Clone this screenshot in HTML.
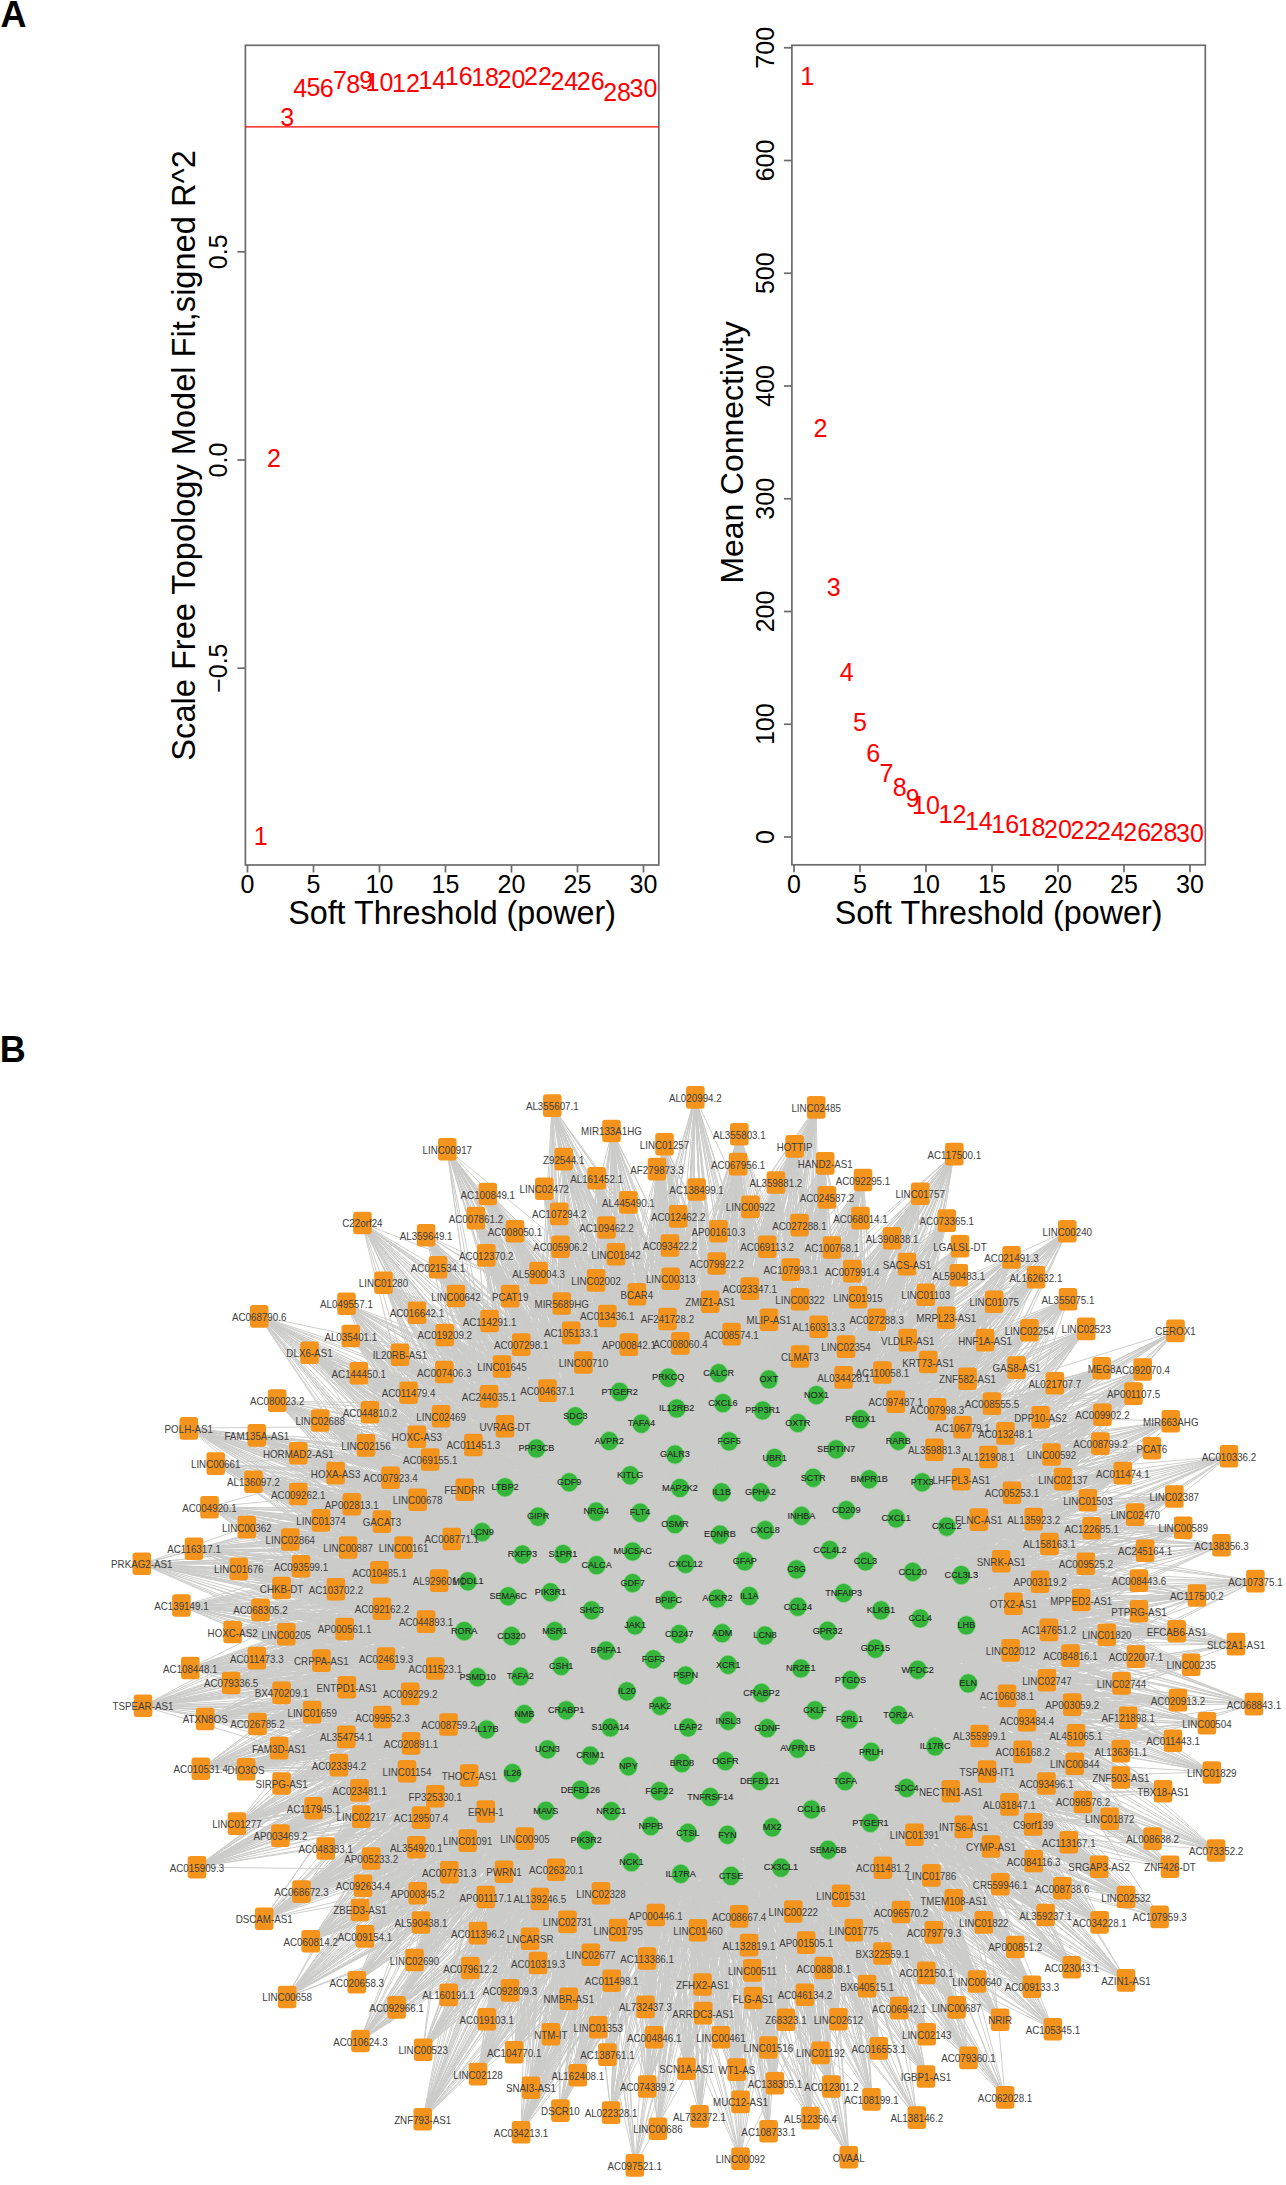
<!DOCTYPE html>
<html><head><meta charset="utf-8"><style>
html,body{margin:0;padding:0;background:#fff;}
body{width:1286px;height:2185px;overflow:hidden;position:relative;}
svg{position:absolute;left:0;top:0;font-family:"Liberation Sans",sans-serif;}
</style></head><body>
<svg width="1286" height="2185" viewBox="0 0 1286 2185">
<rect x="245.4" y="45.3" width="413.4" height="819.7" fill="none" stroke="#6b6b6b" stroke-width="1.7"/>
<line x1="247.5" y1="865.0" x2="247.5" y2="872.5" stroke="#6b6b6b" stroke-width="1.7"/>
<text x="247.5" y="893" font-size="25" text-anchor="middle">0</text>
<line x1="313.5" y1="865.0" x2="313.5" y2="872.5" stroke="#6b6b6b" stroke-width="1.7"/>
<text x="313.5" y="893" font-size="25" text-anchor="middle">5</text>
<line x1="379.5" y1="865.0" x2="379.5" y2="872.5" stroke="#6b6b6b" stroke-width="1.7"/>
<text x="379.5" y="893" font-size="25" text-anchor="middle">10</text>
<line x1="445.5" y1="865.0" x2="445.5" y2="872.5" stroke="#6b6b6b" stroke-width="1.7"/>
<text x="445.5" y="893" font-size="25" text-anchor="middle">15</text>
<line x1="511.5" y1="865.0" x2="511.5" y2="872.5" stroke="#6b6b6b" stroke-width="1.7"/>
<text x="511.5" y="893" font-size="25" text-anchor="middle">20</text>
<line x1="577.5" y1="865.0" x2="577.5" y2="872.5" stroke="#6b6b6b" stroke-width="1.7"/>
<text x="577.5" y="893" font-size="25" text-anchor="middle">25</text>
<line x1="643.5" y1="865.0" x2="643.5" y2="872.5" stroke="#6b6b6b" stroke-width="1.7"/>
<text x="643.5" y="893" font-size="25" text-anchor="middle">30</text>
<text x="452.1" y="924.2" font-size="32.3" text-anchor="middle">Soft Threshold (power)</text>
<rect x="791.9" y="45.3" width="413.4" height="819.5" fill="none" stroke="#6b6b6b" stroke-width="1.7"/>
<line x1="794.0" y1="864.8" x2="794.0" y2="872.3" stroke="#6b6b6b" stroke-width="1.7"/>
<text x="794.0" y="893" font-size="25" text-anchor="middle">0</text>
<line x1="860.0" y1="864.8" x2="860.0" y2="872.3" stroke="#6b6b6b" stroke-width="1.7"/>
<text x="860.0" y="893" font-size="25" text-anchor="middle">5</text>
<line x1="926.0" y1="864.8" x2="926.0" y2="872.3" stroke="#6b6b6b" stroke-width="1.7"/>
<text x="926.0" y="893" font-size="25" text-anchor="middle">10</text>
<line x1="992.0" y1="864.8" x2="992.0" y2="872.3" stroke="#6b6b6b" stroke-width="1.7"/>
<text x="992.0" y="893" font-size="25" text-anchor="middle">15</text>
<line x1="1058.0" y1="864.8" x2="1058.0" y2="872.3" stroke="#6b6b6b" stroke-width="1.7"/>
<text x="1058.0" y="893" font-size="25" text-anchor="middle">20</text>
<line x1="1124.0" y1="864.8" x2="1124.0" y2="872.3" stroke="#6b6b6b" stroke-width="1.7"/>
<text x="1124.0" y="893" font-size="25" text-anchor="middle">25</text>
<line x1="1190.0" y1="864.8" x2="1190.0" y2="872.3" stroke="#6b6b6b" stroke-width="1.7"/>
<text x="1190.0" y="893" font-size="25" text-anchor="middle">30</text>
<text x="998.6" y="924.2" font-size="32.3" text-anchor="middle">Soft Threshold (power)</text>
<line x1="237.4" y1="668.2" x2="245.4" y2="668.2" stroke="#6b6b6b" stroke-width="1.7"/>
<text transform="translate(227.2,668.2) rotate(-90)" font-size="25" text-anchor="middle">−0.5</text>
<line x1="237.4" y1="460.0" x2="245.4" y2="460.0" stroke="#6b6b6b" stroke-width="1.7"/>
<text transform="translate(227.2,460.0) rotate(-90)" font-size="25" text-anchor="middle">0.0</text>
<line x1="237.4" y1="251.8" x2="245.4" y2="251.8" stroke="#6b6b6b" stroke-width="1.7"/>
<text transform="translate(227.2,251.8) rotate(-90)" font-size="25" text-anchor="middle">0.5</text>
<text transform="translate(195.0,455.4) rotate(-90)" font-size="32.6" text-anchor="middle">Scale Free Topology Model Fit,signed R^2</text>
<line x1="245.4" y1="126.9" x2="658.8" y2="126.9" stroke="#ff0000" stroke-width="1.1"/>
<line x1="783.9" y1="837.00" x2="791.9" y2="837.00" stroke="#6b6b6b" stroke-width="1.7"/>
<text transform="translate(773.6,837.0) rotate(-90)" font-size="25" text-anchor="middle">0</text>
<line x1="783.9" y1="724.25" x2="791.9" y2="724.25" stroke="#6b6b6b" stroke-width="1.7"/>
<text transform="translate(773.6,724.2) rotate(-90)" font-size="25" text-anchor="middle">100</text>
<line x1="783.9" y1="611.50" x2="791.9" y2="611.50" stroke="#6b6b6b" stroke-width="1.7"/>
<text transform="translate(773.6,611.5) rotate(-90)" font-size="25" text-anchor="middle">200</text>
<line x1="783.9" y1="498.75" x2="791.9" y2="498.75" stroke="#6b6b6b" stroke-width="1.7"/>
<text transform="translate(773.6,498.8) rotate(-90)" font-size="25" text-anchor="middle">300</text>
<line x1="783.9" y1="386.00" x2="791.9" y2="386.00" stroke="#6b6b6b" stroke-width="1.7"/>
<text transform="translate(773.6,386.0) rotate(-90)" font-size="25" text-anchor="middle">400</text>
<line x1="783.9" y1="273.25" x2="791.9" y2="273.25" stroke="#6b6b6b" stroke-width="1.7"/>
<text transform="translate(773.6,273.2) rotate(-90)" font-size="25" text-anchor="middle">500</text>
<line x1="783.9" y1="160.50" x2="791.9" y2="160.50" stroke="#6b6b6b" stroke-width="1.7"/>
<text transform="translate(773.6,160.5) rotate(-90)" font-size="25" text-anchor="middle">600</text>
<line x1="783.9" y1="47.75" x2="791.9" y2="47.75" stroke="#6b6b6b" stroke-width="1.7"/>
<text transform="translate(773.6,47.8) rotate(-90)" font-size="25" text-anchor="middle">700</text>
<text transform="translate(742.6,452.4) rotate(-90)" font-size="31.9" text-anchor="middle">Mean Connectivity</text>
<text x="260.7" y="844.5" font-size="25" fill="#ff0000" text-anchor="middle">1</text>
<text x="807.2" y="84.5" font-size="25" fill="#ff0000" text-anchor="middle">1</text>
<text x="273.9" y="467.2" font-size="25" fill="#ff0000" text-anchor="middle">2</text>
<text x="820.4" y="437.1" font-size="25" fill="#ff0000" text-anchor="middle">2</text>
<text x="287.1" y="125.8" font-size="25" fill="#ff0000" text-anchor="middle">3</text>
<text x="833.6" y="596.3" font-size="25" fill="#ff0000" text-anchor="middle">3</text>
<text x="300.3" y="97.2" font-size="25" fill="#ff0000" text-anchor="middle">4</text>
<text x="846.8" y="681.4" font-size="25" fill="#ff0000" text-anchor="middle">4</text>
<text x="313.5" y="95.5" font-size="25" fill="#ff0000" text-anchor="middle">5</text>
<text x="860.0" y="730.7" font-size="25" fill="#ff0000" text-anchor="middle">5</text>
<text x="326.7" y="96.9" font-size="25" fill="#ff0000" text-anchor="middle">6</text>
<text x="873.2" y="761.9" font-size="25" fill="#ff0000" text-anchor="middle">6</text>
<text x="339.9" y="89.4" font-size="25" fill="#ff0000" text-anchor="middle">7</text>
<text x="886.4" y="782.3" font-size="25" fill="#ff0000" text-anchor="middle">7</text>
<text x="353.1" y="92.5" font-size="25" fill="#ff0000" text-anchor="middle">8</text>
<text x="899.6" y="796.3" font-size="25" fill="#ff0000" text-anchor="middle">8</text>
<text x="366.3" y="88.7" font-size="25" fill="#ff0000" text-anchor="middle">9</text>
<text x="912.8" y="807.1" font-size="25" fill="#ff0000" text-anchor="middle">9</text>
<text x="379.5" y="91.4" font-size="25" fill="#ff0000" text-anchor="middle">10</text>
<text x="926.0" y="814.4" font-size="25" fill="#ff0000" text-anchor="middle">10</text>
<text x="405.9" y="91.8" font-size="25" fill="#ff0000" text-anchor="middle">12</text>
<text x="952.4" y="823.4" font-size="25" fill="#ff0000" text-anchor="middle">12</text>
<text x="432.3" y="88.7" font-size="25" fill="#ff0000" text-anchor="middle">14</text>
<text x="978.8" y="829.6" font-size="25" fill="#ff0000" text-anchor="middle">14</text>
<text x="458.7" y="84.8" font-size="25" fill="#ff0000" text-anchor="middle">16</text>
<text x="1005.2" y="832.9" font-size="25" fill="#ff0000" text-anchor="middle">16</text>
<text x="485.1" y="85.7" font-size="25" fill="#ff0000" text-anchor="middle">18</text>
<text x="1031.6" y="836.3" font-size="25" fill="#ff0000" text-anchor="middle">18</text>
<text x="511.5" y="88.0" font-size="25" fill="#ff0000" text-anchor="middle">20</text>
<text x="1058.0" y="837.9" font-size="25" fill="#ff0000" text-anchor="middle">20</text>
<text x="537.9" y="85.2" font-size="25" fill="#ff0000" text-anchor="middle">22</text>
<text x="1084.4" y="838.9" font-size="25" fill="#ff0000" text-anchor="middle">22</text>
<text x="564.3" y="89.9" font-size="25" fill="#ff0000" text-anchor="middle">24</text>
<text x="1110.8" y="839.9" font-size="25" fill="#ff0000" text-anchor="middle">24</text>
<text x="590.7" y="89.9" font-size="25" fill="#ff0000" text-anchor="middle">26</text>
<text x="1137.2" y="840.9" font-size="25" fill="#ff0000" text-anchor="middle">26</text>
<text x="617.1" y="100.8" font-size="25" fill="#ff0000" text-anchor="middle">28</text>
<text x="1163.6" y="841.4" font-size="25" fill="#ff0000" text-anchor="middle">28</text>
<text x="643.5" y="96.6" font-size="25" fill="#ff0000" text-anchor="middle">30</text>
<text x="1190.0" y="841.9" font-size="25" fill="#ff0000" text-anchor="middle">30</text>
<text x="0.6" y="26.6" font-size="36" font-weight="bold">A</text>
<text x="-0.2" y="1062.4" font-size="36" font-weight="bold">B</text>
<path d="M362 1223L641 1424M362 1223L609 1441M362 1223L536 1448M362 1223L675 1454M362 1223L860 1419M362 1223L729 1441M362 1223L630 1475M362 1223L505 1487M362 1223L680 1488M362 1223L596 1512M362 1223L640 1513M362 1223L538 1517M362 1223L563 1554M362 1223L633 1552M362 1223L686 1564M362 1223L468 1581M362 1223L669 1600M362 1223L592 1610M362 1223L555 1631M362 1223L512 1636M362 1223L802 1516M362 1223L830 1550M362 1223L745 1561M362 1223L866 1561M362 1223L749 1596M362 1223L881 1610M362 1223L722 1633M362 1223L686 1676M362 1223L627 1691M362 1223L487 1730M362 1223L610 1728M362 1223L688 1728M362 1223L682 1763M362 1223L710 1797M362 1223L801 1668M362 1223L767 1728M362 1223L798 1749M362 1223L725 1761M362 1223L828 1850M362 1223L651 1826M552 1106L668 1378M552 1106L620 1392M552 1106L677 1408M552 1106L641 1424M552 1106L763 1410M552 1106L722 1492M552 1106L538 1517M552 1106L675 1524M552 1106L720 1535M552 1106L686 1564M552 1106L669 1600M552 1106L555 1631M552 1106L813 1478M552 1106L760 1492M552 1106L846 1510M552 1106L802 1516M552 1106L745 1561M552 1106L749 1596M552 1106L828 1631M552 1106L561 1666M552 1106L653 1659M552 1106L520 1676M552 1106L660 1706M552 1106L610 1728M552 1106L688 1728M552 1106L590 1756M552 1106L682 1763M552 1106L580 1790M552 1106L659 1791M552 1106L546 1811M552 1106L801 1668M552 1106L762 1693M552 1106L815 1710M552 1106L767 1728M552 1106L871 1752M552 1106L760 1781M552 1106L906 1788M552 1106L781 1868M552 1106L586 1840M552 1106L681 1874M695 1097L668 1378M695 1097L723 1403M695 1097L677 1408M695 1097L641 1424M695 1097L675 1454M695 1097L798 1423M695 1097L729 1441M695 1097L775 1458M695 1097L680 1488M695 1097L675 1524M695 1097L720 1535M695 1097L563 1554M695 1097L597 1565M695 1097L686 1564M695 1097L717 1598M695 1097L813 1478M695 1097L760 1492M695 1097L802 1516M695 1097L745 1561M695 1097L796 1569M695 1097L722 1633M695 1097L606 1651M695 1097L561 1666M695 1097L660 1706M695 1097L566 1710M695 1097L688 1728M695 1097L512 1773M695 1097L659 1791M695 1097L801 1668M695 1097L968 1683M695 1097L762 1693M695 1097L728 1721M695 1097L871 1752M695 1097L725 1761M695 1097L760 1781M695 1097L812 1810M695 1097L870 1823M695 1097L727 1835M695 1097L651 1826M695 1097L688 1833M612 1131L668 1378M612 1131L620 1392M612 1131L723 1403M612 1131L677 1408M612 1131L575 1416M612 1131L641 1424M612 1131L609 1441M612 1131L675 1454M612 1131L729 1441M612 1131L775 1458M612 1131L630 1475M612 1131L569 1482M612 1131L680 1488M612 1131L722 1492M612 1131L596 1512M612 1131L640 1513M612 1131L720 1535M612 1131L633 1552M612 1131L633 1583M612 1131L669 1600M612 1131L717 1598M612 1131L635 1625M612 1131L679 1634M612 1131L765 1530M612 1131L745 1561M612 1131L844 1593M612 1131L749 1596M612 1131L561 1666M612 1131L478 1677M612 1131L610 1728M612 1131L688 1728M612 1131L628 1766M612 1131L682 1763M612 1131L512 1773M612 1131L725 1761M612 1131L845 1781M612 1131L812 1810M612 1131L651 1826M612 1131L586 1840M612 1131L681 1874M664 1144L668 1378M664 1144L620 1392M664 1144L798 1423M664 1144L729 1441M664 1144L775 1458M664 1144L630 1475M664 1144L680 1488M664 1144L722 1492M664 1144L596 1512M664 1144L640 1513M664 1144L720 1535M664 1144L633 1552M664 1144L686 1564M664 1144L669 1600M664 1144L717 1598M664 1144L679 1634M664 1144L745 1561M664 1144L749 1596M664 1144L881 1610M664 1144L722 1633M664 1144L524 1714M664 1144L610 1728M664 1144L628 1766M664 1144L580 1790M664 1144L659 1791M664 1144L728 1665M664 1144L918 1670M664 1144L762 1693M664 1144L815 1710M664 1144L849 1720M664 1144L728 1721M664 1144L767 1728M664 1144L871 1752M664 1144L725 1761M664 1144L812 1810M664 1144L828 1850M664 1144L781 1868M664 1144L651 1826M664 1144L631 1862M664 1144L681 1874M447 1149L620 1392M447 1149L609 1441M447 1149L675 1454M447 1149L763 1410M447 1149L630 1475M447 1149L569 1482M447 1149L505 1487M447 1149L680 1488M447 1149L640 1513M447 1149L675 1524M447 1149L720 1535M447 1149L597 1565M447 1149L686 1564M447 1149L508 1596M447 1149L717 1598M447 1149L592 1610M447 1149L679 1634M447 1149L802 1516M447 1149L749 1596M447 1149L798 1607M447 1149L606 1651M447 1149L520 1676M447 1149L686 1676M447 1149L688 1728M447 1149L682 1763M447 1149L728 1665M447 1149L850 1680M447 1149L762 1693M447 1149L815 1710M447 1149L898 1715M447 1149L849 1720M447 1149L767 1728M447 1149L871 1752M447 1149L906 1788M447 1149L812 1810M447 1149L772 1827M447 1149L828 1850M447 1149L731 1876M447 1149L651 1826M447 1149L586 1840M564 1159L668 1378M564 1159L719 1373M564 1159L641 1424M564 1159L675 1454M564 1159L630 1475M564 1159L569 1482M564 1159L675 1524M564 1159L482 1532M564 1159L563 1554M564 1159L686 1564M564 1159L669 1600M564 1159L679 1634M564 1159L760 1492M564 1159L802 1516M564 1159L896 1518M564 1159L796 1569M564 1159L844 1593M564 1159L749 1596M564 1159L798 1607M564 1159L881 1610M564 1159L722 1633M564 1159L765 1636M564 1159L828 1631M564 1159L606 1651M564 1159L478 1677M564 1159L686 1676M564 1159L627 1691M564 1159L566 1710M564 1159L524 1714M564 1159L548 1749M564 1159L546 1811M564 1159L728 1665M564 1159L815 1710M564 1159L898 1715M564 1159L849 1720M564 1159L728 1721M564 1159L812 1810M564 1159L772 1827M564 1159L727 1835M564 1159L781 1868M657 1169L668 1378M657 1169L723 1403M657 1169L677 1408M657 1169L641 1424M657 1169L675 1454M657 1169L775 1458M657 1169L630 1475M657 1169L569 1482M657 1169L680 1488M657 1169L640 1513M657 1169L675 1524M657 1169L720 1535M657 1169L633 1583M657 1169L669 1600M657 1169L635 1625M657 1169L679 1634M657 1169L760 1492M657 1169L765 1530M657 1169L745 1561M657 1169L749 1596M657 1169L722 1633M657 1169L765 1636M657 1169L606 1651M657 1169L688 1728M657 1169L682 1763M657 1169L659 1791M657 1169L710 1797M657 1169L875 1649M657 1169L762 1693M657 1169L849 1720M657 1169L728 1721M657 1169L760 1781M657 1169L845 1781M657 1169L812 1810M657 1169L828 1850M657 1169L781 1868M657 1169L731 1876M657 1169L651 1826M657 1169L586 1840M657 1169L681 1874M597 1178L668 1378M597 1178L677 1408M597 1178L575 1416M597 1178L641 1424M597 1178L609 1441M597 1178L675 1454M597 1178L798 1423M597 1178L729 1441M597 1178L630 1475M597 1178L680 1488M597 1178L722 1492M597 1178L720 1535M597 1178L633 1552M597 1178L597 1565M597 1178L633 1583M597 1178L679 1634M597 1178L760 1492M597 1178L866 1561M597 1178L749 1596M597 1178L798 1607M597 1178L966 1625M597 1178L828 1631M597 1178L686 1676M597 1178L627 1691M597 1178L688 1728M597 1178L682 1763M597 1178L546 1811M597 1178L611 1811M597 1178L898 1715M597 1178L849 1720M597 1178L728 1721M597 1178L798 1749M597 1178L725 1761M597 1178L760 1781M597 1178L772 1827M597 1178L727 1835M597 1178L828 1850M597 1178L781 1868M597 1178L651 1826M597 1178L631 1862M544 1189L668 1378M544 1189L719 1373M544 1189L677 1408M544 1189L575 1416M544 1189L609 1441M544 1189L675 1454M544 1189L729 1441M544 1189L630 1475M544 1189L680 1488M544 1189L596 1512M544 1189L640 1513M544 1189L675 1524M544 1189L720 1535M544 1189L563 1554M544 1189L686 1564M544 1189L669 1600M544 1189L717 1598M544 1189L592 1610M544 1189L679 1634M544 1189L760 1492M544 1189L802 1516M544 1189L866 1561M544 1189L913 1572M544 1189L920 1618M544 1189L765 1636M544 1189L653 1659M544 1189L686 1676M544 1189L627 1691M544 1189L660 1706M544 1189L688 1728M544 1189L710 1797M544 1189L918 1670M544 1189L850 1680M544 1189L898 1715M544 1189L849 1720M544 1189L725 1761M544 1189L760 1781M544 1189L845 1781M544 1189L781 1868M544 1189L631 1862M697 1190L668 1378M697 1190L719 1373M697 1190L723 1403M697 1190L677 1408M697 1190L641 1424M697 1190L609 1441M697 1190L675 1454M697 1190L729 1441M697 1190L630 1475M697 1190L722 1492M697 1190L675 1524M697 1190L482 1532M697 1190L720 1535M697 1190L686 1564M697 1190L633 1583M697 1190L669 1600M697 1190L717 1598M697 1190L592 1610M697 1190L679 1634M697 1190L813 1478M697 1190L765 1530M697 1190L745 1561M697 1190L749 1596M697 1190L798 1607M697 1190L722 1633M697 1190L765 1636M697 1190L653 1659M697 1190L686 1676M697 1190L627 1691M697 1190L590 1756M697 1190L580 1790M697 1190L546 1811M697 1190L728 1665M697 1190L850 1680M697 1190L767 1728M697 1190L725 1761M697 1190L906 1788M697 1190L651 1826M697 1190L688 1833M697 1190L586 1840M488 1194L668 1378M488 1194L620 1392M488 1194L575 1416M488 1194L675 1454M488 1194L775 1458M488 1194L630 1475M488 1194L569 1482M488 1194L640 1513M488 1194L597 1565M488 1194L669 1600M488 1194L717 1598M488 1194L765 1530M488 1194L745 1561M488 1194L844 1593M488 1194L749 1596M488 1194L798 1607M488 1194L722 1633M488 1194L765 1636M488 1194L520 1676M488 1194L686 1676M488 1194L627 1691M488 1194L524 1714M488 1194L487 1730M488 1194L688 1728M488 1194L628 1766M488 1194L546 1811M488 1194L611 1811M488 1194L875 1649M488 1194L728 1665M488 1194L762 1693M488 1194L815 1710M488 1194L849 1720M488 1194L728 1721M488 1194L767 1728M488 1194L798 1749M488 1194L871 1752M488 1194L760 1781M488 1194L812 1810M488 1194L870 1823M488 1194L586 1840M628 1202L668 1378M628 1202L620 1392M628 1202L677 1408M628 1202L641 1424M628 1202L609 1441M628 1202L675 1454M628 1202L630 1475M628 1202L680 1488M628 1202L640 1513M628 1202L720 1535M628 1202L563 1554M628 1202L633 1552M628 1202L597 1565M628 1202L669 1600M628 1202L717 1598M628 1202L635 1625M628 1202L679 1634M628 1202L798 1607M628 1202L722 1633M628 1202L765 1636M628 1202L828 1631M628 1202L561 1666M628 1202L478 1677M628 1202L627 1691M628 1202L487 1730M628 1202L688 1728M628 1202L628 1766M628 1202L710 1797M628 1202L611 1811M628 1202L728 1665M628 1202L801 1668M628 1202L850 1680M628 1202L762 1693M628 1202L815 1710M628 1202L849 1720M628 1202L728 1721M628 1202L781 1868M628 1202L731 1876M628 1202L586 1840M628 1202L631 1862M559 1214L668 1378M559 1214L719 1373M559 1214L620 1392M559 1214L675 1454M559 1214L769 1379M559 1214L763 1410M559 1214L630 1475M559 1214L722 1492M559 1214L596 1512M559 1214L640 1513M559 1214L675 1524M559 1214L686 1564M559 1214L633 1583M559 1214L717 1598M559 1214L592 1610M559 1214L679 1634M559 1214L802 1516M559 1214L765 1530M559 1214L745 1561M559 1214L866 1561M559 1214L749 1596M559 1214L798 1607M559 1214L765 1636M559 1214L686 1676M559 1214L487 1730M559 1214L710 1797M559 1214L728 1665M559 1214L968 1683M559 1214L728 1721M559 1214L798 1749M559 1214L935 1746M559 1214L725 1761M559 1214L845 1781M559 1214L812 1810M559 1214L870 1823M559 1214L727 1835M559 1214L828 1850M559 1214L781 1868M559 1214L651 1826M559 1214L681 1874M678 1216L719 1373M678 1216L723 1403M678 1216L677 1408M678 1216L675 1454M678 1216L630 1475M678 1216L722 1492M678 1216L675 1524M678 1216L720 1535M678 1216L633 1552M678 1216L686 1564M678 1216L468 1581M678 1216L633 1583M678 1216L669 1600M678 1216L717 1598M678 1216L635 1625M678 1216L679 1634M678 1216L830 1550M678 1216L745 1561M678 1216L844 1593M678 1216L749 1596M678 1216L722 1633M678 1216L653 1659M678 1216L686 1676M678 1216L610 1728M678 1216L548 1749M678 1216L628 1766M678 1216L512 1773M678 1216L546 1811M678 1216L728 1665M678 1216L801 1668M678 1216L762 1693M678 1216L728 1721M678 1216L725 1761M678 1216L812 1810M678 1216L727 1835M678 1216L828 1850M678 1216L781 1868M678 1216L731 1876M678 1216L688 1833M678 1216L631 1862M476 1218L620 1392M476 1218L575 1416M476 1218L609 1441M476 1218L536 1448M476 1218L775 1458M476 1218L630 1475M476 1218L569 1482M476 1218L680 1488M476 1218L596 1512M476 1218L538 1517M476 1218L675 1524M476 1218L633 1552M476 1218L597 1565M476 1218L633 1583M476 1218L508 1596M476 1218L669 1600M476 1218L717 1598M476 1218L592 1610M476 1218L635 1625M476 1218L679 1634M476 1218L745 1561M476 1218L866 1561M476 1218L796 1569M476 1218L798 1607M476 1218L765 1636M476 1218L561 1666M476 1218L653 1659M476 1218L686 1676M476 1218L660 1706M476 1218L611 1811M476 1218L762 1693M476 1218L871 1752M476 1218L725 1761M476 1218L760 1781M476 1218L845 1781M476 1218L812 1810M476 1218L870 1823M476 1218L781 1868M476 1218L731 1876M476 1218L681 1874M606 1228L668 1378M606 1228L620 1392M606 1228L723 1403M606 1228L677 1408M606 1228L609 1441M606 1228L675 1454M606 1228L630 1475M606 1228L569 1482M606 1228L680 1488M606 1228L675 1524M606 1228L633 1552M606 1228L597 1565M606 1228L686 1564M606 1228L633 1583M606 1228L555 1631M606 1228L760 1492M606 1228L765 1530M606 1228L844 1593M606 1228L722 1633M606 1228L765 1636M606 1228L561 1666M606 1228L686 1676M606 1228L660 1706M606 1228L610 1728M606 1228L688 1728M606 1228L590 1756M606 1228L628 1766M606 1228L659 1791M606 1228L611 1811M606 1228L875 1649M606 1228L728 1665M606 1228L762 1693M606 1228L849 1720M606 1228L798 1749M606 1228L725 1761M606 1228L772 1827M606 1228L727 1835M606 1228L828 1850M606 1228L781 1868M606 1228L688 1833M515 1231L620 1392M515 1231L575 1416M515 1231L630 1475M515 1231L680 1488M515 1231L722 1492M515 1231L596 1512M515 1231L640 1513M515 1231L675 1524M515 1231L720 1535M515 1231L563 1554M515 1231L633 1552M515 1231L597 1565M515 1231L686 1564M515 1231L633 1583M515 1231L669 1600M515 1231L592 1610M515 1231L635 1625M515 1231L802 1516M515 1231L866 1561M515 1231L796 1569M515 1231L913 1572M515 1231L881 1610M515 1231L722 1633M515 1231L765 1636M515 1231L606 1651M515 1231L548 1749M515 1231L659 1791M515 1231L710 1797M515 1231L875 1649M515 1231L728 1665M515 1231L762 1693M515 1231L849 1720M515 1231L767 1728M515 1231L935 1746M515 1231L845 1781M515 1231L772 1827M515 1231L828 1850M515 1231L781 1868M515 1231L731 1876M515 1231L688 1833M426 1235L719 1373M426 1235L575 1416M426 1235L641 1424M426 1235L609 1441M426 1235L536 1448M426 1235L569 1482M426 1235L505 1487M426 1235L680 1488M426 1235L640 1513M426 1235L538 1517M426 1235L675 1524M426 1235L633 1552M426 1235L633 1583M426 1235L508 1596M426 1235L669 1600M426 1235L592 1610M426 1235L635 1625M426 1235L679 1634M426 1235L813 1478M426 1235L896 1518M426 1235L745 1561M426 1235L796 1569M426 1235L798 1607M426 1235L765 1636M426 1235L610 1728M426 1235L590 1756M426 1235L875 1649M426 1235L728 1665M426 1235L898 1715M426 1235L849 1720M426 1235L725 1761M426 1235L760 1781M426 1235L845 1781M426 1235L812 1810M426 1235L870 1823M426 1235L727 1835M426 1235L828 1850M426 1235L781 1868M426 1235L731 1876M426 1235L681 1874M718 1231L668 1378M718 1231L719 1373M718 1231L723 1403M718 1231L677 1408M718 1231L675 1454M718 1231L729 1441M718 1231L722 1492M718 1231L675 1524M718 1231L686 1564M718 1231L633 1583M718 1231L550 1592M718 1231L669 1600M718 1231L717 1598M718 1231L592 1610M718 1231L679 1634M718 1231L760 1492M718 1231L802 1516M718 1231L745 1561M718 1231L798 1607M718 1231L765 1636M718 1231L653 1659M718 1231L686 1676M718 1231L590 1756M718 1231L628 1766M718 1231L546 1811M718 1231L611 1811M718 1231L801 1668M718 1231L850 1680M718 1231L762 1693M718 1231L728 1721M718 1231L767 1728M718 1231L906 1788M718 1231L772 1827M718 1231L727 1835M718 1231L828 1850M718 1231L781 1868M718 1231L731 1876M718 1231L651 1826M718 1231L688 1833M718 1231L586 1840M670 1246L719 1373M670 1246L677 1408M670 1246L641 1424M670 1246L675 1454M670 1246L630 1475M670 1246L680 1488M670 1246L640 1513M670 1246L675 1524M670 1246L720 1535M670 1246L597 1565M670 1246L686 1564M670 1246L633 1583M670 1246L669 1600M670 1246L717 1598M670 1246L635 1625M670 1246L555 1631M670 1246L679 1634M670 1246L760 1492M670 1246L866 1561M670 1246L881 1610M670 1246L765 1636M670 1246L520 1676M670 1246L627 1691M670 1246L660 1706M670 1246L610 1728M670 1246L682 1763M670 1246L580 1790M670 1246L710 1797M670 1246L728 1665M670 1246L762 1693M670 1246L815 1710M670 1246L898 1715M670 1246L728 1721M670 1246L767 1728M670 1246L935 1746M670 1246L845 1781M670 1246L812 1810M670 1246L772 1827M670 1246L631 1862M670 1246L681 1874M560 1247L620 1392M560 1247L609 1441M560 1247L675 1454M560 1247L630 1475M560 1247L680 1488M560 1247L722 1492M560 1247L640 1513M560 1247L538 1517M560 1247L675 1524M560 1247L720 1535M560 1247L633 1552M560 1247L597 1565M560 1247L686 1564M560 1247L633 1583M560 1247L717 1598M560 1247L635 1625M560 1247L679 1634M560 1247L765 1530M560 1247L913 1572M560 1247L749 1596M560 1247L722 1633M560 1247L686 1676M560 1247L610 1728M560 1247L688 1728M560 1247L628 1766M560 1247L659 1791M560 1247L710 1797M560 1247L728 1665M560 1247L815 1710M560 1247L798 1749M560 1247L871 1752M560 1247L725 1761M560 1247L760 1781M560 1247L812 1810M560 1247L727 1835M560 1247L828 1850M560 1247L781 1868M560 1247L651 1826M560 1247L586 1840M560 1247L681 1874M616 1254L668 1378M616 1254L620 1392M616 1254L677 1408M616 1254L641 1424M616 1254L675 1454M616 1254L729 1441M616 1254L680 1488M616 1254L596 1512M616 1254L640 1513M616 1254L675 1524M616 1254L720 1535M616 1254L633 1552M616 1254L633 1583M616 1254L669 1600M616 1254L635 1625M616 1254L679 1634M616 1254L765 1530M616 1254L745 1561M616 1254L796 1569M616 1254L749 1596M616 1254L920 1618M616 1254L765 1636M616 1254L828 1631M616 1254L653 1659M616 1254L686 1676M616 1254L627 1691M616 1254L524 1714M616 1254L590 1756M616 1254L659 1791M616 1254L710 1797M616 1254L611 1811M616 1254L762 1693M616 1254L728 1721M616 1254L798 1749M616 1254L760 1781M616 1254L870 1823M616 1254L772 1827M616 1254L828 1850M616 1254L688 1833M616 1254L681 1874M486 1255L575 1416M486 1255L536 1448M486 1255L675 1454M486 1255L729 1441M486 1255L630 1475M486 1255L569 1482M486 1255L596 1512M486 1255L640 1513M486 1255L675 1524M486 1255L563 1554M486 1255L633 1552M486 1255L597 1565M486 1255L633 1583M486 1255L717 1598M486 1255L679 1634M486 1255L760 1492M486 1255L765 1530M486 1255L745 1561M486 1255L749 1596M486 1255L798 1607M486 1255L966 1625M486 1255L765 1636M486 1255L653 1659M486 1255L566 1710M486 1255L688 1728M486 1255L548 1749M486 1255L801 1668M486 1255L762 1693M486 1255L898 1715M486 1255L728 1721M486 1255L767 1728M486 1255L798 1749M486 1255L760 1781M486 1255L906 1788M486 1255L812 1810M486 1255L870 1823M486 1255L727 1835M486 1255L828 1850M486 1255L731 1876M486 1255L688 1833M438 1267L575 1416M438 1267L641 1424M438 1267L609 1441M438 1267L536 1448M438 1267L630 1475M438 1267L569 1482M438 1267L505 1487M438 1267L680 1488M438 1267L596 1512M438 1267L640 1513M438 1267L538 1517M438 1267L720 1535M438 1267L686 1564M438 1267L679 1634M438 1267L760 1492M438 1267L846 1510M438 1267L765 1530M438 1267L830 1550M438 1267L745 1561M438 1267L961 1575M438 1267L749 1596M438 1267L798 1607M438 1267L722 1633M438 1267L765 1636M438 1267L606 1651M438 1267L686 1676M438 1267L627 1691M438 1267L660 1706M438 1267L566 1710M438 1267L524 1714M438 1267L688 1728M438 1267L682 1763M438 1267L546 1811M438 1267L918 1670M438 1267L762 1693M438 1267L728 1721M438 1267L767 1728M438 1267L798 1749M438 1267L935 1746M438 1267L760 1781M539 1273L620 1392M539 1273L641 1424M539 1273L675 1454M539 1273L630 1475M539 1273L569 1482M539 1273L680 1488M539 1273L722 1492M539 1273L640 1513M539 1273L675 1524M539 1273L720 1535M539 1273L522 1554M539 1273L563 1554M539 1273L686 1564M539 1273L633 1583M539 1273L717 1598M539 1273L592 1610M539 1273L765 1530M539 1273L881 1610M539 1273L722 1633M539 1273L765 1636M539 1273L686 1676M539 1273L688 1728M539 1273L580 1790M539 1273L728 1665M539 1273L918 1670M539 1273L850 1680M539 1273L762 1693M539 1273L898 1715M539 1273L767 1728M539 1273L871 1752M539 1273L725 1761M539 1273L760 1781M539 1273L906 1788M539 1273L812 1810M539 1273L870 1823M539 1273L727 1835M539 1273L828 1850M539 1273L781 1868M539 1273L688 1833M539 1273L681 1874M717 1264L668 1378M717 1264L719 1373M717 1264L723 1403M717 1264L677 1408M717 1264L641 1424M717 1264L675 1454M717 1264L680 1488M717 1264L722 1492M717 1264L596 1512M717 1264L640 1513M717 1264L633 1552M717 1264L597 1565M717 1264L686 1564M717 1264L633 1583M717 1264L717 1598M717 1264L679 1634M717 1264L765 1530M717 1264L745 1561M717 1264L796 1569M717 1264L749 1596M717 1264L828 1631M717 1264L478 1677M717 1264L686 1676M717 1264L627 1691M717 1264L660 1706M717 1264L688 1728M717 1264L548 1749M717 1264L628 1766M717 1264L682 1763M717 1264L710 1797M717 1264L611 1811M717 1264L728 1665M717 1264L728 1721M717 1264L798 1749M717 1264L812 1810M717 1264L772 1827M717 1264L727 1835M717 1264L688 1833M717 1264L631 1862M717 1264L681 1874M816 1107L719 1373M816 1107L620 1392M816 1107L677 1408M816 1107L609 1441M816 1107L769 1379M816 1107L763 1410M816 1107L729 1441M816 1107L775 1458M816 1107L630 1475M816 1107L722 1492M816 1107L538 1517M816 1107L675 1524M816 1107L720 1535M816 1107L563 1554M816 1107L686 1564M816 1107L555 1631M816 1107L813 1478M816 1107L760 1492M816 1107L765 1530M816 1107L745 1561M816 1107L798 1607M816 1107L722 1633M816 1107L828 1631M816 1107L606 1651M816 1107L561 1666M816 1107L653 1659M816 1107L627 1691M816 1107L566 1710M816 1107L610 1728M816 1107L688 1728M816 1107L590 1756M816 1107L628 1766M816 1107L546 1811M816 1107L728 1665M816 1107L762 1693M816 1107L725 1761M816 1107L772 1827M816 1107L781 1868M816 1107L651 1826M816 1107L688 1833M739 1134L668 1378M739 1134L719 1373M739 1134L723 1403M739 1134L677 1408M739 1134L816 1395M739 1134L836 1449M739 1134L680 1488M739 1134L722 1492M739 1134L675 1524M739 1134L720 1535M739 1134L633 1552M739 1134L597 1565M739 1134L686 1564M739 1134L633 1583M739 1134L669 1600M739 1134L592 1610M739 1134L679 1634M739 1134L802 1516M739 1134L765 1530M739 1134L830 1550M739 1134L920 1618M739 1134L765 1636M739 1134L660 1706M739 1134L548 1749M739 1134L590 1756M739 1134L682 1763M739 1134L659 1791M739 1134L710 1797M739 1134L611 1811M739 1134L728 1665M739 1134L801 1668M739 1134L918 1670M739 1134L815 1710M739 1134L849 1720M739 1134L798 1749M739 1134L725 1761M739 1134L906 1788M739 1134L772 1827M739 1134L651 1826M739 1134L586 1840M795 1146L719 1373M795 1146L723 1403M795 1146L609 1441M795 1146L675 1454M795 1146L769 1379M795 1146L816 1395M795 1146L763 1410M795 1146L860 1419M795 1146L729 1441M795 1146L775 1458M795 1146L596 1512M795 1146L720 1535M795 1146L633 1583M795 1146L717 1598M795 1146L679 1634M795 1146L760 1492M795 1146L765 1530M795 1146L798 1607M795 1146L653 1659M795 1146L520 1676M795 1146L627 1691M795 1146L566 1710M795 1146L524 1714M795 1146L688 1728M795 1146L548 1749M795 1146L628 1766M795 1146L512 1773M795 1146L580 1790M795 1146L546 1811M795 1146L815 1710M795 1146L898 1715M795 1146L849 1720M795 1146L728 1721M795 1146L871 1752M795 1146L725 1761M795 1146L812 1810M795 1146L772 1827M795 1146L727 1835M795 1146L781 1868M795 1146L631 1862M954 1154L677 1408M954 1154L675 1454M954 1154L769 1379M954 1154L798 1423M954 1154L860 1419M954 1154L729 1441M954 1154L898 1441M954 1154L836 1449M954 1154L722 1492M954 1154L538 1517M954 1154L675 1524M954 1154L633 1552M954 1154L550 1592M954 1154L669 1600M954 1154L592 1610M954 1154L512 1636M954 1154L679 1634M954 1154L813 1478M954 1154L760 1492M954 1154L896 1518M954 1154L765 1530M954 1154L745 1561M954 1154L749 1596M954 1154L765 1636M954 1154L653 1659M954 1154L520 1676M954 1154L686 1676M954 1154L548 1749M954 1154L590 1756M954 1154L682 1763M954 1154L710 1797M954 1154L611 1811M954 1154L728 1665M954 1154L850 1680M954 1154L815 1710M954 1154L849 1720M954 1154L798 1749M954 1154L760 1781M954 1154L781 1868M954 1154L688 1833M738 1164L668 1378M738 1164L719 1373M738 1164L723 1403M738 1164L675 1454M738 1164L769 1379M738 1164L763 1410M738 1164L680 1488M738 1164L722 1492M738 1164L538 1517M738 1164L720 1535M738 1164L633 1552M738 1164L597 1565M738 1164L686 1564M738 1164L669 1600M738 1164L592 1610M738 1164L679 1634M738 1164L760 1492M738 1164L802 1516M738 1164L745 1561M738 1164L749 1596M738 1164L798 1607M738 1164L722 1633M738 1164L765 1636M738 1164L561 1666M738 1164L686 1676M738 1164L487 1730M738 1164L688 1728M738 1164L512 1773M738 1164L659 1791M738 1164L728 1665M738 1164L815 1710M738 1164L898 1715M738 1164L849 1720M738 1164L798 1749M738 1164L812 1810M738 1164L870 1823M738 1164L772 1827M738 1164L727 1835M738 1164L731 1876M738 1164L586 1840M825 1163L769 1379M825 1163L816 1395M825 1163L763 1410M825 1163L729 1441M825 1163L898 1441M825 1163L836 1449M825 1163L775 1458M825 1163L630 1475M825 1163L722 1492M825 1163L596 1512M825 1163L720 1535M825 1163L686 1564M825 1163L633 1583M825 1163L669 1600M825 1163L592 1610M825 1163L679 1634M825 1163L813 1478M825 1163L896 1518M825 1163L830 1550M825 1163L745 1561M825 1163L796 1569M825 1163L798 1607M825 1163L765 1636M825 1163L828 1631M825 1163L627 1691M825 1163L487 1730M825 1163L628 1766M825 1163L512 1773M825 1163L580 1790M825 1163L659 1791M825 1163L710 1797M825 1163L546 1811M825 1163L728 1665M825 1163L762 1693M825 1163L767 1728M825 1163L871 1752M825 1163L812 1810M825 1163L688 1833M825 1163L631 1862M825 1163L681 1874M863 1180L675 1454M863 1180L816 1395M863 1180L798 1423M863 1180L836 1449M863 1180L722 1492M863 1180L538 1517M863 1180L675 1524M863 1180L720 1535M863 1180L633 1583M863 1180L555 1631M863 1180L679 1634M863 1180L813 1478M863 1180L869 1479M863 1180L760 1492M863 1180L846 1510M863 1180L802 1516M863 1180L896 1518M863 1180L765 1530M863 1180L745 1561M863 1180L749 1596M863 1180L561 1666M863 1180L653 1659M863 1180L686 1676M863 1180L627 1691M863 1180L660 1706M863 1180L566 1710M863 1180L524 1714M863 1180L688 1728M863 1180L590 1756M863 1180L628 1766M863 1180L580 1790M863 1180L659 1791M863 1180L710 1797M863 1180L546 1811M863 1180L728 1665M863 1180L850 1680M863 1180L898 1715M863 1180L725 1761M863 1180L845 1781M863 1180L727 1835M776 1182L719 1373M776 1182L723 1403M776 1182L677 1408M776 1182L816 1395M776 1182L763 1410M776 1182L836 1449M776 1182L775 1458M776 1182L722 1492M776 1182L720 1535M776 1182L686 1564M776 1182L669 1600M776 1182L717 1598M776 1182L635 1625M776 1182L813 1478M776 1182L760 1492M776 1182L802 1516M776 1182L765 1530M776 1182L830 1550M776 1182L745 1561M776 1182L796 1569M776 1182L749 1596M776 1182L722 1633M776 1182L765 1636M776 1182L653 1659M776 1182L660 1706M776 1182L610 1728M776 1182L688 1728M776 1182L590 1756M776 1182L682 1763M776 1182L659 1791M776 1182L611 1811M776 1182L728 1665M776 1182L850 1680M776 1182L762 1693M776 1182L767 1728M776 1182L781 1868M776 1182L731 1876M776 1182L651 1826M776 1182L586 1840M776 1182L681 1874M827 1197L719 1373M827 1197L763 1410M827 1197L798 1423M827 1197L775 1458M827 1197L680 1488M827 1197L722 1492M827 1197L640 1513M827 1197L720 1535M827 1197L522 1554M827 1197L633 1552M827 1197L686 1564M827 1197L633 1583M827 1197L508 1596M827 1197L717 1598M827 1197L635 1625M827 1197L512 1636M827 1197L679 1634M827 1197L813 1478M827 1197L760 1492M827 1197L802 1516M827 1197L745 1561M827 1197L866 1561M827 1197L796 1569M827 1197L722 1633M827 1197L606 1651M827 1197L561 1666M827 1197L653 1659M827 1197L566 1710M827 1197L610 1728M827 1197L580 1790M827 1197L659 1791M827 1197L728 1665M827 1197L801 1668M827 1197L762 1693M827 1197L815 1710M827 1197L728 1721M827 1197L871 1752M827 1197L725 1761M827 1197L731 1876M827 1197L586 1840M920 1194L723 1403M920 1194L677 1408M920 1194L816 1395M920 1194L729 1441M920 1194L775 1458M920 1194L680 1488M920 1194L722 1492M920 1194L675 1524M920 1194L720 1535M920 1194L686 1564M920 1194L633 1583M920 1194L512 1636M920 1194L679 1634M920 1194L802 1516M920 1194L896 1518M920 1194L796 1569M920 1194L828 1631M920 1194L653 1659M920 1194L686 1676M920 1194L627 1691M920 1194L660 1706M920 1194L566 1710M920 1194L487 1730M920 1194L548 1749M920 1194L682 1763M920 1194L512 1773M920 1194L580 1790M920 1194L659 1791M920 1194L710 1797M920 1194L875 1649M920 1194L728 1665M920 1194L850 1680M920 1194L762 1693M920 1194L767 1728M920 1194L798 1749M920 1194L871 1752M920 1194L725 1761M920 1194L760 1781M920 1194L727 1835M920 1194L651 1826M750 1207L719 1373M750 1207L723 1403M750 1207L641 1424M750 1207L675 1454M750 1207L816 1395M750 1207L729 1441M750 1207L680 1488M750 1207L675 1524M750 1207L720 1535M750 1207L669 1600M750 1207L717 1598M750 1207L555 1631M750 1207L760 1492M750 1207L745 1561M750 1207L796 1569M750 1207L844 1593M750 1207L798 1607M750 1207L881 1610M750 1207L722 1633M750 1207L765 1636M750 1207L561 1666M750 1207L653 1659M750 1207L478 1677M750 1207L660 1706M750 1207L566 1710M750 1207L610 1728M750 1207L688 1728M750 1207L628 1766M750 1207L682 1763M750 1207L659 1791M750 1207L611 1811M750 1207L728 1665M750 1207L871 1752M750 1207L725 1761M750 1207L760 1781M750 1207L812 1810M750 1207L727 1835M750 1207L651 1826M750 1207L586 1840M750 1207L681 1874M860 1218L620 1392M860 1218L769 1379M860 1218L816 1395M860 1218L680 1488M860 1218L538 1517M860 1218L522 1554M860 1218L633 1552M860 1218L686 1564M860 1218L633 1583M860 1218L669 1600M860 1218L717 1598M860 1218L813 1478M860 1218L760 1492M860 1218L802 1516M860 1218L749 1596M860 1218L798 1607M860 1218L722 1633M860 1218L606 1651M860 1218L561 1666M860 1218L653 1659M860 1218L627 1691M860 1218L660 1706M860 1218L566 1710M860 1218L524 1714M860 1218L487 1730M860 1218L610 1728M860 1218L688 1728M860 1218L590 1756M860 1218L512 1773M860 1218L580 1790M860 1218L710 1797M860 1218L875 1649M860 1218L728 1665M860 1218L762 1693M860 1218L815 1710M860 1218L898 1715M860 1218L906 1788M860 1218L727 1835M860 1218L781 1868M860 1218L631 1862M947 1221L641 1424M947 1221L816 1395M947 1221L763 1410M947 1221L798 1423M947 1221L729 1441M947 1221L836 1449M947 1221L775 1458M947 1221L596 1512M947 1221L720 1535M947 1221L686 1564M947 1221L550 1592M947 1221L592 1610M947 1221L464 1631M947 1221L813 1478M947 1221L869 1479M947 1221L760 1492M947 1221L802 1516M947 1221L765 1530M947 1221L830 1550M947 1221L745 1561M947 1221L796 1569M947 1221L722 1633M947 1221L606 1651M947 1221L561 1666M947 1221L686 1676M947 1221L627 1691M947 1221L660 1706M947 1221L566 1710M947 1221L524 1714M947 1221L548 1749M947 1221L580 1790M947 1221L710 1797M947 1221L546 1811M947 1221L801 1668M947 1221L762 1693M947 1221L812 1810M947 1221L727 1835M947 1221L731 1876M947 1221L651 1826M947 1221L631 1862M800 1225L719 1373M800 1225L723 1403M800 1225L609 1441M800 1225L675 1454M800 1225L769 1379M800 1225L816 1395M800 1225L763 1410M800 1225L798 1423M800 1225L729 1441M800 1225L836 1449M800 1225L775 1458M800 1225L680 1488M800 1225L722 1492M800 1225L720 1535M800 1225L686 1564M800 1225L508 1596M800 1225L717 1598M800 1225L760 1492M800 1225L745 1561M800 1225L796 1569M800 1225L722 1633M800 1225L686 1676M800 1225L627 1691M800 1225L660 1706M800 1225L688 1728M800 1225L590 1756M800 1225L628 1766M800 1225L682 1763M800 1225L580 1790M800 1225L659 1791M800 1225L710 1797M800 1225L611 1811M800 1225L728 1665M800 1225L728 1721M800 1225L871 1752M800 1225L725 1761M800 1225L845 1781M800 1225L651 1826M800 1225L688 1833M800 1225L586 1840M892 1238L719 1373M892 1238L816 1395M892 1238L763 1410M892 1238L775 1458M892 1238L720 1535M892 1238L563 1554M892 1238L633 1583M892 1238L669 1600M892 1238L592 1610M892 1238L555 1631M892 1238L813 1478M892 1238L760 1492M892 1238L846 1510M892 1238L802 1516M892 1238L765 1530M892 1238L745 1561M892 1238L765 1636M892 1238L828 1631M892 1238L606 1651M892 1238L561 1666M892 1238L653 1659M892 1238L627 1691M892 1238L566 1710M892 1238L610 1728M892 1238L688 1728M892 1238L590 1756M892 1238L710 1797M892 1238L546 1811M892 1238L611 1811M892 1238L728 1665M892 1238L801 1668M892 1238L918 1670M892 1238L762 1693M892 1238L815 1710M892 1238L798 1749M892 1238L725 1761M892 1238L760 1781M892 1238L651 1826M892 1238L586 1840M892 1238L631 1862M767 1247L769 1379M767 1247L763 1410M767 1247L775 1458M767 1247L630 1475M767 1247L680 1488M767 1247L722 1492M767 1247L640 1513M767 1247L720 1535M767 1247L633 1552M767 1247L686 1564M767 1247L633 1583M767 1247L635 1625M767 1247L813 1478M767 1247L745 1561M767 1247L866 1561M767 1247L796 1569M767 1247L798 1607M767 1247L828 1631M767 1247L561 1666M767 1247L653 1659M767 1247L478 1677M767 1247L686 1676M767 1247L627 1691M767 1247L688 1728M767 1247L590 1756M767 1247L682 1763M767 1247L710 1797M767 1247L546 1811M767 1247L611 1811M767 1247L728 1665M767 1247L850 1680M767 1247L762 1693M767 1247L728 1721M767 1247L767 1728M767 1247L871 1752M767 1247L760 1781M767 1247L772 1827M767 1247L727 1835M767 1247L781 1868M767 1247L651 1826M832 1248L675 1454M832 1248L769 1379M832 1248L816 1395M832 1248L763 1410M832 1248L798 1423M832 1248L729 1441M832 1248L775 1458M832 1248L680 1488M832 1248L722 1492M832 1248L675 1524M832 1248L720 1535M832 1248L597 1565M832 1248L686 1564M832 1248L669 1600M832 1248L813 1478M832 1248L760 1492M832 1248L802 1516M832 1248L745 1561M832 1248L749 1596M832 1248L722 1633M832 1248L765 1636M832 1248L606 1651M832 1248L653 1659M832 1248L660 1706M832 1248L566 1710M832 1248L610 1728M832 1248L688 1728M832 1248L590 1756M832 1248L546 1811M832 1248L728 1665M832 1248L801 1668M832 1248L815 1710M832 1248L725 1761M832 1248L760 1781M832 1248L812 1810M832 1248L781 1868M832 1248L651 1826M832 1248L688 1833M832 1248L631 1862M832 1248L681 1874M960 1246L763 1410M960 1246L798 1423M960 1246L860 1419M960 1246L836 1449M960 1246L775 1458M960 1246L596 1512M960 1246L640 1513M960 1246L675 1524M960 1246L720 1535M960 1246L563 1554M960 1246L597 1565M960 1246L550 1592M960 1246L669 1600M960 1246L717 1598M960 1246L635 1625M960 1246L679 1634M960 1246L813 1478M960 1246L869 1479M960 1246L846 1510M960 1246L830 1550M960 1246L749 1596M960 1246L765 1636M960 1246L828 1631M960 1246L520 1676M960 1246L686 1676M960 1246L627 1691M960 1246L566 1710M960 1246L610 1728M960 1246L590 1756M960 1246L628 1766M960 1246L512 1773M960 1246L611 1811M960 1246L849 1720M960 1246L728 1721M960 1246L725 1761M960 1246L731 1876M960 1246L651 1826M960 1246L688 1833M960 1246L586 1840M960 1246L681 1874M1012 1257L769 1379M1012 1257L798 1423M1012 1257L860 1419M1012 1257L836 1449M1012 1257L680 1488M1012 1257L722 1492M1012 1257L675 1524M1012 1257L522 1554M1012 1257L563 1554M1012 1257L633 1552M1012 1257L597 1565M1012 1257L508 1596M1012 1257L669 1600M1012 1257L464 1631M1012 1257L555 1631M1012 1257L813 1478M1012 1257L869 1479M1012 1257L922 1482M1012 1257L802 1516M1012 1257L765 1530M1012 1257L830 1550M1012 1257L796 1569M1012 1257L798 1607M1012 1257L765 1636M1012 1257L653 1659M1012 1257L520 1676M1012 1257L660 1706M1012 1257L610 1728M1012 1257L548 1749M1012 1257L546 1811M1012 1257L611 1811M1012 1257L728 1665M1012 1257L801 1668M1012 1257L815 1710M1012 1257L728 1721M1012 1257L760 1781M1012 1257L845 1781M1012 1257L812 1810M1012 1257L772 1827M1012 1257L631 1862M907 1264L723 1403M907 1264L816 1395M907 1264L798 1423M907 1264L860 1419M907 1264L836 1449M907 1264L775 1458M907 1264L722 1492M907 1264L640 1513M907 1264L720 1535M907 1264L633 1552M907 1264L686 1564M907 1264L633 1583M907 1264L669 1600M907 1264L717 1598M907 1264L592 1610M907 1264L635 1625M907 1264L555 1631M907 1264L813 1478M907 1264L869 1479M907 1264L802 1516M907 1264L765 1530M907 1264L749 1596M907 1264L722 1633M907 1264L653 1659M907 1264L520 1676M907 1264L660 1706M907 1264L487 1730M907 1264L610 1728M907 1264L628 1766M907 1264L682 1763M907 1264L659 1791M907 1264L546 1811M907 1264L728 1665M907 1264L767 1728M907 1264L725 1761M907 1264L760 1781M907 1264L845 1781M907 1264L688 1833M907 1264L631 1862M907 1264L681 1874M791 1270L719 1373M791 1270L723 1403M791 1270L769 1379M791 1270L816 1395M791 1270L729 1441M791 1270L680 1488M791 1270L722 1492M791 1270L596 1512M791 1270L675 1524M791 1270L686 1564M791 1270L669 1600M791 1270L592 1610M791 1270L679 1634M791 1270L813 1478M791 1270L760 1492M791 1270L765 1530M791 1270L745 1561M791 1270L749 1596M791 1270L722 1633M791 1270L765 1636M791 1270L686 1676M791 1270L627 1691M791 1270L660 1706M791 1270L610 1728M791 1270L688 1728M791 1270L580 1790M791 1270L659 1791M791 1270L710 1797M791 1270L611 1811M791 1270L728 1665M791 1270L762 1693M791 1270L728 1721M791 1270L767 1728M791 1270L725 1761M791 1270L760 1781M791 1270L812 1810M791 1270L870 1823M791 1270L772 1827M791 1270L731 1876M791 1270L651 1826M852 1271L769 1379M852 1271L816 1395M852 1271L763 1410M852 1271L798 1423M852 1271L836 1449M852 1271L775 1458M852 1271L722 1492M852 1271L720 1535M852 1271L633 1552M852 1271L686 1564M852 1271L508 1596M852 1271L669 1600M852 1271L717 1598M852 1271L592 1610M852 1271L635 1625M852 1271L555 1631M852 1271L679 1634M852 1271L802 1516M852 1271L749 1596M852 1271L798 1607M852 1271L765 1636M852 1271L606 1651M852 1271L561 1666M852 1271L478 1677M852 1271L686 1676M852 1271L627 1691M852 1271L487 1730M852 1271L610 1728M852 1271L688 1728M852 1271L590 1756M852 1271L512 1773M852 1271L659 1791M852 1271L710 1797M852 1271L801 1668M852 1271L918 1670M852 1271L798 1749M852 1271L725 1761M852 1271L812 1810M852 1271L688 1833M852 1271L586 1840M959 1275L816 1395M959 1275L798 1423M959 1275L860 1419M959 1275L898 1441M959 1275L722 1492M959 1275L468 1581M959 1275L633 1583M959 1275L555 1631M959 1275L512 1636M959 1275L679 1634M959 1275L760 1492M959 1275L846 1510M959 1275L802 1516M959 1275L765 1530M959 1275L830 1550M959 1275L745 1561M959 1275L749 1596M959 1275L798 1607M959 1275L722 1633M959 1275L765 1636M959 1275L686 1676M959 1275L627 1691M959 1275L628 1766M959 1275L682 1763M959 1275L512 1773M959 1275L580 1790M959 1275L659 1791M959 1275L611 1811M959 1275L875 1649M959 1275L728 1665M959 1275L850 1680M959 1275L762 1693M959 1275L798 1749M959 1275L725 1761M959 1275L760 1781M959 1275L727 1835M959 1275L781 1868M959 1275L651 1826M959 1275L586 1840M959 1275L631 1862M1067 1231L860 1419M1067 1231L836 1449M1067 1231L775 1458M1067 1231L505 1487M1067 1231L680 1488M1067 1231L686 1564M1067 1231L633 1583M1067 1231L550 1592M1067 1231L717 1598M1067 1231L592 1610M1067 1231L635 1625M1067 1231L464 1631M1067 1231L512 1636M1067 1231L679 1634M1067 1231L846 1510M1067 1231L802 1516M1067 1231L830 1550M1067 1231L866 1561M1067 1231L796 1569M1067 1231L749 1596M1067 1231L881 1610M1067 1231L828 1631M1067 1231L606 1651M1067 1231L653 1659M1067 1231L520 1676M1067 1231L686 1676M1067 1231L627 1691M1067 1231L660 1706M1067 1231L487 1730M1067 1231L850 1680M1067 1231L725 1761M1067 1231L781 1868M1067 1231L651 1826M1036 1277L769 1379M1036 1277L860 1419M1036 1277L729 1441M1036 1277L836 1449M1036 1277L680 1488M1036 1277L675 1524M1036 1277L686 1564M1036 1277L468 1581M1036 1277L633 1583M1036 1277L508 1596M1036 1277L669 1600M1036 1277L592 1610M1036 1277L635 1625M1036 1277L679 1634M1036 1277L869 1479M1036 1277L922 1482M1036 1277L760 1492M1036 1277L846 1510M1036 1277L802 1516M1036 1277L765 1530M1036 1277L830 1550M1036 1277L745 1561M1036 1277L796 1569M1036 1277L913 1572M1036 1277L749 1596M1036 1277L798 1607M1036 1277L828 1631M1036 1277L561 1666M1036 1277L653 1659M1036 1277L686 1676M1036 1277L524 1714M1036 1277L487 1730M1036 1277L548 1749M1036 1277L682 1763M1036 1277L512 1773M1036 1277L659 1791M1036 1277L762 1693M1036 1277L728 1721M1036 1277L651 1826M1036 1277L631 1862M384 1283L620 1392M384 1283L630 1475M384 1283L569 1482M384 1283L722 1492M384 1283L482 1532M384 1283L522 1554M384 1283L563 1554M384 1283L686 1564M384 1283L633 1583M384 1283L508 1596M384 1283L717 1598M384 1283L592 1610M384 1283L635 1625M384 1283L555 1631M384 1283L846 1510M384 1283L802 1516M384 1283L765 1530M384 1283L844 1593M384 1283L749 1596M384 1283L798 1607M384 1283L722 1633M384 1283L765 1636M384 1283L606 1651M384 1283L561 1666M384 1283L688 1728M384 1283L628 1766M384 1283L611 1811M384 1283L728 1665M384 1283L801 1668M384 1283L850 1680M384 1283L968 1683M384 1283L762 1693M384 1283L898 1715M384 1283L849 1720M384 1283L798 1749M384 1283L935 1746M384 1283L871 1752M384 1283L725 1761M384 1283L812 1810M384 1283L781 1868M346 1304L575 1416M346 1304L675 1454M346 1304L569 1482M346 1304L505 1487M346 1304L482 1532M346 1304L597 1565M346 1304L633 1583M346 1304L508 1596M346 1304L550 1592M346 1304L717 1598M346 1304L592 1610M346 1304L555 1631M346 1304L679 1634M346 1304L813 1478M346 1304L765 1530M346 1304L796 1569M346 1304L913 1572M346 1304L961 1575M346 1304L844 1593M346 1304L749 1596M346 1304L881 1610M346 1304L722 1633M346 1304L828 1631M346 1304L606 1651M346 1304L653 1659M346 1304L627 1691M346 1304L610 1728M346 1304L688 1728M346 1304L801 1668M346 1304L849 1720M346 1304L767 1728M346 1304L935 1746M346 1304L760 1781M346 1304L845 1781M346 1304L906 1788M346 1304L772 1827M346 1304L727 1835M346 1304L781 1868M346 1304L586 1840M346 1304L681 1874M259 1316L620 1392M259 1316L536 1448M259 1316L505 1487M259 1316L538 1517M259 1316L675 1524M259 1316L720 1535M259 1316L522 1554M259 1316L563 1554M259 1316L686 1564M259 1316L468 1581M259 1316L508 1596M259 1316L550 1592M259 1316L669 1600M259 1316L592 1610M259 1316L679 1634M259 1316L846 1510M259 1316L913 1572M259 1316L961 1575M259 1316L749 1596M259 1316L798 1607M259 1316L966 1625M259 1316L765 1636M259 1316L828 1631M259 1316L561 1666M259 1316L520 1676M259 1316L686 1676M259 1316L524 1714M259 1316L610 1728M259 1316L688 1728M259 1316L628 1766M259 1316L918 1670M259 1316L968 1683M259 1316L815 1710M259 1316L898 1715M259 1316L767 1728M259 1316L935 1746M259 1316L871 1752M259 1316L781 1868M259 1316L688 1833M259 1316L631 1862M417 1313L575 1416M417 1313L536 1448M417 1313L729 1441M417 1313L630 1475M417 1313L569 1482M417 1313L505 1487M417 1313L680 1488M417 1313L596 1512M417 1313L640 1513M417 1313L720 1535M417 1313L633 1552M417 1313L508 1596M417 1313L669 1600M417 1313L592 1610M417 1313L635 1625M417 1313L555 1631M417 1313L679 1634M417 1313L745 1561M417 1313L749 1596M417 1313L966 1625M417 1313L722 1633M417 1313L828 1631M417 1313L561 1666M417 1313L566 1710M417 1313L688 1728M417 1313L682 1763M417 1313L710 1797M417 1313L918 1670M417 1313L815 1710M417 1313L898 1715M417 1313L728 1721M417 1313L767 1728M417 1313L798 1749M417 1313L725 1761M417 1313L845 1781M417 1313L812 1810M417 1313L870 1823M417 1313L772 1827M417 1313L781 1868M417 1313L681 1874M351 1336L536 1448M351 1336L775 1458M351 1336L569 1482M351 1336L505 1487M351 1336L722 1492M351 1336L640 1513M351 1336L538 1517M351 1336L675 1524M351 1336L482 1532M351 1336L720 1535M351 1336L522 1554M351 1336L563 1554M351 1336L597 1565M351 1336L686 1564M351 1336L633 1583M351 1336L550 1592M351 1336L669 1600M351 1336L592 1610M351 1336L635 1625M351 1336L555 1631M351 1336L679 1634M351 1336L765 1530M351 1336L830 1550M351 1336L745 1561M351 1336L961 1575M351 1336L844 1593M351 1336L749 1596M351 1336L828 1631M351 1336L606 1651M351 1336L653 1659M351 1336L728 1665M351 1336L918 1670M351 1336L762 1693M351 1336L815 1710M351 1336L767 1728M351 1336L935 1746M351 1336L725 1761M351 1336L870 1823M351 1336L727 1835M351 1336L781 1868M310 1353L630 1475M310 1353L569 1482M310 1353L505 1487M310 1353L596 1512M310 1353L640 1513M310 1353L675 1524M310 1353L482 1532M310 1353L522 1554M310 1353L563 1554M310 1353L633 1552M310 1353L597 1565M310 1353L633 1583M310 1353L669 1600M310 1353L717 1598M310 1353L592 1610M310 1353L635 1625M310 1353L679 1634M310 1353L760 1492M310 1353L947 1527M310 1353L745 1561M310 1353L866 1561M310 1353L796 1569M310 1353L749 1596M310 1353L765 1636M310 1353L606 1651M310 1353L653 1659M310 1353L686 1676M310 1353L627 1691M310 1353L659 1791M310 1353L710 1797M310 1353L611 1811M310 1353L728 1665M310 1353L762 1693M310 1353L815 1710M310 1353L728 1721M310 1353L935 1746M310 1353L871 1752M310 1353L725 1761M310 1353L870 1823M310 1353L772 1827M400 1355L536 1448M400 1355L630 1475M400 1355L569 1482M400 1355L505 1487M400 1355L680 1488M400 1355L596 1512M400 1355L640 1513M400 1355L538 1517M400 1355L522 1554M400 1355L633 1552M400 1355L597 1565M400 1355L686 1564M400 1355L633 1583M400 1355L550 1592M400 1355L669 1600M400 1355L717 1598M400 1355L592 1610M400 1355L555 1631M400 1355L765 1530M400 1355L830 1550M400 1355L796 1569M400 1355L844 1593M400 1355L749 1596M400 1355L881 1610M400 1355L722 1633M400 1355L828 1631M400 1355L590 1756M400 1355L611 1811M400 1355L875 1649M400 1355L728 1665M400 1355L918 1670M400 1355L850 1680M400 1355L762 1693M400 1355L815 1710M400 1355L849 1720M400 1355L871 1752M400 1355L725 1761M400 1355L760 1781M400 1355L812 1810M400 1355L772 1827M359 1373L677 1408M359 1373L630 1475M359 1373L569 1482M359 1373L505 1487M359 1373L680 1488M359 1373L722 1492M359 1373L596 1512M359 1373L720 1535M359 1373L563 1554M359 1373L633 1552M359 1373L597 1565M359 1373L686 1564M359 1373L550 1592M359 1373L669 1600M359 1373L717 1598M359 1373L947 1527M359 1373L765 1530M359 1373L745 1561M359 1373L796 1569M359 1373L765 1636M359 1373L606 1651M359 1373L561 1666M359 1373L660 1706M359 1373L688 1728M359 1373L682 1763M359 1373L659 1791M359 1373L875 1649M359 1373L728 1665M359 1373L918 1670M359 1373L850 1680M359 1373L762 1693M359 1373L898 1715M359 1373L849 1720M359 1373L728 1721M359 1373L767 1728M359 1373L798 1749M359 1373L871 1752M359 1373L812 1810M359 1373L870 1823M359 1373L727 1835M409 1393L569 1482M409 1393L505 1487M409 1393L538 1517M409 1393L675 1524M409 1393L720 1535M409 1393L522 1554M409 1393L633 1552M409 1393L597 1565M409 1393L633 1583M409 1393L550 1592M409 1393L669 1600M409 1393L592 1610M409 1393L635 1625M409 1393L679 1634M409 1393L765 1530M409 1393L830 1550M409 1393L745 1561M409 1393L866 1561M409 1393L798 1607M409 1393L966 1625M409 1393L722 1633M409 1393L765 1636M409 1393L653 1659M409 1393L627 1691M409 1393L660 1706M409 1393L688 1728M409 1393L628 1766M409 1393L728 1665M409 1393L801 1668M409 1393L918 1670M409 1393L850 1680M409 1393L762 1693M409 1393L815 1710M409 1393L728 1721M409 1393L767 1728M409 1393L935 1746M409 1393L760 1781M409 1393L906 1788M409 1393L870 1823M409 1393L828 1850M277 1401L641 1424M277 1401L609 1441M277 1401L763 1410M277 1401L505 1487M277 1401L722 1492M277 1401L596 1512M277 1401L538 1517M277 1401L675 1524M277 1401L482 1532M277 1401L522 1554M277 1401L563 1554M277 1401L633 1552M277 1401L597 1565M277 1401L633 1583M277 1401L508 1596M277 1401L550 1592M277 1401L717 1598M277 1401L592 1610M277 1401L635 1625M277 1401L512 1636M277 1401L760 1492M277 1401L830 1550M277 1401L844 1593M277 1401L749 1596M277 1401L881 1610M277 1401L722 1633M277 1401L561 1666M277 1401L520 1676M277 1401L688 1728M277 1401L590 1756M277 1401L628 1766M277 1401L710 1797M277 1401L728 1665M277 1401L801 1668M277 1401L968 1683M277 1401L898 1715M277 1401L906 1788M277 1401L812 1810M277 1401L781 1868M277 1401L688 1833M370 1412L569 1482M370 1412L505 1487M370 1412L680 1488M370 1412L640 1513M370 1412L538 1517M370 1412L720 1535M370 1412L522 1554M370 1412L563 1554M370 1412L633 1552M370 1412L597 1565M370 1412L508 1596M370 1412L550 1592M370 1412L669 1600M370 1412L717 1598M370 1412L555 1631M370 1412L512 1636M370 1412L796 1569M370 1412L913 1572M370 1412L961 1575M370 1412L844 1593M370 1412L966 1625M370 1412L722 1633M370 1412L765 1636M370 1412L653 1659M370 1412L627 1691M370 1412L688 1728M370 1412L682 1763M370 1412L875 1649M370 1412L850 1680M370 1412L762 1693M370 1412L815 1710M370 1412L898 1715M370 1412L849 1720M370 1412L728 1721M370 1412L767 1728M370 1412L798 1749M370 1412L845 1781M370 1412L906 1788M370 1412L772 1827M370 1412L781 1868M320 1420L641 1424M320 1420L505 1487M320 1420L722 1492M320 1420L482 1532M320 1420L522 1554M320 1420L563 1554M320 1420L686 1564M320 1420L633 1583M320 1420L550 1592M320 1420L717 1598M320 1420L592 1610M320 1420L635 1625M320 1420L679 1634M320 1420L760 1492M320 1420L830 1550M320 1420L745 1561M320 1420L796 1569M320 1420L749 1596M320 1420L798 1607M320 1420L722 1633M320 1420L765 1636M320 1420L606 1651M320 1420L653 1659M320 1420L686 1676M320 1420L660 1706M320 1420L610 1728M320 1420L688 1728M320 1420L728 1665M320 1420L850 1680M320 1420L762 1693M320 1420L898 1715M320 1420L728 1721M320 1420L767 1728M320 1420L935 1746M320 1420L760 1781M320 1420L845 1781M320 1420L812 1810M320 1420L870 1823M320 1420L727 1835M320 1420L828 1850M189 1428L798 1423M189 1428L569 1482M189 1428L505 1487M189 1428L680 1488M189 1428L722 1492M189 1428L596 1512M189 1428L640 1513M189 1428L538 1517M189 1428L522 1554M189 1428L563 1554M189 1428L686 1564M189 1428L468 1581M189 1428L633 1583M189 1428L550 1592M189 1428L592 1610M189 1428L555 1631M189 1428L512 1636M189 1428L760 1492M189 1428L765 1530M189 1428L830 1550M189 1428L913 1572M189 1428L749 1596M189 1428L798 1607M189 1428L920 1618M189 1428L966 1625M189 1428L722 1633M189 1428L765 1636M189 1428L828 1631M189 1428L561 1666M189 1428L520 1676M189 1428L686 1676M189 1428L627 1691M189 1428L660 1706M189 1428L524 1714M189 1428L801 1668M189 1428L968 1683M189 1428L728 1721M189 1428L767 1728M189 1428L935 1746M189 1428L871 1752M257 1435L675 1454M257 1435L630 1475M257 1435L505 1487M257 1435L538 1517M257 1435L675 1524M257 1435L482 1532M257 1435L720 1535M257 1435L522 1554M257 1435L563 1554M257 1435L468 1581M257 1435L633 1583M257 1435L717 1598M257 1435L635 1625M257 1435L512 1636M257 1435L679 1634M257 1435L760 1492M257 1435L745 1561M257 1435L920 1618M257 1435L722 1633M257 1435L765 1636M257 1435L606 1651M257 1435L653 1659M257 1435L660 1706M257 1435L610 1728M257 1435L590 1756M257 1435L628 1766M257 1435L682 1763M257 1435L710 1797M257 1435L728 1665M257 1435L801 1668M257 1435L918 1670M257 1435L815 1710M257 1435L898 1715M257 1435L728 1721M257 1435L798 1749M257 1435L935 1746M257 1435L760 1781M257 1435L812 1810M257 1435L870 1823M257 1435L731 1876M417 1437L569 1482M417 1437L505 1487M417 1437L596 1512M417 1437L538 1517M417 1437L482 1532M417 1437L522 1554M417 1437L563 1554M417 1437L597 1565M417 1437L686 1564M417 1437L633 1583M417 1437L508 1596M417 1437L550 1592M417 1437L669 1600M417 1437L717 1598M417 1437L635 1625M417 1437L760 1492M417 1437L866 1561M417 1437L796 1569M417 1437L749 1596M417 1437L920 1618M417 1437L722 1633M417 1437L828 1631M417 1437L606 1651M417 1437L653 1659M417 1437L686 1676M417 1437L728 1665M417 1437L801 1668M417 1437L918 1670M417 1437L850 1680M417 1437L898 1715M417 1437L849 1720M417 1437L728 1721M417 1437L767 1728M417 1437L798 1749M417 1437L935 1746M417 1437L725 1761M417 1437L760 1781M417 1437L845 1781M417 1437L906 1788M417 1437L772 1827M366 1445L860 1419M366 1445L569 1482M366 1445L505 1487M366 1445L680 1488M366 1445L596 1512M366 1445L538 1517M366 1445L522 1554M366 1445L563 1554M366 1445L597 1565M366 1445L550 1592M366 1445L669 1600M366 1445L717 1598M366 1445L592 1610M366 1445L635 1625M366 1445L555 1631M366 1445L679 1634M366 1445L802 1516M366 1445L830 1550M366 1445L866 1561M366 1445L798 1607M366 1445L881 1610M366 1445L828 1631M366 1445L606 1651M366 1445L653 1659M366 1445L686 1676M366 1445L627 1691M366 1445L688 1728M366 1445L710 1797M366 1445L875 1649M366 1445L728 1665M366 1445L801 1668M366 1445L918 1670M366 1445L898 1715M366 1445L849 1720M366 1445L798 1749M366 1445L871 1752M366 1445L760 1781M366 1445L772 1827M366 1445L781 1868M366 1445L651 1826M298 1453L536 1448M298 1453L680 1488M298 1453L722 1492M298 1453L596 1512M298 1453L482 1532M298 1453L522 1554M298 1453L633 1552M298 1453L597 1565M298 1453L508 1596M298 1453L550 1592M298 1453L669 1600M298 1453L717 1598M298 1453L592 1610M298 1453L635 1625M298 1453L555 1631M298 1453L679 1634M298 1453L760 1492M298 1453L846 1510M298 1453L896 1518M298 1453L765 1530M298 1453L961 1575M298 1453L844 1593M298 1453L749 1596M298 1453L798 1607M298 1453L881 1610M298 1453L606 1651M298 1453L653 1659M298 1453L686 1676M298 1453L627 1691M298 1453L660 1706M298 1453L682 1763M298 1453L728 1665M298 1453L850 1680M298 1453L968 1683M298 1453L767 1728M298 1453L935 1746M298 1453L845 1781M298 1453L906 1788M298 1453L812 1810M298 1453L781 1868M216 1464L798 1423M216 1464L680 1488M216 1464L722 1492M216 1464L675 1524M216 1464L522 1554M216 1464L563 1554M216 1464L633 1552M216 1464L597 1565M216 1464L686 1564M216 1464L468 1581M216 1464L633 1583M216 1464L508 1596M216 1464L550 1592M216 1464L669 1600M216 1464L635 1625M216 1464L512 1636M216 1464L679 1634M216 1464L846 1510M216 1464L947 1527M216 1464L866 1561M216 1464L920 1618M216 1464L722 1633M216 1464L828 1631M216 1464L653 1659M216 1464L520 1676M216 1464L686 1676M216 1464L627 1691M216 1464L688 1728M216 1464L710 1797M216 1464L875 1649M216 1464L728 1665M216 1464L968 1683M216 1464L849 1720M216 1464L728 1721M216 1464L767 1728M216 1464L798 1749M216 1464L935 1746M216 1464L845 1781M216 1464L870 1823M216 1464L781 1868M596 1280L620 1392M596 1280L677 1408M596 1280L641 1424M596 1280L675 1454M596 1280L680 1488M596 1280L722 1492M596 1280L640 1513M596 1280L675 1524M596 1280L633 1552M596 1280L669 1600M596 1280L717 1598M596 1280L635 1625M596 1280L555 1631M596 1280L679 1634M596 1280L760 1492M596 1280L745 1561M596 1280L796 1569M596 1280L765 1636M596 1280L828 1631M596 1280L653 1659M596 1280L688 1728M596 1280L628 1766M596 1280L682 1763M596 1280L580 1790M596 1280L659 1791M596 1280L611 1811M596 1280L875 1649M596 1280L728 1665M596 1280L801 1668M596 1280L815 1710M596 1280L728 1721M596 1280L798 1749M596 1280L871 1752M596 1280L725 1761M596 1280L760 1781M596 1280L845 1781M596 1280L906 1788M596 1280L812 1810M596 1280L781 1868M596 1280L681 1874M671 1279L668 1378M671 1279L677 1408M671 1279L641 1424M671 1279L675 1454M671 1279L729 1441M671 1279L680 1488M671 1279L722 1492M671 1279L640 1513M671 1279L720 1535M671 1279L633 1552M671 1279L597 1565M671 1279L686 1564M671 1279L669 1600M671 1279L717 1598M671 1279L679 1634M671 1279L765 1530M671 1279L745 1561M671 1279L749 1596M671 1279L798 1607M671 1279L722 1633M671 1279L828 1631M671 1279L686 1676M671 1279L627 1691M671 1279L610 1728M671 1279L688 1728M671 1279L682 1763M671 1279L710 1797M671 1279L728 1665M671 1279L898 1715M671 1279L767 1728M671 1279L798 1749M671 1279L871 1752M671 1279L725 1761M671 1279L772 1827M671 1279L727 1835M671 1279L781 1868M671 1279L731 1876M671 1279L688 1833M671 1279L631 1862M671 1279L681 1874M456 1296L536 1448M456 1296L675 1454M456 1296L505 1487M456 1296L722 1492M456 1296L596 1512M456 1296L640 1513M456 1296L675 1524M456 1296L720 1535M456 1296L563 1554M456 1296L633 1552M456 1296L686 1564M456 1296L550 1592M456 1296L669 1600M456 1296L717 1598M456 1296L555 1631M456 1296L679 1634M456 1296L760 1492M456 1296L913 1572M456 1296L749 1596M456 1296L722 1633M456 1296L653 1659M456 1296L686 1676M456 1296L627 1691M456 1296L660 1706M456 1296L610 1728M456 1296L682 1763M456 1296L546 1811M456 1296L728 1665M456 1296L968 1683M456 1296L762 1693M456 1296L898 1715M456 1296L767 1728M456 1296L871 1752M456 1296L725 1761M456 1296L760 1781M456 1296L906 1788M456 1296L812 1810M456 1296L870 1823M456 1296L828 1850M456 1296L681 1874M510 1296L723 1403M510 1296L575 1416M510 1296L641 1424M510 1296L609 1441M510 1296L536 1448M510 1296L630 1475M510 1296L569 1482M510 1296L680 1488M510 1296L596 1512M510 1296L640 1513M510 1296L675 1524M510 1296L563 1554M510 1296L633 1552M510 1296L686 1564M510 1296L633 1583M510 1296L550 1592M510 1296L669 1600M510 1296L717 1598M510 1296L765 1530M510 1296L745 1561M510 1296L722 1633M510 1296L606 1651M510 1296L686 1676M510 1296L659 1791M510 1296L728 1665M510 1296L801 1668M510 1296L850 1680M510 1296L898 1715M510 1296L728 1721M510 1296L871 1752M510 1296L725 1761M510 1296L760 1781M510 1296L845 1781M510 1296L906 1788M510 1296L870 1823M510 1296L772 1827M510 1296L731 1876M510 1296L688 1833M510 1296L586 1840M510 1296L681 1874M637 1294L668 1378M637 1294L620 1392M637 1294L677 1408M637 1294L675 1454M637 1294L680 1488M637 1294L722 1492M637 1294L675 1524M637 1294L720 1535M637 1294L633 1583M637 1294L669 1600M637 1294L635 1625M637 1294L679 1634M637 1294L760 1492M637 1294L745 1561M637 1294L796 1569M637 1294L749 1596M637 1294L798 1607M637 1294L722 1633M637 1294L765 1636M637 1294L606 1651M637 1294L653 1659M637 1294L686 1676M637 1294L627 1691M637 1294L590 1756M637 1294L682 1763M637 1294L580 1790M637 1294L659 1791M637 1294L728 1665M637 1294L762 1693M637 1294L849 1720M637 1294L728 1721M637 1294L767 1728M637 1294L798 1749M637 1294L871 1752M637 1294L772 1827M637 1294L727 1835M637 1294L781 1868M637 1294L688 1833M637 1294L586 1840M637 1294L681 1874M710 1302L668 1378M710 1302L719 1373M710 1302L677 1408M710 1302L680 1488M710 1302L722 1492M710 1302L675 1524M710 1302L720 1535M710 1302L686 1564M710 1302L669 1600M710 1302L717 1598M710 1302L635 1625M710 1302L765 1530M710 1302L745 1561M710 1302L844 1593M710 1302L749 1596M710 1302L722 1633M710 1302L686 1676M710 1302L627 1691M710 1302L660 1706M710 1302L566 1710M710 1302L688 1728M710 1302L628 1766M710 1302L682 1763M710 1302L512 1773M710 1302L580 1790M710 1302L659 1791M710 1302L710 1797M710 1302L728 1665M710 1302L850 1680M710 1302L762 1693M710 1302L815 1710M710 1302L728 1721M710 1302L798 1749M710 1302L845 1781M710 1302L812 1810M710 1302L828 1850M710 1302L731 1876M710 1302L586 1840M710 1302L631 1862M710 1302L681 1874M562 1304L575 1416M562 1304L641 1424M562 1304L609 1441M562 1304L675 1454M562 1304L630 1475M562 1304L680 1488M562 1304L596 1512M562 1304L675 1524M562 1304L563 1554M562 1304L633 1552M562 1304L686 1564M562 1304L592 1610M562 1304L679 1634M562 1304L745 1561M562 1304L749 1596M562 1304L798 1607M562 1304L920 1618M562 1304L722 1633M562 1304L765 1636M562 1304L561 1666M562 1304L653 1659M562 1304L478 1677M562 1304L686 1676M562 1304L627 1691M562 1304L660 1706M562 1304L682 1763M562 1304L728 1665M562 1304L918 1670M562 1304L815 1710M562 1304L728 1721M562 1304L767 1728M562 1304L798 1749M562 1304L871 1752M562 1304L725 1761M562 1304L760 1781M562 1304L906 1788M562 1304L870 1823M562 1304L772 1827M562 1304L828 1850M562 1304L681 1874M607 1316L620 1392M607 1316L641 1424M607 1316L609 1441M607 1316L675 1454M607 1316L680 1488M607 1316L675 1524M607 1316L720 1535M607 1316L633 1552M607 1316L686 1564M607 1316L633 1583M607 1316L717 1598M607 1316L592 1610M607 1316L512 1636M607 1316L679 1634M607 1316L745 1561M607 1316L749 1596M607 1316L798 1607M607 1316L722 1633M607 1316L765 1636M607 1316L653 1659M607 1316L686 1676M607 1316L627 1691M607 1316L660 1706M607 1316L610 1728M607 1316L688 1728M607 1316L580 1790M607 1316L875 1649M607 1316L728 1665M607 1316L801 1668M607 1316L762 1693M607 1316L849 1720M607 1316L728 1721M607 1316L798 1749M607 1316L871 1752M607 1316L725 1761M607 1316L845 1781M607 1316L772 1827M607 1316L727 1835M607 1316L828 1850M607 1316L688 1833M668 1319L668 1378M668 1319L677 1408M668 1319L675 1454M668 1319L680 1488M668 1319L722 1492M668 1319L675 1524M668 1319L720 1535M668 1319L563 1554M668 1319L686 1564M668 1319L592 1610M668 1319L635 1625M668 1319L765 1530M668 1319L749 1596M668 1319L798 1607M668 1319L722 1633M668 1319L828 1631M668 1319L606 1651M668 1319L653 1659M668 1319L686 1676M668 1319L660 1706M668 1319L524 1714M668 1319L688 1728M668 1319L548 1749M668 1319L682 1763M668 1319L546 1811M668 1319L728 1665M668 1319L801 1668M668 1319L762 1693M668 1319L728 1721M668 1319L767 1728M668 1319L798 1749M668 1319L871 1752M668 1319L725 1761M668 1319L760 1781M668 1319L812 1810M668 1319L870 1823M668 1319L727 1835M668 1319L828 1850M668 1319L781 1868M668 1319L586 1840M490 1321L575 1416M490 1321L609 1441M490 1321L536 1448M490 1321L630 1475M490 1321L569 1482M490 1321L596 1512M490 1321L720 1535M490 1321L633 1552M490 1321L597 1565M490 1321L686 1564M490 1321L633 1583M490 1321L669 1600M490 1321L635 1625M490 1321L679 1634M490 1321L802 1516M490 1321L796 1569M490 1321L749 1596M490 1321L798 1607M490 1321L722 1633M490 1321L765 1636M490 1321L653 1659M490 1321L686 1676M490 1321L660 1706M490 1321L610 1728M490 1321L688 1728M490 1321L682 1763M490 1321L710 1797M490 1321L801 1668M490 1321L918 1670M490 1321L850 1680M490 1321L762 1693M490 1321L935 1746M490 1321L871 1752M490 1321L725 1761M490 1321L760 1781M490 1321L845 1781M490 1321L906 1788M490 1321L870 1823M490 1321L688 1833M490 1321L681 1874M571 1333L641 1424M571 1333L609 1441M571 1333L675 1454M571 1333L630 1475M571 1333L680 1488M571 1333L640 1513M571 1333L675 1524M571 1333L720 1535M571 1333L633 1552M571 1333L686 1564M571 1333L633 1583M571 1333L669 1600M571 1333L717 1598M571 1333L592 1610M571 1333L635 1625M571 1333L798 1607M571 1333L722 1633M571 1333L765 1636M571 1333L828 1631M571 1333L686 1676M571 1333L610 1728M571 1333L688 1728M571 1333L682 1763M571 1333L580 1790M571 1333L710 1797M571 1333L728 1665M571 1333L801 1668M571 1333L762 1693M571 1333L815 1710M571 1333L849 1720M571 1333L798 1749M571 1333L725 1761M571 1333L760 1781M571 1333L906 1788M571 1333L812 1810M571 1333L870 1823M571 1333L727 1835M571 1333L828 1850M571 1333L781 1868M571 1333L731 1876M445 1335L609 1441M445 1335L536 1448M445 1335L630 1475M445 1335L569 1482M445 1335L596 1512M445 1335L640 1513M445 1335L675 1524M445 1335L720 1535M445 1335L563 1554M445 1335L633 1552M445 1335L597 1565M445 1335L686 1564M445 1335L633 1583M445 1335L717 1598M445 1335L512 1636M445 1335L679 1634M445 1335L765 1530M445 1335L913 1572M445 1335L844 1593M445 1335L920 1618M445 1335L765 1636M445 1335L653 1659M445 1335L686 1676M445 1335L660 1706M445 1335L659 1791M445 1335L710 1797M445 1335L728 1665M445 1335L918 1670M445 1335L850 1680M445 1335L815 1710M445 1335L728 1721M445 1335L767 1728M445 1335L871 1752M445 1335L725 1761M445 1335L760 1781M445 1335L906 1788M445 1335L870 1823M445 1335L727 1835M445 1335L828 1850M445 1335L688 1833M521 1345L575 1416M521 1345L536 1448M521 1345L630 1475M521 1345L569 1482M521 1345L680 1488M521 1345L596 1512M521 1345L640 1513M521 1345L675 1524M521 1345L633 1552M521 1345L686 1564M521 1345L633 1583M521 1345L669 1600M521 1345L635 1625M521 1345L679 1634M521 1345L765 1530M521 1345L745 1561M521 1345L722 1633M521 1345L765 1636M521 1345L828 1631M521 1345L653 1659M521 1345L627 1691M521 1345L682 1763M521 1345L710 1797M521 1345L611 1811M521 1345L875 1649M521 1345L728 1665M521 1345L801 1668M521 1345L898 1715M521 1345L728 1721M521 1345L767 1728M521 1345L798 1749M521 1345L725 1761M521 1345L760 1781M521 1345L812 1810M521 1345L870 1823M521 1345L772 1827M521 1345L727 1835M521 1345L828 1850M521 1345L731 1876M521 1345L681 1874M629 1345L677 1408M629 1345L641 1424M629 1345L680 1488M629 1345L722 1492M629 1345L596 1512M629 1345L640 1513M629 1345L675 1524M629 1345L720 1535M629 1345L633 1552M629 1345L686 1564M629 1345L633 1583M629 1345L717 1598M629 1345L635 1625M629 1345L679 1634M629 1345L745 1561M629 1345L796 1569M629 1345L749 1596M629 1345L881 1610M629 1345L765 1636M629 1345L653 1659M629 1345L627 1691M629 1345L660 1706M629 1345L610 1728M629 1345L688 1728M629 1345L682 1763M629 1345L659 1791M629 1345L710 1797M629 1345L611 1811M629 1345L728 1665M629 1345L801 1668M629 1345L762 1693M629 1345L815 1710M629 1345L728 1721M629 1345L772 1827M629 1345L727 1835M629 1345L828 1850M629 1345L781 1868M629 1345L731 1876M629 1345L651 1826M629 1345L586 1840M680 1343L677 1408M680 1343L675 1454M680 1343L729 1441M680 1343L630 1475M680 1343L680 1488M680 1343L675 1524M680 1343L720 1535M680 1343L686 1564M680 1343L633 1583M680 1343L717 1598M680 1343L592 1610M680 1343L679 1634M680 1343L802 1516M680 1343L765 1530M680 1343L749 1596M680 1343L881 1610M680 1343L722 1633M680 1343L765 1636M680 1343L828 1631M680 1343L686 1676M680 1343L688 1728M680 1343L590 1756M680 1343L659 1791M680 1343L710 1797M680 1343L611 1811M680 1343L728 1665M680 1343L801 1668M680 1343L762 1693M680 1343L849 1720M680 1343L728 1721M680 1343L767 1728M680 1343L798 1749M680 1343L725 1761M680 1343L812 1810M680 1343L870 1823M680 1343L772 1827M680 1343L731 1876M680 1343L651 1826M680 1343L688 1833M680 1343L681 1874M583 1362L630 1475M583 1362L596 1512M583 1362L640 1513M583 1362L675 1524M583 1362L720 1535M583 1362L686 1564M583 1362L669 1600M583 1362L717 1598M583 1362L765 1530M583 1362L745 1561M583 1362L749 1596M583 1362L722 1633M583 1362L653 1659M583 1362L660 1706M583 1362L688 1728M583 1362L710 1797M583 1362L875 1649M583 1362L728 1665M583 1362L801 1668M583 1362L850 1680M583 1362L762 1693M583 1362L815 1710M583 1362L849 1720M583 1362L728 1721M583 1362L767 1728M583 1362L798 1749M583 1362L871 1752M583 1362L725 1761M583 1362L760 1781M583 1362L845 1781M583 1362L906 1788M583 1362L812 1810M583 1362L870 1823M583 1362L772 1827M583 1362L727 1835M583 1362L828 1850M583 1362L781 1868M583 1362L731 1876M583 1362L688 1833M583 1362L681 1874M502 1366L575 1416M502 1366L609 1441M502 1366L569 1482M502 1366L596 1512M502 1366L640 1513M502 1366L563 1554M502 1366L633 1552M502 1366L686 1564M502 1366L633 1583M502 1366L669 1600M502 1366L635 1625M502 1366L679 1634M502 1366L765 1530M502 1366L745 1561M502 1366L749 1596M502 1366L798 1607M502 1366L722 1633M502 1366L765 1636M502 1366L828 1631M502 1366L686 1676M502 1366L688 1728M502 1366L548 1749M502 1366L682 1763M502 1366L710 1797M502 1366L801 1668M502 1366L762 1693M502 1366L815 1710M502 1366L849 1720M502 1366L728 1721M502 1366L767 1728M502 1366L798 1749M502 1366L935 1746M502 1366L871 1752M502 1366L725 1761M502 1366L760 1781M502 1366L845 1781M502 1366L812 1810M502 1366L870 1823M502 1366L828 1850M502 1366L781 1868M444 1372L677 1408M444 1372L536 1448M444 1372L505 1487M444 1372L680 1488M444 1372L596 1512M444 1372L675 1524M444 1372L522 1554M444 1372L563 1554M444 1372L633 1552M444 1372L686 1564M444 1372L633 1583M444 1372L508 1596M444 1372L669 1600M444 1372L717 1598M444 1372L813 1478M444 1372L760 1492M444 1372L765 1530M444 1372L796 1569M444 1372L749 1596M444 1372L881 1610M444 1372L722 1633M444 1372L765 1636M444 1372L828 1631M444 1372L561 1666M444 1372L686 1676M444 1372L688 1728M444 1372L728 1665M444 1372L801 1668M444 1372L850 1680M444 1372L849 1720M444 1372L767 1728M444 1372L798 1749M444 1372L871 1752M444 1372L725 1761M444 1372L845 1781M444 1372L906 1788M444 1372L772 1827M444 1372L727 1835M444 1372L828 1850M444 1372L688 1833M548 1391L641 1424M548 1391L609 1441M548 1391L630 1475M548 1391L596 1512M548 1391L640 1513M548 1391L675 1524M548 1391L686 1564M548 1391L633 1583M548 1391L717 1598M548 1391L635 1625M548 1391L679 1634M548 1391L745 1561M548 1391L798 1607M548 1391L722 1633M548 1391L828 1631M548 1391L686 1676M548 1391L627 1691M548 1391L660 1706M548 1391L610 1728M548 1391L682 1763M548 1391L728 1665M548 1391L801 1668M548 1391L850 1680M548 1391L762 1693M548 1391L815 1710M548 1391L898 1715M548 1391L849 1720M548 1391L728 1721M548 1391L767 1728M548 1391L798 1749M548 1391L871 1752M548 1391L760 1781M548 1391L906 1788M548 1391L812 1810M548 1391L870 1823M548 1391L772 1827M548 1391L727 1835M548 1391L781 1868M548 1391L731 1876M548 1391L651 1826M489 1396L536 1448M489 1396L569 1482M489 1396L596 1512M489 1396L640 1513M489 1396L675 1524M489 1396L563 1554M489 1396L633 1552M489 1396L597 1565M489 1396L633 1583M489 1396L669 1600M489 1396L717 1598M489 1396L635 1625M489 1396L679 1634M489 1396L745 1561M489 1396L961 1575M489 1396L749 1596M489 1396L798 1607M489 1396L881 1610M489 1396L722 1633M489 1396L561 1666M489 1396L653 1659M489 1396L686 1676M489 1396L627 1691M489 1396L660 1706M489 1396L688 1728M489 1396L801 1668M489 1396L918 1670M489 1396L850 1680M489 1396L815 1710M489 1396L849 1720M489 1396L767 1728M489 1396L798 1749M489 1396L725 1761M489 1396L906 1788M489 1396L870 1823M489 1396L772 1827M489 1396L727 1835M489 1396L828 1850M489 1396L781 1868M489 1396L731 1876M441 1416L569 1482M441 1416L505 1487M441 1416L640 1513M441 1416L675 1524M441 1416L563 1554M441 1416L633 1552M441 1416L597 1565M441 1416L686 1564M441 1416L633 1583M441 1416L550 1592M441 1416L669 1600M441 1416L592 1610M441 1416L555 1631M441 1416L679 1634M441 1416L896 1518M441 1416L749 1596M441 1416L881 1610M441 1416L966 1625M441 1416L765 1636M441 1416L606 1651M441 1416L653 1659M441 1416L627 1691M441 1416L688 1728M441 1416L590 1756M441 1416L659 1791M441 1416L875 1649M441 1416L728 1665M441 1416L801 1668M441 1416L762 1693M441 1416L815 1710M441 1416L898 1715M441 1416L849 1720M441 1416L728 1721M441 1416L798 1749M441 1416L871 1752M441 1416L725 1761M441 1416L906 1788M441 1416L812 1810M441 1416L772 1827M441 1416L781 1868M505 1426L569 1482M505 1426L596 1512M505 1426L640 1513M505 1426L563 1554M505 1426L633 1552M505 1426L669 1600M505 1426L592 1610M505 1426L635 1625M505 1426L679 1634M505 1426L765 1530M505 1426L745 1561M505 1426L749 1596M505 1426L722 1633M505 1426L765 1636M505 1426L606 1651M505 1426L653 1659M505 1426L686 1676M505 1426L627 1691M505 1426L682 1763M505 1426L710 1797M505 1426L728 1665M505 1426L801 1668M505 1426L850 1680M505 1426L968 1683M505 1426L762 1693M505 1426L898 1715M505 1426L849 1720M505 1426L728 1721M505 1426L767 1728M505 1426L798 1749M505 1426L935 1746M505 1426L871 1752M505 1426L725 1761M505 1426L760 1781M505 1426L845 1781M505 1426L906 1788M505 1426L812 1810M505 1426L870 1823M505 1426L772 1827M505 1426L727 1835M473 1445L569 1482M473 1445L722 1492M473 1445L596 1512M473 1445L640 1513M473 1445L538 1517M473 1445L720 1535M473 1445L633 1552M473 1445L597 1565M473 1445L686 1564M473 1445L633 1583M473 1445L669 1600M473 1445L717 1598M473 1445L635 1625M473 1445L679 1634M473 1445L760 1492M473 1445L745 1561M473 1445L796 1569M473 1445L749 1596M473 1445L966 1625M473 1445L722 1633M473 1445L828 1631M473 1445L688 1728M473 1445L710 1797M473 1445L875 1649M473 1445L728 1665M473 1445L801 1668M473 1445L918 1670M473 1445L850 1680M473 1445L968 1683M473 1445L762 1693M473 1445L815 1710M473 1445L767 1728M473 1445L798 1749M473 1445L935 1746M473 1445L871 1752M473 1445L725 1761M473 1445L760 1781M473 1445L845 1781M473 1445L812 1810M473 1445L828 1850M430 1460L505 1487M430 1460L680 1488M430 1460L538 1517M430 1460L720 1535M430 1460L563 1554M430 1460L633 1552M430 1460L597 1565M430 1460L686 1564M430 1460L633 1583M430 1460L550 1592M430 1460L717 1598M430 1460L592 1610M430 1460L635 1625M430 1460L679 1634M430 1460L802 1516M430 1460L866 1561M430 1460L796 1569M430 1460L913 1572M430 1460L844 1593M430 1460L749 1596M430 1460L920 1618M430 1460L966 1625M430 1460L722 1633M430 1460L765 1636M430 1460L653 1659M430 1460L686 1676M430 1460L660 1706M430 1460L875 1649M430 1460L728 1665M430 1460L918 1670M430 1460L850 1680M430 1460L762 1693M430 1460L898 1715M430 1460L849 1720M430 1460L728 1721M430 1460L767 1728M430 1460L725 1761M430 1460L870 1823M430 1460L828 1850M430 1460L688 1833M750 1289L719 1373M750 1289L677 1408M750 1289L675 1454M750 1289L798 1423M750 1289L729 1441M750 1289L775 1458M750 1289L680 1488M750 1289L722 1492M750 1289L675 1524M750 1289L720 1535M750 1289L597 1565M750 1289L633 1583M750 1289L669 1600M750 1289L717 1598M750 1289L679 1634M750 1289L745 1561M750 1289L722 1633M750 1289L828 1631M750 1289L606 1651M750 1289L561 1666M750 1289L686 1676M750 1289L660 1706M750 1289L610 1728M750 1289L682 1763M750 1289L512 1773M750 1289L580 1790M750 1289L710 1797M750 1289L728 1665M750 1289L801 1668M750 1289L762 1693M750 1289L728 1721M750 1289L767 1728M750 1289L725 1761M750 1289L870 1823M750 1289L772 1827M750 1289L727 1835M750 1289L651 1826M750 1289L586 1840M750 1289L631 1862M750 1289L681 1874M800 1299L675 1454M800 1299L769 1379M800 1299L816 1395M800 1299L763 1410M800 1299L775 1458M800 1299L680 1488M800 1299L722 1492M800 1299L720 1535M800 1299L633 1552M800 1299L686 1564M800 1299L669 1600M800 1299L717 1598M800 1299L635 1625M800 1299L679 1634M800 1299L760 1492M800 1299L765 1530M800 1299L796 1569M800 1299L749 1596M800 1299L722 1633M800 1299L653 1659M800 1299L686 1676M800 1299L627 1691M800 1299L660 1706M800 1299L548 1749M800 1299L590 1756M800 1299L628 1766M800 1299L682 1763M800 1299L580 1790M800 1299L659 1791M800 1299L546 1811M800 1299L611 1811M800 1299L762 1693M800 1299L728 1721M800 1299L767 1728M800 1299L870 1823M800 1299L772 1827M800 1299L781 1868M800 1299L731 1876M800 1299L688 1833M800 1299L631 1862M858 1297L816 1395M858 1297L763 1410M858 1297L798 1423M858 1297L729 1441M858 1297L775 1458M858 1297L722 1492M858 1297L596 1512M858 1297L640 1513M858 1297L597 1565M858 1297L468 1581M858 1297L508 1596M858 1297L669 1600M858 1297L717 1598M858 1297L635 1625M858 1297L679 1634M858 1297L760 1492M858 1297L765 1530M858 1297L745 1561M858 1297L798 1607M858 1297L722 1633M858 1297L627 1691M858 1297L660 1706M858 1297L566 1710M858 1297L610 1728M858 1297L688 1728M858 1297L590 1756M858 1297L628 1766M858 1297L682 1763M858 1297L580 1790M858 1297L659 1791M858 1297L546 1811M858 1297L850 1680M858 1297L762 1693M858 1297L728 1721M858 1297L870 1823M858 1297L727 1835M858 1297L731 1876M858 1297L651 1826M858 1297L586 1840M858 1297L681 1874M926 1295L609 1441M926 1295L816 1395M926 1295L763 1410M926 1295L798 1423M926 1295L860 1419M926 1295L729 1441M926 1295L775 1458M926 1295L569 1482M926 1295L640 1513M926 1295L720 1535M926 1295L563 1554M926 1295L686 1564M926 1295L669 1600M926 1295L635 1625M926 1295L813 1478M926 1295L760 1492M926 1295L896 1518M926 1295L765 1530M926 1295L745 1561M926 1295L749 1596M926 1295L798 1607M926 1295L722 1633M926 1295L828 1631M926 1295L606 1651M926 1295L653 1659M926 1295L660 1706M926 1295L688 1728M926 1295L548 1749M926 1295L628 1766M926 1295L682 1763M926 1295L580 1790M926 1295L659 1791M926 1295L546 1811M926 1295L611 1811M926 1295L728 1665M926 1295L801 1668M926 1295L728 1721M926 1295L725 1761M926 1295L586 1840M926 1295L631 1862M994 1302L769 1379M994 1302L860 1419M994 1302L898 1441M994 1302L775 1458M994 1302L680 1488M994 1302L675 1524M994 1302L720 1535M994 1302L633 1583M994 1302L717 1598M994 1302L464 1631M994 1302L679 1634M994 1302L813 1478M994 1302L846 1510M994 1302L802 1516M994 1302L896 1518M994 1302L765 1530M994 1302L745 1561M994 1302L749 1596M994 1302L828 1631M994 1302L561 1666M994 1302L653 1659M994 1302L520 1676M994 1302L686 1676M994 1302L627 1691M994 1302L660 1706M994 1302L566 1710M994 1302L688 1728M994 1302L548 1749M994 1302L590 1756M994 1302L628 1766M994 1302L659 1791M994 1302L546 1811M994 1302L611 1811M994 1302L728 1665M994 1302L762 1693M994 1302L728 1721M994 1302L798 1749M994 1302L725 1761M994 1302L731 1876M994 1302L586 1840M769 1320L769 1379M769 1320L763 1410M769 1320L729 1441M769 1320L775 1458M769 1320L640 1513M769 1320L686 1564M769 1320L550 1592M769 1320L669 1600M769 1320L679 1634M769 1320L813 1478M769 1320L760 1492M769 1320L802 1516M769 1320L765 1530M769 1320L745 1561M769 1320L722 1633M769 1320L561 1666M769 1320L653 1659M769 1320L520 1676M769 1320L686 1676M769 1320L610 1728M769 1320L688 1728M769 1320L590 1756M769 1320L682 1763M769 1320L710 1797M769 1320L611 1811M769 1320L728 1665M769 1320L801 1668M769 1320L762 1693M769 1320L728 1721M769 1320L798 1749M769 1320L760 1781M769 1320L812 1810M769 1320L772 1827M769 1320L727 1835M769 1320L781 1868M769 1320L731 1876M769 1320L651 1826M769 1320L688 1833M769 1320L631 1862M769 1320L681 1874M877 1320L816 1395M877 1320L798 1423M877 1320L860 1419M877 1320L775 1458M877 1320L680 1488M877 1320L640 1513M877 1320L720 1535M877 1320L563 1554M877 1320L686 1564M877 1320L669 1600M877 1320L717 1598M877 1320L592 1610M877 1320L635 1625M877 1320L512 1636M877 1320L679 1634M877 1320L813 1478M877 1320L802 1516M877 1320L765 1530M877 1320L830 1550M877 1320L745 1561M877 1320L844 1593M877 1320L722 1633M877 1320L653 1659M877 1320L627 1691M877 1320L660 1706M877 1320L487 1730M877 1320L610 1728M877 1320L548 1749M877 1320L590 1756M877 1320L628 1766M877 1320L682 1763M877 1320L580 1790M877 1320L659 1791M877 1320L710 1797M877 1320L611 1811M877 1320L762 1693M877 1320L812 1810M877 1320L688 1833M877 1320L586 1840M877 1320L681 1874M946 1318L763 1410M946 1318L798 1423M946 1318L860 1419M946 1318L836 1449M946 1318L775 1458M946 1318L722 1492M946 1318L720 1535M946 1318L686 1564M946 1318L633 1583M946 1318L508 1596M946 1318L669 1600M946 1318L717 1598M946 1318L592 1610M946 1318L635 1625M946 1318L679 1634M946 1318L869 1479M946 1318L760 1492M946 1318L765 1530M946 1318L830 1550M946 1318L745 1561M946 1318L866 1561M946 1318L765 1636M946 1318L606 1651M946 1318L686 1676M946 1318L627 1691M946 1318L660 1706M946 1318L566 1710M946 1318L610 1728M946 1318L590 1756M946 1318L628 1766M946 1318L580 1790M946 1318L710 1797M946 1318L611 1811M946 1318L728 1665M946 1318L762 1693M946 1318L728 1721M946 1318L725 1761M946 1318L772 1827M946 1318L688 1833M946 1318L631 1862M819 1327L763 1410M819 1327L798 1423M819 1327L775 1458M819 1327L680 1488M819 1327L722 1492M819 1327L640 1513M819 1327L675 1524M819 1327L720 1535M819 1327L633 1552M819 1327L686 1564M819 1327L669 1600M819 1327L717 1598M819 1327L592 1610M819 1327L555 1631M819 1327L512 1636M819 1327L679 1634M819 1327L760 1492M819 1327L765 1530M819 1327L745 1561M819 1327L749 1596M819 1327L798 1607M819 1327L722 1633M819 1327L653 1659M819 1327L520 1676M819 1327L686 1676M819 1327L627 1691M819 1327L660 1706M819 1327L610 1728M819 1327L688 1728M819 1327L628 1766M819 1327L682 1763M819 1327L580 1790M819 1327L659 1791M819 1327L611 1811M819 1327L728 1665M819 1327L762 1693M819 1327L725 1761M819 1327L760 1781M819 1327L727 1835M819 1327L631 1862M732 1334L719 1373M732 1334L723 1403M732 1334L729 1441M732 1334L775 1458M732 1334L680 1488M732 1334L675 1524M732 1334L720 1535M732 1334L633 1552M732 1334L597 1565M732 1334L686 1564M732 1334L669 1600M732 1334L717 1598M732 1334L635 1625M732 1334L760 1492M732 1334L745 1561M732 1334L722 1633M732 1334L606 1651M732 1334L653 1659M732 1334L686 1676M732 1334L566 1710M732 1334L524 1714M732 1334L610 1728M732 1334L688 1728M732 1334L628 1766M732 1334L682 1763M732 1334L659 1791M732 1334L710 1797M732 1334L611 1811M732 1334L728 1665M732 1334L762 1693M732 1334L728 1721M732 1334L725 1761M732 1334L760 1781M732 1334L812 1810M732 1334L727 1835M732 1334L731 1876M732 1334L651 1826M732 1334L688 1833M732 1334L586 1840M732 1334L681 1874M846 1347L816 1395M846 1347L798 1423M846 1347L836 1449M846 1347L775 1458M846 1347L633 1552M846 1347L686 1564M846 1347L669 1600M846 1347L717 1598M846 1347L592 1610M846 1347L635 1625M846 1347L512 1636M846 1347L679 1634M846 1347L813 1478M846 1347L802 1516M846 1347L765 1530M846 1347L745 1561M846 1347L749 1596M846 1347L798 1607M846 1347L722 1633M846 1347L765 1636M846 1347L653 1659M846 1347L478 1677M846 1347L686 1676M846 1347L566 1710M846 1347L524 1714M846 1347L688 1728M846 1347L628 1766M846 1347L682 1763M846 1347L580 1790M846 1347L710 1797M846 1347L728 1665M846 1347L728 1721M846 1347L760 1781M846 1347L772 1827M846 1347L727 1835M846 1347L651 1826M846 1347L688 1833M846 1347L586 1840M846 1347L631 1862M846 1347L681 1874M908 1340L677 1408M908 1340L798 1423M908 1340L860 1419M908 1340L729 1441M908 1340L775 1458M908 1340L722 1492M908 1340L720 1535M908 1340L633 1552M908 1340L686 1564M908 1340L633 1583M908 1340L669 1600M908 1340L635 1625M908 1340L512 1636M908 1340L679 1634M908 1340L813 1478M908 1340L802 1516M908 1340L765 1530M908 1340L830 1550M908 1340L745 1561M908 1340L796 1569M908 1340L749 1596M908 1340L722 1633M908 1340L561 1666M908 1340L653 1659M908 1340L478 1677M908 1340L627 1691M908 1340L660 1706M908 1340L566 1710M908 1340L548 1749M908 1340L590 1756M908 1340L611 1811M908 1340L762 1693M908 1340L815 1710M908 1340L767 1728M908 1340L725 1761M908 1340L812 1810M908 1340L731 1876M908 1340L688 1833M908 1340L586 1840M908 1340L631 1862M985 1340L798 1423M985 1340L898 1441M985 1340L836 1449M985 1340L720 1535M985 1340L633 1583M985 1340L550 1592M985 1340L669 1600M985 1340L592 1610M985 1340L635 1625M985 1340L555 1631M985 1340L679 1634M985 1340L802 1516M985 1340L896 1518M985 1340L745 1561M985 1340L866 1561M985 1340L844 1593M985 1340L749 1596M985 1340L881 1610M985 1340L722 1633M985 1340L828 1631M985 1340L653 1659M985 1340L478 1677M985 1340L686 1676M985 1340L627 1691M985 1340L566 1710M985 1340L524 1714M985 1340L487 1730M985 1340L610 1728M985 1340L688 1728M985 1340L590 1756M985 1340L512 1773M985 1340L580 1790M985 1340L659 1791M985 1340L710 1797M985 1340L611 1811M985 1340L762 1693M985 1340L728 1721M985 1340L731 1876M985 1340L651 1826M985 1340L586 1840M800 1356L763 1410M800 1356L798 1423M800 1356L775 1458M800 1356L720 1535M800 1356L686 1564M800 1356L669 1600M800 1356L717 1598M800 1356L592 1610M800 1356L635 1625M800 1356L555 1631M800 1356L512 1636M800 1356L679 1634M800 1356L802 1516M800 1356L765 1530M800 1356L749 1596M800 1356L722 1633M800 1356L765 1636M800 1356L561 1666M800 1356L686 1676M800 1356L627 1691M800 1356L660 1706M800 1356L610 1728M800 1356L590 1756M800 1356L628 1766M800 1356L682 1763M800 1356L580 1790M800 1356L659 1791M800 1356L546 1811M800 1356L611 1811M800 1356L728 1665M800 1356L801 1668M800 1356L762 1693M800 1356L728 1721M800 1356L767 1728M800 1356L760 1781M800 1356L727 1835M800 1356L688 1833M800 1356L586 1840M800 1356L631 1862M800 1356L681 1874M928 1362L798 1423M928 1362L860 1419M928 1362L729 1441M928 1362L836 1449M928 1362L596 1512M928 1362L675 1524M928 1362L522 1554M928 1362L633 1552M928 1362L686 1564M928 1362L669 1600M928 1362L717 1598M928 1362L635 1625M928 1362L464 1631M928 1362L679 1634M928 1362L813 1478M928 1362L760 1492M928 1362L802 1516M928 1362L896 1518M928 1362L765 1530M928 1362L745 1561M928 1362L866 1561M928 1362L798 1607M928 1362L828 1631M928 1362L606 1651M928 1362L561 1666M928 1362L653 1659M928 1362L686 1676M928 1362L487 1730M928 1362L688 1728M928 1362L590 1756M928 1362L628 1766M928 1362L682 1763M928 1362L580 1790M928 1362L710 1797M928 1362L546 1811M928 1362L728 1665M928 1362L762 1693M928 1362L731 1876M928 1362L586 1840M928 1362L631 1862M1016 1368L898 1441M1016 1368L775 1458M1016 1368L675 1524M1016 1368L720 1535M1016 1368L563 1554M1016 1368L686 1564M1016 1368L508 1596M1016 1368L717 1598M1016 1368L592 1610M1016 1368L635 1625M1016 1368L555 1631M1016 1368L679 1634M1016 1368L813 1478M1016 1368L869 1479M1016 1368L922 1482M1016 1368L846 1510M1016 1368L896 1518M1016 1368L765 1530M1016 1368L866 1561M1016 1368L749 1596M1016 1368L722 1633M1016 1368L765 1636M1016 1368L606 1651M1016 1368L561 1666M1016 1368L653 1659M1016 1368L686 1676M1016 1368L627 1691M1016 1368L660 1706M1016 1368L524 1714M1016 1368L487 1730M1016 1368L610 1728M1016 1368L688 1728M1016 1368L590 1756M1016 1368L628 1766M1016 1368L682 1763M1016 1368L512 1773M1016 1368L580 1790M1016 1368L659 1791M1016 1368L710 1797M1016 1368L767 1728M882 1372L836 1449M882 1372L775 1458M882 1372L722 1492M882 1372L720 1535M882 1372L633 1552M882 1372L686 1564M882 1372L633 1583M882 1372L669 1600M882 1372L592 1610M882 1372L635 1625M882 1372L464 1631M882 1372L679 1634M882 1372L813 1478M882 1372L760 1492M882 1372L802 1516M882 1372L765 1530M882 1372L745 1561M882 1372L796 1569M882 1372L798 1607M882 1372L722 1633M882 1372L606 1651M882 1372L653 1659M882 1372L478 1677M882 1372L520 1676M882 1372L686 1676M882 1372L627 1691M882 1372L660 1706M882 1372L688 1728M882 1372L590 1756M882 1372L628 1766M882 1372L682 1763M882 1372L580 1790M882 1372L659 1791M882 1372L710 1797M882 1372L611 1811M882 1372L728 1665M882 1372L767 1728M882 1372L798 1749M882 1372L651 1826M882 1372L586 1840M844 1377L775 1458M844 1377L722 1492M844 1377L675 1524M844 1377L720 1535M844 1377L686 1564M844 1377L633 1583M844 1377L669 1600M844 1377L717 1598M844 1377L592 1610M844 1377L635 1625M844 1377L679 1634M844 1377L813 1478M844 1377L760 1492M844 1377L802 1516M844 1377L765 1530M844 1377L745 1561M844 1377L796 1569M844 1377L749 1596M844 1377L722 1633M844 1377L765 1636M844 1377L606 1651M844 1377L653 1659M844 1377L686 1676M844 1377L566 1710M844 1377L610 1728M844 1377L688 1728M844 1377L548 1749M844 1377L590 1756M844 1377L512 1773M844 1377L710 1797M844 1377L546 1811M844 1377L611 1811M844 1377L728 1665M844 1377L762 1693M844 1377L728 1721M844 1377L725 1761M844 1377L651 1826M844 1377L688 1833M844 1377L586 1840M844 1377L631 1862M968 1379L860 1419M968 1379L720 1535M968 1379L633 1552M968 1379L686 1564M968 1379L468 1581M968 1379L633 1583M968 1379L669 1600M968 1379L717 1598M968 1379L592 1610M968 1379L512 1636M968 1379L679 1634M968 1379L813 1478M968 1379L869 1479M968 1379L760 1492M968 1379L802 1516M968 1379L765 1530M968 1379L830 1550M968 1379L745 1561M968 1379L749 1596M968 1379L798 1607M968 1379L722 1633M968 1379L765 1636M968 1379L520 1676M968 1379L686 1676M968 1379L627 1691M968 1379L688 1728M968 1379L548 1749M968 1379L590 1756M968 1379L628 1766M968 1379L682 1763M968 1379L659 1791M968 1379L546 1811M968 1379L611 1811M968 1379L728 1665M968 1379L801 1668M968 1379L762 1693M968 1379L781 1868M968 1379L651 1826M968 1379L688 1833M968 1379L631 1862M896 1402L633 1552M896 1402L686 1564M896 1402L633 1583M896 1402L635 1625M896 1402L512 1636M896 1402L679 1634M896 1402L813 1478M896 1402L869 1479M896 1402L760 1492M896 1402L802 1516M896 1402L765 1530M896 1402L830 1550M896 1402L745 1561M896 1402L796 1569M896 1402L749 1596M896 1402L765 1636M896 1402L653 1659M896 1402L627 1691M896 1402L660 1706M896 1402L524 1714M896 1402L610 1728M896 1402L548 1749M896 1402L590 1756M896 1402L628 1766M896 1402L512 1773M896 1402L580 1790M896 1402L659 1791M896 1402L546 1811M896 1402L611 1811M896 1402L728 1665M896 1402L801 1668M896 1402L762 1693M896 1402L815 1710M896 1402L728 1721M896 1402L798 1749M896 1402L725 1761M896 1402L760 1781M896 1402L651 1826M896 1402L586 1840M896 1402L681 1874M992 1404L775 1458M992 1404L720 1535M992 1404L633 1552M992 1404L597 1565M992 1404L686 1564M992 1404L468 1581M992 1404L635 1625M992 1404L464 1631M992 1404L555 1631M992 1404L679 1634M992 1404L869 1479M992 1404L922 1482M992 1404L846 1510M992 1404L802 1516M992 1404L896 1518M992 1404L830 1550M992 1404L866 1561M992 1404L796 1569M992 1404L844 1593M992 1404L749 1596M992 1404L798 1607M992 1404L722 1633M992 1404L765 1636M992 1404L653 1659M992 1404L478 1677M992 1404L686 1676M992 1404L627 1691M992 1404L487 1730M992 1404L610 1728M992 1404L590 1756M992 1404L628 1766M992 1404L512 1773M992 1404L580 1790M992 1404L546 1811M992 1404L611 1811M992 1404L728 1665M992 1404L850 1680M992 1404L815 1710M992 1404L728 1721M992 1404L651 1826M937 1409L898 1441M937 1409L686 1564M937 1409L633 1583M937 1409L508 1596M937 1409L717 1598M937 1409L592 1610M937 1409L464 1631M937 1409L512 1636M937 1409L679 1634M937 1409L869 1479M937 1409L846 1510M937 1409L802 1516M937 1409L765 1530M937 1409L830 1550M937 1409L745 1561M937 1409L796 1569M937 1409L749 1596M937 1409L798 1607M937 1409L606 1651M937 1409L653 1659M937 1409L478 1677M937 1409L686 1676M937 1409L660 1706M937 1409L487 1730M937 1409L610 1728M937 1409L688 1728M937 1409L548 1749M937 1409L590 1756M937 1409L628 1766M937 1409L682 1763M937 1409L580 1790M937 1409L659 1791M937 1409L611 1811M937 1409L850 1680M937 1409L762 1693M937 1409L725 1761M937 1409L651 1826M937 1409L586 1840M937 1409L631 1862M937 1409L681 1874M962 1427L898 1441M962 1427L675 1524M962 1427L686 1564M962 1427L669 1600M962 1427L717 1598M962 1427L592 1610M962 1427L635 1625M962 1427L555 1631M962 1427L679 1634M962 1427L813 1478M962 1427L869 1479M962 1427L846 1510M962 1427L896 1518M962 1427L765 1530M962 1427L745 1561M962 1427L796 1569M962 1427L749 1596M962 1427L798 1607M962 1427L881 1610M962 1427L722 1633M962 1427L765 1636M962 1427L828 1631M962 1427L561 1666M962 1427L653 1659M962 1427L520 1676M962 1427L686 1676M962 1427L566 1710M962 1427L610 1728M962 1427L688 1728M962 1427L548 1749M962 1427L590 1756M962 1427L628 1766M962 1427L546 1811M962 1427L611 1811M962 1427L728 1665M962 1427L801 1668M962 1427L728 1721M962 1427L767 1728M962 1427L845 1781M962 1427L727 1835M1005 1433L563 1554M1005 1433L633 1552M1005 1433L597 1565M1005 1433L686 1564M1005 1433L669 1600M1005 1433L717 1598M1005 1433L592 1610M1005 1433L635 1625M1005 1433L464 1631M1005 1433L512 1636M1005 1433L679 1634M1005 1433L813 1478M1005 1433L922 1482M1005 1433L846 1510M1005 1433L896 1518M1005 1433L830 1550M1005 1433L745 1561M1005 1433L866 1561M1005 1433L796 1569M1005 1433L798 1607M1005 1433L722 1633M1005 1433L765 1636M1005 1433L828 1631M1005 1433L606 1651M1005 1433L561 1666M1005 1433L653 1659M1005 1433L478 1677M1005 1433L520 1676M1005 1433L627 1691M1005 1433L660 1706M1005 1433L524 1714M1005 1433L610 1728M1005 1433L548 1749M1005 1433L590 1756M1005 1433L580 1790M1005 1433L762 1693M1005 1433L767 1728M1005 1433L760 1781M1005 1433L586 1840M1005 1433L681 1874M934 1450L596 1512M934 1450L633 1583M934 1450L508 1596M934 1450L669 1600M934 1450L717 1598M934 1450L635 1625M934 1450L512 1636M934 1450L679 1634M934 1450L846 1510M934 1450L802 1516M934 1450L765 1530M934 1450L830 1550M934 1450L745 1561M934 1450L866 1561M934 1450L796 1569M934 1450L844 1593M934 1450L749 1596M934 1450L798 1607M934 1450L722 1633M934 1450L828 1631M934 1450L561 1666M934 1450L653 1659M934 1450L520 1676M934 1450L686 1676M934 1450L627 1691M934 1450L566 1710M934 1450L524 1714M934 1450L610 1728M934 1450L688 1728M934 1450L548 1749M934 1450L590 1756M934 1450L512 1773M934 1450L580 1790M934 1450L546 1811M934 1450L611 1811M934 1450L728 1665M934 1450L728 1721M934 1450L651 1826M934 1450L688 1833M934 1450L586 1840M988 1457L640 1513M988 1457L720 1535M988 1457L563 1554M988 1457L633 1552M988 1457L633 1583M988 1457L550 1592M988 1457L669 1600M988 1457L717 1598M988 1457L464 1631M988 1457L555 1631M988 1457L512 1636M988 1457L869 1479M988 1457L922 1482M988 1457L760 1492M988 1457L846 1510M988 1457L896 1518M988 1457L765 1530M988 1457L830 1550M988 1457L745 1561M988 1457L866 1561M988 1457L796 1569M988 1457L749 1596M988 1457L798 1607M988 1457L722 1633M988 1457L606 1651M988 1457L653 1659M988 1457L686 1676M988 1457L627 1691M988 1457L487 1730M988 1457L610 1728M988 1457L548 1749M988 1457L590 1756M988 1457L628 1766M988 1457L512 1773M988 1457L580 1790M988 1457L611 1811M988 1457L728 1665M988 1457L815 1710M988 1457L728 1721M988 1457L725 1761M1068 1299L798 1423M1068 1299L860 1419M1068 1299L898 1441M1068 1299L775 1458M1068 1299L630 1475M1068 1299L720 1535M1068 1299L563 1554M1068 1299L468 1581M1068 1299L633 1583M1068 1299L669 1600M1068 1299L717 1598M1068 1299L464 1631M1068 1299L512 1636M1068 1299L846 1510M1068 1299L802 1516M1068 1299L896 1518M1068 1299L765 1530M1068 1299L745 1561M1068 1299L798 1607M1068 1299L828 1631M1068 1299L561 1666M1068 1299L653 1659M1068 1299L660 1706M1068 1299L566 1710M1068 1299L610 1728M1068 1299L688 1728M1068 1299L548 1749M1068 1299L875 1649M1068 1299L801 1668M1068 1299L767 1728M1068 1299L798 1749M1068 1299L906 1788M1068 1299L781 1868M1068 1299L651 1826M1068 1299L688 1833M1068 1299L586 1840M1068 1299L681 1874M1029 1330L536 1448M1029 1330L675 1454M1029 1330L898 1441M1029 1330L836 1449M1029 1330L686 1564M1029 1330L468 1581M1029 1330L550 1592M1029 1330L669 1600M1029 1330L555 1631M1029 1330L922 1482M1029 1330L760 1492M1029 1330L846 1510M1029 1330L802 1516M1029 1330L896 1518M1029 1330L765 1530M1029 1330L745 1561M1029 1330L866 1561M1029 1330L798 1607M1029 1330L722 1633M1029 1330L828 1631M1029 1330L606 1651M1029 1330L561 1666M1029 1330L653 1659M1029 1330L478 1677M1029 1330L660 1706M1029 1330L566 1710M1029 1330L610 1728M1029 1330L688 1728M1029 1330L590 1756M1029 1330L512 1773M1029 1330L580 1790M1029 1330L710 1797M1029 1330L546 1811M1029 1330L801 1668M1029 1330L815 1710M1029 1330L798 1749M1029 1330L725 1761M1029 1330L727 1835M1029 1330L651 1826M1029 1330L688 1833M1086 1329L775 1458M1086 1329L630 1475M1086 1329L722 1492M1086 1329L640 1513M1086 1329L720 1535M1086 1329L633 1552M1086 1329L635 1625M1086 1329L464 1631M1086 1329L555 1631M1086 1329L679 1634M1086 1329L869 1479M1086 1329L802 1516M1086 1329L947 1527M1086 1329L765 1530M1086 1329L866 1561M1086 1329L798 1607M1086 1329L881 1610M1086 1329L765 1636M1086 1329L686 1676M1086 1329L627 1691M1086 1329L524 1714M1086 1329L487 1730M1086 1329L610 1728M1086 1329L688 1728M1086 1329L628 1766M1086 1329L682 1763M1086 1329L659 1791M1086 1329L611 1811M1086 1329L728 1665M1086 1329L762 1693M1086 1329L815 1710M1086 1329L767 1728M1086 1329L725 1761M1086 1329L760 1781M1086 1329L631 1862M1176 1331L596 1512M1176 1331L669 1600M1176 1331L555 1631M1176 1331L679 1634M1176 1331L802 1516M1176 1331L896 1518M1176 1331L765 1530M1176 1331L745 1561M1176 1331L796 1569M1176 1331L920 1618M1176 1331L653 1659M1176 1331L478 1677M1176 1331L524 1714M1176 1331L487 1730M1176 1331L548 1749M1176 1331L659 1791M1176 1331L801 1668M1176 1331L767 1728M1176 1331L760 1781M1176 1331L681 1874M1102 1368L898 1441M1102 1368L775 1458M1102 1368L680 1488M1102 1368L482 1532M1102 1368L563 1554M1102 1368L633 1552M1102 1368L686 1564M1102 1368L468 1581M1102 1368L633 1583M1102 1368L669 1600M1102 1368L717 1598M1102 1368L635 1625M1102 1368L679 1634M1102 1368L760 1492M1102 1368L846 1510M1102 1368L802 1516M1102 1368L745 1561M1102 1368L866 1561M1102 1368L796 1569M1102 1368L913 1572M1102 1368L749 1596M1102 1368L798 1607M1102 1368L561 1666M1102 1368L686 1676M1102 1368L524 1714M1102 1368L487 1730M1102 1368L610 1728M1102 1368L688 1728M1102 1368L580 1790M1102 1368L659 1791M1102 1368L875 1649M1102 1368L850 1680M1102 1368L767 1728M1102 1368L725 1761M1102 1368L586 1840M1143 1370L675 1524M1143 1370L597 1565M1143 1370L717 1598M1143 1370L592 1610M1143 1370L555 1631M1143 1370L947 1527M1143 1370L830 1550M1143 1370L796 1569M1143 1370L961 1575M1143 1370L844 1593M1143 1370L765 1636M1143 1370L828 1631M1143 1370L653 1659M1143 1370L478 1677M1143 1370L566 1710M1143 1370L610 1728M1143 1370L590 1756M1143 1370L628 1766M1143 1370L580 1790M1143 1370L546 1811M1143 1370L918 1670M1143 1370L762 1693M1143 1370L815 1710M1143 1370L728 1721M1143 1370L767 1728M1143 1370L727 1835M1143 1370L651 1826M1055 1383L898 1441M1055 1383L597 1565M1055 1383L686 1564M1055 1383L633 1583M1055 1383L669 1600M1055 1383L717 1598M1055 1383L635 1625M1055 1383L555 1631M1055 1383L679 1634M1055 1383L869 1479M1055 1383L922 1482M1055 1383L760 1492M1055 1383L846 1510M1055 1383L896 1518M1055 1383L765 1530M1055 1383L830 1550M1055 1383L745 1561M1055 1383L866 1561M1055 1383L844 1593M1055 1383L798 1607M1055 1383L828 1631M1055 1383L606 1651M1055 1383L561 1666M1055 1383L653 1659M1055 1383L478 1677M1055 1383L686 1676M1055 1383L627 1691M1055 1383L566 1710M1055 1383L524 1714M1055 1383L610 1728M1055 1383L688 1728M1055 1383L628 1766M1055 1383L728 1665M1055 1383L850 1680M1055 1383L725 1761M1055 1383L760 1781M1055 1383L727 1835M1055 1383L731 1876M1055 1383L651 1826M1055 1383L586 1840M1134 1394L723 1403M1134 1394L675 1454M1134 1394L816 1395M1134 1394L860 1419M1134 1394L680 1488M1134 1394L640 1513M1134 1394L720 1535M1134 1394L597 1565M1134 1394L550 1592M1134 1394L717 1598M1134 1394L635 1625M1134 1394L922 1482M1134 1394L765 1530M1134 1394L830 1550M1134 1394L844 1593M1134 1394L881 1610M1134 1394L920 1618M1134 1394L765 1636M1134 1394L478 1677M1134 1394L686 1676M1134 1394L627 1691M1134 1394L566 1710M1134 1394L580 1790M1134 1394L710 1797M1134 1394L546 1811M1134 1394L850 1680M1134 1394L728 1721M1134 1394L772 1827M1134 1394L731 1876M1134 1394L631 1862M1102 1415L482 1532M1102 1415L597 1565M1102 1415L686 1564M1102 1415L633 1583M1102 1415L508 1596M1102 1415L550 1592M1102 1415L669 1600M1102 1415L717 1598M1102 1415L635 1625M1102 1415L679 1634M1102 1415L869 1479M1102 1415L846 1510M1102 1415L802 1516M1102 1415L947 1527M1102 1415L830 1550M1102 1415L844 1593M1102 1415L749 1596M1102 1415L798 1607M1102 1415L828 1631M1102 1415L606 1651M1102 1415L653 1659M1102 1415L520 1676M1102 1415L660 1706M1102 1415L524 1714M1102 1415L487 1730M1102 1415L682 1763M1102 1415L580 1790M1102 1415L875 1649M1102 1415L801 1668M1102 1415L849 1720M1102 1415L725 1761M1102 1415L772 1827M1102 1415L688 1833M1102 1415L586 1840M1102 1415L631 1862M1041 1417L630 1475M1041 1417L720 1535M1041 1417L522 1554M1041 1417L633 1552M1041 1417L597 1565M1041 1417L686 1564M1041 1417L669 1600M1041 1417L717 1598M1041 1417L464 1631M1041 1417L512 1636M1041 1417L679 1634M1041 1417L813 1478M1041 1417L869 1479M1041 1417L760 1492M1041 1417L846 1510M1041 1417L802 1516M1041 1417L896 1518M1041 1417L765 1530M1041 1417L830 1550M1041 1417L745 1561M1041 1417L866 1561M1041 1417L796 1569M1041 1417L913 1572M1041 1417L844 1593M1041 1417L798 1607M1041 1417L722 1633M1041 1417L765 1636M1041 1417L828 1631M1041 1417L653 1659M1041 1417L520 1676M1041 1417L566 1710M1041 1417L524 1714M1041 1417L548 1749M1041 1417L628 1766M1041 1417L682 1763M1041 1417L580 1790M1041 1417L611 1811M1041 1417L767 1728M1041 1417L725 1761M1041 1417L845 1781M1171 1421L677 1408M1171 1421L680 1488M1171 1421L596 1512M1171 1421L482 1532M1171 1421L522 1554M1171 1421L597 1565M1171 1421L508 1596M1171 1421L550 1592M1171 1421L669 1600M1171 1421L464 1631M1171 1421L802 1516M1171 1421L765 1530M1171 1421L745 1561M1171 1421L866 1561M1171 1421L844 1593M1171 1421L749 1596M1171 1421L606 1651M1171 1421L653 1659M1171 1421L686 1676M1171 1421L627 1691M1171 1421L524 1714M1171 1421L688 1728M1171 1421L611 1811M1171 1421L898 1715M1100 1444L680 1488M1100 1444L720 1535M1100 1444L633 1552M1100 1444L597 1565M1100 1444L686 1564M1100 1444L633 1583M1100 1444L550 1592M1100 1444L592 1610M1100 1444L635 1625M1100 1444L555 1631M1100 1444L922 1482M1100 1444L846 1510M1100 1444L947 1527M1100 1444L866 1561M1100 1444L913 1572M1100 1444L961 1575M1100 1444L844 1593M1100 1444L749 1596M1100 1444L798 1607M1100 1444L881 1610M1100 1444L722 1633M1100 1444L606 1651M1100 1444L520 1676M1100 1444L686 1676M1100 1444L660 1706M1100 1444L524 1714M1100 1444L487 1730M1100 1444L610 1728M1100 1444L548 1749M1100 1444L512 1773M1100 1444L580 1790M1100 1444L762 1693M1100 1444L728 1721M1100 1444L781 1868M1100 1444L586 1840M1100 1444L631 1862M1152 1448L677 1408M1152 1448L575 1416M1152 1448L569 1482M1152 1448L640 1513M1152 1448L720 1535M1152 1448L633 1552M1152 1448L597 1565M1152 1448L633 1583M1152 1448L679 1634M1152 1448L846 1510M1152 1448L896 1518M1152 1448L947 1527M1152 1448L830 1550M1152 1448L745 1561M1152 1448L913 1572M1152 1448L765 1636M1152 1448L561 1666M1152 1448L478 1677M1152 1448L686 1676M1152 1448L627 1691M1152 1448L566 1710M1152 1448L524 1714M1152 1448L610 1728M1152 1448L590 1756M1152 1448L728 1665M1152 1448L801 1668M1152 1448L850 1680M1152 1448L651 1826M1152 1448L631 1862M1229 1456L550 1592M1229 1456L669 1600M1229 1456L464 1631M1229 1456L922 1482M1229 1456L846 1510M1229 1456L896 1518M1229 1456L913 1572M1229 1456L961 1575M1229 1456L844 1593M1229 1456L749 1596M1229 1456L798 1607M1229 1456L881 1610M1229 1456L966 1625M1229 1456L828 1631M1229 1456L606 1651M1229 1456L590 1756M1229 1456L728 1665M1229 1456L815 1710M1229 1456L798 1749M1229 1456L772 1827M1052 1454L680 1488M1052 1454L538 1517M1052 1454L550 1592M1052 1454L669 1600M1052 1454L717 1598M1052 1454L592 1610M1052 1454L635 1625M1052 1454L679 1634M1052 1454L869 1479M1052 1454L922 1482M1052 1454L846 1510M1052 1454L802 1516M1052 1454L896 1518M1052 1454L947 1527M1052 1454L765 1530M1052 1454L745 1561M1052 1454L866 1561M1052 1454L796 1569M1052 1454L844 1593M1052 1454L749 1596M1052 1454L798 1607M1052 1454L920 1618M1052 1454L765 1636M1052 1454L653 1659M1052 1454L520 1676M1052 1454L686 1676M1052 1454L627 1691M1052 1454L660 1706M1052 1454L566 1710M1052 1454L524 1714M1052 1454L487 1730M1052 1454L610 1728M1052 1454L688 1728M1052 1454L548 1749M1052 1454L590 1756M1052 1454L628 1766M1052 1454L512 1773M1052 1454L659 1791M1052 1454L762 1693M1052 1454L651 1826M336 1473L630 1475M336 1473L675 1524M336 1473L482 1532M336 1473L563 1554M336 1473L633 1552M336 1473L597 1565M336 1473L468 1581M336 1473L633 1583M336 1473L550 1592M336 1473L669 1600M336 1473L717 1598M336 1473L592 1610M336 1473L512 1636M336 1473L679 1634M336 1473L896 1518M336 1473L947 1527M336 1473L765 1530M336 1473L830 1550M336 1473L745 1561M336 1473L866 1561M336 1473L796 1569M336 1473L844 1593M336 1473L749 1596M336 1473L798 1607M336 1473L606 1651M336 1473L710 1797M336 1473L875 1649M336 1473L728 1665M336 1473L968 1683M336 1473L762 1693M336 1473L815 1710M336 1473L898 1715M336 1473L849 1720M336 1473L767 1728M336 1473L798 1749M336 1473L935 1746M336 1473L725 1761M336 1473L760 1781M336 1473L812 1810M336 1473L772 1827M254 1482L763 1410M254 1482L836 1449M254 1482L630 1475M254 1482L569 1482M254 1482L675 1524M254 1482L482 1532M254 1482L633 1552M254 1482L597 1565M254 1482L686 1564M254 1482L468 1581M254 1482L508 1596M254 1482L550 1592M254 1482L669 1600M254 1482L717 1598M254 1482L592 1610M254 1482L635 1625M254 1482L464 1631M254 1482L555 1631M254 1482L512 1636M254 1482L846 1510M254 1482L830 1550M254 1482L745 1561M254 1482L844 1593M254 1482L920 1618M254 1482L722 1633M254 1482L765 1636M254 1482L606 1651M254 1482L561 1666M254 1482L686 1676M254 1482L627 1691M254 1482L660 1706M254 1482L566 1710M254 1482L728 1665M254 1482L815 1710M254 1482L898 1715M254 1482L728 1721M254 1482L767 1728M254 1482L871 1752M254 1482L760 1781M254 1482L731 1876M391 1478L860 1419M391 1478L538 1517M391 1478L482 1532M391 1478L522 1554M391 1478L563 1554M391 1478L633 1552M391 1478L633 1583M391 1478L508 1596M391 1478L550 1592M391 1478L669 1600M391 1478L717 1598M391 1478L555 1631M391 1478L679 1634M391 1478L869 1479M391 1478L765 1530M391 1478L745 1561M391 1478L866 1561M391 1478L961 1575M391 1478L844 1593M391 1478L749 1596M391 1478L881 1610M391 1478L722 1633M391 1478L765 1636M391 1478L606 1651M391 1478L561 1666M391 1478L653 1659M391 1478L520 1676M391 1478L660 1706M391 1478L875 1649M391 1478L918 1670M391 1478L850 1680M391 1478L968 1683M391 1478L815 1710M391 1478L898 1715M391 1478L728 1721M391 1478L871 1752M391 1478L760 1781M391 1478L772 1827M391 1478L828 1850M391 1478L781 1868M298 1494L569 1482M298 1494L482 1532M298 1494L522 1554M298 1494L563 1554M298 1494L633 1552M298 1494L597 1565M298 1494L468 1581M298 1494L633 1583M298 1494L669 1600M298 1494L717 1598M298 1494L635 1625M298 1494L555 1631M298 1494L512 1636M298 1494L679 1634M298 1494L760 1492M298 1494L802 1516M298 1494L745 1561M298 1494L866 1561M298 1494L796 1569M298 1494L844 1593M298 1494L749 1596M298 1494L798 1607M298 1494L920 1618M298 1494L966 1625M298 1494L722 1633M298 1494L627 1691M298 1494L566 1710M298 1494L524 1714M298 1494L610 1728M298 1494L688 1728M298 1494L628 1766M298 1494L682 1763M298 1494L728 1665M298 1494L801 1668M298 1494L762 1693M298 1494L898 1715M298 1494L849 1720M298 1494L906 1788M298 1494L812 1810M298 1494L870 1823M352 1504L630 1475M352 1504L596 1512M352 1504L482 1532M352 1504L563 1554M352 1504L633 1552M352 1504L597 1565M352 1504L686 1564M352 1504L468 1581M352 1504L550 1592M352 1504L669 1600M352 1504L592 1610M352 1504L555 1631M352 1504L679 1634M352 1504L830 1550M352 1504L866 1561M352 1504L796 1569M352 1504L749 1596M352 1504L798 1607M352 1504L881 1610M352 1504L722 1633M352 1504L828 1631M352 1504L606 1651M352 1504L561 1666M352 1504L653 1659M352 1504L627 1691M352 1504L660 1706M352 1504L566 1710M352 1504L682 1763M352 1504L728 1665M352 1504L918 1670M352 1504L968 1683M352 1504L815 1710M352 1504L898 1715M352 1504L849 1720M352 1504L728 1721M352 1504L798 1749M352 1504L871 1752M352 1504L845 1781M352 1504L870 1823M352 1504L772 1827M418 1500L538 1517M418 1500L482 1532M418 1500L522 1554M418 1500L563 1554M418 1500L597 1565M418 1500L686 1564M418 1500L633 1583M418 1500L550 1592M418 1500L669 1600M418 1500L717 1598M418 1500L592 1610M418 1500L635 1625M418 1500L679 1634M418 1500L947 1527M418 1500L830 1550M418 1500L866 1561M418 1500L798 1607M418 1500L881 1610M418 1500L966 1625M418 1500L722 1633M418 1500L828 1631M418 1500L686 1676M418 1500L660 1706M418 1500L710 1797M418 1500L875 1649M418 1500L728 1665M418 1500L850 1680M418 1500L968 1683M418 1500L762 1693M418 1500L898 1715M418 1500L849 1720M418 1500L728 1721M418 1500L767 1728M418 1500L935 1746M418 1500L871 1752M418 1500L760 1781M418 1500L845 1781M418 1500L906 1788M418 1500L870 1823M418 1500L828 1850M210 1507L620 1392M210 1507L898 1441M210 1507L596 1512M210 1507L720 1535M210 1507L563 1554M210 1507L633 1552M210 1507L597 1565M210 1507L686 1564M210 1507L468 1581M210 1507L508 1596M210 1507L669 1600M210 1507L635 1625M210 1507L464 1631M210 1507L555 1631M210 1507L512 1636M210 1507L679 1634M210 1507L802 1516M210 1507L765 1530M210 1507L796 1569M210 1507L913 1572M210 1507L844 1593M210 1507L749 1596M210 1507L798 1607M210 1507L881 1610M210 1507L920 1618M210 1507L561 1666M210 1507L478 1677M210 1507L520 1676M210 1507L627 1691M210 1507L548 1749M210 1507L590 1756M210 1507L628 1766M210 1507L580 1790M210 1507L875 1649M210 1507L918 1670M210 1507L968 1683M210 1507L762 1693M210 1507L728 1721M210 1507L871 1752M210 1507L906 1788M382 1522L680 1488M382 1522L640 1513M382 1522L522 1554M382 1522L633 1552M382 1522L597 1565M382 1522L686 1564M382 1522L633 1583M382 1522L508 1596M382 1522L550 1592M382 1522L669 1600M382 1522L717 1598M382 1522L592 1610M382 1522L635 1625M382 1522L896 1518M382 1522L765 1530M382 1522L830 1550M382 1522L961 1575M382 1522L844 1593M382 1522L798 1607M382 1522L920 1618M382 1522L966 1625M382 1522L722 1633M382 1522L765 1636M382 1522L828 1631M382 1522L606 1651M382 1522L561 1666M382 1522L653 1659M382 1522L686 1676M382 1522L627 1691M382 1522L918 1670M382 1522L850 1680M382 1522L968 1683M382 1522L762 1693M382 1522L815 1710M382 1522L898 1715M382 1522L767 1728M382 1522L798 1749M382 1522L935 1746M382 1522L845 1781M382 1522L906 1788M321 1520L860 1419M321 1520L680 1488M321 1520L538 1517M321 1520L482 1532M321 1520L522 1554M321 1520L563 1554M321 1520L633 1552M321 1520L597 1565M321 1520L686 1564M321 1520L468 1581M321 1520L508 1596M321 1520L550 1592M321 1520L717 1598M321 1520L592 1610M321 1520L635 1625M321 1520L555 1631M321 1520L512 1636M321 1520L679 1634M321 1520L869 1479M321 1520L802 1516M321 1520L830 1550M321 1520L866 1561M321 1520L844 1593M321 1520L798 1607M321 1520L920 1618M321 1520L722 1633M321 1520L765 1636M321 1520L520 1676M321 1520L686 1676M321 1520L628 1766M321 1520L659 1791M321 1520L728 1665M321 1520L801 1668M321 1520L918 1670M321 1520L850 1680M321 1520L815 1710M321 1520L898 1715M321 1520L849 1720M321 1520L767 1728M321 1520L688 1833M247 1527L763 1410M247 1527L640 1513M247 1527L675 1524M247 1527L522 1554M247 1527L597 1565M247 1527L686 1564M247 1527L633 1583M247 1527L550 1592M247 1527L592 1610M247 1527L464 1631M247 1527L679 1634M247 1527L813 1478M247 1527L869 1479M247 1527L922 1482M247 1527L802 1516M247 1527L765 1530M247 1527L830 1550M247 1527L745 1561M247 1527L796 1569M247 1527L749 1596M247 1527L966 1625M247 1527L722 1633M247 1527L765 1636M247 1527L561 1666M247 1527L653 1659M247 1527L478 1677M247 1527L686 1676M247 1527L627 1691M247 1527L610 1728M247 1527L548 1749M247 1527L659 1791M247 1527L875 1649M247 1527L968 1683M247 1527L762 1693M247 1527L898 1715M247 1527L849 1720M247 1527L728 1721M247 1527L871 1752M247 1527L760 1781M247 1527L727 1835M290 1540L569 1482M290 1540L505 1487M290 1540L722 1492M290 1540L675 1524M290 1540L720 1535M290 1540L563 1554M290 1540L633 1552M290 1540L597 1565M290 1540L468 1581M290 1540L550 1592M290 1540L669 1600M290 1540L717 1598M290 1540L592 1610M290 1540L635 1625M290 1540L464 1631M290 1540L512 1636M290 1540L813 1478M290 1540L869 1479M290 1540L947 1527M290 1540L765 1530M290 1540L830 1550M290 1540L745 1561M290 1540L866 1561M290 1540L961 1575M290 1540L798 1607M290 1540L920 1618M290 1540L722 1633M290 1540L765 1636M290 1540L653 1659M290 1540L627 1691M290 1540L688 1728M290 1540L682 1763M290 1540L611 1811M290 1540L801 1668M290 1540L850 1680M290 1540L762 1693M290 1540L849 1720M290 1540L725 1761M290 1540L812 1810M290 1540L870 1823M194 1549L675 1454M194 1549L816 1395M194 1549L836 1449M194 1549L722 1492M194 1549L640 1513M194 1549L538 1517M194 1549L482 1532M194 1549L522 1554M194 1549L563 1554M194 1549L597 1565M194 1549L686 1564M194 1549L468 1581M194 1549L508 1596M194 1549L550 1592M194 1549L669 1600M194 1549L717 1598M194 1549L635 1625M194 1549L464 1631M194 1549L512 1636M194 1549L813 1478M194 1549L846 1510M194 1549L896 1518M194 1549L765 1530M194 1549L830 1550M194 1549L866 1561M194 1549L844 1593M194 1549L749 1596M194 1549L798 1607M194 1549L722 1633M194 1549L606 1651M194 1549L561 1666M194 1549L487 1730M194 1549L610 1728M194 1549L682 1763M194 1549L968 1683M194 1549L898 1715M194 1549L728 1721M194 1549L935 1746M194 1549L871 1752M194 1549L725 1761M348 1548L720 1535M348 1548L522 1554M348 1548L563 1554M348 1548L633 1552M348 1548L597 1565M348 1548L468 1581M348 1548L508 1596M348 1548L669 1600M348 1548L717 1598M348 1548L592 1610M348 1548L635 1625M348 1548L555 1631M348 1548L512 1636M348 1548L679 1634M348 1548L813 1478M348 1548L765 1530M348 1548L866 1561M348 1548L796 1569M348 1548L844 1593M348 1548L749 1596M348 1548L881 1610M348 1548L722 1633M348 1548L765 1636M348 1548L828 1631M348 1548L606 1651M348 1548L561 1666M348 1548L627 1691M348 1548L660 1706M348 1548L688 1728M348 1548L875 1649M348 1548L850 1680M348 1548L762 1693M348 1548L815 1710M348 1548L898 1715M348 1548L935 1746M348 1548L871 1752M348 1548L725 1761M348 1548L906 1788M348 1548L727 1835M348 1548L781 1868M404 1548L522 1554M404 1548L633 1552M404 1548L597 1565M404 1548L686 1564M404 1548L633 1583M404 1548L508 1596M404 1548L550 1592M404 1548L669 1600M404 1548L592 1610M404 1548L635 1625M404 1548L745 1561M404 1548L866 1561M404 1548L913 1572M404 1548L961 1575M404 1548L844 1593M404 1548L749 1596M404 1548L798 1607M404 1548L920 1618M404 1548L966 1625M404 1548L765 1636M404 1548L828 1631M404 1548L606 1651M404 1548L686 1676M404 1548L627 1691M404 1548L688 1728M404 1548L682 1763M404 1548L728 1665M404 1548L801 1668M404 1548L918 1670M404 1548L968 1683M404 1548L762 1693M404 1548L815 1710M404 1548L898 1715M404 1548L849 1720M404 1548L798 1749M404 1548L845 1781M404 1548L906 1788M404 1548L870 1823M404 1548L828 1850M404 1548L781 1868M142 1564L668 1378M142 1564L641 1424M142 1564L609 1441M142 1564L596 1512M142 1564L720 1535M142 1564L522 1554M142 1564L563 1554M142 1564L686 1564M142 1564L468 1581M142 1564L508 1596M142 1564L550 1592M142 1564L669 1600M142 1564L717 1598M142 1564L592 1610M142 1564L635 1625M142 1564L464 1631M142 1564L555 1631M142 1564L512 1636M142 1564L869 1479M142 1564L947 1527M142 1564L765 1530M142 1564L745 1561M142 1564L866 1561M142 1564L844 1593M142 1564L920 1618M142 1564L653 1659M142 1564L566 1710M142 1564L524 1714M142 1564L688 1728M142 1564L659 1791M142 1564L875 1649M142 1564L918 1670M142 1564L850 1680M142 1564L968 1683M142 1564L815 1710M142 1564L898 1715M142 1564L849 1720M142 1564L767 1728M142 1564L725 1761M142 1564L772 1827M301 1566L569 1482M301 1566L722 1492M301 1566L720 1535M301 1566L633 1552M301 1566L686 1564M301 1566L468 1581M301 1566L508 1596M301 1566L717 1598M301 1566L592 1610M301 1566L635 1625M301 1566L555 1631M301 1566L512 1636M301 1566L679 1634M301 1566L869 1479M301 1566L802 1516M301 1566L961 1575M301 1566L844 1593M301 1566L749 1596M301 1566L798 1607M301 1566L966 1625M301 1566L722 1633M301 1566L765 1636M301 1566L606 1651M301 1566L561 1666M301 1566L653 1659M301 1566L627 1691M301 1566L660 1706M301 1566L487 1730M301 1566L688 1728M301 1566L728 1665M301 1566L801 1668M301 1566L918 1670M301 1566L968 1683M301 1566L762 1693M301 1566L849 1720M301 1566L935 1746M301 1566L871 1752M301 1566L725 1761M301 1566L906 1788M301 1566L727 1835M239 1569L798 1423M239 1569L640 1513M239 1569L522 1554M239 1569L633 1552M239 1569L597 1565M239 1569L468 1581M239 1569L633 1583M239 1569L550 1592M239 1569L669 1600M239 1569L635 1625M239 1569L464 1631M239 1569L512 1636M239 1569L760 1492M239 1569L802 1516M239 1569L896 1518M239 1569L947 1527M239 1569L830 1550M239 1569L866 1561M239 1569L796 1569M239 1569L961 1575M239 1569L749 1596M239 1569L798 1607M239 1569L722 1633M239 1569L828 1631M239 1569L606 1651M239 1569L653 1659M239 1569L686 1676M239 1569L627 1691M239 1569L590 1756M239 1569L710 1797M239 1569L875 1649M239 1569L728 1665M239 1569L801 1668M239 1569L762 1693M239 1569L849 1720M239 1569L871 1752M239 1569L760 1781M239 1569L845 1781M239 1569L812 1810M239 1569L688 1833M379 1572L722 1492M379 1572L596 1512M379 1572L720 1535M379 1572L563 1554M379 1572L633 1552M379 1572L686 1564M379 1572L468 1581M379 1572L633 1583M379 1572L550 1592M379 1572L592 1610M379 1572L635 1625M379 1572L555 1631M379 1572L679 1634M379 1572L947 1527M379 1572L830 1550M379 1572L745 1561M379 1572L961 1575M379 1572L749 1596M379 1572L798 1607M379 1572L966 1625M379 1572L722 1633M379 1572L765 1636M379 1572L828 1631M379 1572L653 1659M379 1572L686 1676M379 1572L660 1706M379 1572L610 1728M379 1572L682 1763M379 1572L801 1668M379 1572L918 1670M379 1572L968 1683M379 1572L762 1693M379 1572L815 1710M379 1572L898 1715M379 1572L767 1728M379 1572L798 1749M379 1572L871 1752M379 1572L845 1781M379 1572L870 1823M379 1572L828 1850M282 1588L860 1419M282 1588L630 1475M282 1588L505 1487M282 1588L640 1513M282 1588L468 1581M282 1588L633 1583M282 1588L669 1600M282 1588L717 1598M282 1588L592 1610M282 1588L464 1631M282 1588L555 1631M282 1588L512 1636M282 1588L813 1478M282 1588L765 1530M282 1588L830 1550M282 1588L866 1561M282 1588L913 1572M282 1588L749 1596M282 1588L798 1607M282 1588L881 1610M282 1588L920 1618M282 1588L966 1625M282 1588L722 1633M282 1588L828 1631M282 1588L606 1651M282 1588L561 1666M282 1588L653 1659M282 1588L627 1691M282 1588L660 1706M282 1588L610 1728M282 1588L682 1763M282 1588L728 1665M282 1588L801 1668M282 1588L762 1693M282 1588L898 1715M282 1588L728 1721M282 1588L935 1746M282 1588L871 1752M282 1588L906 1788M282 1588L828 1850M336 1589L677 1408M336 1589L680 1488M336 1589L522 1554M336 1589L597 1565M336 1589L686 1564M336 1589L468 1581M336 1589L633 1583M336 1589L508 1596M336 1589L550 1592M336 1589L717 1598M336 1589L592 1610M336 1589L635 1625M336 1589L555 1631M336 1589L512 1636M336 1589L679 1634M336 1589L813 1478M336 1589L869 1479M336 1589L947 1527M336 1589L961 1575M336 1589L844 1593M336 1589L749 1596M336 1589L881 1610M336 1589L920 1618M336 1589L722 1633M336 1589L828 1631M336 1589L686 1676M336 1589L682 1763M336 1589L659 1791M336 1589L875 1649M336 1589L728 1665M336 1589L801 1668M336 1589L918 1670M336 1589L850 1680M336 1589L968 1683M336 1589L849 1720M336 1589L728 1721M336 1589L767 1728M336 1589L935 1746M336 1589L871 1752M336 1589L845 1781M181 1606L630 1475M181 1606L596 1512M181 1606L640 1513M181 1606L675 1524M181 1606L720 1535M181 1606L522 1554M181 1606L633 1552M181 1606L597 1565M181 1606L633 1583M181 1606L508 1596M181 1606L550 1592M181 1606L592 1610M181 1606L635 1625M181 1606L464 1631M181 1606L555 1631M181 1606L869 1479M181 1606L745 1561M181 1606L844 1593M181 1606L749 1596M181 1606L828 1631M181 1606L606 1651M181 1606L653 1659M181 1606L478 1677M181 1606L520 1676M181 1606L524 1714M181 1606L487 1730M181 1606L610 1728M181 1606L688 1728M181 1606L590 1756M181 1606L875 1649M181 1606L728 1665M181 1606L801 1668M181 1606L918 1670M181 1606L850 1680M181 1606L762 1693M181 1606L815 1710M181 1606L728 1721M181 1606L767 1728M181 1606L798 1749M181 1606L727 1835M382 1609L720 1535M382 1609L597 1565M382 1609L468 1581M382 1609L633 1583M382 1609L508 1596M382 1609L669 1600M382 1609L717 1598M382 1609L592 1610M382 1609L635 1625M382 1609L464 1631M382 1609L555 1631M382 1609L512 1636M382 1609L679 1634M382 1609L802 1516M382 1609L896 1518M382 1609L830 1550M382 1609L745 1561M382 1609L866 1561M382 1609L913 1572M382 1609L961 1575M382 1609L749 1596M382 1609L798 1607M382 1609L881 1610M382 1609L722 1633M382 1609L765 1636M382 1609L606 1651M382 1609L561 1666M382 1609L653 1659M382 1609L686 1676M382 1609L660 1706M382 1609L688 1728M382 1609L875 1649M382 1609L728 1665M382 1609L801 1668M382 1609L762 1693M382 1609L815 1710M382 1609L849 1720M382 1609L728 1721M382 1609L871 1752M382 1609L725 1761M260 1610L898 1441M260 1610L633 1552M260 1610L597 1565M260 1610L468 1581M260 1610L633 1583M260 1610L592 1610M260 1610L464 1631M260 1610L555 1631M260 1610L679 1634M260 1610L813 1478M260 1610L869 1479M260 1610L760 1492M260 1610L765 1530M260 1610L830 1550M260 1610L866 1561M260 1610L796 1569M260 1610L913 1572M260 1610L961 1575M260 1610L749 1596M260 1610L606 1651M260 1610L561 1666M260 1610L653 1659M260 1610L686 1676M260 1610L660 1706M260 1610L566 1710M260 1610L590 1756M260 1610L628 1766M260 1610L580 1790M260 1610L875 1649M260 1610L801 1668M260 1610L918 1670M260 1610L815 1710M260 1610L898 1715M260 1610L849 1720M260 1610L728 1721M260 1610L767 1728M260 1610L935 1746M260 1610L845 1781M260 1610L727 1835M260 1610L828 1850M426 1622L633 1552M426 1622L633 1583M426 1622L669 1600M426 1622L717 1598M426 1622L592 1610M426 1622L635 1625M426 1622L464 1631M426 1622L555 1631M426 1622L512 1636M426 1622L679 1634M426 1622L846 1510M426 1622L896 1518M426 1622L765 1530M426 1622L745 1561M426 1622L866 1561M426 1622L796 1569M426 1622L913 1572M426 1622L961 1575M426 1622L844 1593M426 1622L749 1596M426 1622L798 1607M426 1622L920 1618M426 1622L966 1625M426 1622L722 1633M426 1622L765 1636M426 1622L828 1631M426 1622L606 1651M426 1622L653 1659M426 1622L686 1676M426 1622L660 1706M426 1622L875 1649M426 1622L850 1680M426 1622L968 1683M426 1622L815 1710M426 1622L849 1720M426 1622L767 1728M426 1622L798 1749M426 1622L725 1761M426 1622L845 1781M426 1622L906 1788M233 1632L836 1449M233 1632L569 1482M233 1632L680 1488M233 1632L675 1524M233 1632L482 1532M233 1632L720 1535M233 1632L468 1581M233 1632L633 1583M233 1632L508 1596M233 1632L550 1592M233 1632L669 1600M233 1632L717 1598M233 1632L635 1625M233 1632L464 1631M233 1632L512 1636M233 1632L869 1479M233 1632L922 1482M233 1632L802 1516M233 1632L830 1550M233 1632L796 1569M233 1632L913 1572M233 1632L749 1596M233 1632L881 1610M233 1632L920 1618M233 1632L966 1625M233 1632L828 1631M233 1632L606 1651M233 1632L561 1666M233 1632L478 1677M233 1632L520 1676M233 1632L686 1676M233 1632L627 1691M233 1632L660 1706M233 1632L610 1728M233 1632L688 1728M233 1632L728 1665M233 1632L918 1670M233 1632L850 1680M233 1632L728 1721M233 1632L870 1823M286 1634L719 1373M286 1634L763 1410M286 1634L729 1441M286 1634L630 1475M286 1634L680 1488M286 1634L508 1596M286 1634L550 1592M286 1634L717 1598M286 1634L592 1610M286 1634L464 1631M286 1634L555 1631M286 1634L512 1636M286 1634L760 1492M286 1634L846 1510M286 1634L802 1516M286 1634L745 1561M286 1634L866 1561M286 1634L961 1575M286 1634L844 1593M286 1634L798 1607M286 1634L920 1618M286 1634L966 1625M286 1634L606 1651M286 1634L653 1659M286 1634L478 1677M286 1634L520 1676M286 1634L627 1691M286 1634L566 1710M286 1634L524 1714M286 1634L610 1728M286 1634L688 1728M286 1634L682 1763M286 1634L659 1791M286 1634L875 1649M286 1634L728 1665M286 1634L918 1670M286 1634L968 1683M286 1634L815 1710M286 1634L812 1810M286 1634L870 1823M345 1629L860 1419M345 1629L836 1449M345 1629L597 1565M345 1629L686 1564M345 1629L633 1583M345 1629L550 1592M345 1629L669 1600M345 1629L717 1598M345 1629L592 1610M345 1629L635 1625M345 1629L555 1631M345 1629L512 1636M345 1629L679 1634M345 1629L869 1479M345 1629L922 1482M345 1629L760 1492M345 1629L802 1516M345 1629L947 1527M345 1629L765 1530M345 1629L830 1550M345 1629L844 1593M345 1629L798 1607M345 1629L881 1610M345 1629L920 1618M345 1629L722 1633M345 1629L765 1636M345 1629L606 1651M345 1629L520 1676M345 1629L686 1676M345 1629L660 1706M345 1629L628 1766M345 1629L875 1649M345 1629L728 1665M345 1629L801 1668M345 1629L762 1693M345 1629L849 1720M345 1629L728 1721M345 1629L935 1746M345 1629L725 1761M345 1629L760 1781M465 1490L538 1517M465 1490L675 1524M465 1490L563 1554M465 1490L633 1552M465 1490L597 1565M465 1490L686 1564M465 1490L633 1583M465 1490L669 1600M465 1490L717 1598M465 1490L592 1610M465 1490L635 1625M465 1490L679 1634M465 1490L866 1561M465 1490L796 1569M465 1490L749 1596M465 1490L798 1607M465 1490L881 1610M465 1490L722 1633M465 1490L765 1636M465 1490L828 1631M465 1490L606 1651M465 1490L686 1676M465 1490L660 1706M465 1490L688 1728M465 1490L875 1649M465 1490L801 1668M465 1490L918 1670M465 1490L850 1680M465 1490L968 1683M465 1490L762 1693M465 1490L898 1715M465 1490L728 1721M465 1490L767 1728M465 1490L798 1749M465 1490L871 1752M465 1490L725 1761M465 1490L760 1781M465 1490L906 1788M465 1490L812 1810M465 1490L781 1868M452 1539L720 1535M452 1539L522 1554M452 1539L633 1552M452 1539L597 1565M452 1539L686 1564M452 1539L633 1583M452 1539L550 1592M452 1539L669 1600M452 1539L717 1598M452 1539L592 1610M452 1539L635 1625M452 1539L679 1634M452 1539L830 1550M452 1539L913 1572M452 1539L844 1593M452 1539L749 1596M452 1539L881 1610M452 1539L920 1618M452 1539L765 1636M452 1539L606 1651M452 1539L653 1659M452 1539L686 1676M452 1539L660 1706M452 1539L875 1649M452 1539L728 1665M452 1539L801 1668M452 1539L918 1670M452 1539L850 1680M452 1539L968 1683M452 1539L762 1693M452 1539L815 1710M452 1539L898 1715M452 1539L849 1720M452 1539L798 1749M452 1539L935 1746M452 1539L725 1761M452 1539L845 1781M452 1539L906 1788M452 1539L812 1810M452 1539L870 1823M439 1581L720 1535M439 1581L633 1552M439 1581L597 1565M439 1581L686 1564M439 1581L468 1581M439 1581L633 1583M439 1581L508 1596M439 1581L550 1592M439 1581L669 1600M439 1581L717 1598M439 1581L592 1610M439 1581L635 1625M439 1581L555 1631M439 1581L830 1550M439 1581L745 1561M439 1581L796 1569M439 1581L844 1593M439 1581L749 1596M439 1581L798 1607M439 1581L920 1618M439 1581L966 1625M439 1581L722 1633M439 1581L765 1636M439 1581L606 1651M439 1581L653 1659M439 1581L686 1676M439 1581L710 1797M439 1581L875 1649M439 1581L801 1668M439 1581L918 1670M439 1581L850 1680M439 1581L815 1710M439 1581L898 1715M439 1581L849 1720M439 1581L728 1721M439 1581L798 1749M439 1581L935 1746M439 1581L871 1752M439 1581L906 1788M439 1581L828 1850M1123 1473L641 1424M1123 1473L898 1441M1123 1473L640 1513M1123 1473L675 1524M1123 1473L633 1552M1123 1473L686 1564M1123 1473L633 1583M1123 1473L550 1592M1123 1473L592 1610M1123 1473L555 1631M1123 1473L679 1634M1123 1473L760 1492M1123 1473L802 1516M1123 1473L830 1550M1123 1473L866 1561M1123 1473L913 1572M1123 1473L961 1575M1123 1473L844 1593M1123 1473L798 1607M1123 1473L881 1610M1123 1473L920 1618M1123 1473L828 1631M1123 1473L478 1677M1123 1473L520 1676M1123 1473L660 1706M1123 1473L590 1756M1123 1473L512 1773M1123 1473L875 1649M1123 1473L801 1668M1123 1473L728 1721M1123 1473L767 1728M1123 1473L586 1840M1123 1473L631 1862M1063 1479L675 1524M1063 1479L633 1552M1063 1479L597 1565M1063 1479L686 1564M1063 1479L669 1600M1063 1479L592 1610M1063 1479L635 1625M1063 1479L846 1510M1063 1479L802 1516M1063 1479L896 1518M1063 1479L947 1527M1063 1479L765 1530M1063 1479L745 1561M1063 1479L866 1561M1063 1479L913 1572M1063 1479L961 1575M1063 1479L844 1593M1063 1479L749 1596M1063 1479L798 1607M1063 1479L881 1610M1063 1479L722 1633M1063 1479L765 1636M1063 1479L828 1631M1063 1479L606 1651M1063 1479L561 1666M1063 1479L686 1676M1063 1479L627 1691M1063 1479L660 1706M1063 1479L566 1710M1063 1479L524 1714M1063 1479L487 1730M1063 1479L688 1728M1063 1479L548 1749M1063 1479L590 1756M1063 1479L628 1766M1063 1479L512 1773M1063 1479L710 1797M1063 1479L801 1668M1063 1479L815 1710M1063 1479L651 1826M1012 1493L596 1512M1012 1493L640 1513M1012 1493L720 1535M1012 1493L563 1554M1012 1493L686 1564M1012 1493L468 1581M1012 1493L633 1583M1012 1493L717 1598M1012 1493L635 1625M1012 1493L464 1631M1012 1493L555 1631M1012 1493L679 1634M1012 1493L802 1516M1012 1493L947 1527M1012 1493L830 1550M1012 1493L745 1561M1012 1493L866 1561M1012 1493L796 1569M1012 1493L913 1572M1012 1493L844 1593M1012 1493L798 1607M1012 1493L722 1633M1012 1493L765 1636M1012 1493L828 1631M1012 1493L653 1659M1012 1493L686 1676M1012 1493L566 1710M1012 1493L524 1714M1012 1493L487 1730M1012 1493L688 1728M1012 1493L590 1756M1012 1493L628 1766M1012 1493L512 1773M1012 1493L710 1797M1012 1493L546 1811M1012 1493L611 1811M1012 1493L875 1649M1012 1493L762 1693M1012 1493L725 1761M1012 1493L586 1840M1174 1496L675 1524M1174 1496L563 1554M1174 1496L597 1565M1174 1496L508 1596M1174 1496L635 1625M1174 1496L464 1631M1174 1496L922 1482M1174 1496L846 1510M1174 1496L802 1516M1174 1496L947 1527M1174 1496L866 1561M1174 1496L913 1572M1174 1496L961 1575M1174 1496L966 1625M1174 1496L722 1633M1174 1496L765 1636M1174 1496L653 1659M1174 1496L524 1714M1174 1496L487 1730M1174 1496L682 1763M1174 1496L659 1791M1174 1496L801 1668M1174 1496L898 1715M1174 1496L849 1720M1174 1496L798 1749M1174 1496L725 1761M1088 1500L640 1513M1088 1500L597 1565M1088 1500L468 1581M1088 1500L633 1583M1088 1500L508 1596M1088 1500L550 1592M1088 1500L717 1598M1088 1500L592 1610M1088 1500L635 1625M1088 1500L555 1631M1088 1500L512 1636M1088 1500L679 1634M1088 1500L813 1478M1088 1500L896 1518M1088 1500L947 1527M1088 1500L866 1561M1088 1500L796 1569M1088 1500L913 1572M1088 1500L961 1575M1088 1500L844 1593M1088 1500L749 1596M1088 1500L798 1607M1088 1500L881 1610M1088 1500L722 1633M1088 1500L765 1636M1088 1500L828 1631M1088 1500L606 1651M1088 1500L561 1666M1088 1500L653 1659M1088 1500L520 1676M1088 1500L590 1756M1088 1500L628 1766M1088 1500L580 1790M1088 1500L801 1668M1088 1500L762 1693M1088 1500L849 1720M1088 1500L767 1728M1135 1515L677 1408M1135 1515L538 1517M1135 1515L468 1581M1135 1515L508 1596M1135 1515L669 1600M1135 1515L717 1598M1135 1515L635 1625M1135 1515L464 1631M1135 1515L512 1636M1135 1515L679 1634M1135 1515L922 1482M1135 1515L802 1516M1135 1515L896 1518M1135 1515L830 1550M1135 1515L745 1561M1135 1515L866 1561M1135 1515L796 1569M1135 1515L961 1575M1135 1515L798 1607M1135 1515L881 1610M1135 1515L722 1633M1135 1515L828 1631M1135 1515L520 1676M1135 1515L627 1691M1135 1515L660 1706M1135 1515L524 1714M1135 1515L610 1728M1135 1515L512 1773M1135 1515L580 1790M1135 1515L710 1797M1135 1515L728 1665M1135 1515L760 1781M979 1520L482 1532M979 1520L563 1554M979 1520L633 1552M979 1520L686 1564M979 1520L633 1583M979 1520L508 1596M979 1520L550 1592M979 1520L717 1598M979 1520L592 1610M979 1520L635 1625M979 1520L512 1636M979 1520L679 1634M979 1520L760 1492M979 1520L802 1516M979 1520L896 1518M979 1520L947 1527M979 1520L830 1550M979 1520L745 1561M979 1520L866 1561M979 1520L796 1569M979 1520L844 1593M979 1520L722 1633M979 1520L765 1636M979 1520L606 1651M979 1520L653 1659M979 1520L478 1677M979 1520L686 1676M979 1520L627 1691M979 1520L660 1706M979 1520L524 1714M979 1520L688 1728M979 1520L590 1756M979 1520L628 1766M979 1520L512 1773M979 1520L611 1811M979 1520L762 1693M979 1520L760 1781M979 1520L727 1835M979 1520L651 1826M979 1520L586 1840M1034 1519L722 1492M1034 1519L675 1524M1034 1519L633 1552M1034 1519L597 1565M1034 1519L686 1564M1034 1519L468 1581M1034 1519L633 1583M1034 1519L508 1596M1034 1519L550 1592M1034 1519L669 1600M1034 1519L717 1598M1034 1519L592 1610M1034 1519L635 1625M1034 1519L679 1634M1034 1519L947 1527M1034 1519L765 1530M1034 1519L830 1550M1034 1519L866 1561M1034 1519L913 1572M1034 1519L961 1575M1034 1519L844 1593M1034 1519L749 1596M1034 1519L798 1607M1034 1519L722 1633M1034 1519L828 1631M1034 1519L606 1651M1034 1519L561 1666M1034 1519L653 1659M1034 1519L478 1677M1034 1519L520 1676M1034 1519L686 1676M1034 1519L627 1691M1034 1519L660 1706M1034 1519L524 1714M1034 1519L688 1728M1034 1519L590 1756M1034 1519L628 1766M1034 1519L580 1790M1034 1519L659 1791M1034 1519L728 1665M1092 1528L563 1554M1092 1528L633 1552M1092 1528L597 1565M1092 1528L686 1564M1092 1528L633 1583M1092 1528L508 1596M1092 1528L555 1631M1092 1528L512 1636M1092 1528L679 1634M1092 1528L922 1482M1092 1528L802 1516M1092 1528L896 1518M1092 1528L765 1530M1092 1528L830 1550M1092 1528L796 1569M1092 1528L913 1572M1092 1528L961 1575M1092 1528L798 1607M1092 1528L881 1610M1092 1528L920 1618M1092 1528L722 1633M1092 1528L653 1659M1092 1528L686 1676M1092 1528L627 1691M1092 1528L660 1706M1092 1528L566 1710M1092 1528L524 1714M1092 1528L610 1728M1092 1528L688 1728M1092 1528L548 1749M1092 1528L628 1766M1092 1528L512 1773M1092 1528L580 1790M1092 1528L546 1811M1092 1528L875 1649M1092 1528L801 1668M1092 1528L850 1680M1183 1528L569 1482M1183 1528L675 1524M1183 1528L482 1532M1183 1528L522 1554M1183 1528L550 1592M1183 1528L464 1631M1183 1528L679 1634M1183 1528L896 1518M1183 1528L765 1530M1183 1528L745 1561M1183 1528L866 1561M1183 1528L798 1607M1183 1528L881 1610M1183 1528L920 1618M1183 1528L966 1625M1183 1528L722 1633M1183 1528L520 1676M1183 1528L524 1714M1183 1528L590 1756M1183 1528L628 1766M1183 1528L875 1649M1183 1528L801 1668M1183 1528L918 1670M1183 1528L898 1715M1183 1528L725 1761M1049 1544L536 1448M1049 1544L569 1482M1049 1544L720 1535M1049 1544L508 1596M1049 1544L550 1592M1049 1544L669 1600M1049 1544L464 1631M1049 1544L512 1636M1049 1544L679 1634M1049 1544L765 1530M1049 1544L830 1550M1049 1544L866 1561M1049 1544L796 1569M1049 1544L913 1572M1049 1544L961 1575M1049 1544L844 1593M1049 1544L749 1596M1049 1544L798 1607M1049 1544L920 1618M1049 1544L828 1631M1049 1544L606 1651M1049 1544L561 1666M1049 1544L653 1659M1049 1544L520 1676M1049 1544L686 1676M1049 1544L627 1691M1049 1544L660 1706M1049 1544L566 1710M1049 1544L524 1714M1049 1544L610 1728M1049 1544L688 1728M1049 1544L590 1756M1049 1544L682 1763M1049 1544L580 1790M1049 1544L611 1811M1049 1544L875 1649M1049 1544L728 1665M1049 1544L801 1668M1049 1544L728 1721M1049 1544L798 1749M1222 1545L505 1487M1222 1545L538 1517M1222 1545L675 1524M1222 1545L563 1554M1222 1545L686 1564M1222 1545L555 1631M1222 1545L813 1478M1222 1545L802 1516M1222 1545L947 1527M1222 1545L745 1561M1222 1545L961 1575M1222 1545L844 1593M1222 1545L966 1625M1222 1545L722 1633M1222 1545L653 1659M1222 1545L566 1710M1222 1545L611 1811M1222 1545L728 1665M1222 1545L815 1710M1222 1545L586 1840M1145 1551L630 1475M1145 1551L640 1513M1145 1551L482 1532M1145 1551L597 1565M1145 1551L686 1564M1145 1551L592 1610M1145 1551L635 1625M1145 1551L555 1631M1145 1551L679 1634M1145 1551L846 1510M1145 1551L896 1518M1145 1551L765 1530M1145 1551L830 1550M1145 1551L961 1575M1145 1551L844 1593M1145 1551L749 1596M1145 1551L966 1625M1145 1551L722 1633M1145 1551L765 1636M1145 1551L606 1651M1145 1551L686 1676M1145 1551L627 1691M1145 1551L660 1706M1145 1551L524 1714M1145 1551L610 1728M1145 1551L682 1763M1145 1551L580 1790M1145 1551L898 1715M1145 1551L728 1721M1145 1551L725 1761M1145 1551L651 1826M1001 1561L569 1482M1001 1561L596 1512M1001 1561L720 1535M1001 1561L522 1554M1001 1561L597 1565M1001 1561L686 1564M1001 1561L468 1581M1001 1561L550 1592M1001 1561L669 1600M1001 1561L717 1598M1001 1561L635 1625M1001 1561L512 1636M1001 1561L679 1634M1001 1561L765 1530M1001 1561L745 1561M1001 1561L866 1561M1001 1561L796 1569M1001 1561L913 1572M1001 1561L844 1593M1001 1561L749 1596M1001 1561L881 1610M1001 1561L722 1633M1001 1561L828 1631M1001 1561L606 1651M1001 1561L561 1666M1001 1561L686 1676M1001 1561L627 1691M1001 1561L524 1714M1001 1561L610 1728M1001 1561L688 1728M1001 1561L590 1756M1001 1561L628 1766M1001 1561L682 1763M1001 1561L728 1665M1001 1561L801 1668M1001 1561L762 1693M1001 1561L815 1710M1001 1561L767 1728M1001 1561L760 1781M1001 1561L631 1862M1086 1564L569 1482M1086 1564L482 1532M1086 1564L720 1535M1086 1564L522 1554M1086 1564L686 1564M1086 1564L669 1600M1086 1564L592 1610M1086 1564L635 1625M1086 1564L464 1631M1086 1564L555 1631M1086 1564L765 1530M1086 1564L745 1561M1086 1564L866 1561M1086 1564L913 1572M1086 1564L844 1593M1086 1564L798 1607M1086 1564L881 1610M1086 1564L966 1625M1086 1564L722 1633M1086 1564L765 1636M1086 1564L561 1666M1086 1564L478 1677M1086 1564L686 1676M1086 1564L627 1691M1086 1564L524 1714M1086 1564L487 1730M1086 1564L610 1728M1086 1564L512 1773M1086 1564L875 1649M1086 1564L728 1665M1086 1564L801 1668M1086 1564L918 1670M1086 1564L850 1680M1086 1564L762 1693M1086 1564L798 1749M1086 1564L772 1827M1086 1564L631 1862M1040 1582L609 1441M1040 1582L536 1448M1040 1582L505 1487M1040 1582L596 1512M1040 1582L482 1532M1040 1582L522 1554M1040 1582L563 1554M1040 1582L686 1564M1040 1582L468 1581M1040 1582L508 1596M1040 1582L550 1592M1040 1582L669 1600M1040 1582L717 1598M1040 1582L592 1610M1040 1582L635 1625M1040 1582L464 1631M1040 1582L679 1634M1040 1582L866 1561M1040 1582L796 1569M1040 1582L913 1572M1040 1582L961 1575M1040 1582L844 1593M1040 1582L881 1610M1040 1582L920 1618M1040 1582L765 1636M1040 1582L828 1631M1040 1582L606 1651M1040 1582L561 1666M1040 1582L653 1659M1040 1582L627 1691M1040 1582L660 1706M1040 1582L566 1710M1040 1582L610 1728M1040 1582L548 1749M1040 1582L590 1756M1040 1582L512 1773M1040 1582L546 1811M1040 1582L875 1649M1040 1582L801 1668M1040 1582L725 1761M1139 1581L720 1535M1139 1581L522 1554M1139 1581L633 1552M1139 1581L468 1581M1139 1581L633 1583M1139 1581L508 1596M1139 1581L679 1634M1139 1581L846 1510M1139 1581L802 1516M1139 1581L745 1561M1139 1581L866 1561M1139 1581L913 1572M1139 1581L961 1575M1139 1581L844 1593M1139 1581L749 1596M1139 1581L798 1607M1139 1581L881 1610M1139 1581L920 1618M1139 1581L765 1636M1139 1581L606 1651M1139 1581L561 1666M1139 1581L653 1659M1139 1581L686 1676M1139 1581L660 1706M1139 1581L566 1710M1139 1581L610 1728M1139 1581L590 1756M1139 1581L682 1763M1139 1581L968 1683M1139 1581L762 1693M1139 1581L812 1810M1255 1581L505 1487M1255 1581L468 1581M1255 1581L669 1600M1255 1581L635 1625M1255 1581L679 1634M1255 1581L846 1510M1255 1581L802 1516M1255 1581L866 1561M1255 1581L961 1575M1255 1581L798 1607M1255 1581L966 1625M1255 1581L653 1659M1255 1581L686 1676M1255 1581L566 1710M1255 1581L548 1749M1255 1581L850 1680M1255 1581L767 1728M1255 1581L727 1835M1255 1581L586 1840M1255 1581L681 1874M1197 1596L620 1392M1197 1596L677 1408M1197 1596L775 1458M1197 1596L569 1482M1197 1596L538 1517M1197 1596L550 1592M1197 1596L717 1598M1197 1596L592 1610M1197 1596L679 1634M1197 1596L802 1516M1197 1596L866 1561M1197 1596L961 1575M1197 1596L881 1610M1197 1596L920 1618M1197 1596L828 1631M1197 1596L606 1651M1197 1596L653 1659M1197 1596L520 1676M1197 1596L610 1728M1197 1596L659 1791M1197 1596L801 1668M1197 1596L898 1715M1197 1596L935 1746M1081 1600L575 1416M1081 1600L630 1475M1081 1600L680 1488M1081 1600L596 1512M1081 1600L538 1517M1081 1600L522 1554M1081 1600L633 1552M1081 1600L597 1565M1081 1600L717 1598M1081 1600L635 1625M1081 1600L555 1631M1081 1600L512 1636M1081 1600L679 1634M1081 1600L745 1561M1081 1600L866 1561M1081 1600L913 1572M1081 1600L961 1575M1081 1600L749 1596M1081 1600L881 1610M1081 1600L920 1618M1081 1600L722 1633M1081 1600L828 1631M1081 1600L606 1651M1081 1600L653 1659M1081 1600L686 1676M1081 1600L627 1691M1081 1600L524 1714M1081 1600L487 1730M1081 1600L610 1728M1081 1600L688 1728M1081 1600L590 1756M1081 1600L875 1649M1081 1600L728 1665M1081 1600L801 1668M1081 1600L850 1680M1081 1600L762 1693M1081 1600L725 1761M1081 1600L727 1835M1013 1604L641 1424M1013 1604L505 1487M1013 1604L675 1524M1013 1604L720 1535M1013 1604L633 1552M1013 1604L597 1565M1013 1604L686 1564M1013 1604L468 1581M1013 1604L669 1600M1013 1604L592 1610M1013 1604L635 1625M1013 1604L555 1631M1013 1604L512 1636M1013 1604L679 1634M1013 1604L745 1561M1013 1604L844 1593M1013 1604L749 1596M1013 1604L798 1607M1013 1604L881 1610M1013 1604L920 1618M1013 1604L765 1636M1013 1604L606 1651M1013 1604L561 1666M1013 1604L653 1659M1013 1604L520 1676M1013 1604L686 1676M1013 1604L627 1691M1013 1604L660 1706M1013 1604L566 1710M1013 1604L524 1714M1013 1604L487 1730M1013 1604L610 1728M1013 1604L688 1728M1013 1604L628 1766M1013 1604L728 1665M1013 1604L850 1680M1013 1604L728 1721M1013 1604L767 1728M1013 1604L725 1761M1013 1604L586 1840M1139 1611L505 1487M1139 1611L722 1492M1139 1611L675 1524M1139 1611L522 1554M1139 1611L633 1552M1139 1611L597 1565M1139 1611L468 1581M1139 1611L550 1592M1139 1611L669 1600M1139 1611L592 1610M1139 1611L635 1625M1139 1611L555 1631M1139 1611L512 1636M1139 1611L745 1561M1139 1611L796 1569M1139 1611L798 1607M1139 1611L920 1618M1139 1611L966 1625M1139 1611L722 1633M1139 1611L828 1631M1139 1611L606 1651M1139 1611L653 1659M1139 1611L660 1706M1139 1611L566 1710M1139 1611L524 1714M1139 1611L487 1730M1139 1611L611 1811M1139 1611L875 1649M1139 1611L801 1668M1139 1611L850 1680M1139 1611L728 1721M1049 1630L620 1392M1049 1630L575 1416M1049 1630L641 1424M1049 1630L609 1441M1049 1630L630 1475M1049 1630L569 1482M1049 1630L522 1554M1049 1630L563 1554M1049 1630L597 1565M1049 1630L686 1564M1049 1630L633 1583M1049 1630L508 1596M1049 1630L550 1592M1049 1630L717 1598M1049 1630L592 1610M1049 1630L635 1625M1049 1630L464 1631M1049 1630L555 1631M1049 1630L679 1634M1049 1630L765 1530M1049 1630L830 1550M1049 1630L796 1569M1049 1630L749 1596M1049 1630L798 1607M1049 1630L881 1610M1049 1630L920 1618M1049 1630L966 1625M1049 1630L722 1633M1049 1630L765 1636M1049 1630L828 1631M1049 1630L561 1666M1049 1630L478 1677M1049 1630L524 1714M1049 1630L487 1730M1049 1630L610 1728M1049 1630L611 1811M1049 1630L875 1649M1049 1630L801 1668M1049 1630L850 1680M1049 1630L767 1728M1107 1635L536 1448M1107 1635L640 1513M1107 1635L675 1524M1107 1635L482 1532M1107 1635L522 1554M1107 1635L563 1554M1107 1635L633 1552M1107 1635L686 1564M1107 1635L633 1583M1107 1635L508 1596M1107 1635L550 1592M1107 1635L717 1598M1107 1635L512 1636M1107 1635L679 1634M1107 1635L802 1516M1107 1635L830 1550M1107 1635L745 1561M1107 1635L920 1618M1107 1635L966 1625M1107 1635L722 1633M1107 1635L828 1631M1107 1635L606 1651M1107 1635L561 1666M1107 1635L478 1677M1107 1635L686 1676M1107 1635L487 1730M1107 1635L548 1749M1107 1635L590 1756M1107 1635L628 1766M1107 1635L875 1649M1107 1635L728 1665M1107 1635L801 1668M1107 1635L918 1670M1107 1635L968 1683M1107 1635L849 1720M1177 1631L675 1454M1177 1631L596 1512M1177 1631L640 1513M1177 1631L538 1517M1177 1631L482 1532M1177 1631L563 1554M1177 1631L597 1565M1177 1631L508 1596M1177 1631L669 1600M1177 1631L717 1598M1177 1631L635 1625M1177 1631L464 1631M1177 1631L830 1550M1177 1631L920 1618M1177 1631L966 1625M1177 1631L722 1633M1177 1631L828 1631M1177 1631L606 1651M1177 1631L561 1666M1177 1631L653 1659M1177 1631L478 1677M1177 1631L686 1676M1177 1631L627 1691M1177 1631L548 1749M1177 1631L875 1649M1177 1631L801 1668M1177 1631L968 1683M961 1479L538 1517M961 1479L633 1552M961 1479L669 1600M961 1479L717 1598M961 1479L592 1610M961 1479L635 1625M961 1479L464 1631M961 1479L679 1634M961 1479L802 1516M961 1479L896 1518M961 1479L830 1550M961 1479L745 1561M961 1479L866 1561M961 1479L796 1569M961 1479L844 1593M961 1479L749 1596M961 1479L798 1607M961 1479L722 1633M961 1479L765 1636M961 1479L606 1651M961 1479L561 1666M961 1479L653 1659M961 1479L686 1676M961 1479L627 1691M961 1479L566 1710M961 1479L524 1714M961 1479L487 1730M961 1479L610 1728M961 1479L688 1728M961 1479L548 1749M961 1479L590 1756M961 1479L682 1763M961 1479L512 1773M961 1479L801 1668M961 1479L762 1693M961 1479L728 1721M961 1479L725 1761M961 1479L586 1840M961 1479L631 1862M961 1479L681 1874M257 1658L609 1441M257 1658L860 1419M257 1658L836 1449M257 1658L722 1492M257 1658L720 1535M257 1658L686 1564M257 1658L468 1581M257 1658L550 1592M257 1658L717 1598M257 1658L555 1631M257 1658L512 1636M257 1658L679 1634M257 1658L869 1479M257 1658L922 1482M257 1658L760 1492M257 1658L896 1518M257 1658L765 1530M257 1658L745 1561M257 1658L866 1561M257 1658L796 1569M257 1658L844 1593M257 1658L749 1596M257 1658L881 1610M257 1658L920 1618M257 1658L722 1633M257 1658L828 1631M257 1658L606 1651M257 1658L653 1659M257 1658L478 1677M257 1658L520 1676M257 1658L627 1691M257 1658L566 1710M257 1658L548 1749M257 1658L611 1811M257 1658L728 1665M257 1658L968 1683M257 1658L871 1752M257 1658L725 1761M257 1658L760 1781M257 1658L845 1781M321 1661L722 1492M321 1661L522 1554M321 1661L563 1554M321 1661L686 1564M321 1661L468 1581M321 1661L633 1583M321 1661L508 1596M321 1661L550 1592M321 1661L592 1610M321 1661L635 1625M321 1661L464 1631M321 1661L555 1631M321 1661L512 1636M321 1661L679 1634M321 1661L760 1492M321 1661L947 1527M321 1661L745 1561M321 1661L844 1593M321 1661L749 1596M321 1661L798 1607M321 1661L881 1610M321 1661L920 1618M321 1661L966 1625M321 1661L722 1633M321 1661L765 1636M321 1661L606 1651M321 1661L686 1676M321 1661L627 1691M321 1661L548 1749M321 1661L682 1763M321 1661L875 1649M321 1661L728 1665M321 1661L918 1670M321 1661L850 1680M321 1661L968 1683M321 1661L762 1693M321 1661L815 1710M321 1661L898 1715M321 1661L798 1749M321 1661L845 1781M386 1659L860 1419M386 1659L633 1552M386 1659L597 1565M386 1659L686 1564M386 1659L550 1592M386 1659L669 1600M386 1659L717 1598M386 1659L592 1610M386 1659L635 1625M386 1659L512 1636M386 1659L679 1634M386 1659L922 1482M386 1659L846 1510M386 1659L830 1550M386 1659L866 1561M386 1659L796 1569M386 1659L913 1572M386 1659L961 1575M386 1659L844 1593M386 1659L798 1607M386 1659L881 1610M386 1659L920 1618M386 1659L966 1625M386 1659L722 1633M386 1659L765 1636M386 1659L828 1631M386 1659L686 1676M386 1659L627 1691M386 1659L610 1728M386 1659L801 1668M386 1659L918 1670M386 1659L850 1680M386 1659L968 1683M386 1659L762 1693M386 1659L898 1715M386 1659L728 1721M386 1659L767 1728M386 1659L871 1752M386 1659L845 1781M386 1659L906 1788M190 1668L898 1441M190 1668L775 1458M190 1668L569 1482M190 1668L640 1513M190 1668L675 1524M190 1668L720 1535M190 1668L563 1554M190 1668L633 1552M190 1668L597 1565M190 1668L686 1564M190 1668L468 1581M190 1668L669 1600M190 1668L717 1598M190 1668L592 1610M190 1668L464 1631M190 1668L512 1636M190 1668L922 1482M190 1668L947 1527M190 1668L765 1530M190 1668L796 1569M190 1668L844 1593M190 1668L881 1610M190 1668L966 1625M190 1668L606 1651M190 1668L561 1666M190 1668L653 1659M190 1668L520 1676M190 1668L627 1691M190 1668L660 1706M190 1668L610 1728M190 1668L682 1763M190 1668L611 1811M190 1668L801 1668M190 1668L968 1683M190 1668L762 1693M190 1668L767 1728M190 1668L845 1781M190 1668L906 1788M190 1668L812 1810M190 1668L688 1833M231 1683L641 1424M231 1683L675 1454M231 1683L769 1379M231 1683L640 1513M231 1683L522 1554M231 1683L563 1554M231 1683L633 1552M231 1683L686 1564M231 1683L633 1583M231 1683L717 1598M231 1683L592 1610M231 1683L635 1625M231 1683L464 1631M231 1683L555 1631M231 1683L846 1510M231 1683L802 1516M231 1683L745 1561M231 1683L961 1575M231 1683L798 1607M231 1683L920 1618M231 1683L966 1625M231 1683L722 1633M231 1683L765 1636M231 1683L828 1631M231 1683L606 1651M231 1683L561 1666M231 1683L653 1659M231 1683L478 1677M231 1683L520 1676M231 1683L627 1691M231 1683L688 1728M231 1683L590 1756M231 1683L875 1649M231 1683L918 1670M231 1683L850 1680M231 1683L762 1693M231 1683L815 1710M231 1683L760 1781M231 1683L845 1781M231 1683L828 1850M347 1687L729 1441M347 1687L898 1441M347 1687L720 1535M347 1687L563 1554M347 1687L633 1583M347 1687L669 1600M347 1687L592 1610M347 1687L635 1625M347 1687L464 1631M347 1687L555 1631M347 1687L512 1636M347 1687L679 1634M347 1687L869 1479M347 1687L846 1510M347 1687L802 1516M347 1687L896 1518M347 1687L947 1527M347 1687L866 1561M347 1687L796 1569M347 1687L844 1593M347 1687L749 1596M347 1687L798 1607M347 1687L881 1610M347 1687L920 1618M347 1687L722 1633M347 1687L765 1636M347 1687L606 1651M347 1687L561 1666M347 1687L478 1677M347 1687L520 1676M347 1687L686 1676M347 1687L627 1691M347 1687L660 1706M347 1687L688 1728M347 1687L728 1665M347 1687L801 1668M347 1687L850 1680M347 1687L968 1683M347 1687L898 1715M347 1687L767 1728M282 1693L723 1403M282 1693L898 1441M282 1693L836 1449M282 1693L775 1458M282 1693L680 1488M282 1693L720 1535M282 1693L686 1564M282 1693L508 1596M282 1693L669 1600M282 1693L555 1631M282 1693L922 1482M282 1693L947 1527M282 1693L745 1561M282 1693L866 1561M282 1693L796 1569M282 1693L913 1572M282 1693L844 1593M282 1693L749 1596M282 1693L798 1607M282 1693L881 1610M282 1693L920 1618M282 1693L765 1636M282 1693L828 1631M282 1693L606 1651M282 1693L561 1666M282 1693L653 1659M282 1693L478 1677M282 1693L520 1676M282 1693L627 1691M282 1693L524 1714M282 1693L610 1728M282 1693L611 1811M282 1693L801 1668M282 1693L918 1670M282 1693L762 1693M282 1693L815 1710M282 1693L849 1720M282 1693L728 1721M282 1693L767 1728M282 1693L798 1749M410 1694L798 1423M410 1694L722 1492M410 1694L720 1535M410 1694L597 1565M410 1694L686 1564M410 1694L669 1600M410 1694L717 1598M410 1694L635 1625M410 1694L555 1631M410 1694L512 1636M410 1694L679 1634M410 1694L896 1518M410 1694L830 1550M410 1694L745 1561M410 1694L866 1561M410 1694L913 1572M410 1694L961 1575M410 1694L749 1596M410 1694L798 1607M410 1694L881 1610M410 1694L920 1618M410 1694L722 1633M410 1694L765 1636M410 1694L606 1651M410 1694L561 1666M410 1694L653 1659M410 1694L478 1677M410 1694L520 1676M410 1694L686 1676M410 1694L627 1691M410 1694L660 1706M410 1694L566 1710M410 1694L801 1668M410 1694L918 1670M410 1694L850 1680M410 1694L762 1693M410 1694L815 1710M410 1694L849 1720M410 1694L728 1721M410 1694L760 1781M143 1706L675 1454M143 1706L798 1423M143 1706L898 1441M143 1706L569 1482M143 1706L722 1492M143 1706L720 1535M143 1706L597 1565M143 1706L686 1564M143 1706L669 1600M143 1706L635 1625M143 1706L464 1631M143 1706L555 1631M143 1706L679 1634M143 1706L813 1478M143 1706L869 1479M143 1706L802 1516M143 1706L745 1561M143 1706L961 1575M143 1706L749 1596M143 1706L798 1607M143 1706L881 1610M143 1706L966 1625M143 1706L722 1633M143 1706L828 1631M143 1706L606 1651M143 1706L478 1677M143 1706L686 1676M143 1706L627 1691M143 1706L660 1706M143 1706L524 1714M143 1706L487 1730M143 1706L610 1728M143 1706L590 1756M143 1706L512 1773M143 1706L580 1790M143 1706L762 1693M143 1706L815 1710M143 1706L798 1749M143 1706L812 1810M143 1706L586 1840M312 1712L775 1458M312 1712L722 1492M312 1712L675 1524M312 1712L720 1535M312 1712L669 1600M312 1712L717 1598M312 1712L592 1610M312 1712L635 1625M312 1712L555 1631M312 1712L512 1636M312 1712L869 1479M312 1712L922 1482M312 1712L846 1510M312 1712L896 1518M312 1712L947 1527M312 1712L745 1561M312 1712L913 1572M312 1712L844 1593M312 1712L749 1596M312 1712L798 1607M312 1712L881 1610M312 1712L920 1618M312 1712L966 1625M312 1712L828 1631M312 1712L561 1666M312 1712L653 1659M312 1712L478 1677M312 1712L520 1676M312 1712L627 1691M312 1712L660 1706M312 1712L610 1728M312 1712L875 1649M312 1712L728 1665M312 1712L801 1668M312 1712L968 1683M312 1712L762 1693M312 1712L849 1720M312 1712L798 1749M312 1712L871 1752M312 1712L760 1781M382 1717L763 1410M382 1717L680 1488M382 1717L675 1524M382 1717L720 1535M382 1717L633 1552M382 1717L597 1565M382 1717L669 1600M382 1717L592 1610M382 1717L922 1482M382 1717L846 1510M382 1717L802 1516M382 1717L830 1550M382 1717L745 1561M382 1717L866 1561M382 1717L913 1572M382 1717L961 1575M382 1717L798 1607M382 1717L881 1610M382 1717L722 1633M382 1717L765 1636M382 1717L828 1631M382 1717L606 1651M382 1717L561 1666M382 1717L653 1659M382 1717L520 1676M382 1717L686 1676M382 1717L627 1691M382 1717L660 1706M382 1717L566 1710M382 1717L610 1728M382 1717L628 1766M382 1717L875 1649M382 1717L728 1665M382 1717L918 1670M382 1717L850 1680M382 1717L762 1693M382 1717L849 1720M382 1717L728 1721M382 1717L798 1749M382 1717L935 1746M205 1719L860 1419M205 1719L836 1449M205 1719L630 1475M205 1719L680 1488M205 1719L640 1513M205 1719L563 1554M205 1719L633 1552M205 1719L597 1565M205 1719L686 1564M205 1719L508 1596M205 1719L592 1610M205 1719L635 1625M205 1719L555 1631M205 1719L679 1634M205 1719L813 1478M205 1719L760 1492M205 1719L947 1527M205 1719L745 1561M205 1719L866 1561M205 1719L796 1569M205 1719L844 1593M205 1719L749 1596M205 1719L920 1618M205 1719L966 1625M205 1719L722 1633M205 1719L653 1659M205 1719L478 1677M205 1719L520 1676M205 1719L627 1691M205 1719L548 1749M205 1719L682 1763M205 1719L611 1811M205 1719L875 1649M205 1719L918 1670M205 1719L850 1680M205 1719L815 1710M205 1719L798 1749M205 1719L935 1746M205 1719L725 1761M205 1719L731 1876M258 1724L898 1441M258 1724L722 1492M258 1724L482 1532M258 1724L633 1552M258 1724L597 1565M258 1724L633 1583M258 1724L508 1596M258 1724L669 1600M258 1724L717 1598M258 1724L635 1625M258 1724L464 1631M258 1724L555 1631M258 1724L679 1634M258 1724L813 1478M258 1724L846 1510M258 1724L802 1516M258 1724L896 1518M258 1724L765 1530M258 1724L745 1561M258 1724L866 1561M258 1724L796 1569M258 1724L913 1572M258 1724L961 1575M258 1724L844 1593M258 1724L881 1610M258 1724L722 1633M258 1724L828 1631M258 1724L606 1651M258 1724L653 1659M258 1724L686 1676M258 1724L627 1691M258 1724L660 1706M258 1724L566 1710M258 1724L524 1714M258 1724L610 1728M258 1724L688 1728M258 1724L590 1756M258 1724L849 1720M258 1724L728 1721M258 1724L798 1749M346 1737L798 1423M346 1737L675 1524M346 1737L720 1535M346 1737L633 1552M346 1737L686 1564M346 1737L669 1600M346 1737L592 1610M346 1737L635 1625M346 1737L555 1631M346 1737L679 1634M346 1737L922 1482M346 1737L947 1527M346 1737L765 1530M346 1737L830 1550M346 1737L745 1561M346 1737L796 1569M346 1737L913 1572M346 1737L961 1575M346 1737L881 1610M346 1737L966 1625M346 1737L722 1633M346 1737L765 1636M346 1737L606 1651M346 1737L561 1666M346 1737L653 1659M346 1737L478 1677M346 1737L520 1676M346 1737L686 1676M346 1737L524 1714M346 1737L688 1728M346 1737L548 1749M346 1737L728 1665M346 1737L801 1668M346 1737L918 1670M346 1737L850 1680M346 1737L849 1720M346 1737L728 1721M346 1737L798 1749M346 1737L935 1746M346 1737L725 1761M411 1743L860 1419M411 1743L729 1441M411 1743L680 1488M411 1743L722 1492M411 1743L720 1535M411 1743L669 1600M411 1743L717 1598M411 1743L592 1610M411 1743L635 1625M411 1743L679 1634M411 1743L869 1479M411 1743L760 1492M411 1743L846 1510M411 1743L896 1518M411 1743L765 1530M411 1743L830 1550M411 1743L866 1561M411 1743L796 1569M411 1743L913 1572M411 1743L844 1593M411 1743L749 1596M411 1743L798 1607M411 1743L881 1610M411 1743L920 1618M411 1743L966 1625M411 1743L722 1633M411 1743L828 1631M411 1743L606 1651M411 1743L561 1666M411 1743L653 1659M411 1743L520 1676M411 1743L686 1676M411 1743L627 1691M411 1743L524 1714M411 1743L487 1730M411 1743L610 1728M411 1743L875 1649M411 1743L728 1665M411 1743L762 1693M411 1743L728 1721M279 1748L675 1454M279 1748L816 1395M279 1748L798 1423M279 1748L729 1441M279 1748L836 1449M279 1748L596 1512M279 1748L686 1564M279 1748L633 1583M279 1748L550 1592M279 1748L717 1598M279 1748L592 1610M279 1748L635 1625M279 1748L464 1631M279 1748L679 1634M279 1748L813 1478M279 1748L896 1518M279 1748L830 1550M279 1748L866 1561M279 1748L913 1572M279 1748L844 1593M279 1748L798 1607M279 1748L765 1636M279 1748L828 1631M279 1748L606 1651M279 1748L561 1666M279 1748L653 1659M279 1748L478 1677M279 1748L686 1676M279 1748L627 1691M279 1748L566 1710M279 1748L524 1714M279 1748L487 1730M279 1748L688 1728M279 1748L875 1649M279 1748L728 1665M279 1748L918 1670M279 1748L849 1720M279 1748L935 1746M279 1748L871 1752M279 1748L870 1823M339 1765L769 1379M339 1765L860 1419M339 1765L722 1492M339 1765L538 1517M339 1765L633 1552M339 1765L717 1598M339 1765L679 1634M339 1765L813 1478M339 1765L760 1492M339 1765L846 1510M339 1765L802 1516M339 1765L947 1527M339 1765L830 1550M339 1765L745 1561M339 1765L866 1561M339 1765L796 1569M339 1765L961 1575M339 1765L844 1593M339 1765L749 1596M339 1765L881 1610M339 1765L765 1636M339 1765L828 1631M339 1765L606 1651M339 1765L653 1659M339 1765L520 1676M339 1765L686 1676M339 1765L660 1706M339 1765L566 1710M339 1765L524 1714M339 1765L487 1730M339 1765L688 1728M339 1765L548 1749M339 1765L628 1766M339 1765L728 1665M339 1765L801 1668M339 1765L918 1670M339 1765L850 1680M339 1765L898 1715M339 1765L728 1721M339 1765L767 1728M201 1769L677 1408M201 1769L729 1441M201 1769L640 1513M201 1769L538 1517M201 1769L720 1535M201 1769L686 1564M201 1769L468 1581M201 1769L508 1596M201 1769L550 1592M201 1769L669 1600M201 1769L635 1625M201 1769L555 1631M201 1769L813 1478M201 1769L869 1479M201 1769L760 1492M201 1769L802 1516M201 1769L765 1530M201 1769L830 1550M201 1769L913 1572M201 1769L961 1575M201 1769L844 1593M201 1769L749 1596M201 1769L966 1625M201 1769L722 1633M201 1769L765 1636M201 1769L478 1677M201 1769L686 1676M201 1769L627 1691M201 1769L660 1706M201 1769L566 1710M201 1769L487 1730M201 1769L610 1728M201 1769L682 1763M201 1769L728 1665M201 1769L801 1668M201 1769L850 1680M201 1769L968 1683M201 1769L728 1721M201 1769L760 1781M201 1769L845 1781M246 1769L898 1441M246 1769L836 1449M246 1769L640 1513M246 1769L720 1535M246 1769L633 1583M246 1769L550 1592M246 1769L669 1600M246 1769L717 1598M246 1769L464 1631M246 1769L555 1631M246 1769L512 1636M246 1769L679 1634M246 1769L922 1482M246 1769L846 1510M246 1769L947 1527M246 1769L745 1561M246 1769L913 1572M246 1769L961 1575M246 1769L844 1593M246 1769L881 1610M246 1769L966 1625M246 1769L722 1633M246 1769L765 1636M246 1769L828 1631M246 1769L606 1651M246 1769L653 1659M246 1769L478 1677M246 1769L520 1676M246 1769L686 1676M246 1769L627 1691M246 1769L524 1714M246 1769L487 1730M246 1769L610 1728M246 1769L590 1756M246 1769L682 1763M246 1769L611 1811M246 1769L728 1665M246 1769L968 1683M246 1769L762 1693M246 1769L849 1720M407 1771L675 1454M407 1771L729 1441M407 1771L898 1441M407 1771L775 1458M407 1771L675 1524M407 1771L686 1564M407 1771L669 1600M407 1771L717 1598M407 1771L592 1610M407 1771L635 1625M407 1771L555 1631M407 1771L679 1634M407 1771L869 1479M407 1771L922 1482M407 1771L947 1527M407 1771L765 1530M407 1771L830 1550M407 1771L745 1561M407 1771L866 1561M407 1771L796 1569M407 1771L881 1610M407 1771L920 1618M407 1771L966 1625M407 1771L765 1636M407 1771L828 1631M407 1771L561 1666M407 1771L627 1691M407 1771L660 1706M407 1771L566 1710M407 1771L524 1714M407 1771L487 1730M407 1771L610 1728M407 1771L688 1728M407 1771L548 1749M407 1771L875 1649M407 1771L801 1668M407 1771L968 1683M407 1771L762 1693M407 1771L849 1720M407 1771L767 1728M282 1784L677 1408M282 1784L769 1379M282 1784L775 1458M282 1784L596 1512M282 1784L686 1564M282 1784L669 1600M282 1784L717 1598M282 1784L592 1610M282 1784L635 1625M282 1784L464 1631M282 1784L555 1631M282 1784L679 1634M282 1784L813 1478M282 1784L922 1482M282 1784L947 1527M282 1784L745 1561M282 1784L913 1572M282 1784L961 1575M282 1784L844 1593M282 1784L749 1596M282 1784L881 1610M282 1784L920 1618M282 1784L966 1625M282 1784L765 1636M282 1784L828 1631M282 1784L606 1651M282 1784L653 1659M282 1784L478 1677M282 1784L686 1676M282 1784L660 1706M282 1784L566 1710M282 1784L524 1714M282 1784L487 1730M282 1784L610 1728M282 1784L548 1749M282 1784L590 1756M282 1784L710 1797M282 1784L968 1683M282 1784L815 1710M282 1784L767 1728M360 1790L723 1403M360 1790L898 1441M360 1790L775 1458M360 1790L722 1492M360 1790L686 1564M360 1790L669 1600M360 1790L635 1625M360 1790L679 1634M360 1790L846 1510M360 1790L802 1516M360 1790L896 1518M360 1790L765 1530M360 1790L745 1561M360 1790L866 1561M360 1790L796 1569M360 1790L913 1572M360 1790L749 1596M360 1790L798 1607M360 1790L722 1633M360 1790L765 1636M360 1790L828 1631M360 1790L606 1651M360 1790L561 1666M360 1790L653 1659M360 1790L520 1676M360 1790L627 1691M360 1790L524 1714M360 1790L487 1730M360 1790L610 1728M360 1790L688 1728M360 1790L590 1756M360 1790L682 1763M360 1790L512 1773M360 1790L659 1791M360 1790L875 1649M360 1790L801 1668M360 1790L850 1680M360 1790L728 1721M360 1790L935 1746M360 1790L906 1788M435 1796L723 1403M435 1796L675 1454M435 1796L763 1410M435 1796L860 1419M435 1796L836 1449M435 1796L722 1492M435 1796L596 1512M435 1796L640 1513M435 1796L675 1524M435 1796L669 1600M435 1796L717 1598M435 1796L635 1625M435 1796L555 1631M435 1796L679 1634M435 1796L813 1478M435 1796L922 1482M435 1796L760 1492M435 1796L846 1510M435 1796L765 1530M435 1796L745 1561M435 1796L796 1569M435 1796L913 1572M435 1796L844 1593M435 1796L749 1596M435 1796L798 1607M435 1796L765 1636M435 1796L606 1651M435 1796L561 1666M435 1796L653 1659M435 1796L686 1676M435 1796L627 1691M435 1796L566 1710M435 1796L524 1714M435 1796L487 1730M435 1796L610 1728M435 1796L548 1749M435 1796L590 1756M435 1796L801 1668M435 1796L968 1683M435 1796L762 1693M435 1668L720 1535M435 1668L633 1583M435 1668L717 1598M435 1668L592 1610M435 1668L635 1625M435 1668L555 1631M435 1668L679 1634M435 1668L922 1482M435 1668L896 1518M435 1668L947 1527M435 1668L765 1530M435 1668L830 1550M435 1668L866 1561M435 1668L796 1569M435 1668L913 1572M435 1668L961 1575M435 1668L844 1593M435 1668L798 1607M435 1668L881 1610M435 1668L920 1618M435 1668L966 1625M435 1668L722 1633M435 1668L765 1636M435 1668L828 1631M435 1668L606 1651M435 1668L561 1666M435 1668L653 1659M435 1668L520 1676M435 1668L686 1676M435 1668L627 1691M435 1668L660 1706M435 1668L875 1649M435 1668L801 1668M435 1668L918 1670M435 1668L850 1680M435 1668L898 1715M435 1668L849 1720M435 1668L798 1749M435 1668L725 1761M435 1668L845 1781M448 1724L860 1419M448 1724L898 1441M448 1724L836 1449M448 1724L775 1458M448 1724L675 1524M448 1724L720 1535M448 1724L633 1552M448 1724L686 1564M448 1724L633 1583M448 1724L669 1600M448 1724L717 1598M448 1724L592 1610M448 1724L635 1625M448 1724L679 1634M448 1724L846 1510M448 1724L802 1516M448 1724L896 1518M448 1724L947 1527M448 1724L830 1550M448 1724L745 1561M448 1724L796 1569M448 1724L913 1572M448 1724L798 1607M448 1724L881 1610M448 1724L606 1651M448 1724L561 1666M448 1724L653 1659M448 1724L686 1676M448 1724L627 1691M448 1724L660 1706M448 1724L566 1710M448 1724L524 1714M448 1724L487 1730M448 1724L728 1665M448 1724L801 1668M448 1724L918 1670M448 1724L762 1693M448 1724L898 1715M448 1724L728 1721M448 1724L935 1746M469 1776L723 1403M469 1776L860 1419M469 1776L898 1441M469 1776L675 1524M469 1776L720 1535M469 1776L686 1564M469 1776L633 1583M469 1776L669 1600M469 1776L635 1625M469 1776L679 1634M469 1776L813 1478M469 1776L760 1492M469 1776L846 1510M469 1776L802 1516M469 1776L896 1518M469 1776L765 1530M469 1776L830 1550M469 1776L745 1561M469 1776L866 1561M469 1776L796 1569M469 1776L913 1572M469 1776L961 1575M469 1776L844 1593M469 1776L749 1596M469 1776L798 1607M469 1776L966 1625M469 1776L722 1633M469 1776L765 1636M469 1776L828 1631M469 1776L606 1651M469 1776L653 1659M469 1776L686 1676M469 1776L627 1691M469 1776L660 1706M469 1776L566 1710M469 1776L610 1728M469 1776L548 1749M469 1776L875 1649M469 1776L728 1665M469 1776L850 1680M486 1812L723 1403M486 1812L769 1379M486 1812L898 1441M486 1812L836 1449M486 1812L775 1458M486 1812L630 1475M486 1812L640 1513M486 1812L675 1524M486 1812L686 1564M486 1812L717 1598M486 1812L592 1610M486 1812L635 1625M486 1812L679 1634M486 1812L813 1478M486 1812L869 1479M486 1812L922 1482M486 1812L846 1510M486 1812L802 1516M486 1812L896 1518M486 1812L765 1530M486 1812L830 1550M486 1812L745 1561M486 1812L866 1561M486 1812L913 1572M486 1812L920 1618M486 1812L722 1633M486 1812L765 1636M486 1812L606 1651M486 1812L653 1659M486 1812L686 1676M486 1812L627 1691M486 1812L566 1710M486 1812L610 1728M486 1812L548 1749M486 1812L590 1756M486 1812L512 1773M486 1812L875 1649M486 1812L728 1665M486 1812L918 1670M486 1812L871 1752M421 1818L763 1410M421 1818L860 1419M421 1818L898 1441M421 1818L836 1449M421 1818L775 1458M421 1818L675 1524M421 1818L720 1535M421 1818L633 1552M421 1818L597 1565M421 1818L633 1583M421 1818L669 1600M421 1818L717 1598M421 1818L635 1625M421 1818L679 1634M421 1818L869 1479M421 1818L922 1482M421 1818L802 1516M421 1818L947 1527M421 1818L745 1561M421 1818L866 1561M421 1818L749 1596M421 1818L798 1607M421 1818L881 1610M421 1818L765 1636M421 1818L606 1651M421 1818L520 1676M421 1818L686 1676M421 1818L627 1691M421 1818L660 1706M421 1818L566 1710M421 1818L524 1714M421 1818L610 1728M421 1818L688 1728M421 1818L548 1749M421 1818L512 1773M421 1818L728 1665M421 1818L762 1693M421 1818L815 1710M421 1818L849 1720M421 1818L728 1721M314 1808L677 1408M314 1808L816 1395M314 1808L860 1419M314 1808L729 1441M314 1808L898 1441M314 1808L720 1535M314 1808L633 1583M314 1808L550 1592M314 1808L717 1598M314 1808L592 1610M314 1808L635 1625M314 1808L679 1634M314 1808L813 1478M314 1808L869 1479M314 1808L922 1482M314 1808L802 1516M314 1808L896 1518M314 1808L947 1527M314 1808L866 1561M314 1808L913 1572M314 1808L844 1593M314 1808L749 1596M314 1808L798 1607M314 1808L920 1618M314 1808L765 1636M314 1808L606 1651M314 1808L561 1666M314 1808L478 1677M314 1808L520 1676M314 1808L686 1676M314 1808L627 1691M314 1808L566 1710M314 1808L524 1714M314 1808L487 1730M314 1808L548 1749M314 1808L590 1756M314 1808L875 1649M314 1808L728 1665M314 1808L762 1693M314 1808L728 1721M361 1817L677 1408M361 1817L729 1441M361 1817L836 1449M361 1817L596 1512M361 1817L640 1513M361 1817L633 1552M361 1817L686 1564M361 1817L633 1583M361 1817L717 1598M361 1817L760 1492M361 1817L947 1527M361 1817L765 1530M361 1817L830 1550M361 1817L796 1569M361 1817L961 1575M361 1817L844 1593M361 1817L749 1596M361 1817L798 1607M361 1817L881 1610M361 1817L920 1618M361 1817L966 1625M361 1817L765 1636M361 1817L828 1631M361 1817L561 1666M361 1817L653 1659M361 1817L686 1676M361 1817L627 1691M361 1817L660 1706M361 1817L566 1710M361 1817L524 1714M361 1817L487 1730M361 1817L610 1728M361 1817L688 1728M361 1817L548 1749M361 1817L590 1756M361 1817L875 1649M361 1817L728 1665M361 1817L762 1693M361 1817L728 1721M361 1817L870 1823M237 1824L668 1378M237 1824L769 1379M237 1824L816 1395M237 1824L860 1419M237 1824L775 1458M237 1824L569 1482M237 1824L505 1487M237 1824L722 1492M237 1824L596 1512M237 1824L675 1524M237 1824L720 1535M237 1824L597 1565M237 1824L669 1600M237 1824L592 1610M237 1824L679 1634M237 1824L760 1492M237 1824L802 1516M237 1824L947 1527M237 1824L830 1550M237 1824L745 1561M237 1824L796 1569M237 1824L913 1572M237 1824L749 1596M237 1824L920 1618M237 1824L966 1625M237 1824L722 1633M237 1824L765 1636M237 1824L606 1651M237 1824L686 1676M237 1824L660 1706M237 1824L566 1710M237 1824L524 1714M237 1824L590 1756M237 1824L512 1773M237 1824L728 1665M237 1824L968 1683M237 1824L728 1721M237 1824L767 1728M237 1824L935 1746M237 1824L681 1874M1011 1650L536 1448M1011 1650L630 1475M1011 1650L640 1513M1011 1650L675 1524M1011 1650L482 1532M1011 1650L563 1554M1011 1650L633 1552M1011 1650L597 1565M1011 1650L686 1564M1011 1650L468 1581M1011 1650L669 1600M1011 1650L592 1610M1011 1650L635 1625M1011 1650L464 1631M1011 1650L555 1631M1011 1650L512 1636M1011 1650L679 1634M1011 1650L745 1561M1011 1650L881 1610M1011 1650L920 1618M1011 1650L966 1625M1011 1650L722 1633M1011 1650L765 1636M1011 1650L828 1631M1011 1650L606 1651M1011 1650L561 1666M1011 1650L520 1676M1011 1650L686 1676M1011 1650L660 1706M1011 1650L566 1710M1011 1650L610 1728M1011 1650L688 1728M1011 1650L590 1756M1011 1650L875 1649M1011 1650L801 1668M1011 1650L918 1670M1011 1650L850 1680M1011 1650L762 1693M1011 1650L815 1710M1011 1650L767 1728M1070 1656L630 1475M1070 1656L505 1487M1070 1656L640 1513M1070 1656L482 1532M1070 1656L522 1554M1070 1656L597 1565M1070 1656L686 1564M1070 1656L468 1581M1070 1656L508 1596M1070 1656L669 1600M1070 1656L717 1598M1070 1656L592 1610M1070 1656L512 1636M1070 1656L679 1634M1070 1656L765 1530M1070 1656L830 1550M1070 1656L796 1569M1070 1656L749 1596M1070 1656L881 1610M1070 1656L920 1618M1070 1656L966 1625M1070 1656L722 1633M1070 1656L828 1631M1070 1656L606 1651M1070 1656L653 1659M1070 1656L520 1676M1070 1656L686 1676M1070 1656L524 1714M1070 1656L487 1730M1070 1656L590 1756M1070 1656L580 1790M1070 1656L611 1811M1070 1656L875 1649M1070 1656L728 1665M1070 1656L801 1668M1070 1656L918 1670M1070 1656L762 1693M1070 1656L815 1710M1070 1656L728 1721M1136 1657L505 1487M1136 1657L680 1488M1136 1657L720 1535M1136 1657L522 1554M1136 1657L597 1565M1136 1657L468 1581M1136 1657L508 1596M1136 1657L550 1592M1136 1657L512 1636M1136 1657L679 1634M1136 1657L760 1492M1136 1657L866 1561M1136 1657L796 1569M1136 1657L844 1593M1136 1657L798 1607M1136 1657L920 1618M1136 1657L966 1625M1136 1657L722 1633M1136 1657L765 1636M1136 1657L653 1659M1136 1657L478 1677M1136 1657L686 1676M1136 1657L566 1710M1136 1657L524 1714M1136 1657L682 1763M1136 1657L611 1811M1136 1657L968 1683M1136 1657L898 1715M1136 1657L849 1720M1136 1657L935 1746M1136 1657L725 1761M1136 1657L651 1826M1191 1665L575 1416M1191 1665L641 1424M1191 1665L609 1441M1191 1665L675 1524M1191 1665L633 1583M1191 1665L512 1636M1191 1665L679 1634M1191 1665L813 1478M1191 1665L796 1569M1191 1665L913 1572M1191 1665L749 1596M1191 1665L798 1607M1191 1665L881 1610M1191 1665L920 1618M1191 1665L966 1625M1191 1665L828 1631M1191 1665L487 1730M1191 1665L611 1811M1191 1665L728 1665M1191 1665L918 1670M1191 1665L850 1680M1191 1665L898 1715M1191 1665L935 1746M1191 1665L688 1833M1236 1644L609 1441M1236 1644L630 1475M1236 1644L675 1524M1236 1644L563 1554M1236 1644L686 1564M1236 1644L508 1596M1236 1644L717 1598M1236 1644L464 1631M1236 1644L813 1478M1236 1644L846 1510M1236 1644L796 1569M1236 1644L798 1607M1236 1644L881 1610M1236 1644L966 1625M1236 1644L682 1763M1236 1644L875 1649M1236 1644L968 1683M1236 1644L728 1721M1236 1644L767 1728M1236 1644L631 1862M1047 1680L569 1482M1047 1680L680 1488M1047 1680L596 1512M1047 1680L482 1532M1047 1680L720 1535M1047 1680L522 1554M1047 1680L563 1554M1047 1680L686 1564M1047 1680L468 1581M1047 1680L633 1583M1047 1680L669 1600M1047 1680L717 1598M1047 1680L592 1610M1047 1680L464 1631M1047 1680L765 1530M1047 1680L913 1572M1047 1680L844 1593M1047 1680L749 1596M1047 1680L920 1618M1047 1680L722 1633M1047 1680L765 1636M1047 1680L606 1651M1047 1680L561 1666M1047 1680L653 1659M1047 1680L520 1676M1047 1680L627 1691M1047 1680L660 1706M1047 1680L524 1714M1047 1680L688 1728M1047 1680L548 1749M1047 1680L628 1766M1047 1680L875 1649M1047 1680L801 1668M1047 1680L918 1670M1047 1680L968 1683M1047 1680L762 1693M1047 1680L815 1710M1047 1680L898 1715M1047 1680L728 1721M1047 1680L767 1728M1122 1683L722 1492M1122 1683L596 1512M1122 1683L675 1524M1122 1683L522 1554M1122 1683L633 1583M1122 1683L669 1600M1122 1683L717 1598M1122 1683L464 1631M1122 1683L555 1631M1122 1683L760 1492M1122 1683L765 1530M1122 1683L745 1561M1122 1683L866 1561M1122 1683L920 1618M1122 1683L966 1625M1122 1683L765 1636M1122 1683L828 1631M1122 1683L561 1666M1122 1683L653 1659M1122 1683L520 1676M1122 1683L610 1728M1122 1683L688 1728M1122 1683L548 1749M1122 1683L628 1766M1122 1683L875 1649M1122 1683L728 1665M1122 1683L918 1670M1122 1683L850 1680M1122 1683L762 1693M1122 1683L815 1710M1122 1683L898 1715M1122 1683L849 1720M1122 1683L798 1749M1007 1696L620 1392M1007 1696L609 1441M1007 1696L536 1448M1007 1696L763 1410M1007 1696L569 1482M1007 1696L505 1487M1007 1696L596 1512M1007 1696L675 1524M1007 1696L720 1535M1007 1696L563 1554M1007 1696L468 1581M1007 1696L633 1583M1007 1696L508 1596M1007 1696L669 1600M1007 1696L592 1610M1007 1696L635 1625M1007 1696L464 1631M1007 1696L555 1631M1007 1696L679 1634M1007 1696L765 1530M1007 1696L749 1596M1007 1696L798 1607M1007 1696L722 1633M1007 1696L765 1636M1007 1696L828 1631M1007 1696L561 1666M1007 1696L653 1659M1007 1696L686 1676M1007 1696L627 1691M1007 1696L660 1706M1007 1696L566 1710M1007 1696L524 1714M1007 1696L580 1790M1007 1696L875 1649M1007 1696L801 1668M1007 1696L918 1670M1007 1696L850 1680M1007 1696L968 1683M1007 1696L728 1721M1007 1696L798 1749M1178 1700L569 1482M1178 1700L675 1524M1178 1700L592 1610M1178 1700L635 1625M1178 1700L512 1636M1178 1700L760 1492M1178 1700L798 1607M1178 1700L920 1618M1178 1700L722 1633M1178 1700L765 1636M1178 1700L606 1651M1178 1700L686 1676M1178 1700L627 1691M1178 1700L566 1710M1178 1700L524 1714M1178 1700L688 1728M1178 1700L548 1749M1178 1700L512 1773M1178 1700L659 1791M1178 1700L728 1665M1178 1700L850 1680M1178 1700L762 1693M1178 1700L815 1710M1178 1700L898 1715M1178 1700L728 1721M1178 1700L871 1752M1254 1704L536 1448M1254 1704L722 1492M1254 1704L522 1554M1254 1704L717 1598M1254 1704L635 1625M1254 1704L830 1550M1254 1704L745 1561M1254 1704L866 1561M1254 1704L913 1572M1254 1704L798 1607M1254 1704L881 1610M1254 1704L966 1625M1254 1704L722 1633M1254 1704L478 1677M1254 1704L686 1676M1254 1704L566 1710M1254 1704L546 1811M1254 1704L968 1683M1254 1704L870 1823M1254 1704L772 1827M1072 1705L677 1408M1072 1705L630 1475M1072 1705L569 1482M1072 1705L640 1513M1072 1705L633 1552M1072 1705L597 1565M1072 1705L686 1564M1072 1705L633 1583M1072 1705L508 1596M1072 1705L550 1592M1072 1705L669 1600M1072 1705L717 1598M1072 1705L592 1610M1072 1705L635 1625M1072 1705L555 1631M1072 1705L679 1634M1072 1705L765 1530M1072 1705L745 1561M1072 1705L749 1596M1072 1705L798 1607M1072 1705L966 1625M1072 1705L765 1636M1072 1705L828 1631M1072 1705L606 1651M1072 1705L653 1659M1072 1705L520 1676M1072 1705L686 1676M1072 1705L627 1691M1072 1705L566 1710M1072 1705L524 1714M1072 1705L688 1728M1072 1705L728 1665M1072 1705L801 1668M1072 1705L918 1670M1072 1705L850 1680M1072 1705L898 1715M1072 1705L849 1720M1072 1705L767 1728M1072 1705L725 1761M1128 1718L609 1441M1128 1718L536 1448M1128 1718L505 1487M1128 1718L722 1492M1128 1718L482 1532M1128 1718L720 1535M1128 1718L522 1554M1128 1718L563 1554M1128 1718L633 1552M1128 1718L597 1565M1128 1718L468 1581M1128 1718L508 1596M1128 1718L635 1625M1128 1718L512 1636M1128 1718L866 1561M1128 1718L749 1596M1128 1718L798 1607M1128 1718L920 1618M1128 1718L653 1659M1128 1718L686 1676M1128 1718L660 1706M1128 1718L524 1714M1128 1718L610 1728M1128 1718L628 1766M1128 1718L580 1790M1128 1718L875 1649M1128 1718L968 1683M1128 1718L762 1693M1128 1718L815 1710M1128 1718L898 1715M1128 1718L935 1746M1128 1718L725 1761M1027 1720L668 1378M1027 1720L620 1392M1027 1720L575 1416M1027 1720L609 1441M1027 1720L563 1554M1027 1720L633 1552M1027 1720L686 1564M1027 1720L468 1581M1027 1720L633 1583M1027 1720L508 1596M1027 1720L669 1600M1027 1720L717 1598M1027 1720L592 1610M1027 1720L635 1625M1027 1720L555 1631M1027 1720L512 1636M1027 1720L679 1634M1027 1720L796 1569M1027 1720L749 1596M1027 1720L798 1607M1027 1720L881 1610M1027 1720L606 1651M1027 1720L520 1676M1027 1720L660 1706M1027 1720L566 1710M1027 1720L524 1714M1027 1720L659 1791M1027 1720L875 1649M1027 1720L728 1665M1027 1720L801 1668M1027 1720L850 1680M1027 1720L968 1683M1027 1720L762 1693M1027 1720L815 1710M1027 1720L849 1720M1027 1720L728 1721M1027 1720L767 1728M1027 1720L871 1752M1027 1720L725 1761M1027 1720L845 1781M1207 1723L596 1512M1207 1723L592 1610M1207 1723L464 1631M1207 1723L555 1631M1207 1723L796 1569M1207 1723L844 1593M1207 1723L749 1596M1207 1723L798 1607M1207 1723L881 1610M1207 1723L765 1636M1207 1723L627 1691M1207 1723L566 1710M1207 1723L524 1714M1207 1723L628 1766M1207 1723L682 1763M1207 1723L546 1811M1207 1723L875 1649M1207 1723L801 1668M1207 1723L918 1670M1207 1723L968 1683M1207 1723L728 1721M980 1736L536 1448M980 1736L505 1487M980 1736L640 1513M980 1736L538 1517M980 1736L720 1535M980 1736L522 1554M980 1736L633 1552M980 1736L597 1565M980 1736L686 1564M980 1736L508 1596M980 1736L550 1592M980 1736L669 1600M980 1736L717 1598M980 1736L592 1610M980 1736L635 1625M980 1736L464 1631M980 1736L555 1631M980 1736L679 1634M980 1736L765 1530M980 1736L796 1569M980 1736L749 1596M980 1736L722 1633M980 1736L765 1636M980 1736L828 1631M980 1736L606 1651M980 1736L653 1659M980 1736L478 1677M980 1736L520 1676M980 1736L686 1676M980 1736L627 1691M980 1736L566 1710M980 1736L728 1665M980 1736L801 1668M980 1736L918 1670M980 1736L850 1680M980 1736L762 1693M980 1736L898 1715M980 1736L728 1721M980 1736L767 1728M980 1736L725 1761M1076 1735L723 1403M1076 1735L630 1475M1076 1735L482 1532M1076 1735L522 1554M1076 1735L597 1565M1076 1735L633 1583M1076 1735L508 1596M1076 1735L550 1592M1076 1735L669 1600M1076 1735L717 1598M1076 1735L635 1625M1076 1735L464 1631M1076 1735L512 1636M1076 1735L679 1634M1076 1735L846 1510M1076 1735L796 1569M1076 1735L798 1607M1076 1735L722 1633M1076 1735L765 1636M1076 1735L606 1651M1076 1735L561 1666M1076 1735L653 1659M1076 1735L520 1676M1076 1735L686 1676M1076 1735L487 1730M1076 1735L548 1749M1076 1735L628 1766M1076 1735L875 1649M1076 1735L728 1665M1076 1735L801 1668M1076 1735L918 1670M1076 1735L850 1680M1076 1735L968 1683M1076 1735L762 1693M1076 1735L815 1710M1076 1735L871 1752M1076 1735L725 1761M1076 1735L812 1810M1173 1741L620 1392M1173 1741L575 1416M1173 1741L675 1454M1173 1741L597 1565M1173 1741L686 1564M1173 1741L717 1598M1173 1741L512 1636M1173 1741L846 1510M1173 1741L802 1516M1173 1741L947 1527M1173 1741L765 1530M1173 1741L966 1625M1173 1741L722 1633M1173 1741L765 1636M1173 1741L828 1631M1173 1741L561 1666M1173 1741L653 1659M1173 1741L520 1676M1173 1741L610 1728M1173 1741L875 1649M1173 1741L728 1665M1173 1741L801 1668M1173 1741L762 1693M1173 1741L898 1715M1173 1741L849 1720M1173 1741L728 1721M1173 1741L725 1761M1023 1752L575 1416M1023 1752L675 1454M1023 1752L729 1441M1023 1752L630 1475M1023 1752L569 1482M1023 1752L505 1487M1023 1752L596 1512M1023 1752L640 1513M1023 1752L538 1517M1023 1752L675 1524M1023 1752L482 1532M1023 1752L522 1554M1023 1752L633 1552M1023 1752L686 1564M1023 1752L633 1583M1023 1752L508 1596M1023 1752L669 1600M1023 1752L635 1625M1023 1752L464 1631M1023 1752L555 1631M1023 1752L679 1634M1023 1752L745 1561M1023 1752L881 1610M1023 1752L765 1636M1023 1752L828 1631M1023 1752L606 1651M1023 1752L561 1666M1023 1752L478 1677M1023 1752L686 1676M1023 1752L660 1706M1023 1752L524 1714M1023 1752L688 1728M1023 1752L512 1773M1023 1752L875 1649M1023 1752L918 1670M1023 1752L850 1680M1023 1752L815 1710M1023 1752L898 1715M1023 1752L849 1720M1023 1752L728 1721M1121 1751L596 1512M1121 1751L720 1535M1121 1751L522 1554M1121 1751L633 1552M1121 1751L597 1565M1121 1751L468 1581M1121 1751L508 1596M1121 1751L669 1600M1121 1751L592 1610M1121 1751L635 1625M1121 1751L555 1631M1121 1751L512 1636M1121 1751L679 1634M1121 1751L846 1510M1121 1751L765 1530M1121 1751L745 1561M1121 1751L796 1569M1121 1751L881 1610M1121 1751L920 1618M1121 1751L722 1633M1121 1751L765 1636M1121 1751L478 1677M1121 1751L566 1710M1121 1751L524 1714M1121 1751L688 1728M1121 1751L548 1749M1121 1751L728 1665M1121 1751L801 1668M1121 1751L918 1670M1121 1751L968 1683M1121 1751L898 1715M1121 1751L849 1720M1121 1751L935 1746M1212 1772L675 1454M1212 1772L729 1441M1212 1772L722 1492M1212 1772L597 1565M1212 1772L686 1564M1212 1772L508 1596M1212 1772L550 1592M1212 1772L635 1625M1212 1772L745 1561M1212 1772L798 1607M1212 1772L881 1610M1212 1772L765 1636M1212 1772L828 1631M1212 1772L686 1676M1212 1772L580 1790M1212 1772L875 1649M1212 1772L728 1665M1212 1772L850 1680M1212 1772L762 1693M1212 1772L871 1752M1075 1764L575 1416M1075 1764L675 1454M1075 1764L680 1488M1075 1764L596 1512M1075 1764L538 1517M1075 1764L482 1532M1075 1764L597 1565M1075 1764L468 1581M1075 1764L550 1592M1075 1764L635 1625M1075 1764L464 1631M1075 1764L512 1636M1075 1764L679 1634M1075 1764L866 1561M1075 1764L796 1569M1075 1764L749 1596M1075 1764L798 1607M1075 1764L881 1610M1075 1764L722 1633M1075 1764L765 1636M1075 1764L828 1631M1075 1764L606 1651M1075 1764L561 1666M1075 1764L660 1706M1075 1764L566 1710M1075 1764L524 1714M1075 1764L487 1730M1075 1764L590 1756M1075 1764L728 1665M1075 1764L801 1668M1075 1764L918 1670M1075 1764L850 1680M1075 1764L968 1683M1075 1764L815 1710M1075 1764L898 1715M1075 1764L728 1721M1075 1764L767 1728M1075 1764L871 1752M987 1772L575 1416M987 1772L641 1424M987 1772L609 1441M987 1772L569 1482M987 1772L505 1487M987 1772L680 1488M987 1772L596 1512M987 1772L538 1517M987 1772L675 1524M987 1772L482 1532M987 1772L522 1554M987 1772L563 1554M987 1772L633 1552M987 1772L597 1565M987 1772L686 1564M987 1772L633 1583M987 1772L508 1596M987 1772L669 1600M987 1772L592 1610M987 1772L635 1625M987 1772L555 1631M987 1772L679 1634M987 1772L765 1530M987 1772L745 1561M987 1772L798 1607M987 1772L722 1633M987 1772L765 1636M987 1772L828 1631M987 1772L653 1659M987 1772L688 1728M987 1772L590 1756M987 1772L628 1766M987 1772L728 1665M987 1772L801 1668M987 1772L850 1680M987 1772L762 1693M987 1772L815 1710M987 1772L898 1715M987 1772L849 1720M987 1772L935 1746M1121 1778L575 1416M1121 1778L675 1454M1121 1778L569 1482M1121 1778L596 1512M1121 1778L482 1532M1121 1778L597 1565M1121 1778L508 1596M1121 1778L550 1592M1121 1778L717 1598M1121 1778L592 1610M1121 1778L555 1631M1121 1778L679 1634M1121 1778L760 1492M1121 1778L796 1569M1121 1778L844 1593M1121 1778L749 1596M1121 1778L828 1631M1121 1778L653 1659M1121 1778L520 1676M1121 1778L627 1691M1121 1778L660 1706M1121 1778L610 1728M1121 1778L628 1766M1121 1778L801 1668M1121 1778L850 1680M1121 1778L815 1710M1121 1778L898 1715M1121 1778L849 1720M1121 1778L767 1728M1121 1778L935 1746M1121 1778L871 1752M1121 1778L725 1761M1121 1778L906 1788M1046 1784L641 1424M1046 1784L569 1482M1046 1784L505 1487M1046 1784L722 1492M1046 1784L596 1512M1046 1784L640 1513M1046 1784L482 1532M1046 1784L522 1554M1046 1784L563 1554M1046 1784L686 1564M1046 1784L468 1581M1046 1784L633 1583M1046 1784L550 1592M1046 1784L555 1631M1046 1784L512 1636M1046 1784L679 1634M1046 1784L760 1492M1046 1784L802 1516M1046 1784L798 1607M1046 1784L722 1633M1046 1784L765 1636M1046 1784L828 1631M1046 1784L653 1659M1046 1784L478 1677M1046 1784L520 1676M1046 1784L627 1691M1046 1784L566 1710M1046 1784L682 1763M1046 1784L728 1665M1046 1784L801 1668M1046 1784L850 1680M1046 1784L762 1693M1046 1784L815 1710M1046 1784L898 1715M1046 1784L849 1720M1046 1784L728 1721M1046 1784L767 1728M1046 1784L798 1749M1046 1784L935 1746M1046 1784L906 1788M1163 1791L536 1448M1163 1791L675 1454M1163 1791L569 1482M1163 1791L640 1513M1163 1791L538 1517M1163 1791L633 1552M1163 1791L686 1564M1163 1791L464 1631M1163 1791L679 1634M1163 1791L745 1561M1163 1791L920 1618M1163 1791L722 1633M1163 1791L606 1651M1163 1791L561 1666M1163 1791L686 1676M1163 1791L627 1691M1163 1791L660 1706M1163 1791L710 1797M1163 1791L546 1811M1163 1791L875 1649M1163 1791L968 1683M1163 1791L762 1693M1163 1791L898 1715M1163 1791L849 1720M1163 1791L798 1749M1163 1791L935 1746M1163 1791L870 1823M1009 1804L641 1424M1009 1804L569 1482M1009 1804L505 1487M1009 1804L680 1488M1009 1804L596 1512M1009 1804L538 1517M1009 1804L675 1524M1009 1804L720 1535M1009 1804L563 1554M1009 1804L633 1552M1009 1804L597 1565M1009 1804L508 1596M1009 1804L550 1592M1009 1804L669 1600M1009 1804L635 1625M1009 1804L555 1631M1009 1804L512 1636M1009 1804L679 1634M1009 1804L802 1516M1009 1804L745 1561M1009 1804L798 1607M1009 1804L722 1633M1009 1804L765 1636M1009 1804L828 1631M1009 1804L606 1651M1009 1804L561 1666M1009 1804L653 1659M1009 1804L520 1676M1009 1804L686 1676M1009 1804L524 1714M1009 1804L590 1756M1009 1804L850 1680M1009 1804L762 1693M1009 1804L815 1710M1009 1804L849 1720M1009 1804L728 1721M1009 1804L767 1728M1009 1804L798 1749M1009 1804L871 1752M1009 1804L906 1788M1083 1802L719 1373M1083 1802L536 1448M1083 1802L675 1454M1083 1802L729 1441M1083 1802L630 1475M1083 1802L569 1482M1083 1802L505 1487M1083 1802L596 1512M1083 1802L538 1517M1083 1802L675 1524M1083 1802L482 1532M1083 1802L633 1552M1083 1802L550 1592M1083 1802L717 1598M1083 1802L592 1610M1083 1802L635 1625M1083 1802L512 1636M1083 1802L679 1634M1083 1802L765 1530M1083 1802L796 1569M1083 1802L844 1593M1083 1802L722 1633M1083 1802L828 1631M1083 1802L606 1651M1083 1802L561 1666M1083 1802L520 1676M1083 1802L524 1714M1083 1802L875 1649M1083 1802L728 1665M1083 1802L801 1668M1083 1802L850 1680M1083 1802L762 1693M1083 1802L898 1715M1083 1802L849 1720M1083 1802L935 1746M1083 1802L772 1827M1083 1802L688 1833M951 1791L575 1416M951 1791L569 1482M951 1791L722 1492M951 1791L640 1513M951 1791L538 1517M951 1791L482 1532M951 1791L720 1535M951 1791L522 1554M951 1791L563 1554M951 1791L597 1565M951 1791L686 1564M951 1791L633 1583M951 1791L550 1592M951 1791L717 1598M951 1791L592 1610M951 1791L635 1625M951 1791L464 1631M951 1791L512 1636M951 1791L679 1634M951 1791L798 1607M951 1791L722 1633M951 1791L765 1636M951 1791L828 1631M951 1791L561 1666M951 1791L653 1659M951 1791L520 1676M951 1791L686 1676M951 1791L627 1691M951 1791L660 1706M951 1791L524 1714M951 1791L688 1728M951 1791L728 1665M951 1791L801 1668M951 1791L762 1693M951 1791L815 1710M951 1791L849 1720M951 1791L767 1728M951 1791L798 1749M951 1791L871 1752M951 1791L725 1761M280 1836L769 1379M280 1836L729 1441M280 1836L630 1475M280 1836L569 1482M280 1836L720 1535M280 1836L597 1565M280 1836L686 1564M280 1836L508 1596M280 1836L592 1610M280 1836L555 1631M280 1836L869 1479M280 1836L922 1482M280 1836L760 1492M280 1836L802 1516M280 1836L896 1518M280 1836L947 1527M280 1836L765 1530M280 1836L745 1561M280 1836L796 1569M280 1836L920 1618M280 1836L722 1633M280 1836L765 1636M280 1836L606 1651M280 1836L653 1659M280 1836L478 1677M280 1836L686 1676M280 1836L627 1691M280 1836L566 1710M280 1836L524 1714M280 1836L688 1728M280 1836L628 1766M280 1836L580 1790M280 1836L546 1811M280 1836L728 1665M280 1836L918 1670M280 1836L850 1680M280 1836L762 1693M280 1836L871 1752M280 1836L725 1761M280 1836L772 1827M326 1848L677 1408M326 1848L641 1424M326 1848L769 1379M326 1848L860 1419M326 1848L729 1441M326 1848L630 1475M326 1848L720 1535M326 1848L633 1583M326 1848L669 1600M326 1848L717 1598M326 1848L592 1610M326 1848L555 1631M326 1848L679 1634M326 1848L813 1478M326 1848L760 1492M326 1848L846 1510M326 1848L802 1516M326 1848L765 1530M326 1848L830 1550M326 1848L745 1561M326 1848L866 1561M326 1848L796 1569M326 1848L913 1572M326 1848L961 1575M326 1848L749 1596M326 1848L966 1625M326 1848L722 1633M326 1848L606 1651M326 1848L561 1666M326 1848L653 1659M326 1848L660 1706M326 1848L566 1710M326 1848L524 1714M326 1848L610 1728M326 1848L548 1749M326 1848L590 1756M326 1848L875 1649M326 1848L728 1665M326 1848L762 1693M326 1848L815 1710M416 1847L763 1410M416 1847L860 1419M416 1847L898 1441M416 1847L775 1458M416 1847L722 1492M416 1847L597 1565M416 1847L686 1564M416 1847L669 1600M416 1847L717 1598M416 1847L635 1625M416 1847L555 1631M416 1847L813 1478M416 1847L922 1482M416 1847L846 1510M416 1847L802 1516M416 1847L947 1527M416 1847L765 1530M416 1847L745 1561M416 1847L796 1569M416 1847L920 1618M416 1847L966 1625M416 1847L722 1633M416 1847L828 1631M416 1847L606 1651M416 1847L561 1666M416 1847L653 1659M416 1847L686 1676M416 1847L627 1691M416 1847L660 1706M416 1847L566 1710M416 1847L487 1730M416 1847L610 1728M416 1847L688 1728M416 1847L590 1756M416 1847L512 1773M416 1847L580 1790M416 1847L875 1649M416 1847L728 1665M416 1847L801 1668M416 1847L762 1693M371 1858L719 1373M371 1858L763 1410M371 1858L729 1441M371 1858L836 1449M371 1858L775 1458M371 1858L680 1488M371 1858L563 1554M371 1858L597 1565M371 1858L669 1600M371 1858L592 1610M371 1858L635 1625M371 1858L679 1634M371 1858L813 1478M371 1858L869 1479M371 1858L802 1516M371 1858L896 1518M371 1858L765 1530M371 1858L830 1550M371 1858L796 1569M371 1858L961 1575M371 1858L844 1593M371 1858L749 1596M371 1858L798 1607M371 1858L966 1625M371 1858L722 1633M371 1858L765 1636M371 1858L561 1666M371 1858L653 1659M371 1858L686 1676M371 1858L660 1706M371 1858L566 1710M371 1858L610 1728M371 1858L590 1756M371 1858L512 1773M371 1858L546 1811M371 1858L875 1649M371 1858L801 1668M371 1858L850 1680M371 1858L767 1728M371 1858L871 1752M197 1867L798 1423M197 1867L836 1449M197 1867L675 1524M197 1867L633 1552M197 1867L669 1600M197 1867L635 1625M197 1867L555 1631M197 1867L679 1634M197 1867L869 1479M197 1867L922 1482M197 1867L760 1492M197 1867L846 1510M197 1867L802 1516M197 1867L896 1518M197 1867L947 1527M197 1867L830 1550M197 1867L866 1561M197 1867L913 1572M197 1867L749 1596M197 1867L798 1607M197 1867L828 1631M197 1867L606 1651M197 1867L561 1666M197 1867L653 1659M197 1867L478 1677M197 1867L627 1691M197 1867L660 1706M197 1867L524 1714M197 1867L487 1730M197 1867L610 1728M197 1867L590 1756M197 1867L580 1790M197 1867L728 1665M197 1867L801 1668M197 1867L968 1683M197 1867L728 1721M197 1867L767 1728M197 1867L935 1746M197 1867L760 1781M197 1867L681 1874M302 1892L723 1403M302 1892L641 1424M302 1892L816 1395M302 1892L836 1449M302 1892L720 1535M302 1892L633 1583M302 1892L555 1631M302 1892L813 1478M302 1892L869 1479M302 1892L922 1482M302 1892L760 1492M302 1892L802 1516M302 1892L896 1518M302 1892L765 1530M302 1892L830 1550M302 1892L745 1561M302 1892L796 1569M302 1892L798 1607M302 1892L966 1625M302 1892L722 1633M302 1892L765 1636M302 1892L606 1651M302 1892L653 1659M302 1892L686 1676M302 1892L627 1691M302 1892L660 1706M302 1892L566 1710M302 1892L524 1714M302 1892L548 1749M302 1892L590 1756M302 1892L512 1773M302 1892L580 1790M302 1892L710 1797M302 1892L611 1811M302 1892L875 1649M302 1892L918 1670M302 1892L968 1683M302 1892L762 1693M302 1892L767 1728M302 1892L651 1826M363 1886L668 1378M363 1886L723 1403M363 1886L675 1454M363 1886L816 1395M363 1886L763 1410M363 1886L860 1419M363 1886L569 1482M363 1886L722 1492M363 1886L596 1512M363 1886L633 1552M363 1886L717 1598M363 1886L635 1625M363 1886L869 1479M363 1886L922 1482M363 1886L760 1492M363 1886L846 1510M363 1886L802 1516M363 1886L896 1518M363 1886L745 1561M363 1886L796 1569M363 1886L913 1572M363 1886L749 1596M363 1886L798 1607M363 1886L722 1633M363 1886L765 1636M363 1886L561 1666M363 1886L653 1659M363 1886L686 1676M363 1886L627 1691M363 1886L660 1706M363 1886L566 1710M363 1886L548 1749M363 1886L590 1756M363 1886L682 1763M363 1886L512 1773M363 1886L580 1790M363 1886L546 1811M363 1886L875 1649M363 1886L728 1665M363 1886L725 1761M418 1893L575 1416M418 1893L860 1419M418 1893L729 1441M418 1893L898 1441M418 1893L836 1449M418 1893L775 1458M418 1893L722 1492M418 1893L720 1535M418 1893L633 1552M418 1893L597 1565M418 1893L669 1600M418 1893L635 1625M418 1893L869 1479M418 1893L760 1492M418 1893L846 1510M418 1893L896 1518M418 1893L765 1530M418 1893L830 1550M418 1893L844 1593M418 1893L749 1596M418 1893L798 1607M418 1893L881 1610M418 1893L828 1631M418 1893L606 1651M418 1893L653 1659M418 1893L520 1676M418 1893L686 1676M418 1893L627 1691M418 1893L660 1706M418 1893L566 1710M418 1893L610 1728M418 1893L688 1728M418 1893L548 1749M418 1893L590 1756M418 1893L628 1766M418 1893L546 1811M418 1893L875 1649M418 1893L728 1665M418 1893L815 1710M418 1893L767 1728M360 1910L798 1423M360 1910L860 1419M360 1910L836 1449M360 1910L675 1524M360 1910L720 1535M360 1910L686 1564M360 1910L633 1583M360 1910L669 1600M360 1910L592 1610M360 1910L635 1625M360 1910L679 1634M360 1910L760 1492M360 1910L846 1510M360 1910L947 1527M360 1910L765 1530M360 1910L830 1550M360 1910L866 1561M360 1910L796 1569M360 1910L913 1572M360 1910L844 1593M360 1910L749 1596M360 1910L765 1636M360 1910L606 1651M360 1910L561 1666M360 1910L686 1676M360 1910L627 1691M360 1910L566 1710M360 1910L487 1730M360 1910L610 1728M360 1910L590 1756M360 1910L628 1766M360 1910L682 1763M360 1910L512 1773M360 1910L546 1811M360 1910L801 1668M360 1910L968 1683M360 1910L762 1693M360 1910L767 1728M360 1910L725 1761M360 1910L772 1827M264 1919L675 1454M264 1919L729 1441M264 1919L569 1482M264 1919L633 1552M264 1919L686 1564M264 1919L669 1600M264 1919L635 1625M264 1919L464 1631M264 1919L555 1631M264 1919L679 1634M264 1919L813 1478M264 1919L869 1479M264 1919L896 1518M264 1919L765 1530M264 1919L830 1550M264 1919L745 1561M264 1919L866 1561M264 1919L913 1572M264 1919L961 1575M264 1919L844 1593M264 1919L722 1633M264 1919L765 1636M264 1919L828 1631M264 1919L606 1651M264 1919L520 1676M264 1919L686 1676M264 1919L627 1691M264 1919L566 1710M264 1919L610 1728M264 1919L548 1749M264 1919L512 1773M264 1919L580 1790M264 1919L546 1811M264 1919L728 1665M264 1919L801 1668M264 1919L762 1693M264 1919L728 1721M264 1919L725 1761M264 1919L727 1835M264 1919L651 1826M421 1922L723 1403M421 1922L816 1395M421 1922L798 1423M421 1922L729 1441M421 1922L630 1475M421 1922L722 1492M421 1922L679 1634M421 1922L813 1478M421 1922L869 1479M421 1922L846 1510M421 1922L802 1516M421 1922L947 1527M421 1922L830 1550M421 1922L745 1561M421 1922L866 1561M421 1922L796 1569M421 1922L913 1572M421 1922L749 1596M421 1922L798 1607M421 1922L881 1610M421 1922L920 1618M421 1922L722 1633M421 1922L765 1636M421 1922L828 1631M421 1922L660 1706M421 1922L566 1710M421 1922L524 1714M421 1922L487 1730M421 1922L610 1728M421 1922L688 1728M421 1922L548 1749M421 1922L590 1756M421 1922L628 1766M421 1922L546 1811M421 1922L611 1811M421 1922L762 1693M421 1922L815 1710M421 1922L767 1728M421 1922L845 1781M421 1922L586 1840M365 1936L769 1379M365 1936L860 1419M365 1936L775 1458M365 1936L680 1488M365 1936L675 1524M365 1936L563 1554M365 1936L686 1564M365 1936L550 1592M365 1936L669 1600M365 1936L592 1610M365 1936L635 1625M365 1936L679 1634M365 1936L922 1482M365 1936L760 1492M365 1936L802 1516M365 1936L830 1550M365 1936L749 1596M365 1936L881 1610M365 1936L920 1618M365 1936L765 1636M365 1936L828 1631M365 1936L606 1651M365 1936L561 1666M365 1936L653 1659M365 1936L686 1676M365 1936L627 1691M365 1936L660 1706M365 1936L566 1710M365 1936L524 1714M365 1936L487 1730M365 1936L610 1728M365 1936L548 1749M365 1936L590 1756M365 1936L628 1766M365 1936L682 1763M365 1936L512 1773M365 1936L659 1791M365 1936L546 1811M365 1936L728 1721M365 1936L906 1788M311 1941L723 1403M311 1941L677 1408M311 1941L763 1410M311 1941L775 1458M311 1941L680 1488M311 1941L640 1513M311 1941L597 1565M311 1941L686 1564M311 1941L633 1583M311 1941L669 1600M311 1941L635 1625M311 1941L555 1631M311 1941L512 1636M311 1941L869 1479M311 1941L846 1510M311 1941L896 1518M311 1941L765 1530M311 1941L830 1550M311 1941L866 1561M311 1941L913 1572M311 1941L961 1575M311 1941L798 1607M311 1941L966 1625M311 1941L828 1631M311 1941L561 1666M311 1941L686 1676M311 1941L660 1706M311 1941L487 1730M311 1941L610 1728M311 1941L548 1749M311 1941L512 1773M311 1941L580 1790M311 1941L611 1811M311 1941L728 1665M311 1941L850 1680M311 1941L762 1693M311 1941L815 1710M311 1941L849 1720M311 1941L725 1761M311 1941L586 1840M414 1960L575 1416M414 1960L763 1410M414 1960L775 1458M414 1960L630 1475M414 1960L505 1487M414 1960L680 1488M414 1960L722 1492M414 1960L596 1512M414 1960L720 1535M414 1960L597 1565M414 1960L633 1583M414 1960L669 1600M414 1960L717 1598M414 1960L592 1610M414 1960L555 1631M414 1960L760 1492M414 1960L846 1510M414 1960L947 1527M414 1960L765 1530M414 1960L830 1550M414 1960L745 1561M414 1960L796 1569M414 1960L913 1572M414 1960L828 1631M414 1960L606 1651M414 1960L686 1676M414 1960L487 1730M414 1960L610 1728M414 1960L590 1756M414 1960L628 1766M414 1960L682 1763M414 1960L580 1790M414 1960L659 1791M414 1960L546 1811M414 1960L611 1811M414 1960L801 1668M414 1960L918 1670M414 1960L762 1693M414 1960L728 1721M414 1960L767 1728M357 1982L677 1408M357 1982L675 1454M357 1982L729 1441M357 1982L898 1441M357 1982L775 1458M357 1982L569 1482M357 1982L596 1512M357 1982L675 1524M357 1982L633 1552M357 1982L686 1564M357 1982L669 1600M357 1982L717 1598M357 1982L635 1625M357 1982L512 1636M357 1982L679 1634M357 1982L813 1478M357 1982L869 1479M357 1982L802 1516M357 1982L830 1550M357 1982L866 1561M357 1982L796 1569M357 1982L749 1596M357 1982L722 1633M357 1982L765 1636M357 1982L828 1631M357 1982L606 1651M357 1982L561 1666M357 1982L653 1659M357 1982L686 1676M357 1982L627 1691M357 1982L660 1706M357 1982L566 1710M357 1982L610 1728M357 1982L688 1728M357 1982L548 1749M357 1982L590 1756M357 1982L512 1773M357 1982L546 1811M357 1982L801 1668M357 1982L728 1721M287 1997L723 1403M287 1997L609 1441M287 1997L816 1395M287 1997L775 1458M287 1997L569 1482M287 1997L722 1492M287 1997L675 1524M287 1997L720 1535M287 1997L633 1552M287 1997L686 1564M287 1997L633 1583M287 1997L869 1479M287 1997L896 1518M287 1997L745 1561M287 1997L844 1593M287 1997L749 1596M287 1997L798 1607M287 1997L966 1625M287 1997L722 1633M287 1997L765 1636M287 1997L606 1651M287 1997L561 1666M287 1997L653 1659M287 1997L686 1676M287 1997L566 1710M287 1997L487 1730M287 1997L688 1728M287 1997L590 1756M287 1997L628 1766M287 1997L682 1763M287 1997L512 1773M287 1997L659 1791M287 1997L611 1811M287 1997L728 1665M287 1997L850 1680M287 1997L762 1693M287 1997L767 1728M287 1997L935 1746M287 1997L725 1761M287 1997L727 1835M468 1841L668 1378M468 1841L816 1395M468 1841L763 1410M468 1841L798 1423M468 1841L729 1441M468 1841L898 1441M468 1841L836 1449M468 1841L633 1552M468 1841L633 1583M468 1841L717 1598M468 1841L635 1625M468 1841L679 1634M468 1841L813 1478M468 1841L869 1479M468 1841L922 1482M468 1841L760 1492M468 1841L846 1510M468 1841L896 1518M468 1841L947 1527M468 1841L765 1530M468 1841L866 1561M468 1841L749 1596M468 1841L920 1618M468 1841L966 1625M468 1841L722 1633M468 1841L765 1636M468 1841L653 1659M468 1841L686 1676M468 1841L627 1691M468 1841L660 1706M468 1841L566 1710M468 1841L590 1756M468 1841L628 1766M468 1841L512 1773M468 1841L580 1790M468 1841L875 1649M468 1841L728 1665M468 1841L801 1668M468 1841L815 1710M468 1841L728 1721M525 1839L668 1378M525 1839L763 1410M525 1839L860 1419M525 1839L898 1441M525 1839L836 1449M525 1839L775 1458M525 1839L680 1488M525 1839L722 1492M525 1839L720 1535M525 1839L633 1552M525 1839L686 1564M525 1839L633 1583M525 1839L669 1600M525 1839L717 1598M525 1839L635 1625M525 1839L679 1634M525 1839L813 1478M525 1839L760 1492M525 1839L846 1510M525 1839L802 1516M525 1839L896 1518M525 1839L745 1561M525 1839L866 1561M525 1839L913 1572M525 1839L961 1575M525 1839L722 1633M525 1839L653 1659M525 1839L686 1676M525 1839L627 1691M525 1839L660 1706M525 1839L610 1728M525 1839L688 1728M525 1839L590 1756M525 1839L628 1766M525 1839L682 1763M525 1839L580 1790M525 1839L546 1811M525 1839L728 1665M525 1839L918 1670M525 1839L850 1680M449 1872L719 1373M449 1872L620 1392M449 1872L677 1408M449 1872L816 1395M449 1872L763 1410M449 1872L898 1441M449 1872L640 1513M449 1872L686 1564M449 1872L669 1600M449 1872L635 1625M449 1872L555 1631M449 1872L679 1634M449 1872L922 1482M449 1872L760 1492M449 1872L802 1516M449 1872L896 1518M449 1872L765 1530M449 1872L796 1569M449 1872L961 1575M449 1872L844 1593M449 1872L749 1596M449 1872L798 1607M449 1872L881 1610M449 1872L920 1618M449 1872L722 1633M449 1872L606 1651M449 1872L653 1659M449 1872L686 1676M449 1872L610 1728M449 1872L548 1749M449 1872L628 1766M449 1872L682 1763M449 1872L580 1790M449 1872L659 1791M449 1872L728 1665M449 1872L762 1693M449 1872L815 1710M449 1872L898 1715M449 1872L728 1721M449 1872L725 1761M504 1872L675 1454M504 1872L763 1410M504 1872L798 1423M504 1872L860 1419M504 1872L729 1441M504 1872L775 1458M504 1872L722 1492M504 1872L675 1524M504 1872L633 1552M504 1872L669 1600M504 1872L717 1598M504 1872L635 1625M504 1872L679 1634M504 1872L813 1478M504 1872L760 1492M504 1872L802 1516M504 1872L896 1518M504 1872L947 1527M504 1872L830 1550M504 1872L745 1561M504 1872L866 1561M504 1872L796 1569M504 1872L913 1572M504 1872L844 1593M504 1872L749 1596M504 1872L881 1610M504 1872L920 1618M504 1872L966 1625M504 1872L606 1651M504 1872L561 1666M504 1872L653 1659M504 1872L686 1676M504 1872L627 1691M504 1872L660 1706M504 1872L566 1710M504 1872L610 1728M504 1872L628 1766M504 1872L580 1790M504 1872L546 1811M504 1872L849 1720M556 1870L668 1378M556 1870L719 1373M556 1870L641 1424M556 1870L675 1454M556 1870L769 1379M556 1870L816 1395M556 1870L763 1410M556 1870L798 1423M556 1870L860 1419M556 1870L729 1441M556 1870L722 1492M556 1870L675 1524M556 1870L720 1535M556 1870L597 1565M556 1870L686 1564M556 1870L669 1600M556 1870L717 1598M556 1870L635 1625M556 1870L679 1634M556 1870L813 1478M556 1870L760 1492M556 1870L846 1510M556 1870L802 1516M556 1870L830 1550M556 1870L866 1561M556 1870L749 1596M556 1870L881 1610M556 1870L722 1633M556 1870L765 1636M556 1870L828 1631M556 1870L653 1659M556 1870L686 1676M556 1870L627 1691M556 1870L660 1706M556 1870L688 1728M556 1870L628 1766M556 1870L682 1763M556 1870L611 1811M556 1870L762 1693M556 1870L586 1840M486 1897L677 1408M486 1897L609 1441M486 1897L675 1454M486 1897L763 1410M486 1897L836 1449M486 1897L775 1458M486 1897L675 1524M486 1897L720 1535M486 1897L686 1564M486 1897L669 1600M486 1897L679 1634M486 1897L813 1478M486 1897L869 1479M486 1897L922 1482M486 1897L760 1492M486 1897L896 1518M486 1897L947 1527M486 1897L765 1530M486 1897L830 1550M486 1897L745 1561M486 1897L866 1561M486 1897L796 1569M486 1897L913 1572M486 1897L844 1593M486 1897L749 1596M486 1897L722 1633M486 1897L765 1636M486 1897L606 1651M486 1897L561 1666M486 1897L653 1659M486 1897L686 1676M486 1897L627 1691M486 1897L660 1706M486 1897L610 1728M486 1897L688 1728M486 1897L548 1749M486 1897L628 1766M486 1897L728 1665M486 1897L728 1721M486 1897L586 1840M540 1899L723 1403M540 1899L677 1408M540 1899L609 1441M540 1899L769 1379M540 1899L816 1395M540 1899L763 1410M540 1899L798 1423M540 1899L729 1441M540 1899L775 1458M540 1899L722 1492M540 1899L720 1535M540 1899L633 1552M540 1899L686 1564M540 1899L633 1583M540 1899L669 1600M540 1899L679 1634M540 1899L813 1478M540 1899L869 1479M540 1899L760 1492M540 1899L846 1510M540 1899L802 1516M540 1899L745 1561M540 1899L796 1569M540 1899L913 1572M540 1899L798 1607M540 1899L722 1633M540 1899L765 1636M540 1899L561 1666M540 1899L686 1676M540 1899L627 1691M540 1899L660 1706M540 1899L610 1728M540 1899L590 1756M540 1899L682 1763M540 1899L580 1790M540 1899L659 1791M540 1899L611 1811M540 1899L728 1665M540 1899L728 1721M540 1899L767 1728M601 1893L609 1441M601 1893L816 1395M601 1893L798 1423M601 1893L860 1419M601 1893L836 1449M601 1893L775 1458M601 1893L630 1475M601 1893L596 1512M601 1893L538 1517M601 1893L720 1535M601 1893L633 1552M601 1893L686 1564M601 1893L633 1583M601 1893L669 1600M601 1893L635 1625M601 1893L679 1634M601 1893L813 1478M601 1893L869 1479M601 1893L760 1492M601 1893L745 1561M601 1893L866 1561M601 1893L796 1569M601 1893L844 1593M601 1893L749 1596M601 1893L722 1633M601 1893L606 1651M601 1893L653 1659M601 1893L660 1706M601 1893L688 1728M601 1893L628 1766M601 1893L682 1763M601 1893L580 1790M601 1893L659 1791M601 1893L710 1797M601 1893L611 1811M601 1893L762 1693M601 1893L728 1721M601 1893L725 1761M601 1893L651 1826M601 1893L631 1862M656 1915L668 1378M656 1915L620 1392M656 1915L677 1408M656 1915L816 1395M656 1915L860 1419M656 1915L729 1441M656 1915L775 1458M656 1915L630 1475M656 1915L569 1482M656 1915L680 1488M656 1915L675 1524M656 1915L720 1535M656 1915L597 1565M656 1915L686 1564M656 1915L633 1583M656 1915L717 1598M656 1915L679 1634M656 1915L813 1478M656 1915L760 1492M656 1915L896 1518M656 1915L765 1530M656 1915L866 1561M656 1915L844 1593M656 1915L749 1596M656 1915L722 1633M656 1915L765 1636M656 1915L828 1631M656 1915L653 1659M656 1915L686 1676M656 1915L627 1691M656 1915L660 1706M656 1915L688 1728M656 1915L682 1763M656 1915L659 1791M656 1915L710 1797M656 1915L728 1665M656 1915L801 1668M656 1915L725 1761M656 1915L760 1781M656 1915L688 1833M568 1922L723 1403M568 1922L677 1408M568 1922L816 1395M568 1922L763 1410M568 1922L836 1449M568 1922L775 1458M568 1922L640 1513M568 1922L675 1524M568 1922L720 1535M568 1922L633 1552M568 1922L686 1564M568 1922L633 1583M568 1922L669 1600M568 1922L717 1598M568 1922L635 1625M568 1922L813 1478M568 1922L922 1482M568 1922L760 1492M568 1922L830 1550M568 1922L745 1561M568 1922L796 1569M568 1922L749 1596M568 1922L798 1607M568 1922L920 1618M568 1922L722 1633M568 1922L828 1631M568 1922L606 1651M568 1922L653 1659M568 1922L686 1676M568 1922L660 1706M568 1922L566 1710M568 1922L688 1728M568 1922L628 1766M568 1922L682 1763M568 1922L580 1790M568 1922L659 1791M568 1922L611 1811M568 1922L728 1721M568 1922L725 1761M568 1922L586 1840M618 1930L677 1408M618 1930L763 1410M618 1930L798 1423M618 1930L860 1419M618 1930L729 1441M618 1930L898 1441M618 1930L775 1458M618 1930L680 1488M618 1930L640 1513M618 1930L675 1524M618 1930L720 1535M618 1930L686 1564M618 1930L669 1600M618 1930L717 1598M618 1930L592 1610M618 1930L635 1625M618 1930L679 1634M618 1930L813 1478M618 1930L869 1479M618 1930L760 1492M618 1930L802 1516M618 1930L896 1518M618 1930L866 1561M618 1930L796 1569M618 1930L961 1575M618 1930L844 1593M618 1930L798 1607M618 1930L765 1636M618 1930L653 1659M618 1930L686 1676M618 1930L610 1728M618 1930L688 1728M618 1930L628 1766M618 1930L682 1763M618 1930L710 1797M618 1930L728 1665M618 1930L728 1721M618 1930L651 1826M618 1930L688 1833M618 1930L631 1862M698 1930L723 1403M698 1930L677 1408M698 1930L609 1441M698 1930L675 1454M698 1930L769 1379M698 1930L816 1395M698 1930L798 1423M698 1930L898 1441M698 1930L775 1458M698 1930L569 1482M698 1930L722 1492M698 1930L675 1524M698 1930L720 1535M698 1930L563 1554M698 1930L633 1552M698 1930L686 1564M698 1930L633 1583M698 1930L669 1600M698 1930L717 1598M698 1930L592 1610M698 1930L635 1625M698 1930L679 1634M698 1930L813 1478M698 1930L869 1479M698 1930L760 1492M698 1930L765 1530M698 1930L830 1550M698 1930L745 1561M698 1930L798 1607M698 1930L722 1633M698 1930L765 1636M698 1930L653 1659M698 1930L686 1676M698 1930L627 1691M698 1930L688 1728M698 1930L682 1763M698 1930L710 1797M698 1930L728 1665M698 1930L767 1728M698 1930L688 1833M478 1933L719 1373M478 1933L675 1454M478 1933L763 1410M478 1933L798 1423M478 1933L860 1419M478 1933L898 1441M478 1933L569 1482M478 1933L640 1513M478 1933L720 1535M478 1933L633 1552M478 1933L686 1564M478 1933L669 1600M478 1933L679 1634M478 1933L813 1478M478 1933L760 1492M478 1933L846 1510M478 1933L802 1516M478 1933L896 1518M478 1933L947 1527M478 1933L745 1561M478 1933L866 1561M478 1933L749 1596M478 1933L881 1610M478 1933L722 1633M478 1933L606 1651M478 1933L653 1659M478 1933L686 1676M478 1933L627 1691M478 1933L610 1728M478 1933L688 1728M478 1933L548 1749M478 1933L590 1756M478 1933L580 1790M478 1933L659 1791M478 1933L546 1811M478 1933L611 1811M478 1933L728 1665M478 1933L767 1728M478 1933L651 1826M478 1933L586 1840M530 1939L668 1378M530 1939L719 1373M530 1939L723 1403M530 1939L769 1379M530 1939L816 1395M530 1939L898 1441M530 1939L775 1458M530 1939L680 1488M530 1939L722 1492M530 1939L720 1535M530 1939L686 1564M530 1939L669 1600M530 1939L592 1610M530 1939L635 1625M530 1939L679 1634M530 1939L813 1478M530 1939L869 1479M530 1939L846 1510M530 1939L802 1516M530 1939L765 1530M530 1939L796 1569M530 1939L844 1593M530 1939L722 1633M530 1939L765 1636M530 1939L561 1666M530 1939L653 1659M530 1939L686 1676M530 1939L627 1691M530 1939L660 1706M530 1939L688 1728M530 1939L628 1766M530 1939L682 1763M530 1939L580 1790M530 1939L659 1791M530 1939L611 1811M530 1939L728 1665M530 1939L728 1721M530 1939L651 1826M530 1939L688 1833M530 1939L586 1840M591 1955L668 1378M591 1955L620 1392M591 1955L677 1408M591 1955L641 1424M591 1955L609 1441M591 1955L769 1379M591 1955L816 1395M591 1955L798 1423M591 1955L860 1419M591 1955L775 1458M591 1955L680 1488M591 1955L722 1492M591 1955L720 1535M591 1955L633 1552M591 1955L597 1565M591 1955L686 1564M591 1955L633 1583M591 1955L669 1600M591 1955L592 1610M591 1955L635 1625M591 1955L679 1634M591 1955L802 1516M591 1955L765 1530M591 1955L796 1569M591 1955L749 1596M591 1955L881 1610M591 1955L722 1633M591 1955L765 1636M591 1955L653 1659M591 1955L686 1676M591 1955L627 1691M591 1955L610 1728M591 1955L682 1763M591 1955L659 1791M591 1955L611 1811M591 1955L728 1665M591 1955L762 1693M591 1955L725 1761M591 1955L651 1826M591 1955L631 1862M647 1958L668 1378M647 1958L620 1392M647 1958L723 1403M647 1958L677 1408M647 1958L675 1454M647 1958L769 1379M647 1958L816 1395M647 1958L763 1410M647 1958L798 1423M647 1958L630 1475M647 1958L722 1492M647 1958L675 1524M647 1958L720 1535M647 1958L597 1565M647 1958L633 1583M647 1958L669 1600M647 1958L679 1634M647 1958L813 1478M647 1958L922 1482M647 1958L760 1492M647 1958L802 1516M647 1958L896 1518M647 1958L830 1550M647 1958L745 1561M647 1958L796 1569M647 1958L722 1633M647 1958L765 1636M647 1958L606 1651M647 1958L686 1676M647 1958L660 1706M647 1958L610 1728M647 1958L688 1728M647 1958L628 1766M647 1958L659 1791M647 1958L710 1797M647 1958L611 1811M647 1958L760 1781M647 1958L651 1826M647 1958L688 1833M647 1958L631 1862M538 1963L719 1373M538 1963L675 1454M538 1963L769 1379M538 1963L798 1423M538 1963L860 1419M538 1963L898 1441M538 1963L775 1458M538 1963L722 1492M538 1963L640 1513M538 1963L675 1524M538 1963L720 1535M538 1963L686 1564M538 1963L633 1583M538 1963L669 1600M538 1963L679 1634M538 1963L813 1478M538 1963L922 1482M538 1963L760 1492M538 1963L846 1510M538 1963L796 1569M538 1963L749 1596M538 1963L722 1633M538 1963L828 1631M538 1963L606 1651M538 1963L653 1659M538 1963L686 1676M538 1963L566 1710M538 1963L610 1728M538 1963L688 1728M538 1963L548 1749M538 1963L590 1756M538 1963L628 1766M538 1963L659 1791M538 1963L611 1811M538 1963L728 1665M538 1963L762 1693M538 1963L728 1721M538 1963L767 1728M538 1963L725 1761M538 1963L651 1826M470 1968L719 1373M470 1968L816 1395M470 1968L798 1423M470 1968L898 1441M470 1968L836 1449M470 1968L775 1458M470 1968L640 1513M470 1968L720 1535M470 1968L686 1564M470 1968L633 1583M470 1968L508 1596M470 1968L717 1598M470 1968L922 1482M470 1968L760 1492M470 1968L765 1530M470 1968L866 1561M470 1968L796 1569M470 1968L913 1572M470 1968L961 1575M470 1968L844 1593M470 1968L749 1596M470 1968L798 1607M470 1968L722 1633M470 1968L686 1676M470 1968L660 1706M470 1968L524 1714M470 1968L610 1728M470 1968L590 1756M470 1968L659 1791M470 1968L546 1811M470 1968L611 1811M470 1968L875 1649M470 1968L728 1665M470 1968L728 1721M470 1968L767 1728M470 1968L798 1749M470 1968L725 1761M470 1968L651 1826M470 1968L688 1833M470 1968L586 1840M612 1981L668 1378M612 1981L719 1373M612 1981L641 1424M612 1981L675 1454M612 1981L769 1379M612 1981L763 1410M612 1981L798 1423M612 1981L860 1419M612 1981L729 1441M612 1981L836 1449M612 1981L775 1458M612 1981L680 1488M612 1981L640 1513M612 1981L720 1535M612 1981L597 1565M612 1981L669 1600M612 1981L717 1598M612 1981L592 1610M612 1981L635 1625M612 1981L679 1634M612 1981L813 1478M612 1981L846 1510M612 1981L802 1516M612 1981L765 1530M612 1981L796 1569M612 1981L844 1593M612 1981L722 1633M612 1981L765 1636M612 1981L606 1651M612 1981L653 1659M612 1981L628 1766M612 1981L682 1763M612 1981L659 1791M612 1981L710 1797M612 1981L728 1665M612 1981L762 1693M612 1981L728 1721M612 1981L767 1728M612 1981L631 1862M612 1981L681 1874M702 1984L668 1378M702 1984L723 1403M702 1984L677 1408M702 1984L641 1424M702 1984L609 1441M702 1984L816 1395M702 1984L763 1410M702 1984L798 1423M702 1984L729 1441M702 1984L836 1449M702 1984L630 1475M702 1984L680 1488M702 1984L482 1532M702 1984L720 1535M702 1984L633 1552M702 1984L686 1564M702 1984L635 1625M702 1984L679 1634M702 1984L813 1478M702 1984L760 1492M702 1984L765 1530M702 1984L830 1550M702 1984L745 1561M702 1984L796 1569M702 1984L798 1607M702 1984L920 1618M702 1984L722 1633M702 1984L765 1636M702 1984L653 1659M702 1984L686 1676M702 1984L660 1706M702 1984L688 1728M702 1984L682 1763M702 1984L710 1797M702 1984L875 1649M702 1984L728 1665M702 1984L762 1693M702 1984L728 1721M702 1984L727 1835M702 1984L688 1833M510 1990L620 1392M510 1990L723 1403M510 1990L536 1448M510 1990L763 1410M510 1990L798 1423M510 1990L836 1449M510 1990L630 1475M510 1990L569 1482M510 1990L505 1487M510 1990L686 1564M510 1990L633 1583M510 1990L717 1598M510 1990L592 1610M510 1990L813 1478M510 1990L760 1492M510 1990L830 1550M510 1990L961 1575M510 1990L749 1596M510 1990L920 1618M510 1990L722 1633M510 1990L765 1636M510 1990L828 1631M510 1990L653 1659M510 1990L686 1676M510 1990L627 1691M510 1990L660 1706M510 1990L566 1710M510 1990L610 1728M510 1990L688 1728M510 1990L590 1756M510 1990L628 1766M510 1990L659 1791M510 1990L546 1811M510 1990L611 1811M510 1990L728 1665M510 1990L762 1693M510 1990L728 1721M510 1990L767 1728M510 1990L772 1827M510 1990L651 1826M449 1995L723 1403M449 1995L675 1454M449 1995L775 1458M449 1995L722 1492M449 1995L675 1524M449 1995L720 1535M449 1995L633 1552M449 1995L686 1564M449 1995L633 1583M449 1995L669 1600M449 1995L717 1598M449 1995L922 1482M449 1995L802 1516M449 1995L896 1518M449 1995L765 1530M449 1995L745 1561M449 1995L866 1561M449 1995L796 1569M449 1995L881 1610M449 1995L765 1636M449 1995L828 1631M449 1995L561 1666M449 1995L653 1659M449 1995L610 1728M449 1995L688 1728M449 1995L590 1756M449 1995L628 1766M449 1995L580 1790M449 1995L710 1797M449 1995L546 1811M449 1995L611 1811M449 1995L875 1649M449 1995L801 1668M449 1995L918 1670M449 1995L850 1680M449 1995L762 1693M449 1995L728 1721M449 1995L731 1876M449 1995L651 1826M449 1995L586 1840M569 1999L719 1373M569 1999L677 1408M569 1999L641 1424M569 1999L609 1441M569 1999L763 1410M569 1999L836 1449M569 1999L775 1458M569 1999L630 1475M569 1999L569 1482M569 1999L640 1513M569 1999L675 1524M569 1999L720 1535M569 1999L597 1565M569 1999L669 1600M569 1999L717 1598M569 1999L555 1631M569 1999L830 1550M569 1999L796 1569M569 1999L913 1572M569 1999L798 1607M569 1999L722 1633M569 1999L765 1636M569 1999L828 1631M569 1999L686 1676M569 1999L627 1691M569 1999L660 1706M569 1999L566 1710M569 1999L610 1728M569 1999L688 1728M569 1999L659 1791M569 1999L611 1811M569 1999L728 1665M569 1999L801 1668M569 1999L762 1693M569 1999L849 1720M569 1999L728 1721M569 1999L725 1761M569 1999L651 1826M569 1999L688 1833M569 1999L631 1862M964 1827L723 1403M964 1827L677 1408M964 1827L575 1416M964 1827L609 1441M964 1827L536 1448M964 1827L675 1454M964 1827L630 1475M964 1827L722 1492M964 1827L640 1513M964 1827L538 1517M964 1827L675 1524M964 1827L522 1554M964 1827L563 1554M964 1827L633 1552M964 1827L597 1565M964 1827L686 1564M964 1827L633 1583M964 1827L508 1596M964 1827L550 1592M964 1827L679 1634M964 1827L796 1569M964 1827L749 1596M964 1827L722 1633M964 1827L828 1631M964 1827L653 1659M964 1827L520 1676M964 1827L686 1676M964 1827L566 1710M964 1827L628 1766M964 1827L728 1665M964 1827L801 1668M964 1827L762 1693M964 1827L815 1710M964 1827L849 1720M964 1827L767 1728M964 1827L798 1749M964 1827L871 1752M964 1827L725 1761M964 1827L845 1781M964 1827L906 1788M914 1835L620 1392M914 1835L677 1408M914 1835L536 1448M914 1835L675 1454M914 1835L630 1475M914 1835L505 1487M914 1835L680 1488M914 1835L722 1492M914 1835L596 1512M914 1835L640 1513M914 1835L538 1517M914 1835L675 1524M914 1835L482 1532M914 1835L720 1535M914 1835L563 1554M914 1835L633 1552M914 1835L597 1565M914 1835L633 1583M914 1835L669 1600M914 1835L717 1598M914 1835L679 1634M914 1835L802 1516M914 1835L745 1561M914 1835L749 1596M914 1835L798 1607M914 1835L722 1633M914 1835L765 1636M914 1835L606 1651M914 1835L653 1659M914 1835L686 1676M914 1835L627 1691M914 1835L610 1728M914 1835L688 1728M914 1835L728 1665M914 1835L801 1668M914 1835L762 1693M914 1835L728 1721M914 1835L767 1728M914 1835L798 1749M914 1835L845 1781M991 1846L668 1378M991 1846L719 1373M991 1846L641 1424M991 1846L609 1441M991 1846L763 1410M991 1846L630 1475M991 1846L569 1482M991 1846L596 1512M991 1846L640 1513M991 1846L538 1517M991 1846L675 1524M991 1846L482 1532M991 1846L720 1535M991 1846L522 1554M991 1846L563 1554M991 1846L633 1552M991 1846L597 1565M991 1846L686 1564M991 1846L550 1592M991 1846L717 1598M991 1846L592 1610M991 1846L512 1636M991 1846L765 1530M991 1846L722 1633M991 1846L765 1636M991 1846L828 1631M991 1846L561 1666M991 1846L686 1676M991 1846L627 1691M991 1846L660 1706M991 1846L487 1730M991 1846L688 1728M991 1846L850 1680M991 1846L815 1710M991 1846L898 1715M991 1846L849 1720M991 1846L728 1721M991 1846L767 1728M991 1846L798 1749M991 1846L725 1761M883 1868L620 1392M883 1868L677 1408M883 1868L575 1416M883 1868L609 1441M883 1868L729 1441M883 1868L775 1458M883 1868L630 1475M883 1868L569 1482M883 1868L640 1513M883 1868L538 1517M883 1868L675 1524M883 1868L482 1532M883 1868L720 1535M883 1868L563 1554M883 1868L597 1565M883 1868L686 1564M883 1868L633 1583M883 1868L669 1600M883 1868L717 1598M883 1868L592 1610M883 1868L635 1625M883 1868L464 1631M883 1868L512 1636M883 1868L679 1634M883 1868L745 1561M883 1868L749 1596M883 1868L722 1633M883 1868L828 1631M883 1868L653 1659M883 1868L627 1691M883 1868L728 1665M883 1868L801 1668M883 1868L762 1693M883 1868L815 1710M883 1868L849 1720M883 1868L728 1721M883 1868L767 1728M883 1868L798 1749M883 1868L845 1781M883 1868L870 1823M931 1875L609 1441M931 1875L536 1448M931 1875L729 1441M931 1875L630 1475M931 1875L505 1487M931 1875L596 1512M931 1875L640 1513M931 1875L538 1517M931 1875L482 1532M931 1875L720 1535M931 1875L522 1554M931 1875L633 1552M931 1875L686 1564M931 1875L468 1581M931 1875L633 1583M931 1875L508 1596M931 1875L669 1600M931 1875L592 1610M931 1875L635 1625M931 1875L555 1631M931 1875L679 1634M931 1875L760 1492M931 1875L745 1561M931 1875L749 1596M931 1875L765 1636M931 1875L828 1631M931 1875L686 1676M931 1875L688 1728M931 1875L628 1766M931 1875L682 1763M931 1875L728 1665M931 1875L801 1668M931 1875L850 1680M931 1875L762 1693M931 1875L849 1720M931 1875L728 1721M931 1875L767 1728M931 1875L798 1749M931 1875L812 1810M931 1875L870 1823M1000 1884L723 1403M1000 1884L641 1424M1000 1884L609 1441M1000 1884L763 1410M1000 1884L630 1475M1000 1884L569 1482M1000 1884L505 1487M1000 1884L680 1488M1000 1884L596 1512M1000 1884L640 1513M1000 1884L675 1524M1000 1884L482 1532M1000 1884L720 1535M1000 1884L522 1554M1000 1884L563 1554M1000 1884L633 1552M1000 1884L686 1564M1000 1884L633 1583M1000 1884L550 1592M1000 1884L592 1610M1000 1884L635 1625M1000 1884L555 1631M1000 1884L760 1492M1000 1884L765 1530M1000 1884L749 1596M1000 1884L798 1607M1000 1884L722 1633M1000 1884L765 1636M1000 1884L606 1651M1000 1884L686 1676M1000 1884L628 1766M1000 1884L875 1649M1000 1884L728 1665M1000 1884L801 1668M1000 1884L762 1693M1000 1884L767 1728M1000 1884L798 1749M1000 1884L871 1752M1000 1884L845 1781M1000 1884L906 1788M841 1896L641 1424M841 1896L609 1441M841 1896L816 1395M841 1896L775 1458M841 1896L630 1475M841 1896L569 1482M841 1896L505 1487M841 1896L680 1488M841 1896L722 1492M841 1896L538 1517M841 1896L482 1532M841 1896L522 1554M841 1896L633 1552M841 1896L597 1565M841 1896L686 1564M841 1896L633 1583M841 1896L508 1596M841 1896L669 1600M841 1896L717 1598M841 1896L635 1625M841 1896L846 1510M841 1896L765 1530M841 1896L745 1561M841 1896L749 1596M841 1896L798 1607M841 1896L722 1633M841 1896L765 1636M841 1896L606 1651M841 1896L653 1659M841 1896L686 1676M841 1896L688 1728M841 1896L728 1665M841 1896L762 1693M841 1896L728 1721M841 1896L767 1728M841 1896L798 1749M841 1896L725 1761M841 1896L760 1781M841 1896L812 1810M841 1896L828 1850M954 1900L620 1392M954 1900L677 1408M954 1900L641 1424M954 1900L609 1441M954 1900L536 1448M954 1900L630 1475M954 1900L569 1482M954 1900L680 1488M954 1900L722 1492M954 1900L640 1513M954 1900L563 1554M954 1900L633 1552M954 1900L597 1565M954 1900L686 1564M954 1900L633 1583M954 1900L669 1600M954 1900L717 1598M954 1900L592 1610M954 1900L635 1625M954 1900L512 1636M954 1900L760 1492M954 1900L765 1530M954 1900L745 1561M954 1900L798 1607M954 1900L722 1633M954 1900L765 1636M954 1900L561 1666M954 1900L653 1659M954 1900L686 1676M954 1900L688 1728M954 1900L801 1668M954 1900L850 1680M954 1900L849 1720M954 1900L728 1721M954 1900L767 1728M954 1900L871 1752M954 1900L725 1761M954 1900L845 1781M954 1900L906 1788M954 1900L812 1810M793 1912L668 1378M793 1912L719 1373M793 1912L677 1408M793 1912L575 1416M793 1912L641 1424M793 1912L675 1454M793 1912L769 1379M793 1912L798 1423M793 1912L729 1441M793 1912L775 1458M793 1912L630 1475M793 1912L569 1482M793 1912L505 1487M793 1912L680 1488M793 1912L722 1492M793 1912L596 1512M793 1912L640 1513M793 1912L675 1524M793 1912L482 1532M793 1912L720 1535M793 1912L597 1565M793 1912L633 1583M793 1912L669 1600M793 1912L717 1598M793 1912L635 1625M793 1912L679 1634M793 1912L760 1492M793 1912L745 1561M793 1912L749 1596M793 1912L722 1633M793 1912L765 1636M793 1912L686 1676M793 1912L688 1728M793 1912L728 1721M793 1912L767 1728M793 1912L798 1749M793 1912L760 1781M793 1912L772 1827M793 1912L727 1835M793 1912L781 1868M739 1916L668 1378M739 1916L620 1392M739 1916L723 1403M739 1916L677 1408M739 1916L641 1424M739 1916L609 1441M739 1916L675 1454M739 1916L769 1379M739 1916L816 1395M739 1916L729 1441M739 1916L836 1449M739 1916L630 1475M739 1916L569 1482M739 1916L680 1488M739 1916L722 1492M739 1916L596 1512M739 1916L640 1513M739 1916L720 1535M739 1916L522 1554M739 1916L563 1554M739 1916L686 1564M739 1916L633 1583M739 1916L669 1600M739 1916L717 1598M739 1916L679 1634M739 1916L760 1492M739 1916L846 1510M739 1916L745 1561M739 1916L796 1569M739 1916L798 1607M739 1916L722 1633M739 1916L606 1651M739 1916L627 1691M739 1916L660 1706M739 1916L688 1728M739 1916L710 1797M739 1916L728 1665M739 1916L728 1721M739 1916L725 1761M739 1916L727 1835M901 1912L620 1392M901 1912L677 1408M901 1912L675 1454M901 1912L775 1458M901 1912L630 1475M901 1912L569 1482M901 1912L680 1488M901 1912L596 1512M901 1912L640 1513M901 1912L538 1517M901 1912L675 1524M901 1912L482 1532M901 1912L563 1554M901 1912L633 1552M901 1912L550 1592M901 1912L669 1600M901 1912L717 1598M901 1912L635 1625M901 1912L679 1634M901 1912L765 1530M901 1912L798 1607M901 1912L765 1636M901 1912L686 1676M901 1912L627 1691M901 1912L660 1706M901 1912L710 1797M901 1912L728 1665M901 1912L801 1668M901 1912L762 1693M901 1912L815 1710M901 1912L849 1720M901 1912L728 1721M901 1912L767 1728M901 1912L798 1749M901 1912L725 1761M901 1912L845 1781M901 1912L812 1810M901 1912L870 1823M901 1912L772 1827M901 1912L828 1850M984 1922L668 1378M984 1922L609 1441M984 1922L675 1454M984 1922L630 1475M984 1922L680 1488M984 1922L596 1512M984 1922L640 1513M984 1922L538 1517M984 1922L482 1532M984 1922L633 1552M984 1922L597 1565M984 1922L686 1564M984 1922L633 1583M984 1922L550 1592M984 1922L717 1598M984 1922L592 1610M984 1922L635 1625M984 1922L765 1530M984 1922L830 1550M984 1922L745 1561M984 1922L749 1596M984 1922L798 1607M984 1922L722 1633M984 1922L765 1636M984 1922L828 1631M984 1922L520 1676M984 1922L686 1676M984 1922L487 1730M984 1922L610 1728M984 1922L688 1728M984 1922L710 1797M984 1922L728 1665M984 1922L762 1693M984 1922L815 1710M984 1922L849 1720M984 1922L728 1721M984 1922L767 1728M984 1922L871 1752M984 1922L845 1781M984 1922L870 1823M854 1930L668 1378M854 1930L620 1392M854 1930L723 1403M854 1930L609 1441M854 1930L769 1379M854 1930L763 1410M854 1930L798 1423M854 1930L775 1458M854 1930L630 1475M854 1930L569 1482M854 1930L596 1512M854 1930L640 1513M854 1930L538 1517M854 1930L675 1524M854 1930L482 1532M854 1930L720 1535M854 1930L563 1554M854 1930L686 1564M854 1930L508 1596M854 1930L669 1600M854 1930L679 1634M854 1930L844 1593M854 1930L749 1596M854 1930L798 1607M854 1930L722 1633M854 1930L606 1651M854 1930L653 1659M854 1930L520 1676M854 1930L686 1676M854 1930L660 1706M854 1930L688 1728M854 1930L710 1797M854 1930L801 1668M854 1930L762 1693M854 1930L798 1749M854 1930L725 1761M854 1930L760 1781M854 1930L845 1781M854 1930L812 1810M854 1930L828 1850M934 1932L668 1378M934 1932L677 1408M934 1932L575 1416M934 1932L641 1424M934 1932L536 1448M934 1932L675 1454M934 1932L680 1488M934 1932L640 1513M934 1932L538 1517M934 1932L522 1554M934 1932L563 1554M934 1932L633 1552M934 1932L597 1565M934 1932L686 1564M934 1932L468 1581M934 1932L633 1583M934 1932L669 1600M934 1932L592 1610M934 1932L635 1625M934 1932L679 1634M934 1932L760 1492M934 1932L802 1516M934 1932L686 1676M934 1932L524 1714M934 1932L688 1728M934 1932L682 1763M934 1932L512 1773M934 1932L801 1668M934 1932L762 1693M934 1932L815 1710M934 1932L849 1720M934 1932L767 1728M934 1932L798 1749M934 1932L871 1752M934 1932L725 1761M934 1932L760 1781M934 1932L845 1781M934 1932L812 1810M934 1932L870 1823M934 1932L828 1850M749 1945L668 1378M749 1945L723 1403M749 1945L677 1408M749 1945L575 1416M749 1945L641 1424M749 1945L609 1441M749 1945L675 1454M749 1945L769 1379M749 1945L816 1395M749 1945L763 1410M749 1945L729 1441M749 1945L775 1458M749 1945L630 1475M749 1945L569 1482M749 1945L680 1488M749 1945L640 1513M749 1945L675 1524M749 1945L686 1564M749 1945L633 1583M749 1945L550 1592M749 1945L717 1598M749 1945L869 1479M749 1945L830 1550M749 1945L745 1561M749 1945L749 1596M749 1945L798 1607M749 1945L765 1636M749 1945L828 1631M749 1945L653 1659M749 1945L686 1676M749 1945L688 1728M749 1945L682 1763M749 1945L659 1791M749 1945L728 1665M749 1945L762 1693M749 1945L728 1721M749 1945L760 1781M749 1945L772 1827M749 1945L727 1835M749 1945L731 1876M806 1943L668 1378M806 1943L719 1373M806 1943L575 1416M806 1943L641 1424M806 1943L609 1441M806 1943L536 1448M806 1943L675 1454M806 1943L816 1395M806 1943L798 1423M806 1943L775 1458M806 1943L630 1475M806 1943L569 1482M806 1943L680 1488M806 1943L722 1492M806 1943L538 1517M806 1943L675 1524M806 1943L720 1535M806 1943L633 1552M806 1943L597 1565M806 1943L686 1564M806 1943L669 1600M806 1943L717 1598M806 1943L679 1634M806 1943L760 1492M806 1943L802 1516M806 1943L765 1530M806 1943L745 1561M806 1943L722 1633M806 1943L765 1636M806 1943L686 1676M806 1943L566 1710M806 1943L688 1728M806 1943L801 1668M806 1943L728 1721M806 1943L767 1728M806 1943L798 1749M806 1943L725 1761M806 1943L760 1781M806 1943L772 1827M806 1943L781 1868M882 1954L668 1378M882 1954L620 1392M882 1954L575 1416M882 1954L609 1441M882 1954L675 1454M882 1954L798 1423M882 1954L630 1475M882 1954L569 1482M882 1954L722 1492M882 1954L596 1512M882 1954L640 1513M882 1954L538 1517M882 1954L720 1535M882 1954L563 1554M882 1954L597 1565M882 1954L686 1564M882 1954L550 1592M882 1954L669 1600M882 1954L717 1598M882 1954L592 1610M882 1954L635 1625M882 1954L512 1636M882 1954L679 1634M882 1954L813 1478M882 1954L760 1492M882 1954L802 1516M882 1954L745 1561M882 1954L796 1569M882 1954L844 1593M882 1954L722 1633M882 1954L606 1651M882 1954L686 1676M882 1954L627 1691M882 1954L728 1665M882 1954L762 1693M882 1954L728 1721M882 1954L760 1781M882 1954L812 1810M882 1954L828 1850M882 1954L781 1868M1015 1947L620 1392M1015 1947L723 1403M1015 1947L677 1408M1015 1947L641 1424M1015 1947L609 1441M1015 1947L569 1482M1015 1947L680 1488M1015 1947L722 1492M1015 1947L675 1524M1015 1947L482 1532M1015 1947L522 1554M1015 1947L633 1552M1015 1947L597 1565M1015 1947L508 1596M1015 1947L635 1625M1015 1947L512 1636M1015 1947L813 1478M1015 1947L802 1516M1015 1947L765 1530M1015 1947L913 1572M1015 1947L844 1593M1015 1947L749 1596M1015 1947L798 1607M1015 1947L722 1633M1015 1947L561 1666M1015 1947L686 1676M1015 1947L660 1706M1015 1947L610 1728M1015 1947L728 1665M1015 1947L850 1680M1015 1947L762 1693M1015 1947L815 1710M1015 1947L849 1720M1015 1947L767 1728M1015 1947L871 1752M1015 1947L760 1781M1015 1947L845 1781M1015 1947L906 1788M1015 1947L812 1810M1015 1947L870 1823M752 1970L668 1378M752 1970L620 1392M752 1970L575 1416M752 1970L641 1424M752 1970L609 1441M752 1970L675 1454M752 1970L816 1395M752 1970L763 1410M752 1970L775 1458M752 1970L569 1482M752 1970L680 1488M752 1970L596 1512M752 1970L640 1513M752 1970L538 1517M752 1970L482 1532M752 1970L633 1552M752 1970L550 1592M752 1970L635 1625M752 1970L679 1634M752 1970L813 1478M752 1970L802 1516M752 1970L765 1530M752 1970L745 1561M752 1970L844 1593M752 1970L749 1596M752 1970L722 1633M752 1970L765 1636M752 1970L606 1651M752 1970L653 1659M752 1970L660 1706M752 1970L762 1693M752 1970L849 1720M752 1970L728 1721M752 1970L767 1728M752 1970L725 1761M752 1970L772 1827M752 1970L727 1835M752 1970L731 1876M752 1970L688 1833M752 1970L681 1874M824 1968L620 1392M824 1968L723 1403M824 1968L536 1448M824 1968L675 1454M824 1968L769 1379M824 1968L763 1410M824 1968L630 1475M824 1968L569 1482M824 1968L505 1487M824 1968L680 1488M824 1968L596 1512M824 1968L640 1513M824 1968L675 1524M824 1968L720 1535M824 1968L563 1554M824 1968L686 1564M824 1968L633 1583M824 1968L550 1592M824 1968L669 1600M824 1968L717 1598M824 1968L635 1625M824 1968L760 1492M824 1968L802 1516M824 1968L830 1550M824 1968L866 1561M824 1968L765 1636M824 1968L686 1676M824 1968L627 1691M824 1968L566 1710M824 1968L688 1728M824 1968L801 1668M824 1968L850 1680M824 1968L762 1693M824 1968L728 1721M824 1968L767 1728M824 1968L725 1761M824 1968L760 1781M824 1968L772 1827M824 1968L828 1850M824 1968L781 1868M926 1973L620 1392M926 1973L575 1416M926 1973L641 1424M926 1973L609 1441M926 1973L769 1379M926 1973L505 1487M926 1973L680 1488M926 1973L722 1492M926 1973L640 1513M926 1973L675 1524M926 1973L522 1554M926 1973L686 1564M926 1973L633 1583M926 1973L508 1596M926 1973L550 1592M926 1973L669 1600M926 1973L717 1598M926 1973L592 1610M926 1973L555 1631M926 1973L679 1634M926 1973L760 1492M926 1973L802 1516M926 1973L796 1569M926 1973L749 1596M926 1973L798 1607M926 1973L765 1636M926 1973L828 1631M926 1973L606 1651M926 1973L561 1666M926 1973L653 1659M926 1973L627 1691M926 1973L487 1730M926 1973L580 1790M926 1973L659 1791M926 1973L728 1665M926 1973L898 1715M926 1973L728 1721M926 1973L871 1752M926 1973L812 1810M926 1973L772 1827M977 1982L668 1378M977 1982L798 1423M977 1982L729 1441M977 1982L630 1475M977 1982L596 1512M977 1982L675 1524M977 1982L482 1532M977 1982L720 1535M977 1982L522 1554M977 1982L686 1564M977 1982L633 1583M977 1982L592 1610M977 1982L679 1634M977 1982L802 1516M977 1982L745 1561M977 1982L844 1593M977 1982L798 1607M977 1982L722 1633M977 1982L828 1631M977 1982L561 1666M977 1982L653 1659M977 1982L520 1676M977 1982L686 1676M977 1982L627 1691M977 1982L660 1706M977 1982L487 1730M977 1982L628 1766M977 1982L659 1791M977 1982L728 1665M977 1982L801 1668M977 1982L850 1680M977 1982L762 1693M977 1982L815 1710M977 1982L767 1728M977 1982L871 1752M977 1982L760 1781M977 1982L845 1781M977 1982L906 1788M977 1982L812 1810M977 1982L828 1850M867 1986L668 1378M867 1986L719 1373M867 1986L620 1392M867 1986L641 1424M867 1986L609 1441M867 1986L536 1448M867 1986L675 1454M867 1986L569 1482M867 1986L722 1492M867 1986L596 1512M867 1986L640 1513M867 1986L675 1524M867 1986L633 1552M867 1986L597 1565M867 1986L686 1564M867 1986L633 1583M867 1986L717 1598M867 1986L679 1634M867 1986L813 1478M867 1986L745 1561M867 1986L749 1596M867 1986L798 1607M867 1986L722 1633M867 1986L765 1636M867 1986L478 1677M867 1986L610 1728M867 1986L688 1728M867 1986L548 1749M867 1986L682 1763M867 1986L728 1665M867 1986L815 1710M867 1986L728 1721M867 1986L767 1728M867 1986L798 1749M867 1986L725 1761M867 1986L760 1781M867 1986L772 1827M867 1986L727 1835M867 1986L828 1850M867 1986L781 1868M805 1995L668 1378M805 1995L620 1392M805 1995L677 1408M805 1995L641 1424M805 1995L609 1441M805 1995L536 1448M805 1995L769 1379M805 1995L763 1410M805 1995L729 1441M805 1995L836 1449M805 1995L775 1458M805 1995L505 1487M805 1995L596 1512M805 1995L675 1524M805 1995L720 1535M805 1995L597 1565M805 1995L686 1564M805 1995L550 1592M805 1995L717 1598M805 1995L765 1530M805 1995L796 1569M805 1995L844 1593M805 1995L749 1596M805 1995L798 1607M805 1995L722 1633M805 1995L765 1636M805 1995L606 1651M805 1995L627 1691M805 1995L660 1706M805 1995L682 1763M805 1995L728 1665M805 1995L801 1668M805 1995L767 1728M805 1995L725 1761M805 1995L760 1781M805 1995L812 1810M805 1995L772 1827M805 1995L727 1835M805 1995L781 1868M805 1995L688 1833M753 1998L668 1378M753 1998L620 1392M753 1998L677 1408M753 1998L609 1441M753 1998L769 1379M753 1998L775 1458M753 1998L505 1487M753 1998L680 1488M753 1998L722 1492M753 1998L596 1512M753 1998L640 1513M753 1998L675 1524M753 1998L522 1554M753 1998L633 1552M753 1998L686 1564M753 1998L468 1581M753 1998L669 1600M753 1998L717 1598M753 1998L512 1636M753 1998L679 1634M753 1998L846 1510M753 1998L802 1516M753 1998L830 1550M753 1998L745 1561M753 1998L796 1569M753 1998L749 1596M753 1998L722 1633M753 1998L686 1676M753 1998L688 1728M753 1998L682 1763M753 1998L710 1797M753 1998L728 1665M753 1998L728 1721M753 1998L798 1749M753 1998L725 1761M753 1998L760 1781M753 1998L772 1827M753 1998L727 1835M753 1998L731 1876M753 1998L688 1833M1033 1824L677 1408M1033 1824L675 1454M1033 1824L775 1458M1033 1824L680 1488M1033 1824L596 1512M1033 1824L482 1532M1033 1824L720 1535M1033 1824L633 1552M1033 1824L597 1565M1033 1824L686 1564M1033 1824L468 1581M1033 1824L633 1583M1033 1824L550 1592M1033 1824L717 1598M1033 1824L592 1610M1033 1824L635 1625M1033 1824L555 1631M1033 1824L679 1634M1033 1824L745 1561M1033 1824L796 1569M1033 1824L749 1596M1033 1824L881 1610M1033 1824L722 1633M1033 1824L765 1636M1033 1824L828 1631M1033 1824L606 1651M1033 1824L561 1666M1033 1824L653 1659M1033 1824L520 1676M1033 1824L627 1691M1033 1824L660 1706M1033 1824L610 1728M1033 1824L688 1728M1033 1824L682 1763M1033 1824L728 1665M1033 1824L801 1668M1033 1824L849 1720M1033 1824L767 1728M1033 1824L935 1746M1033 1824L871 1752M1110 1819L723 1403M1110 1819L769 1379M1110 1819L505 1487M1110 1819L680 1488M1110 1819L596 1512M1110 1819L720 1535M1110 1819L522 1554M1110 1819L563 1554M1110 1819L633 1552M1110 1819L686 1564M1110 1819L633 1583M1110 1819L669 1600M1110 1819L592 1610M1110 1819L635 1625M1110 1819L512 1636M1110 1819L802 1516M1110 1819L796 1569M1110 1819L798 1607M1110 1819L881 1610M1110 1819L722 1633M1110 1819L765 1636M1110 1819L561 1666M1110 1819L627 1691M1110 1819L660 1706M1110 1819L566 1710M1110 1819L524 1714M1110 1819L487 1730M1110 1819L688 1728M1110 1819L682 1763M1110 1819L850 1680M1110 1819L849 1720M1110 1819L728 1721M1110 1819L935 1746M1110 1819L651 1826M1110 1819L586 1840M1153 1839L620 1392M1153 1839L569 1482M1153 1839L505 1487M1153 1839L722 1492M1153 1839L522 1554M1153 1839L633 1552M1153 1839L597 1565M1153 1839L686 1564M1153 1839L550 1592M1153 1839L717 1598M1153 1839L592 1610M1153 1839L555 1631M1153 1839L765 1530M1153 1839L745 1561M1153 1839L722 1633M1153 1839L765 1636M1153 1839L561 1666M1153 1839L688 1728M1153 1839L801 1668M1153 1839L918 1670M1153 1839L898 1715M1153 1839L849 1720M1153 1839L728 1721M1153 1839L767 1728M1153 1839L935 1746M1153 1839L845 1781M1153 1839L906 1788M1153 1839L870 1823M1069 1842L620 1392M1069 1842L675 1454M1069 1842L729 1441M1069 1842L630 1475M1069 1842L569 1482M1069 1842L596 1512M1069 1842L538 1517M1069 1842L675 1524M1069 1842L482 1532M1069 1842L563 1554M1069 1842L633 1552M1069 1842L597 1565M1069 1842L686 1564M1069 1842L468 1581M1069 1842L508 1596M1069 1842L669 1600M1069 1842L717 1598M1069 1842L635 1625M1069 1842L464 1631M1069 1842L555 1631M1069 1842L679 1634M1069 1842L760 1492M1069 1842L745 1561M1069 1842L796 1569M1069 1842L749 1596M1069 1842L881 1610M1069 1842L722 1633M1069 1842L765 1636M1069 1842L512 1773M1069 1842L875 1649M1069 1842L801 1668M1069 1842L918 1670M1069 1842L850 1680M1069 1842L815 1710M1069 1842L898 1715M1069 1842L767 1728M1069 1842L798 1749M1069 1842L845 1781M1069 1842L906 1788M1216 1850L677 1408M1216 1850L609 1441M1216 1850L569 1482M1216 1850L722 1492M1216 1850L675 1524M1216 1850L563 1554M1216 1850L633 1552M1216 1850L597 1565M1216 1850L592 1610M1216 1850L966 1625M1216 1850L478 1677M1216 1850L627 1691M1216 1850L610 1728M1216 1850L801 1668M1216 1850L762 1693M1216 1850L815 1710M1216 1850L898 1715M1216 1850L849 1720M1216 1850L906 1788M1216 1850L870 1823M1034 1861L641 1424M1034 1861L609 1441M1034 1861L675 1454M1034 1861L630 1475M1034 1861L596 1512M1034 1861L675 1524M1034 1861L720 1535M1034 1861L633 1552M1034 1861L597 1565M1034 1861L468 1581M1034 1861L508 1596M1034 1861L550 1592M1034 1861L635 1625M1034 1861L464 1631M1034 1861L512 1636M1034 1861L679 1634M1034 1861L802 1516M1034 1861L745 1561M1034 1861L796 1569M1034 1861L749 1596M1034 1861L722 1633M1034 1861L765 1636M1034 1861L686 1676M1034 1861L660 1706M1034 1861L688 1728M1034 1861L628 1766M1034 1861L611 1811M1034 1861L875 1649M1034 1861L728 1665M1034 1861L801 1668M1034 1861L850 1680M1034 1861L762 1693M1034 1861L849 1720M1034 1861L728 1721M1034 1861L767 1728M1034 1861L798 1749M1034 1861L871 1752M1034 1861L725 1761M1034 1861L760 1781M1034 1861L812 1810M1099 1867L641 1424M1099 1867L536 1448M1099 1867L675 1454M1099 1867L569 1482M1099 1867L680 1488M1099 1867L640 1513M1099 1867L482 1532M1099 1867L720 1535M1099 1867L522 1554M1099 1867L686 1564M1099 1867L550 1592M1099 1867L669 1600M1099 1867L512 1636M1099 1867L830 1550M1099 1867L745 1561M1099 1867L866 1561M1099 1867L796 1569M1099 1867L722 1633M1099 1867L765 1636M1099 1867L828 1631M1099 1867L561 1666M1099 1867L653 1659M1099 1867L478 1677M1099 1867L566 1710M1099 1867L850 1680M1099 1867L815 1710M1099 1867L898 1715M1099 1867L767 1728M1099 1867L935 1746M1099 1867L871 1752M1099 1867L760 1781M1099 1867L845 1781M1099 1867L906 1788M1099 1867L812 1810M1099 1867L870 1823M1099 1867L828 1850M1170 1867L723 1403M1170 1867L769 1379M1170 1867L729 1441M1170 1867L505 1487M1170 1867L596 1512M1170 1867L640 1513M1170 1867L720 1535M1170 1867L633 1552M1170 1867L512 1636M1170 1867L760 1492M1170 1867L896 1518M1170 1867L745 1561M1170 1867L798 1607M1170 1867L765 1636M1170 1867L606 1651M1170 1867L524 1714M1170 1867L659 1791M1170 1867L875 1649M1170 1867L728 1665M1170 1867L801 1668M1170 1867L850 1680M1170 1867L798 1749M1170 1867L906 1788M1062 1888L677 1408M1062 1888L609 1441M1062 1888L536 1448M1062 1888L630 1475M1062 1888L680 1488M1062 1888L596 1512M1062 1888L640 1513M1062 1888L538 1517M1062 1888L675 1524M1062 1888L482 1532M1062 1888L633 1552M1062 1888L597 1565M1062 1888L686 1564M1062 1888L633 1583M1062 1888L679 1634M1062 1888L765 1530M1062 1888L745 1561M1062 1888L798 1607M1062 1888L920 1618M1062 1888L722 1633M1062 1888L765 1636M1062 1888L653 1659M1062 1888L627 1691M1062 1888L610 1728M1062 1888L682 1763M1062 1888L710 1797M1062 1888L728 1665M1062 1888L801 1668M1062 1888L898 1715M1062 1888L849 1720M1062 1888L728 1721M1062 1888L767 1728M1062 1888L798 1749M1062 1888L871 1752M1062 1888L725 1761M1062 1888L760 1781M1062 1888L845 1781M1062 1888L906 1788M1062 1888L828 1850M1062 1888L688 1833M1126 1897L675 1454M1126 1897L630 1475M1126 1897L505 1487M1126 1897L640 1513M1126 1897L538 1517M1126 1897L563 1554M1126 1897L597 1565M1126 1897L686 1564M1126 1897L508 1596M1126 1897L717 1598M1126 1897L464 1631M1126 1897L830 1550M1126 1897L749 1596M1126 1897L828 1631M1126 1897L561 1666M1126 1897L610 1728M1126 1897L628 1766M1126 1897L682 1763M1126 1897L710 1797M1126 1897L875 1649M1126 1897L801 1668M1126 1897L918 1670M1126 1897L850 1680M1126 1897L968 1683M1126 1897L898 1715M1126 1897L849 1720M1126 1897L798 1749M1126 1897L935 1746M1126 1897L845 1781M1126 1897L727 1835M1046 1915L620 1392M1046 1915L723 1403M1046 1915L575 1416M1046 1915L729 1441M1046 1915L722 1492M1046 1915L596 1512M1046 1915L538 1517M1046 1915L482 1532M1046 1915L522 1554M1046 1915L563 1554M1046 1915L597 1565M1046 1915L686 1564M1046 1915L468 1581M1046 1915L550 1592M1046 1915L717 1598M1046 1915L592 1610M1046 1915L635 1625M1046 1915L760 1492M1046 1915L796 1569M1046 1915L798 1607M1046 1915L722 1633M1046 1915L765 1636M1046 1915L828 1631M1046 1915L606 1651M1046 1915L653 1659M1046 1915L686 1676M1046 1915L627 1691M1046 1915L660 1706M1046 1915L590 1756M1046 1915L875 1649M1046 1915L801 1668M1046 1915L850 1680M1046 1915L762 1693M1046 1915L849 1720M1046 1915L728 1721M1046 1915L767 1728M1046 1915L798 1749M1046 1915L871 1752M1046 1915L906 1788M1046 1915L781 1868M1100 1922L536 1448M1100 1922L763 1410M1100 1922L798 1423M1100 1922L505 1487M1100 1922L722 1492M1100 1922L675 1524M1100 1922L563 1554M1100 1922L464 1631M1100 1922L555 1631M1100 1922L512 1636M1100 1922L796 1569M1100 1922L844 1593M1100 1922L749 1596M1100 1922L798 1607M1100 1922L966 1625M1100 1922L765 1636M1100 1922L561 1666M1100 1922L686 1676M1100 1922L610 1728M1100 1922L548 1749M1100 1922L728 1665M1100 1922L801 1668M1100 1922L762 1693M1100 1922L815 1710M1100 1922L849 1720M1100 1922L798 1749M1100 1922L935 1746M1100 1922L871 1752M1100 1922L725 1761M1100 1922L845 1781M1100 1922L906 1788M1100 1922L812 1810M1100 1922L651 1826M1160 1917L536 1448M1160 1917L640 1513M1160 1917L675 1524M1160 1917L597 1565M1160 1917L633 1583M1160 1917L508 1596M1160 1917L464 1631M1160 1917L679 1634M1160 1917L802 1516M1160 1917L896 1518M1160 1917L844 1593M1160 1917L722 1633M1160 1917L828 1631M1160 1917L561 1666M1160 1917L686 1676M1160 1917L627 1691M1160 1917L628 1766M1160 1917L659 1791M1160 1917L875 1649M1160 1917L728 1665M1160 1917L815 1710M1160 1917L898 1715M1160 1917L849 1720M1072 1967L620 1392M1072 1967L575 1416M1072 1967L769 1379M1072 1967L816 1395M1072 1967L630 1475M1072 1967L505 1487M1072 1967L596 1512M1072 1967L640 1513M1072 1967L675 1524M1072 1967L633 1552M1072 1967L686 1564M1072 1967L633 1583M1072 1967L508 1596M1072 1967L846 1510M1072 1967L796 1569M1072 1967L749 1596M1072 1967L881 1610M1072 1967L722 1633M1072 1967L765 1636M1072 1967L561 1666M1072 1967L653 1659M1072 1967L688 1728M1072 1967L590 1756M1072 1967L875 1649M1072 1967L801 1668M1072 1967L762 1693M1072 1967L815 1710M1072 1967L898 1715M1072 1967L849 1720M1072 1967L728 1721M1072 1967L935 1746M1072 1967L871 1752M1072 1967L760 1781M1072 1967L906 1788M1072 1967L812 1810M1072 1967L828 1850M1126 1980L609 1441M1126 1980L536 1448M1126 1980L675 1454M1126 1980L769 1379M1126 1980L569 1482M1126 1980L505 1487M1126 1980L596 1512M1126 1980L640 1513M1126 1980L538 1517M1126 1980L482 1532M1126 1980L720 1535M1126 1980L686 1564M1126 1980L550 1592M1126 1980L866 1561M1126 1980L722 1633M1126 1980L828 1631M1126 1980L566 1710M1126 1980L688 1728M1126 1980L710 1797M1126 1980L728 1665M1126 1980L850 1680M1126 1980L815 1710M1126 1980L898 1715M1126 1980L935 1746M1126 1980L870 1823M1126 1980L772 1827M1032 1987L620 1392M1032 1987L723 1403M1032 1987L677 1408M1032 1987L609 1441M1032 1987L536 1448M1032 1987L675 1454M1032 1987L569 1482M1032 1987L505 1487M1032 1987L722 1492M1032 1987L596 1512M1032 1987L640 1513M1032 1987L720 1535M1032 1987L633 1552M1032 1987L597 1565M1032 1987L550 1592M1032 1987L669 1600M1032 1987L555 1631M1032 1987L512 1636M1032 1987L679 1634M1032 1987L813 1478M1032 1987L749 1596M1032 1987L828 1631M1032 1987L606 1651M1032 1987L653 1659M1032 1987L686 1676M1032 1987L627 1691M1032 1987L487 1730M1032 1987L590 1756M1032 1987L659 1791M1032 1987L875 1649M1032 1987L728 1665M1032 1987L762 1693M1032 1987L898 1715M1032 1987L767 1728M1032 1987L798 1749M1032 1987L845 1781M1032 1987L812 1810M1032 1987L828 1850M1032 1987L651 1826M1032 1987L631 1862M397 2007L719 1373M397 2007L723 1403M397 2007L769 1379M397 2007L816 1395M397 2007L729 1441M397 2007L775 1458M397 2007L680 1488M397 2007L722 1492M397 2007L640 1513M397 2007L563 1554M397 2007L633 1552M397 2007L686 1564M397 2007L633 1583M397 2007L669 1600M397 2007L635 1625M397 2007L555 1631M397 2007L947 1527M397 2007L830 1550M397 2007L866 1561M397 2007L913 1572M397 2007L961 1575M397 2007L844 1593M397 2007L749 1596M397 2007L722 1633M397 2007L828 1631M397 2007L606 1651M397 2007L561 1666M397 2007L653 1659M397 2007L686 1676M397 2007L627 1691M397 2007L660 1706M397 2007L610 1728M397 2007L628 1766M397 2007L512 1773M397 2007L659 1791M397 2007L710 1797M397 2007L850 1680M397 2007L815 1710M397 2007L767 1728M397 2007L725 1761M487 2019L677 1408M487 2019L675 1454M487 2019L816 1395M487 2019L836 1449M487 2019L569 1482M487 2019L722 1492M487 2019L640 1513M487 2019L675 1524M487 2019L522 1554M487 2019L592 1610M487 2019L635 1625M487 2019L555 1631M487 2019L869 1479M487 2019L846 1510M487 2019L802 1516M487 2019L896 1518M487 2019L947 1527M487 2019L765 1530M487 2019L830 1550M487 2019L745 1561M487 2019L913 1572M487 2019L765 1636M487 2019L828 1631M487 2019L561 1666M487 2019L686 1676M487 2019L627 1691M487 2019L660 1706M487 2019L566 1710M487 2019L610 1728M487 2019L688 1728M487 2019L548 1749M487 2019L659 1791M487 2019L546 1811M487 2019L611 1811M487 2019L875 1649M487 2019L801 1668M487 2019L728 1721M487 2019L845 1781M487 2019L688 1833M487 2019L586 1840M360 2041L677 1408M360 2041L609 1441M360 2041L860 1419M360 2041L729 1441M360 2041L775 1458M360 2041L569 1482M360 2041L722 1492M360 2041L640 1513M360 2041L563 1554M360 2041L669 1600M360 2041L635 1625M360 2041L679 1634M360 2041L802 1516M360 2041L896 1518M360 2041L947 1527M360 2041L765 1530M360 2041L745 1561M360 2041L796 1569M360 2041L961 1575M360 2041L749 1596M360 2041L881 1610M360 2041L920 1618M360 2041L828 1631M360 2041L686 1676M360 2041L627 1691M360 2041L660 1706M360 2041L566 1710M360 2041L610 1728M360 2041L548 1749M360 2041L580 1790M360 2041L710 1797M360 2041L546 1811M360 2041L728 1665M360 2041L801 1668M360 2041L850 1680M360 2041L815 1710M360 2041L767 1728M360 2041L798 1749M360 2041L688 1833M360 2041L631 1862M423 2050L668 1378M423 2050L641 1424M423 2050L775 1458M423 2050L722 1492M423 2050L482 1532M423 2050L720 1535M423 2050L633 1552M423 2050L597 1565M423 2050L717 1598M423 2050L679 1634M423 2050L813 1478M423 2050L922 1482M423 2050L760 1492M423 2050L802 1516M423 2050L745 1561M423 2050L796 1569M423 2050L749 1596M423 2050L798 1607M423 2050L881 1610M423 2050L722 1633M423 2050L765 1636M423 2050L653 1659M423 2050L478 1677M423 2050L686 1676M423 2050L627 1691M423 2050L660 1706M423 2050L566 1710M423 2050L610 1728M423 2050L688 1728M423 2050L548 1749M423 2050L580 1790M423 2050L546 1811M423 2050L611 1811M423 2050L875 1649M423 2050L728 1665M423 2050L762 1693M423 2050L728 1721M423 2050L651 1826M423 2050L586 1840M423 2050L631 1862M514 2052L719 1373M514 2052L575 1416M514 2052L641 1424M514 2052L609 1441M514 2052L675 1454M514 2052L816 1395M514 2052L860 1419M514 2052L836 1449M514 2052L630 1475M514 2052L569 1482M514 2052L722 1492M514 2052L640 1513M514 2052L675 1524M514 2052L720 1535M514 2052L633 1552M514 2052L468 1581M514 2052L633 1583M514 2052L717 1598M514 2052L679 1634M514 2052L869 1479M514 2052L866 1561M514 2052L844 1593M514 2052L749 1596M514 2052L798 1607M514 2052L765 1636M514 2052L686 1676M514 2052L660 1706M514 2052L566 1710M514 2052L688 1728M514 2052L682 1763M514 2052L611 1811M514 2052L801 1668M514 2052L918 1670M514 2052L850 1680M514 2052L849 1720M514 2052L728 1721M514 2052L725 1761M514 2052L760 1781M514 2052L651 1826M514 2052L586 1840M478 2074L668 1378M478 2074L719 1373M478 2074L620 1392M478 2074L763 1410M478 2074L898 1441M478 2074L836 1449M478 2074L675 1524M478 2074L563 1554M478 2074L597 1565M478 2074L633 1583M478 2074L550 1592M478 2074L669 1600M478 2074L679 1634M478 2074L813 1478M478 2074L760 1492M478 2074L765 1530M478 2074L830 1550M478 2074L749 1596M478 2074L798 1607M478 2074L765 1636M478 2074L606 1651M478 2074L561 1666M478 2074L653 1659M478 2074L660 1706M478 2074L566 1710M478 2074L610 1728M478 2074L688 1728M478 2074L590 1756M478 2074L628 1766M478 2074L682 1763M478 2074L580 1790M478 2074L659 1791M478 2074L710 1797M478 2074L546 1811M478 2074L611 1811M478 2074L801 1668M478 2074L845 1781M478 2074L651 1826M478 2074L688 1833M478 2074L631 1862M423 2119L677 1408M423 2119L575 1416M423 2119L675 1454M423 2119L816 1395M423 2119L860 1419M423 2119L630 1475M423 2119L680 1488M423 2119L538 1517M423 2119L720 1535M423 2119L563 1554M423 2119L633 1552M423 2119L686 1564M423 2119L633 1583M423 2119L717 1598M423 2119L635 1625M423 2119L555 1631M423 2119L679 1634M423 2119L802 1516M423 2119L896 1518M423 2119L745 1561M423 2119L796 1569M423 2119L920 1618M423 2119L765 1636M423 2119L561 1666M423 2119L686 1676M423 2119L627 1691M423 2119L660 1706M423 2119L566 1710M423 2119L610 1728M423 2119L688 1728M423 2119L590 1756M423 2119L628 1766M423 2119L710 1797M423 2119L546 1811M423 2119L611 1811M423 2119L728 1665M423 2119L801 1668M423 2119L815 1710M423 2119L631 1862M423 2119L681 1874M646 2007L668 1378M646 2007L719 1373M646 2007L723 1403M646 2007L677 1408M646 2007L575 1416M646 2007L641 1424M646 2007L536 1448M646 2007L816 1395M646 2007L763 1410M646 2007L798 1423M646 2007L860 1419M646 2007L729 1441M646 2007L680 1488M646 2007L722 1492M646 2007L596 1512M646 2007L675 1524M646 2007L720 1535M646 2007L686 1564M646 2007L669 1600M646 2007L717 1598M646 2007L802 1516M646 2007L749 1596M646 2007L798 1607M646 2007L722 1633M646 2007L653 1659M646 2007L627 1691M646 2007L660 1706M646 2007L688 1728M646 2007L659 1791M646 2007L710 1797M646 2007L611 1811M646 2007L728 1665M646 2007L762 1693M646 2007L815 1710M646 2007L728 1721M646 2007L760 1781M646 2007L727 1835M646 2007L688 1833M646 2007L681 1874M703 2013L719 1373M703 2013L723 1403M703 2013L677 1408M703 2013L609 1441M703 2013L675 1454M703 2013L769 1379M703 2013L898 1441M703 2013L775 1458M703 2013L722 1492M703 2013L538 1517M703 2013L675 1524M703 2013L563 1554M703 2013L686 1564M703 2013L468 1581M703 2013L669 1600M703 2013L717 1598M703 2013L555 1631M703 2013L679 1634M703 2013L947 1527M703 2013L745 1561M703 2013L866 1561M703 2013L749 1596M703 2013L798 1607M703 2013L722 1633M703 2013L765 1636M703 2013L653 1659M703 2013L660 1706M703 2013L610 1728M703 2013L688 1728M703 2013L682 1763M703 2013L710 1797M703 2013L728 1665M703 2013L762 1693M703 2013L815 1710M703 2013L728 1721M703 2013L725 1761M703 2013L760 1781M703 2013L688 1833M786 2020L668 1378M786 2020L719 1373M786 2020L675 1454M786 2020L763 1410M786 2020L729 1441M786 2020L596 1512M786 2020L640 1513M786 2020L675 1524M786 2020L720 1535M786 2020L633 1552M786 2020L597 1565M786 2020L686 1564M786 2020L633 1583M786 2020L669 1600M786 2020L592 1610M786 2020L635 1625M786 2020L813 1478M786 2020L869 1479M786 2020L802 1516M786 2020L765 1530M786 2020L830 1550M786 2020L722 1633M786 2020L653 1659M786 2020L478 1677M786 2020L686 1676M786 2020L627 1691M786 2020L688 1728M786 2020L659 1791M786 2020L710 1797M786 2020L728 1665M786 2020L728 1721M786 2020L767 1728M786 2020L725 1761M786 2020L812 1810M786 2020L781 1868M786 2020L731 1876M786 2020L688 1833M598 2027L719 1373M598 2027L641 1424M598 2027L609 1441M598 2027L769 1379M598 2027L763 1410M598 2027L798 1423M598 2027L729 1441M598 2027L680 1488M598 2027L722 1492M598 2027L596 1512M598 2027L675 1524M598 2027L686 1564M598 2027L633 1583M598 2027L550 1592M598 2027L669 1600M598 2027L635 1625M598 2027L555 1631M598 2027L679 1634M598 2027L813 1478M598 2027L869 1479M598 2027L760 1492M598 2027L830 1550M598 2027L866 1561M598 2027L796 1569M598 2027L749 1596M598 2027L798 1607M598 2027L765 1636M598 2027L606 1651M598 2027L660 1706M598 2027L688 1728M598 2027L590 1756M598 2027L659 1791M598 2027L728 1665M598 2027L767 1728M598 2027L727 1835M598 2027L651 1826M551 2034L719 1373M551 2034L723 1403M551 2034L675 1454M551 2034L798 1423M551 2034L836 1449M551 2034L630 1475M551 2034L569 1482M551 2034L722 1492M551 2034L640 1513M551 2034L720 1535M551 2034L633 1552M551 2034L597 1565M551 2034L686 1564M551 2034L717 1598M551 2034L635 1625M551 2034L813 1478M551 2034L765 1530M551 2034L745 1561M551 2034L866 1561M551 2034L796 1569M551 2034L844 1593M551 2034L749 1596M551 2034L765 1636M551 2034L828 1631M551 2034L606 1651M551 2034L561 1666M551 2034L653 1659M551 2034L610 1728M551 2034L628 1766M551 2034L682 1763M551 2034L580 1790M551 2034L710 1797M551 2034L611 1811M551 2034L728 1665M551 2034L728 1721M551 2034L767 1728M551 2034L651 1826M551 2034L586 1840M551 2034L631 1862M551 2034L681 1874M654 2037L620 1392M654 2037L575 1416M654 2037L675 1454M654 2037L816 1395M654 2037L763 1410M654 2037L775 1458M654 2037L630 1475M654 2037L640 1513M654 2037L538 1517M654 2037L675 1524M654 2037L633 1552M654 2037L717 1598M654 2037L896 1518M654 2037L765 1530M654 2037L913 1572M654 2037L749 1596M654 2037L798 1607M654 2037L920 1618M654 2037L765 1636M654 2037L606 1651M654 2037L686 1676M654 2037L627 1691M654 2037L660 1706M654 2037L610 1728M654 2037L682 1763M654 2037L659 1791M654 2037L710 1797M654 2037L728 1665M654 2037L762 1693M654 2037L728 1721M654 2037L727 1835M654 2037L651 1826M654 2037L688 1833M654 2037L681 1874M721 2037L677 1408M721 2037L575 1416M721 2037L816 1395M721 2037L763 1410M721 2037L729 1441M721 2037L775 1458M721 2037L680 1488M721 2037L722 1492M721 2037L596 1512M721 2037L675 1524M721 2037L720 1535M721 2037L633 1552M721 2037L633 1583M721 2037L669 1600M721 2037L592 1610M721 2037L679 1634M721 2037L760 1492M721 2037L846 1510M721 2037L765 1530M721 2037L765 1636M721 2037L653 1659M721 2037L627 1691M721 2037L660 1706M721 2037L610 1728M721 2037L628 1766M721 2037L682 1763M721 2037L710 1797M721 2037L728 1721M721 2037L871 1752M721 2037L760 1781M721 2037L772 1827M721 2037L727 1835M721 2037L731 1876M721 2037L681 1874M768 2048L668 1378M768 2048L620 1392M768 2048L723 1403M768 2048L816 1395M768 2048L763 1410M768 2048L630 1475M768 2048L569 1482M768 2048L505 1487M768 2048L680 1488M768 2048L720 1535M768 2048L686 1564M768 2048L717 1598M768 2048L512 1636M768 2048L679 1634M768 2048L760 1492M768 2048L765 1530M768 2048L745 1561M768 2048L866 1561M768 2048L749 1596M768 2048L765 1636M768 2048L653 1659M768 2048L686 1676M768 2048L688 1728M768 2048L682 1763M768 2048L710 1797M768 2048L728 1665M768 2048L762 1693M768 2048L815 1710M768 2048L728 1721M768 2048L772 1827M768 2048L781 1868M768 2048L731 1876M607 2055L719 1373M607 2055L723 1403M607 2055L575 1416M607 2055L763 1410M607 2055L860 1419M607 2055L729 1441M607 2055L898 1441M607 2055L836 1449M607 2055L630 1475M607 2055L722 1492M607 2055L720 1535M607 2055L686 1564M607 2055L717 1598M607 2055L555 1631M607 2055L679 1634M607 2055L813 1478M607 2055L846 1510M607 2055L802 1516M607 2055L830 1550M607 2055L745 1561M607 2055L844 1593M607 2055L606 1651M607 2055L653 1659M607 2055L686 1676M607 2055L688 1728M607 2055L762 1693M607 2055L760 1781M607 2055L727 1835M607 2055L651 1826M607 2055L688 1833M607 2055L631 1862M686 2069L723 1403M686 2069L641 1424M686 2069L675 1454M686 2069L798 1423M686 2069L898 1441M686 2069L630 1475M686 2069L596 1512M686 2069L640 1513M686 2069L720 1535M686 2069L633 1583M686 2069L669 1600M686 2069L635 1625M686 2069L760 1492M686 2069L830 1550M686 2069L722 1633M686 2069L828 1631M686 2069L686 1676M686 2069L610 1728M686 2069L688 1728M686 2069L628 1766M686 2069L682 1763M686 2069L710 1797M686 2069L762 1693M686 2069L767 1728M686 2069L725 1761M686 2069L760 1781M686 2069L772 1827M686 2069L727 1835M686 2069L688 1833M737 2070L723 1403M737 2070L677 1408M737 2070L641 1424M737 2070L609 1441M737 2070L536 1448M737 2070L675 1454M737 2070L860 1419M737 2070L898 1441M737 2070L569 1482M737 2070L722 1492M737 2070L633 1552M737 2070L597 1565M737 2070L669 1600M737 2070L760 1492M737 2070L802 1516M737 2070L796 1569M737 2070L722 1633M737 2070L524 1714M737 2070L688 1728M737 2070L590 1756M737 2070L628 1766M737 2070L728 1665M737 2070L725 1761M737 2070L760 1781M737 2070L772 1827M737 2070L727 1835M737 2070L731 1876M737 2070L651 1826M737 2070L681 1874M578 2075L816 1395M578 2075L729 1441M578 2075L836 1449M578 2075L640 1513M578 2075L675 1524M578 2075L508 1596M578 2075L550 1592M578 2075L669 1600M578 2075L635 1625M578 2075L679 1634M578 2075L922 1482M578 2075L802 1516M578 2075L830 1550M578 2075L866 1561M578 2075L966 1625M578 2075L765 1636M578 2075L606 1651M578 2075L686 1676M578 2075L628 1766M578 2075L659 1791M578 2075L611 1811M578 2075L728 1665M578 2075L728 1721M578 2075L760 1781M578 2075L688 1833M578 2075L586 1840M578 2075L631 1862M578 2075L681 1874M775 2083L723 1403M775 2083L575 1416M775 2083L641 1424M775 2083L729 1441M775 2083L569 1482M775 2083L722 1492M775 2083L633 1583M775 2083L802 1516M775 2083L765 1530M775 2083L745 1561M775 2083L796 1569M775 2083L828 1631M775 2083L606 1651M775 2083L653 1659M775 2083L688 1728M775 2083L710 1797M775 2083L611 1811M775 2083L801 1668M775 2083L762 1693M775 2083L728 1721M775 2083L767 1728M775 2083L725 1761M775 2083L760 1781M775 2083L812 1810M775 2083L772 1827M775 2083L781 1868M775 2083L688 1833M531 2088L668 1378M531 2088L723 1403M531 2088L677 1408M531 2088L769 1379M531 2088L729 1441M531 2088L569 1482M531 2088L675 1524M531 2088L563 1554M531 2088L633 1552M531 2088L597 1565M531 2088L686 1564M531 2088L468 1581M531 2088L633 1583M531 2088L550 1592M531 2088L669 1600M531 2088L717 1598M531 2088L512 1636M531 2088L679 1634M531 2088L922 1482M531 2088L846 1510M531 2088L765 1530M531 2088L830 1550M531 2088L745 1561M531 2088L749 1596M531 2088L765 1636M531 2088L828 1631M531 2088L606 1651M531 2088L653 1659M531 2088L520 1676M531 2088L660 1706M531 2088L548 1749M531 2088L628 1766M531 2088L682 1763M531 2088L659 1791M531 2088L710 1797M531 2088L725 1761M531 2088L760 1781M531 2088L772 1827M531 2088L586 1840M531 2088L681 1874M647 2086L675 1454M647 2086L763 1410M647 2086L798 1423M647 2086L680 1488M647 2086L640 1513M647 2086L563 1554M647 2086L597 1565M647 2086L686 1564M647 2086L669 1600M647 2086L922 1482M647 2086L760 1492M647 2086L846 1510M647 2086L802 1516M647 2086L866 1561M647 2086L749 1596M647 2086L606 1651M647 2086L653 1659M647 2086L520 1676M647 2086L688 1728M647 2086L590 1756M647 2086L728 1665M647 2086L801 1668M647 2086L767 1728M647 2086L731 1876M647 2086L631 1862M647 2086L681 1874M740 2102L719 1373M740 2102L620 1392M740 2102L677 1408M740 2102L641 1424M740 2102L729 1441M740 2102L680 1488M740 2102L640 1513M740 2102L675 1524M740 2102L717 1598M740 2102L592 1610M740 2102L846 1510M740 2102L896 1518M740 2102L765 1530M740 2102L745 1561M740 2102L798 1607M740 2102L686 1676M740 2102L580 1790M740 2102L801 1668M740 2102L849 1720M740 2102L760 1781M740 2102L727 1835M740 2102L731 1876M740 2102L651 1826M740 2102L688 1833M560 2111L668 1378M560 2111L719 1373M560 2111L677 1408M560 2111L769 1379M560 2111L860 1419M560 2111L836 1449M560 2111L563 1554M560 2111L550 1592M560 2111L717 1598M560 2111L635 1625M560 2111L796 1569M560 2111L798 1607M560 2111L686 1676M560 2111L610 1728M560 2111L628 1766M560 2111L682 1763M560 2111L659 1791M560 2111L728 1665M560 2111L801 1668M560 2111L767 1728M560 2111L651 1826M560 2111L688 1833M611 2113L668 1378M611 2113L769 1379M611 2113L798 1423M611 2113L775 1458M611 2113L630 1475M611 2113L722 1492M611 2113L538 1517M611 2113L675 1524M611 2113L633 1552M611 2113L669 1600M611 2113L717 1598M611 2113L635 1625M611 2113L869 1479M611 2113L796 1569M611 2113L722 1633M611 2113L828 1631M611 2113L561 1666M611 2113L627 1691M611 2113L710 1797M611 2113L798 1749M611 2113L727 1835M611 2113L631 1862M700 2116L719 1373M700 2116L677 1408M700 2116L609 1441M700 2116L675 1454M700 2116L729 1441M700 2116L630 1475M700 2116L675 1524M700 2116L633 1583M700 2116L669 1600M700 2116L760 1492M700 2116L765 1530M700 2116L745 1561M700 2116L796 1569M700 2116L722 1633M700 2116L688 1728M700 2116L682 1763M700 2116L710 1797M700 2116L611 1811M700 2116L728 1721M700 2116L727 1835M700 2116L651 1826M521 2132L677 1408M521 2132L675 1454M521 2132L769 1379M521 2132L816 1395M521 2132L763 1410M521 2132L860 1419M521 2132L836 1449M521 2132L775 1458M521 2132L722 1492M521 2132L538 1517M521 2132L720 1535M521 2132L633 1583M521 2132L813 1478M521 2132L922 1482M521 2132L846 1510M521 2132L802 1516M521 2132L866 1561M521 2132L796 1569M521 2132L961 1575M521 2132L749 1596M521 2132L798 1607M521 2132L828 1631M521 2132L653 1659M521 2132L686 1676M521 2132L627 1691M521 2132L660 1706M521 2132L566 1710M521 2132L610 1728M521 2132L688 1728M521 2132L682 1763M521 2132L580 1790M521 2132L659 1791M521 2132L546 1811M521 2132L850 1680M521 2132L762 1693M521 2132L728 1721M521 2132L767 1728M521 2132L725 1761M521 2132L688 1833M521 2132L681 1874M658 2129L668 1378M658 2129L677 1408M658 2129L575 1416M658 2129L675 1454M658 2129L763 1410M658 2129L798 1423M658 2129L633 1552M658 2129L717 1598M658 2129L679 1634M658 2129L760 1492M658 2129L846 1510M658 2129L802 1516M658 2129L688 1728M658 2129L728 1665M658 2129L728 1721M658 2129L772 1827M658 2129L688 1833M658 2129L631 1862M658 2129L681 1874M769 2131L668 1378M769 2131L719 1373M769 2131L723 1403M769 2131L677 1408M769 2131L775 1458M769 2131L686 1564M769 2131L717 1598M769 2131L635 1625M769 2131L679 1634M769 2131L760 1492M769 2131L765 1530M769 2131L660 1706M769 2131L659 1791M769 2131L801 1668M769 2131L728 1721M769 2131L725 1761M769 2131L727 1835M769 2131L731 1876M769 2131L688 1833M635 2165L918 1670M635 2165L508 1596M635 2165L550 1592M635 2165L561 1666M635 2165L796 1569M635 2165L760 1492M635 2165L720 1535M635 2165L731 1876M635 2165L802 1516M635 2165L590 1756M635 2165L722 1492M635 2165L596 1512M635 2165L688 1833M635 2165L586 1840M635 2165L675 1524M635 2165L611 1811M740 2159L762 1693M740 2159L675 1454M740 2159L935 1746M740 2159L725 1761M740 2159L512 1636M740 2159L869 1479M740 2159L681 1874M740 2159L688 1728M740 2159L731 1876M740 2159L596 1512M740 2159L745 1561M740 2159L830 1550M740 2159L796 1569M740 2159L651 1826M740 2159L611 1811M740 2159L563 1554M899 2008L723 1403M899 2008L609 1441M899 2008L536 1448M899 2008L630 1475M899 2008L569 1482M899 2008L680 1488M899 2008L596 1512M899 2008L640 1513M899 2008L675 1524M899 2008L482 1532M899 2008L522 1554M899 2008L633 1583M899 2008L550 1592M899 2008L669 1600M899 2008L635 1625M899 2008L760 1492M899 2008L765 1530M899 2008L745 1561M899 2008L961 1575M899 2008L765 1636M899 2008L627 1691M899 2008L660 1706M899 2008L688 1728M899 2008L728 1665M899 2008L815 1710M899 2008L728 1721M899 2008L767 1728M899 2008L725 1761M899 2008L760 1781M899 2008L812 1810M899 2008L870 1823M899 2008L772 1827M899 2008L828 1850M899 2008L586 1840M957 2007L668 1378M957 2007L719 1373M957 2007L723 1403M957 2007L675 1454M957 2007L569 1482M957 2007L596 1512M957 2007L640 1513M957 2007L538 1517M957 2007L675 1524M957 2007L597 1565M957 2007L633 1583M957 2007L550 1592M957 2007L555 1631M957 2007L765 1530M957 2007L765 1636M957 2007L653 1659M957 2007L627 1691M957 2007L688 1728M957 2007L875 1649M957 2007L728 1665M957 2007L801 1668M957 2007L850 1680M957 2007L815 1710M957 2007L728 1721M957 2007L798 1749M957 2007L935 1746M957 2007L871 1752M957 2007L725 1761M957 2007L812 1810M957 2007L870 1823M957 2007L772 1827M1000 2020L536 1448M1000 2020L675 1454M1000 2020L722 1492M1000 2020L675 1524M1000 2020L522 1554M1000 2020L633 1552M1000 2020L633 1583M1000 2020L508 1596M1000 2020L550 1592M1000 2020L669 1600M1000 2020L717 1598M1000 2020L635 1625M1000 2020L555 1631M1000 2020L760 1492M1000 2020L846 1510M1000 2020L749 1596M1000 2020L765 1636M1000 2020L828 1631M1000 2020L561 1666M1000 2020L659 1791M1000 2020L728 1665M1000 2020L918 1670M1000 2020L762 1693M1000 2020L849 1720M1000 2020L767 1728M1000 2020L845 1781M1000 2020L870 1823M838 2019L668 1378M838 2019L620 1392M838 2019L677 1408M838 2019L575 1416M838 2019L641 1424M838 2019L609 1441M838 2019L536 1448M838 2019L763 1410M838 2019L729 1441M838 2019L630 1475M838 2019L569 1482M838 2019L722 1492M838 2019L596 1512M838 2019L640 1513M838 2019L538 1517M838 2019L522 1554M838 2019L597 1565M838 2019L717 1598M838 2019L592 1610M838 2019L679 1634M838 2019L866 1561M838 2019L844 1593M838 2019L722 1633M838 2019L828 1631M838 2019L660 1706M838 2019L710 1797M838 2019L728 1665M838 2019L850 1680M838 2019L762 1693M838 2019L725 1761M838 2019L906 1788M838 2019L812 1810M838 2019L772 1827M838 2019L828 1850M838 2019L731 1876M1053 2029L668 1378M1053 2029L723 1403M1053 2029L775 1458M1053 2029L680 1488M1053 2029L538 1517M1053 2029L675 1524M1053 2029L563 1554M1053 2029L633 1552M1053 2029L468 1581M1053 2029L717 1598M1053 2029L592 1610M1053 2029L512 1636M1053 2029L745 1561M1053 2029L866 1561M1053 2029L722 1633M1053 2029L606 1651M1053 2029L478 1677M1053 2029L611 1811M1053 2029L815 1710M1053 2029L728 1721M1053 2029L845 1781M1053 2029L727 1835M1053 2029L828 1850M927 2034L729 1441M927 2034L630 1475M927 2034L680 1488M927 2034L722 1492M927 2034L596 1512M927 2034L522 1554M927 2034L563 1554M927 2034L635 1625M927 2034L679 1634M927 2034L813 1478M927 2034L760 1492M927 2034L802 1516M927 2034L830 1550M927 2034L749 1596M927 2034L606 1651M927 2034L653 1659M927 2034L520 1676M927 2034L686 1676M927 2034L610 1728M927 2034L688 1728M927 2034L628 1766M927 2034L801 1668M927 2034L798 1749M927 2034L845 1781M927 2034L812 1810M927 2034L772 1827M927 2034L828 1850M927 2034L731 1876M820 2053L620 1392M820 2053L677 1408M820 2053L641 1424M820 2053L609 1441M820 2053L675 1454M820 2053L816 1395M820 2053L729 1441M820 2053L680 1488M820 2053L722 1492M820 2053L686 1564M820 2053L669 1600M820 2053L717 1598M820 2053L555 1631M820 2053L679 1634M820 2053L802 1516M820 2053L765 1530M820 2053L796 1569M820 2053L749 1596M820 2053L722 1633M820 2053L653 1659M820 2053L686 1676M820 2053L682 1763M820 2053L710 1797M820 2053L801 1668M820 2053L762 1693M820 2053L815 1710M820 2053L728 1721M820 2053L767 1728M820 2053L772 1827M820 2053L828 1850M820 2053L781 1868M879 2048L620 1392M879 2048L677 1408M879 2048L575 1416M879 2048L798 1423M879 2048L630 1475M879 2048L675 1524M879 2048L720 1535M879 2048L633 1552M879 2048L597 1565M879 2048L686 1564M879 2048L633 1583M879 2048L669 1600M879 2048L830 1550M879 2048L796 1569M879 2048L844 1593M879 2048L798 1607M879 2048L722 1633M879 2048L686 1676M879 2048L627 1691M879 2048L728 1665M879 2048L728 1721M879 2048L798 1749M879 2048L725 1761M879 2048L760 1781M879 2048L845 1781M879 2048L727 1835M879 2048L828 1850M879 2048L781 1868M968 2058L620 1392M968 2058L575 1416M968 2058L769 1379M968 2058L798 1423M968 2058L569 1482M968 2058L680 1488M968 2058L640 1513M968 2058L686 1564M968 2058L633 1583M968 2058L669 1600M968 2058L765 1530M968 2058L749 1596M968 2058L881 1610M968 2058L920 1618M968 2058L722 1633M968 2058L653 1659M968 2058L627 1691M968 2058L659 1791M968 2058L801 1668M968 2058L798 1749M968 2058L725 1761M968 2058L828 1850M926 2076L609 1441M926 2076L729 1441M926 2076L569 1482M926 2076L640 1513M926 2076L538 1517M926 2076L482 1532M926 2076L720 1535M926 2076L633 1552M926 2076L597 1565M926 2076L765 1530M926 2076L796 1569M926 2076L844 1593M926 2076L749 1596M926 2076L653 1659M926 2076L686 1676M926 2076L688 1728M926 2076L682 1763M926 2076L659 1791M926 2076L850 1680M926 2076L798 1749M926 2076L812 1810M831 2086L719 1373M831 2086L620 1392M831 2086L538 1517M831 2086L482 1532M831 2086L563 1554M831 2086L686 1564M831 2086L508 1596M831 2086L717 1598M831 2086L555 1631M831 2086L679 1634M831 2086L813 1478M831 2086L802 1516M831 2086L765 1530M831 2086L765 1636M831 2086L688 1728M831 2086L801 1668M831 2086L798 1749M831 2086L725 1761M831 2086L760 1781M831 2086L812 1810M831 2086L870 1823M831 2086L772 1827M831 2086L727 1835M831 2086L828 1850M831 2086L781 1868M872 2099L719 1373M872 2099L575 1416M872 2099L816 1395M872 2099L836 1449M872 2099L630 1475M872 2099L482 1532M872 2099L720 1535M872 2099L633 1552M872 2099L633 1583M872 2099L669 1600M872 2099L813 1478M872 2099L765 1530M872 2099L745 1561M872 2099L627 1691M872 2099L487 1730M872 2099L682 1763M872 2099L728 1665M872 2099L801 1668M872 2099L767 1728M872 2099L798 1749M872 2099L828 1850M1005 2097L968 1683M1005 2097L762 1693M1005 2097L723 1403M1005 2097L849 1720M1005 2097L717 1598M1005 2097L669 1600M1005 2097L798 1749M1005 2097L686 1676M1005 2097L760 1781M1005 2097L836 1449M1005 2097L772 1827M1005 2097L569 1482M1005 2097L680 1488M1005 2097L830 1550M1005 2097L640 1513M1005 2097L710 1797M917 2118L633 1583M917 2118L765 1636M917 2118L828 1631M917 2118L635 1625M917 2118L798 1749M917 2118L871 1752M917 2118L725 1761M917 2118L660 1706M917 2118L679 1634M917 2118L628 1766M917 2118L781 1868M917 2118L745 1561M917 2118L659 1791M917 2118L710 1797M917 2118L728 1665M917 2118L749 1596M810 2118L723 1403M810 2118L769 1379M810 2118L836 1449M810 2118L775 1458M810 2118L640 1513M810 2118L538 1517M810 2118L720 1535M810 2118L765 1530M810 2118L796 1569M810 2118L749 1596M810 2118L722 1633M810 2118L606 1651M810 2118L561 1666M810 2118L580 1790M810 2118L659 1791M810 2118L767 1728M810 2118L725 1761M810 2118L845 1781M810 2118L812 1810M810 2118L772 1827M810 2118L731 1876M849 2157L620 1392M849 2157L468 1581M849 2157L762 1693M849 2157L815 1710M849 2157L550 1592M849 2157L677 1408M849 2157L728 1721M849 2157L675 1454M849 2157L812 1810M849 2157L828 1850M849 2157L590 1756M849 2157L682 1763M849 2157L659 1791M849 2157L710 1797M849 2157L482 1532M849 2157L749 1596" stroke="#cbcbc9" stroke-width="0.95" fill="none"/>
<g fill="#f4941d">
<rect x="353.1" y="1211.7" width="18.6" height="22.6" rx="3" ry="3"/>
<rect x="543.0" y="1094.3" width="18.6" height="22.6" rx="3" ry="3"/>
<rect x="686.0" y="1086.1" width="18.6" height="22.6" rx="3" ry="3"/>
<rect x="602.2" y="1119.7" width="18.6" height="22.6" rx="3" ry="3"/>
<rect x="655.2" y="1132.9" width="18.6" height="22.6" rx="3" ry="3"/>
<rect x="438.0" y="1137.9" width="18.6" height="22.6" rx="3" ry="3"/>
<rect x="554.4" y="1147.8" width="18.6" height="22.6" rx="3" ry="3"/>
<rect x="647.7" y="1157.8" width="18.6" height="22.6" rx="3" ry="3"/>
<rect x="587.3" y="1167.0" width="18.6" height="22.6" rx="3" ry="3"/>
<rect x="535.0" y="1177.4" width="18.6" height="22.6" rx="3" ry="3"/>
<rect x="687.3" y="1178.2" width="18.6" height="22.6" rx="3" ry="3"/>
<rect x="478.5" y="1182.7" width="18.6" height="22.6" rx="3" ry="3"/>
<rect x="619.1" y="1191.1" width="18.6" height="22.6" rx="3" ry="3"/>
<rect x="549.9" y="1202.6" width="18.6" height="22.6" rx="3" ry="3"/>
<rect x="668.9" y="1205.1" width="18.6" height="22.6" rx="3" ry="3"/>
<rect x="466.6" y="1206.8" width="18.6" height="22.6" rx="3" ry="3"/>
<rect x="597.2" y="1216.2" width="18.6" height="22.6" rx="3" ry="3"/>
<rect x="505.7" y="1220.0" width="18.6" height="22.6" rx="3" ry="3"/>
<rect x="416.8" y="1224.0" width="18.6" height="22.6" rx="3" ry="3"/>
<rect x="709.2" y="1219.9" width="18.6" height="22.6" rx="3" ry="3"/>
<rect x="660.7" y="1234.2" width="18.6" height="22.6" rx="3" ry="3"/>
<rect x="551.2" y="1235.4" width="18.6" height="22.6" rx="3" ry="3"/>
<rect x="606.7" y="1242.9" width="18.6" height="22.6" rx="3" ry="3"/>
<rect x="477.0" y="1244.1" width="18.6" height="22.6" rx="3" ry="3"/>
<rect x="428.7" y="1256.0" width="18.6" height="22.6" rx="3" ry="3"/>
<rect x="529.3" y="1261.7" width="18.6" height="22.6" rx="3" ry="3"/>
<rect x="707.5" y="1252.2" width="18.6" height="22.6" rx="3" ry="3"/>
<rect x="806.9" y="1096.1" width="18.6" height="22.6" rx="3" ry="3"/>
<rect x="730.0" y="1122.9" width="18.6" height="22.6" rx="3" ry="3"/>
<rect x="785.3" y="1135.1" width="18.6" height="22.6" rx="3" ry="3"/>
<rect x="945.0" y="1142.8" width="18.6" height="22.6" rx="3" ry="3"/>
<rect x="728.8" y="1152.8" width="18.6" height="22.6" rx="3" ry="3"/>
<rect x="815.9" y="1152.1" width="18.6" height="22.6" rx="3" ry="3"/>
<rect x="853.7" y="1168.7" width="18.6" height="22.6" rx="3" ry="3"/>
<rect x="766.6" y="1171.2" width="18.6" height="22.6" rx="3" ry="3"/>
<rect x="817.6" y="1186.1" width="18.6" height="22.6" rx="3" ry="3"/>
<rect x="910.9" y="1182.4" width="18.6" height="22.6" rx="3" ry="3"/>
<rect x="741.2" y="1195.6" width="18.6" height="22.6" rx="3" ry="3"/>
<rect x="851.2" y="1206.8" width="18.6" height="22.6" rx="3" ry="3"/>
<rect x="937.5" y="1209.3" width="18.6" height="22.6" rx="3" ry="3"/>
<rect x="790.2" y="1213.8" width="18.6" height="22.6" rx="3" ry="3"/>
<rect x="882.8" y="1226.9" width="18.6" height="22.6" rx="3" ry="3"/>
<rect x="757.9" y="1235.4" width="18.6" height="22.6" rx="3" ry="3"/>
<rect x="822.6" y="1236.2" width="18.6" height="22.6" rx="3" ry="3"/>
<rect x="950.7" y="1234.9" width="18.6" height="22.6" rx="3" ry="3"/>
<rect x="1002.2" y="1246.1" width="18.6" height="22.6" rx="3" ry="3"/>
<rect x="897.7" y="1252.8" width="18.6" height="22.6" rx="3" ry="3"/>
<rect x="781.5" y="1258.3" width="18.6" height="22.6" rx="3" ry="3"/>
<rect x="843.0" y="1259.8" width="18.6" height="22.6" rx="3" ry="3"/>
<rect x="949.5" y="1264.0" width="18.6" height="22.6" rx="3" ry="3"/>
<rect x="1058.0" y="1220.0" width="18.6" height="22.6" rx="3" ry="3"/>
<rect x="1026.7" y="1265.9" width="18.6" height="22.6" rx="3" ry="3"/>
<rect x="374.2" y="1271.5" width="18.6" height="22.6" rx="3" ry="3"/>
<rect x="337.2" y="1292.5" width="18.6" height="22.6" rx="3" ry="3"/>
<rect x="249.9" y="1305.1" width="18.6" height="22.6" rx="3" ry="3"/>
<rect x="407.7" y="1301.5" width="18.6" height="22.6" rx="3" ry="3"/>
<rect x="341.5" y="1324.7" width="18.6" height="22.6" rx="3" ry="3"/>
<rect x="300.2" y="1341.5" width="18.6" height="22.6" rx="3" ry="3"/>
<rect x="390.7" y="1343.5" width="18.6" height="22.6" rx="3" ry="3"/>
<rect x="349.5" y="1361.9" width="18.6" height="22.6" rx="3" ry="3"/>
<rect x="399.3" y="1381.5" width="18.6" height="22.6" rx="3" ry="3"/>
<rect x="267.9" y="1389.3" width="18.6" height="22.6" rx="3" ry="3"/>
<rect x="360.7" y="1401.0" width="18.6" height="22.6" rx="3" ry="3"/>
<rect x="310.9" y="1409.2" width="18.6" height="22.6" rx="3" ry="3"/>
<rect x="179.5" y="1417.1" width="18.6" height="22.6" rx="3" ry="3"/>
<rect x="247.5" y="1424.1" width="18.6" height="22.6" rx="3" ry="3"/>
<rect x="407.6" y="1425.4" width="18.6" height="22.6" rx="3" ry="3"/>
<rect x="356.7" y="1434.1" width="18.6" height="22.6" rx="3" ry="3"/>
<rect x="289.0" y="1441.9" width="18.6" height="22.6" rx="3" ry="3"/>
<rect x="206.4" y="1452.3" width="18.6" height="22.6" rx="3" ry="3"/>
<rect x="586.8" y="1269.1" width="18.6" height="22.6" rx="3" ry="3"/>
<rect x="661.4" y="1267.4" width="18.6" height="22.6" rx="3" ry="3"/>
<rect x="446.7" y="1284.7" width="18.6" height="22.6" rx="3" ry="3"/>
<rect x="500.9" y="1284.8" width="18.6" height="22.6" rx="3" ry="3"/>
<rect x="627.6" y="1283.0" width="18.6" height="22.6" rx="3" ry="3"/>
<rect x="700.9" y="1290.5" width="18.6" height="22.6" rx="3" ry="3"/>
<rect x="552.4" y="1292.2" width="18.6" height="22.6" rx="3" ry="3"/>
<rect x="598.0" y="1304.7" width="18.6" height="22.6" rx="3" ry="3"/>
<rect x="658.2" y="1307.7" width="18.6" height="22.6" rx="3" ry="3"/>
<rect x="480.3" y="1309.7" width="18.6" height="22.6" rx="3" ry="3"/>
<rect x="561.9" y="1321.6" width="18.6" height="22.6" rx="3" ry="3"/>
<rect x="435.5" y="1323.7" width="18.6" height="22.6" rx="3" ry="3"/>
<rect x="511.9" y="1333.3" width="18.6" height="22.6" rx="3" ry="3"/>
<rect x="619.6" y="1333.3" width="18.6" height="22.6" rx="3" ry="3"/>
<rect x="671.1" y="1332.1" width="18.6" height="22.6" rx="3" ry="3"/>
<rect x="574.1" y="1351.2" width="18.6" height="22.6" rx="3" ry="3"/>
<rect x="492.7" y="1355.2" width="18.6" height="22.6" rx="3" ry="3"/>
<rect x="435.0" y="1360.7" width="18.6" height="22.6" rx="3" ry="3"/>
<rect x="538.2" y="1379.3" width="18.6" height="22.6" rx="3" ry="3"/>
<rect x="479.8" y="1385.1" width="18.6" height="22.6" rx="3" ry="3"/>
<rect x="431.8" y="1405.0" width="18.6" height="22.6" rx="3" ry="3"/>
<rect x="495.7" y="1414.9" width="18.6" height="22.6" rx="3" ry="3"/>
<rect x="464.1" y="1433.7" width="18.6" height="22.6" rx="3" ry="3"/>
<rect x="420.9" y="1448.2" width="18.6" height="22.6" rx="3" ry="3"/>
<rect x="740.5" y="1277.3" width="18.6" height="22.6" rx="3" ry="3"/>
<rect x="790.7" y="1288.0" width="18.6" height="22.6" rx="3" ry="3"/>
<rect x="848.7" y="1286.0" width="18.6" height="22.6" rx="3" ry="3"/>
<rect x="916.4" y="1283.5" width="18.6" height="22.6" rx="3" ry="3"/>
<rect x="984.9" y="1290.5" width="18.6" height="22.6" rx="3" ry="3"/>
<rect x="759.6" y="1308.4" width="18.6" height="22.6" rx="3" ry="3"/>
<rect x="867.4" y="1308.4" width="18.6" height="22.6" rx="3" ry="3"/>
<rect x="937.0" y="1306.4" width="18.6" height="22.6" rx="3" ry="3"/>
<rect x="809.4" y="1315.4" width="18.6" height="22.6" rx="3" ry="3"/>
<rect x="722.3" y="1322.8" width="18.6" height="22.6" rx="3" ry="3"/>
<rect x="836.7" y="1335.3" width="18.6" height="22.6" rx="3" ry="3"/>
<rect x="898.5" y="1328.8" width="18.6" height="22.6" rx="3" ry="3"/>
<rect x="975.8" y="1328.8" width="18.6" height="22.6" rx="3" ry="3"/>
<rect x="790.7" y="1345.2" width="18.6" height="22.6" rx="3" ry="3"/>
<rect x="918.9" y="1350.7" width="18.6" height="22.6" rx="3" ry="3"/>
<rect x="1007.2" y="1356.3" width="18.6" height="22.6" rx="3" ry="3"/>
<rect x="873.1" y="1361.2" width="18.6" height="22.6" rx="3" ry="3"/>
<rect x="834.3" y="1366.1" width="18.6" height="22.6" rx="3" ry="3"/>
<rect x="958.2" y="1367.4" width="18.6" height="22.6" rx="3" ry="3"/>
<rect x="886.5" y="1390.5" width="18.6" height="22.6" rx="3" ry="3"/>
<rect x="982.7" y="1392.3" width="18.6" height="22.6" rx="3" ry="3"/>
<rect x="927.8" y="1398.0" width="18.6" height="22.6" rx="3" ry="3"/>
<rect x="953.2" y="1415.9" width="18.6" height="22.6" rx="3" ry="3"/>
<rect x="996.1" y="1422.1" width="18.6" height="22.6" rx="3" ry="3"/>
<rect x="925.1" y="1438.5" width="18.6" height="22.6" rx="3" ry="3"/>
<rect x="979.1" y="1445.7" width="18.6" height="22.6" rx="3" ry="3"/>
<rect x="1058.7" y="1288.0" width="18.6" height="22.6" rx="3" ry="3"/>
<rect x="1020.1" y="1318.9" width="18.6" height="22.6" rx="3" ry="3"/>
<rect x="1076.9" y="1317.6" width="18.6" height="22.6" rx="3" ry="3"/>
<rect x="1166.2" y="1319.6" width="18.6" height="22.6" rx="3" ry="3"/>
<rect x="1092.3" y="1356.9" width="18.6" height="22.6" rx="3" ry="3"/>
<rect x="1133.4" y="1358.2" width="18.6" height="22.6" rx="3" ry="3"/>
<rect x="1045.5" y="1371.9" width="18.6" height="22.6" rx="3" ry="3"/>
<rect x="1124.2" y="1382.3" width="18.6" height="22.6" rx="3" ry="3"/>
<rect x="1093.1" y="1403.5" width="18.6" height="22.6" rx="3" ry="3"/>
<rect x="1031.3" y="1406.0" width="18.6" height="22.6" rx="3" ry="3"/>
<rect x="1161.5" y="1409.9" width="18.6" height="22.6" rx="3" ry="3"/>
<rect x="1091.1" y="1432.3" width="18.6" height="22.6" rx="3" ry="3"/>
<rect x="1142.6" y="1437.0" width="18.6" height="22.6" rx="3" ry="3"/>
<rect x="1219.7" y="1445.0" width="18.6" height="22.6" rx="3" ry="3"/>
<rect x="1042.2" y="1443.2" width="18.6" height="22.6" rx="3" ry="3"/>
<rect x="326.3" y="1461.8" width="18.6" height="22.6" rx="3" ry="3"/>
<rect x="244.2" y="1470.5" width="18.6" height="22.6" rx="3" ry="3"/>
<rect x="381.3" y="1466.5" width="18.6" height="22.6" rx="3" ry="3"/>
<rect x="289.0" y="1482.7" width="18.6" height="22.6" rx="3" ry="3"/>
<rect x="342.5" y="1492.9" width="18.6" height="22.6" rx="3" ry="3"/>
<rect x="408.3" y="1488.4" width="18.6" height="22.6" rx="3" ry="3"/>
<rect x="200.2" y="1495.9" width="18.6" height="22.6" rx="3" ry="3"/>
<rect x="372.6" y="1510.3" width="18.6" height="22.6" rx="3" ry="3"/>
<rect x="311.7" y="1509.1" width="18.6" height="22.6" rx="3" ry="3"/>
<rect x="237.5" y="1515.8" width="18.6" height="22.6" rx="3" ry="3"/>
<rect x="281.0" y="1528.2" width="18.6" height="22.6" rx="3" ry="3"/>
<rect x="184.7" y="1537.4" width="18.6" height="22.6" rx="3" ry="3"/>
<rect x="338.8" y="1536.2" width="18.6" height="22.6" rx="3" ry="3"/>
<rect x="394.3" y="1536.2" width="18.6" height="22.6" rx="3" ry="3"/>
<rect x="132.5" y="1552.4" width="18.6" height="22.6" rx="3" ry="3"/>
<rect x="291.7" y="1554.9" width="18.6" height="22.6" rx="3" ry="3"/>
<rect x="229.5" y="1557.6" width="18.6" height="22.6" rx="3" ry="3"/>
<rect x="370.1" y="1561.1" width="18.6" height="22.6" rx="3" ry="3"/>
<rect x="272.3" y="1576.7" width="18.6" height="22.6" rx="3" ry="3"/>
<rect x="326.6" y="1578.0" width="18.6" height="22.6" rx="3" ry="3"/>
<rect x="172.1" y="1594.2" width="18.6" height="22.6" rx="3" ry="3"/>
<rect x="372.6" y="1597.4" width="18.6" height="22.6" rx="3" ry="3"/>
<rect x="251.2" y="1598.6" width="18.6" height="22.6" rx="3" ry="3"/>
<rect x="416.8" y="1610.3" width="18.6" height="22.6" rx="3" ry="3"/>
<rect x="223.3" y="1620.7" width="18.6" height="22.6" rx="3" ry="3"/>
<rect x="277.0" y="1622.9" width="18.6" height="22.6" rx="3" ry="3"/>
<rect x="335.3" y="1617.7" width="18.6" height="22.6" rx="3" ry="3"/>
<rect x="455.4" y="1478.5" width="18.6" height="22.6" rx="3" ry="3"/>
<rect x="442.5" y="1527.7" width="18.6" height="22.6" rx="3" ry="3"/>
<rect x="429.8" y="1569.3" width="18.6" height="22.6" rx="3" ry="3"/>
<rect x="1113.5" y="1461.8" width="18.6" height="22.6" rx="3" ry="3"/>
<rect x="1053.7" y="1467.8" width="18.6" height="22.6" rx="3" ry="3"/>
<rect x="1002.7" y="1481.4" width="18.6" height="22.6" rx="3" ry="3"/>
<rect x="1165.0" y="1485.2" width="18.6" height="22.6" rx="3" ry="3"/>
<rect x="1078.6" y="1488.9" width="18.6" height="22.6" rx="3" ry="3"/>
<rect x="1125.9" y="1503.3" width="18.6" height="22.6" rx="3" ry="3"/>
<rect x="969.5" y="1508.3" width="18.6" height="22.6" rx="3" ry="3"/>
<rect x="1024.4" y="1507.8" width="18.6" height="22.6" rx="3" ry="3"/>
<rect x="1082.4" y="1517.0" width="18.6" height="22.6" rx="3" ry="3"/>
<rect x="1173.9" y="1516.5" width="18.6" height="22.6" rx="3" ry="3"/>
<rect x="1040.1" y="1532.7" width="18.6" height="22.6" rx="3" ry="3"/>
<rect x="1212.2" y="1533.9" width="18.6" height="22.6" rx="3" ry="3"/>
<rect x="1135.8" y="1539.4" width="18.6" height="22.6" rx="3" ry="3"/>
<rect x="991.9" y="1549.9" width="18.6" height="22.6" rx="3" ry="3"/>
<rect x="1076.6" y="1552.4" width="18.6" height="22.6" rx="3" ry="3"/>
<rect x="1030.8" y="1570.5" width="18.6" height="22.6" rx="3" ry="3"/>
<rect x="1129.6" y="1569.3" width="18.6" height="22.6" rx="3" ry="3"/>
<rect x="1246.1" y="1569.8" width="18.6" height="22.6" rx="3" ry="3"/>
<rect x="1187.6" y="1584.2" width="18.6" height="22.6" rx="3" ry="3"/>
<rect x="1071.9" y="1588.7" width="18.6" height="22.6" rx="3" ry="3"/>
<rect x="1004.1" y="1592.4" width="18.6" height="22.6" rx="3" ry="3"/>
<rect x="1129.6" y="1599.9" width="18.6" height="22.6" rx="3" ry="3"/>
<rect x="1039.6" y="1618.6" width="18.6" height="22.6" rx="3" ry="3"/>
<rect x="1097.5" y="1623.5" width="18.6" height="22.6" rx="3" ry="3"/>
<rect x="1167.4" y="1619.9" width="18.6" height="22.6" rx="3" ry="3"/>
<rect x="952.0" y="1468.0" width="18.6" height="22.6" rx="3" ry="3"/>
<rect x="247.5" y="1646.8" width="18.6" height="22.6" rx="3" ry="3"/>
<rect x="312.1" y="1649.3" width="18.6" height="22.6" rx="3" ry="3"/>
<rect x="376.8" y="1647.3" width="18.6" height="22.6" rx="3" ry="3"/>
<rect x="181.0" y="1656.7" width="18.6" height="22.6" rx="3" ry="3"/>
<rect x="221.8" y="1671.7" width="18.6" height="22.6" rx="3" ry="3"/>
<rect x="337.5" y="1675.9" width="18.6" height="22.6" rx="3" ry="3"/>
<rect x="272.3" y="1681.6" width="18.6" height="22.6" rx="3" ry="3"/>
<rect x="400.9" y="1682.6" width="18.6" height="22.6" rx="3" ry="3"/>
<rect x="133.7" y="1694.5" width="18.6" height="22.6" rx="3" ry="3"/>
<rect x="302.9" y="1700.8" width="18.6" height="22.6" rx="3" ry="3"/>
<rect x="373.1" y="1705.7" width="18.6" height="22.6" rx="3" ry="3"/>
<rect x="195.9" y="1707.7" width="18.6" height="22.6" rx="3" ry="3"/>
<rect x="248.2" y="1712.7" width="18.6" height="22.6" rx="3" ry="3"/>
<rect x="337.0" y="1725.6" width="18.6" height="22.6" rx="3" ry="3"/>
<rect x="401.8" y="1732.1" width="18.6" height="22.6" rx="3" ry="3"/>
<rect x="269.8" y="1736.8" width="18.6" height="22.6" rx="3" ry="3"/>
<rect x="329.6" y="1753.8" width="18.6" height="22.6" rx="3" ry="3"/>
<rect x="191.5" y="1757.5" width="18.6" height="22.6" rx="3" ry="3"/>
<rect x="236.8" y="1758.0" width="18.6" height="22.6" rx="3" ry="3"/>
<rect x="397.7" y="1760.0" width="18.6" height="22.6" rx="3" ry="3"/>
<rect x="272.3" y="1772.2" width="18.6" height="22.6" rx="3" ry="3"/>
<rect x="350.2" y="1779.1" width="18.6" height="22.6" rx="3" ry="3"/>
<rect x="426.0" y="1784.9" width="18.6" height="22.6" rx="3" ry="3"/>
<rect x="426.0" y="1657.2" width="18.6" height="22.6" rx="3" ry="3"/>
<rect x="439.2" y="1713.2" width="18.6" height="22.6" rx="3" ry="3"/>
<rect x="459.9" y="1764.2" width="18.6" height="22.6" rx="3" ry="3"/>
<rect x="476.5" y="1800.2" width="18.6" height="22.6" rx="3" ry="3"/>
<rect x="411.8" y="1806.3" width="18.6" height="22.6" rx="3" ry="3"/>
<rect x="304.3" y="1797.0" width="18.6" height="22.6" rx="3" ry="3"/>
<rect x="352.0" y="1805.3" width="18.6" height="22.6" rx="3" ry="3"/>
<rect x="227.6" y="1812.3" width="18.6" height="22.6" rx="3" ry="3"/>
<rect x="1001.3" y="1639.1" width="18.6" height="22.6" rx="3" ry="3"/>
<rect x="1061.2" y="1644.3" width="18.6" height="22.6" rx="3" ry="3"/>
<rect x="1126.6" y="1645.3" width="18.6" height="22.6" rx="3" ry="3"/>
<rect x="1181.9" y="1653.5" width="18.6" height="22.6" rx="3" ry="3"/>
<rect x="1226.7" y="1632.8" width="18.6" height="22.6" rx="3" ry="3"/>
<rect x="1037.6" y="1668.9" width="18.6" height="22.6" rx="3" ry="3"/>
<rect x="1112.2" y="1672.1" width="18.6" height="22.6" rx="3" ry="3"/>
<rect x="997.7" y="1684.6" width="18.6" height="22.6" rx="3" ry="3"/>
<rect x="1168.7" y="1688.8" width="18.6" height="22.6" rx="3" ry="3"/>
<rect x="1244.6" y="1692.8" width="18.6" height="22.6" rx="3" ry="3"/>
<rect x="1062.9" y="1693.3" width="18.6" height="22.6" rx="3" ry="3"/>
<rect x="1118.9" y="1706.5" width="18.6" height="22.6" rx="3" ry="3"/>
<rect x="1017.7" y="1709.0" width="18.6" height="22.6" rx="3" ry="3"/>
<rect x="1197.6" y="1712.0" width="18.6" height="22.6" rx="3" ry="3"/>
<rect x="970.2" y="1724.7" width="18.6" height="22.6" rx="3" ry="3"/>
<rect x="1066.7" y="1723.9" width="18.6" height="22.6" rx="3" ry="3"/>
<rect x="1163.7" y="1729.4" width="18.6" height="22.6" rx="3" ry="3"/>
<rect x="1013.4" y="1740.6" width="18.6" height="22.6" rx="3" ry="3"/>
<rect x="1111.5" y="1739.8" width="18.6" height="22.6" rx="3" ry="3"/>
<rect x="1202.5" y="1761.2" width="18.6" height="22.6" rx="3" ry="3"/>
<rect x="1065.4" y="1752.5" width="18.6" height="22.6" rx="3" ry="3"/>
<rect x="977.7" y="1760.2" width="18.6" height="22.6" rx="3" ry="3"/>
<rect x="1111.5" y="1766.2" width="18.6" height="22.6" rx="3" ry="3"/>
<rect x="1037.1" y="1772.2" width="18.6" height="22.6" rx="3" ry="3"/>
<rect x="1153.8" y="1779.9" width="18.6" height="22.6" rx="3" ry="3"/>
<rect x="1000.1" y="1793.1" width="18.6" height="22.6" rx="3" ry="3"/>
<rect x="1073.6" y="1790.7" width="18.6" height="22.6" rx="3" ry="3"/>
<rect x="941.5" y="1779.9" width="18.6" height="22.6" rx="3" ry="3"/>
<rect x="271.1" y="1824.3" width="18.6" height="22.6" rx="3" ry="3"/>
<rect x="316.4" y="1837.2" width="18.6" height="22.6" rx="3" ry="3"/>
<rect x="407.1" y="1836.0" width="18.6" height="22.6" rx="3" ry="3"/>
<rect x="361.9" y="1847.2" width="18.6" height="22.6" rx="3" ry="3"/>
<rect x="187.7" y="1855.9" width="18.6" height="22.6" rx="3" ry="3"/>
<rect x="292.2" y="1880.3" width="18.6" height="22.6" rx="3" ry="3"/>
<rect x="353.7" y="1874.5" width="18.6" height="22.6" rx="3" ry="3"/>
<rect x="408.4" y="1882.0" width="18.6" height="22.6" rx="3" ry="3"/>
<rect x="350.7" y="1898.7" width="18.6" height="22.6" rx="3" ry="3"/>
<rect x="254.9" y="1907.4" width="18.6" height="22.6" rx="3" ry="3"/>
<rect x="411.7" y="1911.2" width="18.6" height="22.6" rx="3" ry="3"/>
<rect x="355.7" y="1925.1" width="18.6" height="22.6" rx="3" ry="3"/>
<rect x="301.4" y="1930.0" width="18.6" height="22.6" rx="3" ry="3"/>
<rect x="405.2" y="1948.7" width="18.6" height="22.6" rx="3" ry="3"/>
<rect x="347.5" y="1971.0" width="18.6" height="22.6" rx="3" ry="3"/>
<rect x="277.8" y="1985.7" width="18.6" height="22.6" rx="3" ry="3"/>
<rect x="458.4" y="1829.3" width="18.6" height="22.6" rx="3" ry="3"/>
<rect x="515.6" y="1827.3" width="18.6" height="22.6" rx="3" ry="3"/>
<rect x="440.0" y="1860.9" width="18.6" height="22.6" rx="3" ry="3"/>
<rect x="494.7" y="1860.4" width="18.6" height="22.6" rx="3" ry="3"/>
<rect x="547.0" y="1858.4" width="18.6" height="22.6" rx="3" ry="3"/>
<rect x="476.5" y="1885.7" width="18.6" height="22.6" rx="3" ry="3"/>
<rect x="530.5" y="1887.7" width="18.6" height="22.6" rx="3" ry="3"/>
<rect x="591.7" y="1882.0" width="18.6" height="22.6" rx="3" ry="3"/>
<rect x="646.5" y="1903.7" width="18.6" height="22.6" rx="3" ry="3"/>
<rect x="558.2" y="1910.6" width="18.6" height="22.6" rx="3" ry="3"/>
<rect x="608.9" y="1918.8" width="18.6" height="22.6" rx="3" ry="3"/>
<rect x="688.7" y="1918.9" width="18.6" height="22.6" rx="3" ry="3"/>
<rect x="468.6" y="1921.8" width="18.6" height="22.6" rx="3" ry="3"/>
<rect x="520.8" y="1927.5" width="18.6" height="22.6" rx="3" ry="3"/>
<rect x="581.5" y="1943.5" width="18.6" height="22.6" rx="3" ry="3"/>
<rect x="637.8" y="1947.2" width="18.6" height="22.6" rx="3" ry="3"/>
<rect x="528.8" y="1951.7" width="18.6" height="22.6" rx="3" ry="3"/>
<rect x="461.1" y="1956.7" width="18.6" height="22.6" rx="3" ry="3"/>
<rect x="602.4" y="1969.5" width="18.6" height="22.6" rx="3" ry="3"/>
<rect x="693.2" y="1973.2" width="18.6" height="22.6" rx="3" ry="3"/>
<rect x="500.7" y="1979.1" width="18.6" height="22.6" rx="3" ry="3"/>
<rect x="439.3" y="1983.6" width="18.6" height="22.6" rx="3" ry="3"/>
<rect x="559.5" y="1987.5" width="18.6" height="22.6" rx="3" ry="3"/>
<rect x="954.4" y="1815.6" width="18.6" height="22.6" rx="3" ry="3"/>
<rect x="905.2" y="1823.5" width="18.6" height="22.6" rx="3" ry="3"/>
<rect x="981.7" y="1835.2" width="18.6" height="22.6" rx="3" ry="3"/>
<rect x="873.6" y="1856.4" width="18.6" height="22.6" rx="3" ry="3"/>
<rect x="922.1" y="1864.1" width="18.6" height="22.6" rx="3" ry="3"/>
<rect x="991.0" y="1873.0" width="18.6" height="22.6" rx="3" ry="3"/>
<rect x="831.8" y="1884.5" width="18.6" height="22.6" rx="3" ry="3"/>
<rect x="944.5" y="1889.0" width="18.6" height="22.6" rx="3" ry="3"/>
<rect x="784.0" y="1900.2" width="18.6" height="22.6" rx="3" ry="3"/>
<rect x="729.8" y="1905.1" width="18.6" height="22.6" rx="3" ry="3"/>
<rect x="891.7" y="1900.7" width="18.6" height="22.6" rx="3" ry="3"/>
<rect x="974.5" y="1911.1" width="18.6" height="22.6" rx="3" ry="3"/>
<rect x="844.5" y="1918.8" width="18.6" height="22.6" rx="3" ry="3"/>
<rect x="924.6" y="1921.1" width="18.6" height="22.6" rx="3" ry="3"/>
<rect x="739.7" y="1933.8" width="18.6" height="22.6" rx="3" ry="3"/>
<rect x="796.9" y="1931.3" width="18.6" height="22.6" rx="3" ry="3"/>
<rect x="873.1" y="1942.2" width="18.6" height="22.6" rx="3" ry="3"/>
<rect x="1006.0" y="1935.7" width="18.6" height="22.6" rx="3" ry="3"/>
<rect x="743.0" y="1959.1" width="18.6" height="22.6" rx="3" ry="3"/>
<rect x="814.4" y="1956.7" width="18.6" height="22.6" rx="3" ry="3"/>
<rect x="917.1" y="1961.6" width="18.6" height="22.6" rx="3" ry="3"/>
<rect x="967.7" y="1970.2" width="18.6" height="22.6" rx="3" ry="3"/>
<rect x="857.8" y="1974.8" width="18.6" height="22.6" rx="3" ry="3"/>
<rect x="795.6" y="1983.4" width="18.6" height="22.6" rx="3" ry="3"/>
<rect x="743.7" y="1986.7" width="18.6" height="22.6" rx="3" ry="3"/>
<rect x="1023.9" y="1813.1" width="18.6" height="22.6" rx="3" ry="3"/>
<rect x="1100.4" y="1807.5" width="18.6" height="22.6" rx="3" ry="3"/>
<rect x="1143.3" y="1827.3" width="18.6" height="22.6" rx="3" ry="3"/>
<rect x="1059.5" y="1831.0" width="18.6" height="22.6" rx="3" ry="3"/>
<rect x="1206.8" y="1839.2" width="18.6" height="22.6" rx="3" ry="3"/>
<rect x="1024.4" y="1849.7" width="18.6" height="22.6" rx="3" ry="3"/>
<rect x="1089.8" y="1855.4" width="18.6" height="22.6" rx="3" ry="3"/>
<rect x="1160.7" y="1855.4" width="18.6" height="22.6" rx="3" ry="3"/>
<rect x="1053.0" y="1877.0" width="18.6" height="22.6" rx="3" ry="3"/>
<rect x="1116.7" y="1885.7" width="18.6" height="22.6" rx="3" ry="3"/>
<rect x="1036.3" y="1903.7" width="18.6" height="22.6" rx="3" ry="3"/>
<rect x="1090.3" y="1911.1" width="18.6" height="22.6" rx="3" ry="3"/>
<rect x="1150.3" y="1905.6" width="18.6" height="22.6" rx="3" ry="3"/>
<rect x="1062.4" y="1955.9" width="18.6" height="22.6" rx="3" ry="3"/>
<rect x="1116.7" y="1969.1" width="18.6" height="22.6" rx="3" ry="3"/>
<rect x="1022.6" y="1975.5" width="18.6" height="22.6" rx="3" ry="3"/>
<rect x="387.3" y="1996.1" width="18.6" height="22.6" rx="3" ry="3"/>
<rect x="477.5" y="2008.0" width="18.6" height="22.6" rx="3" ry="3"/>
<rect x="351.2" y="2029.7" width="18.6" height="22.6" rx="3" ry="3"/>
<rect x="413.9" y="2038.4" width="18.6" height="22.6" rx="3" ry="3"/>
<rect x="504.9" y="2040.9" width="18.6" height="22.6" rx="3" ry="3"/>
<rect x="468.7" y="2062.8" width="18.6" height="22.6" rx="3" ry="3"/>
<rect x="413.4" y="2108.0" width="18.6" height="22.6" rx="3" ry="3"/>
<rect x="636.2" y="1995.6" width="18.6" height="22.6" rx="3" ry="3"/>
<rect x="693.9" y="2001.8" width="18.6" height="22.6" rx="3" ry="3"/>
<rect x="776.7" y="2008.5" width="18.6" height="22.6" rx="3" ry="3"/>
<rect x="588.9" y="2016.0" width="18.6" height="22.6" rx="3" ry="3"/>
<rect x="541.6" y="2022.9" width="18.6" height="22.6" rx="3" ry="3"/>
<rect x="644.9" y="2025.9" width="18.6" height="22.6" rx="3" ry="3"/>
<rect x="711.6" y="2025.9" width="18.6" height="22.6" rx="3" ry="3"/>
<rect x="759.1" y="2036.2" width="18.6" height="22.6" rx="3" ry="3"/>
<rect x="598.1" y="2043.3" width="18.6" height="22.6" rx="3" ry="3"/>
<rect x="677.2" y="2057.5" width="18.6" height="22.6" rx="3" ry="3"/>
<rect x="727.5" y="2058.3" width="18.6" height="22.6" rx="3" ry="3"/>
<rect x="568.5" y="2064.0" width="18.6" height="22.6" rx="3" ry="3"/>
<rect x="765.6" y="2072.0" width="18.6" height="22.6" rx="3" ry="3"/>
<rect x="521.7" y="2076.4" width="18.6" height="22.6" rx="3" ry="3"/>
<rect x="637.9" y="2075.2" width="18.6" height="22.6" rx="3" ry="3"/>
<rect x="731.2" y="2090.6" width="18.6" height="22.6" rx="3" ry="3"/>
<rect x="551.1" y="2099.3" width="18.6" height="22.6" rx="3" ry="3"/>
<rect x="601.8" y="2101.3" width="18.6" height="22.6" rx="3" ry="3"/>
<rect x="690.2" y="2105.1" width="18.6" height="22.6" rx="3" ry="3"/>
<rect x="511.8" y="2121.0" width="18.6" height="22.6" rx="3" ry="3"/>
<rect x="648.6" y="2117.5" width="18.6" height="22.6" rx="3" ry="3"/>
<rect x="759.3" y="2120.0" width="18.6" height="22.6" rx="3" ry="3"/>
<rect x="625.5" y="2154.1" width="18.6" height="22.6" rx="3" ry="3"/>
<rect x="731.2" y="2147.4" width="18.6" height="22.6" rx="3" ry="3"/>
<rect x="890.0" y="1996.8" width="18.6" height="22.6" rx="3" ry="3"/>
<rect x="947.3" y="1996.1" width="18.6" height="22.6" rx="3" ry="3"/>
<rect x="990.8" y="2008.5" width="18.6" height="22.6" rx="3" ry="3"/>
<rect x="829.1" y="2008.0" width="18.6" height="22.6" rx="3" ry="3"/>
<rect x="1043.6" y="2018.0" width="18.6" height="22.6" rx="3" ry="3"/>
<rect x="917.4" y="2022.9" width="18.6" height="22.6" rx="3" ry="3"/>
<rect x="811.2" y="2041.6" width="18.6" height="22.6" rx="3" ry="3"/>
<rect x="869.4" y="2037.1" width="18.6" height="22.6" rx="3" ry="3"/>
<rect x="959.2" y="2046.6" width="18.6" height="22.6" rx="3" ry="3"/>
<rect x="916.7" y="2065.2" width="18.6" height="22.6" rx="3" ry="3"/>
<rect x="822.1" y="2075.2" width="18.6" height="22.6" rx="3" ry="3"/>
<rect x="862.2" y="2088.1" width="18.6" height="22.6" rx="3" ry="3"/>
<rect x="995.8" y="2086.1" width="18.6" height="22.6" rx="3" ry="3"/>
<rect x="907.5" y="2106.3" width="18.6" height="22.6" rx="3" ry="3"/>
<rect x="801.2" y="2106.8" width="18.6" height="22.6" rx="3" ry="3"/>
<rect x="839.5" y="2145.9" width="18.6" height="22.6" rx="3" ry="3"/>
</g>
<g fill="#36b53c" stroke="#8fd58f" stroke-width="0.7">
<ellipse cx="668.2" cy="1377.7" rx="9.1" ry="9.6"/>
<ellipse cx="718.7" cy="1373.2" rx="9.1" ry="9.6"/>
<ellipse cx="619.7" cy="1391.9" rx="9.1" ry="9.6"/>
<ellipse cx="722.9" cy="1403.1" rx="9.1" ry="9.6"/>
<ellipse cx="676.7" cy="1408.5" rx="9.1" ry="9.6"/>
<ellipse cx="575.4" cy="1416.3" rx="9.1" ry="9.6"/>
<ellipse cx="641.4" cy="1423.7" rx="9.1" ry="9.6"/>
<ellipse cx="609.2" cy="1441.0" rx="9.1" ry="9.6"/>
<ellipse cx="536.4" cy="1448.5" rx="9.1" ry="9.6"/>
<ellipse cx="675.0" cy="1454.5" rx="9.1" ry="9.6"/>
<ellipse cx="768.9" cy="1379.4" rx="9.1" ry="9.6"/>
<ellipse cx="816.4" cy="1395.1" rx="9.1" ry="9.6"/>
<ellipse cx="762.7" cy="1410.5" rx="9.1" ry="9.6"/>
<ellipse cx="797.8" cy="1423.0" rx="9.1" ry="9.6"/>
<ellipse cx="860.5" cy="1419.2" rx="9.1" ry="9.6"/>
<ellipse cx="729.1" cy="1441.4" rx="9.1" ry="9.6"/>
<ellipse cx="898.3" cy="1440.8" rx="9.1" ry="9.6"/>
<ellipse cx="836.1" cy="1449.3" rx="9.1" ry="9.6"/>
<ellipse cx="774.6" cy="1458.0" rx="9.1" ry="9.6"/>
<ellipse cx="630.2" cy="1475.3" rx="9.1" ry="9.6"/>
<ellipse cx="569.2" cy="1482.3" rx="9.1" ry="9.6"/>
<ellipse cx="505.0" cy="1487.3" rx="9.1" ry="9.6"/>
<ellipse cx="679.9" cy="1488.0" rx="9.1" ry="9.6"/>
<ellipse cx="721.6" cy="1492.3" rx="9.1" ry="9.6"/>
<ellipse cx="596.1" cy="1511.7" rx="9.1" ry="9.6"/>
<ellipse cx="640.1" cy="1512.7" rx="9.1" ry="9.6"/>
<ellipse cx="538.1" cy="1516.6" rx="9.1" ry="9.6"/>
<ellipse cx="675.0" cy="1524.1" rx="9.1" ry="9.6"/>
<ellipse cx="482.1" cy="1532.1" rx="9.1" ry="9.6"/>
<ellipse cx="719.9" cy="1534.6" rx="9.1" ry="9.6"/>
<ellipse cx="522.4" cy="1554.5" rx="9.1" ry="9.6"/>
<ellipse cx="563.0" cy="1554.0" rx="9.1" ry="9.6"/>
<ellipse cx="632.6" cy="1551.5" rx="9.1" ry="9.6"/>
<ellipse cx="596.6" cy="1565.2" rx="9.1" ry="9.6"/>
<ellipse cx="685.6" cy="1563.9" rx="9.1" ry="9.6"/>
<ellipse cx="467.9" cy="1581.3" rx="9.1" ry="9.6"/>
<ellipse cx="632.6" cy="1583.1" rx="9.1" ry="9.6"/>
<ellipse cx="508.2" cy="1596.3" rx="9.1" ry="9.6"/>
<ellipse cx="550.5" cy="1592.3" rx="9.1" ry="9.6"/>
<ellipse cx="668.7" cy="1600.0" rx="9.1" ry="9.6"/>
<ellipse cx="717.4" cy="1598.5" rx="9.1" ry="9.6"/>
<ellipse cx="591.6" cy="1610.4" rx="9.1" ry="9.6"/>
<ellipse cx="635.1" cy="1625.4" rx="9.1" ry="9.6"/>
<ellipse cx="464.2" cy="1631.1" rx="9.1" ry="9.6"/>
<ellipse cx="554.8" cy="1631.1" rx="9.1" ry="9.6"/>
<ellipse cx="511.5" cy="1636.0" rx="9.1" ry="9.6"/>
<ellipse cx="679.2" cy="1634.0" rx="9.1" ry="9.6"/>
<ellipse cx="813.2" cy="1477.8" rx="9.1" ry="9.6"/>
<ellipse cx="869.2" cy="1479.3" rx="9.1" ry="9.6"/>
<ellipse cx="922.2" cy="1482.3" rx="9.1" ry="9.6"/>
<ellipse cx="760.5" cy="1492.3" rx="9.1" ry="9.6"/>
<ellipse cx="846.3" cy="1510.2" rx="9.1" ry="9.6"/>
<ellipse cx="801.5" cy="1515.9" rx="9.1" ry="9.6"/>
<ellipse cx="896.1" cy="1518.4" rx="9.1" ry="9.6"/>
<ellipse cx="946.8" cy="1526.6" rx="9.1" ry="9.6"/>
<ellipse cx="765.2" cy="1530.1" rx="9.1" ry="9.6"/>
<ellipse cx="829.9" cy="1550.0" rx="9.1" ry="9.6"/>
<ellipse cx="744.8" cy="1561.4" rx="9.1" ry="9.6"/>
<ellipse cx="865.5" cy="1561.4" rx="9.1" ry="9.6"/>
<ellipse cx="796.5" cy="1569.4" rx="9.1" ry="9.6"/>
<ellipse cx="912.7" cy="1571.9" rx="9.1" ry="9.6"/>
<ellipse cx="961.3" cy="1575.1" rx="9.1" ry="9.6"/>
<ellipse cx="843.6" cy="1593.0" rx="9.1" ry="9.6"/>
<ellipse cx="749.3" cy="1596.0" rx="9.1" ry="9.6"/>
<ellipse cx="797.8" cy="1606.7" rx="9.1" ry="9.6"/>
<ellipse cx="880.9" cy="1610.4" rx="9.1" ry="9.6"/>
<ellipse cx="920.2" cy="1618.5" rx="9.1" ry="9.6"/>
<ellipse cx="966.4" cy="1625.4" rx="9.1" ry="9.6"/>
<ellipse cx="722.2" cy="1633.2" rx="9.1" ry="9.6"/>
<ellipse cx="765.0" cy="1635.5" rx="9.1" ry="9.6"/>
<ellipse cx="827.6" cy="1630.8" rx="9.1" ry="9.6"/>
<ellipse cx="606.0" cy="1650.6" rx="9.1" ry="9.6"/>
<ellipse cx="561.2" cy="1666.0" rx="9.1" ry="9.6"/>
<ellipse cx="653.3" cy="1659.3" rx="9.1" ry="9.6"/>
<ellipse cx="477.6" cy="1677.2" rx="9.1" ry="9.6"/>
<ellipse cx="520.2" cy="1676.5" rx="9.1" ry="9.6"/>
<ellipse cx="685.6" cy="1675.5" rx="9.1" ry="9.6"/>
<ellipse cx="626.9" cy="1691.4" rx="9.1" ry="9.6"/>
<ellipse cx="660.0" cy="1705.8" rx="9.1" ry="9.6"/>
<ellipse cx="566.2" cy="1710.3" rx="9.1" ry="9.6"/>
<ellipse cx="524.4" cy="1714.1" rx="9.1" ry="9.6"/>
<ellipse cx="486.6" cy="1729.5" rx="9.1" ry="9.6"/>
<ellipse cx="610.3" cy="1727.5" rx="9.1" ry="9.6"/>
<ellipse cx="688.1" cy="1727.5" rx="9.1" ry="9.6"/>
<ellipse cx="547.5" cy="1749.4" rx="9.1" ry="9.6"/>
<ellipse cx="590.3" cy="1755.6" rx="9.1" ry="9.6"/>
<ellipse cx="628.4" cy="1766.3" rx="9.1" ry="9.6"/>
<ellipse cx="681.9" cy="1763.1" rx="9.1" ry="9.6"/>
<ellipse cx="512.5" cy="1773.0" rx="9.1" ry="9.6"/>
<ellipse cx="580.4" cy="1789.9" rx="9.1" ry="9.6"/>
<ellipse cx="659.3" cy="1791.2" rx="9.1" ry="9.6"/>
<ellipse cx="710.2" cy="1797.0" rx="9.1" ry="9.6"/>
<ellipse cx="545.9" cy="1810.8" rx="9.1" ry="9.6"/>
<ellipse cx="611.2" cy="1811.2" rx="9.1" ry="9.6"/>
<ellipse cx="875.4" cy="1648.6" rx="9.1" ry="9.6"/>
<ellipse cx="728.1" cy="1664.8" rx="9.1" ry="9.6"/>
<ellipse cx="800.8" cy="1668.5" rx="9.1" ry="9.6"/>
<ellipse cx="917.7" cy="1669.8" rx="9.1" ry="9.6"/>
<ellipse cx="850.5" cy="1680.2" rx="9.1" ry="9.6"/>
<ellipse cx="968.2" cy="1683.4" rx="9.1" ry="9.6"/>
<ellipse cx="761.5" cy="1692.9" rx="9.1" ry="9.6"/>
<ellipse cx="815.0" cy="1710.3" rx="9.1" ry="9.6"/>
<ellipse cx="898.3" cy="1715.0" rx="9.1" ry="9.6"/>
<ellipse cx="849.3" cy="1719.5" rx="9.1" ry="9.6"/>
<ellipse cx="728.1" cy="1720.8" rx="9.1" ry="9.6"/>
<ellipse cx="767.2" cy="1728.2" rx="9.1" ry="9.6"/>
<ellipse cx="797.8" cy="1748.6" rx="9.1" ry="9.6"/>
<ellipse cx="935.1" cy="1746.4" rx="9.1" ry="9.6"/>
<ellipse cx="871.2" cy="1751.9" rx="9.1" ry="9.6"/>
<ellipse cx="725.4" cy="1761.1" rx="9.1" ry="9.6"/>
<ellipse cx="759.7" cy="1781.0" rx="9.1" ry="9.6"/>
<ellipse cx="845.1" cy="1781.2" rx="9.1" ry="9.6"/>
<ellipse cx="906.5" cy="1788.0" rx="9.1" ry="9.6"/>
<ellipse cx="811.5" cy="1809.5" rx="9.1" ry="9.6"/>
<ellipse cx="870.4" cy="1822.9" rx="9.1" ry="9.6"/>
<ellipse cx="772.2" cy="1827.4" rx="9.1" ry="9.6"/>
<ellipse cx="727.4" cy="1834.8" rx="9.1" ry="9.6"/>
<ellipse cx="828.1" cy="1849.8" rx="9.1" ry="9.6"/>
<ellipse cx="780.9" cy="1867.7" rx="9.1" ry="9.6"/>
<ellipse cx="731.1" cy="1875.9" rx="9.1" ry="9.6"/>
<ellipse cx="650.8" cy="1826.1" rx="9.1" ry="9.6"/>
<ellipse cx="687.9" cy="1832.8" rx="9.1" ry="9.6"/>
<ellipse cx="586.1" cy="1840.3" rx="9.1" ry="9.6"/>
<ellipse cx="631.4" cy="1862.2" rx="9.1" ry="9.6"/>
<ellipse cx="680.7" cy="1873.9" rx="9.1" ry="9.6"/>
</g>
<g transform="scale(1,1.2)" text-anchor="middle" font-size="9.8" fill="#404040">
<text x="362.4" y="1022.9">C22orf24</text>
<text x="552.3" y="925.1">AL355607.1</text>
<text x="695.3" y="918.3">AL020994.2</text>
<text x="611.5" y="946.2">MIR133A1HG</text>
<text x="664.5" y="957.3">LINC01257</text>
<text x="447.3" y="961.4">LINC00917</text>
<text x="563.7" y="969.7">Z92544.1</text>
<text x="657.0" y="978.0">AF279873.3</text>
<text x="596.6" y="985.7">AL161452.1</text>
<text x="544.3" y="994.3">LINC02472</text>
<text x="696.6" y="995.0">AC138499.1</text>
<text x="487.8" y="998.8">AC100849.1</text>
<text x="628.4" y="1005.8">AL445490.1</text>
<text x="559.2" y="1015.3">AC107294.2</text>
<text x="678.2" y="1017.4">AC012462.2</text>
<text x="475.9" y="1018.8">AC007861.2</text>
<text x="606.5" y="1026.7">AC109462.2</text>
<text x="515.0" y="1029.8">AC008050.1</text>
<text x="426.1" y="1033.2">AL359649.1</text>
<text x="718.5" y="1029.8">AP001610.3</text>
<text x="670.0" y="1041.7">AC093422.2</text>
<text x="560.5" y="1042.7">AC005906.2</text>
<text x="616.0" y="1048.9">LINC01842</text>
<text x="486.3" y="1049.9">AC012370.2</text>
<text x="438.0" y="1059.8">AC021534.1</text>
<text x="538.6" y="1064.6">AL590004.3</text>
<text x="716.8" y="1056.7">AC079922.2</text>
<text x="816.2" y="926.6">LINC02485</text>
<text x="739.3" y="948.9">AL355803.1</text>
<text x="794.6" y="959.1">HOTTIP</text>
<text x="954.3" y="965.5">AC117500.1</text>
<text x="738.1" y="973.8">AC067956.1</text>
<text x="825.2" y="973.3">HAND2-AS1</text>
<text x="863.0" y="987.1">AC092295.1</text>
<text x="775.9" y="989.2">AL359881.2</text>
<text x="826.9" y="1001.6">AC024587.2</text>
<text x="920.2" y="998.5">LINC01757</text>
<text x="750.5" y="1009.5">LINC00922</text>
<text x="860.5" y="1018.8">AC068014.1</text>
<text x="946.8" y="1020.9">AC073365.1</text>
<text x="799.5" y="1024.7">AC027288.1</text>
<text x="892.1" y="1035.6">AL390838.1</text>
<text x="767.2" y="1042.7">AC069113.2</text>
<text x="831.9" y="1043.3">AC100768.1</text>
<text x="960.0" y="1042.2">LGALSL-DT</text>
<text x="1011.5" y="1051.6">AC021491.3</text>
<text x="907.0" y="1057.2">SACS-AS1</text>
<text x="790.8" y="1061.8">AC107993.1</text>
<text x="852.3" y="1063.0">AC007991.4</text>
<text x="958.8" y="1066.5">AL590483.1</text>
<text x="1067.3" y="1029.8">LINC00240</text>
<text x="1036.0" y="1068.1">AL162632.1</text>
<text x="383.5" y="1072.8">LINC01280</text>
<text x="346.5" y="1090.2">AL049557.1</text>
<text x="259.2" y="1100.8">AC068790.6</text>
<text x="417.0" y="1097.8">AC016642.1</text>
<text x="350.8" y="1117.1">AL035401.1</text>
<text x="309.5" y="1131.1">DLX6-AS1</text>
<text x="400.0" y="1132.8">IL20RB-AS1</text>
<text x="358.8" y="1148.1">AC144450.1</text>
<text x="408.6" y="1164.4">AC011479.4</text>
<text x="277.2" y="1170.9">AC080023.2</text>
<text x="370.0" y="1180.7">AC044810.2</text>
<text x="320.2" y="1187.5">LINC02688</text>
<text x="188.8" y="1194.1">POLH-AS1</text>
<text x="256.8" y="1199.9">FAM135A-AS1</text>
<text x="416.9" y="1201.0">HOXC-AS3</text>
<text x="366.0" y="1208.3">LINC02156</text>
<text x="298.3" y="1214.8">HORMAD2-AS1</text>
<text x="215.7" y="1223.4">LINC00661</text>
<text x="596.1" y="1070.8">LINC02002</text>
<text x="670.7" y="1069.3">LINC00313</text>
<text x="456.0" y="1083.8">LINC00642</text>
<text x="510.2" y="1083.8">PCAT19</text>
<text x="636.9" y="1082.3">BCAR4</text>
<text x="710.2" y="1088.6">ZMIZ1-AS1</text>
<text x="561.7" y="1090.0">MIR5689HG</text>
<text x="607.3" y="1100.4">AC013436.1</text>
<text x="667.5" y="1102.9">AF241728.2</text>
<text x="489.6" y="1104.6">AC114291.1</text>
<text x="571.2" y="1114.5">AC105133.1</text>
<text x="444.8" y="1116.2">AC019209.2</text>
<text x="521.2" y="1124.2">AC007298.1</text>
<text x="628.9" y="1124.2">AP000842.1</text>
<text x="680.4" y="1123.3">AC008060.4</text>
<text x="583.4" y="1139.2">LINC00710</text>
<text x="502.0" y="1142.5">LINC01645</text>
<text x="444.3" y="1147.1">AC007406.3</text>
<text x="547.5" y="1162.6">AC004637.1</text>
<text x="489.1" y="1167.4">AC244035.1</text>
<text x="441.1" y="1184.0">LINC02469</text>
<text x="505.0" y="1192.2">UVRAG-DT</text>
<text x="473.4" y="1207.9">AC011451.3</text>
<text x="430.2" y="1220.0">AC069155.1</text>
<text x="749.8" y="1077.6">AC023347.1</text>
<text x="800.0" y="1086.5">LINC00322</text>
<text x="858.0" y="1084.8">LINC01915</text>
<text x="925.7" y="1082.8">LINC01103</text>
<text x="994.2" y="1088.6">LINC01075</text>
<text x="768.9" y="1103.5">MLIP-AS1</text>
<text x="876.7" y="1103.5">AC027288.3</text>
<text x="946.3" y="1101.8">MRPL23-AS1</text>
<text x="818.7" y="1109.3">AL160313.3</text>
<text x="731.6" y="1115.5">AC008574.1</text>
<text x="846.0" y="1125.9">LINC02354</text>
<text x="907.8" y="1120.5">VLDLR-AS1</text>
<text x="985.1" y="1120.5">HNF1A-AS1</text>
<text x="800.0" y="1134.2">CLMAT3</text>
<text x="928.2" y="1138.8">KRT73-AS1</text>
<text x="1016.5" y="1143.4">GAS8-AS1</text>
<text x="882.4" y="1147.5">AC110058.1</text>
<text x="843.6" y="1151.6">AL034428.1</text>
<text x="967.5" y="1152.7">ZNF582-AS1</text>
<text x="895.8" y="1171.9">AC097487.1</text>
<text x="992.0" y="1173.4">AC008555.5</text>
<text x="937.1" y="1178.2">AC007998.3</text>
<text x="962.5" y="1193.1">AC106779.1</text>
<text x="1005.4" y="1198.3">AC013248.1</text>
<text x="934.4" y="1211.9">AL359881.3</text>
<text x="988.4" y="1217.9">AL121908.1</text>
<text x="1068.0" y="1086.5">AL355075.1</text>
<text x="1029.4" y="1112.2">LINC02254</text>
<text x="1086.2" y="1111.2">LINC02523</text>
<text x="1175.5" y="1112.8">CEROX1</text>
<text x="1101.6" y="1143.9">MEG8</text>
<text x="1142.7" y="1145.0">AC092070.4</text>
<text x="1054.8" y="1156.4">AL021707.7</text>
<text x="1133.5" y="1165.1">AP001107.5</text>
<text x="1102.4" y="1182.8">AC009902.2</text>
<text x="1040.6" y="1184.8">DPP10-AS2</text>
<text x="1170.8" y="1188.1">MIR663AHG</text>
<text x="1100.4" y="1206.8">AC008799.2</text>
<text x="1151.9" y="1210.7">PCAT6</text>
<text x="1229.0" y="1217.3">AC010336.2</text>
<text x="1051.5" y="1215.8">LINC00592</text>
<text x="335.6" y="1231.3">HOXA-AS3</text>
<text x="253.5" y="1238.6">AL136097.2</text>
<text x="390.6" y="1235.2">AC007923.4</text>
<text x="298.3" y="1248.8">AC009262.1</text>
<text x="351.8" y="1257.2">AP002813.1</text>
<text x="417.6" y="1253.5">LINC00678</text>
<text x="209.5" y="1259.8">AC004920.1</text>
<text x="381.9" y="1271.8">GACAT3</text>
<text x="321.0" y="1270.8">LINC01374</text>
<text x="246.8" y="1276.3">LINC00362</text>
<text x="290.3" y="1286.7">LINC02864</text>
<text x="194.0" y="1294.3">AC116317.1</text>
<text x="348.1" y="1293.3">LINC00887</text>
<text x="403.6" y="1293.3">LINC00161</text>
<text x="141.8" y="1306.8">PRKAG2-AS1</text>
<text x="301.0" y="1308.9">AC093599.1</text>
<text x="238.8" y="1311.2">LINC01676</text>
<text x="379.4" y="1314.1">AC010485.1</text>
<text x="281.6" y="1327.1">CHKB-DT</text>
<text x="335.9" y="1328.2">AC103702.2</text>
<text x="181.4" y="1341.7">AC139149.1</text>
<text x="381.9" y="1344.3">AC092162.2</text>
<text x="260.5" y="1345.3">AC068305.2</text>
<text x="426.1" y="1355.1">AC044893.1</text>
<text x="232.6" y="1363.8">HOXC-AS2</text>
<text x="286.3" y="1365.6">LINC00205</text>
<text x="344.6" y="1361.2">AP000561.1</text>
<text x="464.7" y="1245.2">FENDRR</text>
<text x="451.8" y="1286.2">AC008771.1</text>
<text x="439.1" y="1320.9">AL929601.1</text>
<text x="1122.8" y="1231.3">AC011474.1</text>
<text x="1063.0" y="1236.3">LINC02137</text>
<text x="1012.0" y="1247.7">AC005253.1</text>
<text x="1174.3" y="1250.8">LINC02387</text>
<text x="1087.9" y="1253.9">LINC01503</text>
<text x="1135.2" y="1265.9">LINC02470</text>
<text x="978.8" y="1270.1">FLNC-AS1</text>
<text x="1033.7" y="1269.7">AL135923.2</text>
<text x="1091.7" y="1277.3">AC122685.1</text>
<text x="1183.2" y="1276.9">LINC00589</text>
<text x="1049.4" y="1290.4">AL158163.1</text>
<text x="1221.5" y="1291.4">AC138356.3</text>
<text x="1145.1" y="1296.0">AC245164.1</text>
<text x="1001.2" y="1304.8">SNRK-AS1</text>
<text x="1085.9" y="1306.8">AC009525.2</text>
<text x="1040.1" y="1321.9">AP003119.2</text>
<text x="1138.9" y="1320.9">AC008443.6</text>
<text x="1255.4" y="1321.3">AC107375.1</text>
<text x="1196.9" y="1333.3">AC117500.2</text>
<text x="1081.2" y="1337.1">MPPED2-AS1</text>
<text x="1013.4" y="1340.2">OTX2-AS1</text>
<text x="1138.9" y="1346.4">PTPRG-AS1</text>
<text x="1048.9" y="1362.0">AC147651.2</text>
<text x="1106.8" y="1366.1">LINC01820</text>
<text x="1176.7" y="1363.1">EFCAB6-AS1</text>
<text x="961.3" y="1236.5">LHFPL3-AS1</text>
<text x="256.8" y="1385.5">AC011473.3</text>
<text x="321.4" y="1387.6">CRPPA-AS1</text>
<text x="386.1" y="1385.9">AC024619.3</text>
<text x="190.3" y="1393.8">AC108448.1</text>
<text x="231.1" y="1406.2">AC079336.5</text>
<text x="346.8" y="1409.8">ENTPD1-AS1</text>
<text x="281.6" y="1414.5">BX470209.1</text>
<text x="410.2" y="1415.3">AC009229.2</text>
<text x="143.0" y="1425.2">TSPEAR-AS1</text>
<text x="312.2" y="1430.5">LINC01659</text>
<text x="382.4" y="1434.6">AC099552.3</text>
<text x="205.2" y="1436.2">ATXN8OS</text>
<text x="257.5" y="1440.4">AC026785.2</text>
<text x="346.3" y="1451.2">AL354754.1</text>
<text x="411.1" y="1456.6">AC020891.1</text>
<text x="279.1" y="1460.5">FAM3D-AS1</text>
<text x="338.9" y="1474.7">AC023394.2</text>
<text x="200.8" y="1477.8">AC010531.4</text>
<text x="246.1" y="1478.2">DIO3OS</text>
<text x="407.0" y="1479.8">LINC01154</text>
<text x="281.6" y="1490.0">SIRPG-AS1</text>
<text x="359.5" y="1495.8">AC023481.1</text>
<text x="435.3" y="1500.6">FP325330.1</text>
<text x="435.3" y="1394.2">AC011523.1</text>
<text x="448.5" y="1440.8">AC008759.2</text>
<text x="469.2" y="1483.3">THOC7-AS1</text>
<text x="485.8" y="1513.3">ERVH-1</text>
<text x="421.1" y="1518.4">AC129507.4</text>
<text x="313.6" y="1510.7">AC117945.1</text>
<text x="361.3" y="1517.6">LINC02217</text>
<text x="236.9" y="1523.4">LINC01277</text>
<text x="1010.6" y="1379.1">LINC02012</text>
<text x="1070.5" y="1383.4">AC084816.1</text>
<text x="1135.9" y="1384.2">AC022007.1</text>
<text x="1191.2" y="1391.1">LINC00235</text>
<text x="1236.0" y="1373.8">SLC2A1-AS1</text>
<text x="1046.9" y="1403.9">LINC02747</text>
<text x="1121.5" y="1406.6">LINC02744</text>
<text x="1007.0" y="1417.0">AC106038.1</text>
<text x="1178.0" y="1420.5">AC020913.2</text>
<text x="1253.9" y="1423.8">AC068843.1</text>
<text x="1072.2" y="1424.2">AP003059.2</text>
<text x="1128.2" y="1435.2">AF121898.1</text>
<text x="1027.0" y="1437.3">AC093484.4</text>
<text x="1206.9" y="1439.8">LINC00504</text>
<text x="979.5" y="1450.4">AL355999.1</text>
<text x="1076.0" y="1449.8">AL451065.1</text>
<text x="1173.0" y="1454.3">AC011443.1</text>
<text x="1022.7" y="1463.7">AC016168.2</text>
<text x="1120.8" y="1463.0">AL136361.1</text>
<text x="1211.8" y="1480.8">LINC01829</text>
<text x="1074.7" y="1473.6">LINC00844</text>
<text x="987.0" y="1480.0">TSPAN9-IT1</text>
<text x="1120.8" y="1485.0">ZNF503-AS1</text>
<text x="1046.4" y="1490.0">AC093496.1</text>
<text x="1163.1" y="1496.4">TBX18-AS1</text>
<text x="1009.4" y="1507.4">AL031847.1</text>
<text x="1082.9" y="1505.4">AC096576.2</text>
<text x="950.8" y="1496.4">NECTIN1-AS1</text>
<text x="280.4" y="1533.4">AP003469.2</text>
<text x="325.7" y="1544.2">AC048383.1</text>
<text x="416.4" y="1543.2">AL354920.1</text>
<text x="371.2" y="1552.5">AP005233.2</text>
<text x="197.0" y="1559.8">AC015909.3</text>
<text x="301.5" y="1580.1">AC068672.3</text>
<text x="363.0" y="1575.2">AC092634.4</text>
<text x="417.7" y="1581.5">AP000345.2</text>
<text x="360.0" y="1595.4">ZBED3-AS1</text>
<text x="264.2" y="1602.7">DSCAM-AS1</text>
<text x="421.0" y="1605.8">AL590438.1</text>
<text x="365.0" y="1617.4">AC009154.1</text>
<text x="310.7" y="1621.5">AC060814.2</text>
<text x="414.5" y="1637.1">LINC02690</text>
<text x="356.8" y="1655.7">AC020658.3</text>
<text x="287.1" y="1667.9">LINC00658</text>
<text x="467.7" y="1537.6">LINC01091</text>
<text x="524.9" y="1535.9">LINC00905</text>
<text x="449.3" y="1563.9">AC007731.3</text>
<text x="504.0" y="1563.5">PWRN1</text>
<text x="556.3" y="1561.8">AC026320.1</text>
<text x="485.8" y="1584.6">AP001117.1</text>
<text x="539.8" y="1586.2">AL139246.5</text>
<text x="601.0" y="1581.5">LINC02328</text>
<text x="655.8" y="1599.6">AP000446.1</text>
<text x="567.5" y="1605.3">LINC02731</text>
<text x="618.2" y="1612.2">LINC01795</text>
<text x="698.0" y="1612.2">LINC01460</text>
<text x="477.9" y="1614.7">AC011396.2</text>
<text x="530.1" y="1619.4">LNCARSR</text>
<text x="590.8" y="1632.8">LINC02677</text>
<text x="647.1" y="1635.8">AC113386.1</text>
<text x="538.1" y="1639.6">AC010319.3</text>
<text x="470.4" y="1643.8">AC079612.2</text>
<text x="611.7" y="1654.4">AC011498.1</text>
<text x="702.5" y="1657.5">ZFHX2-AS1</text>
<text x="510.0" y="1662.4">AC092809.3</text>
<text x="448.6" y="1666.2">AL160191.1</text>
<text x="568.8" y="1669.4">NMBR-AS1</text>
<text x="963.7" y="1526.2">INTS6-AS1</text>
<text x="914.5" y="1532.8">LINC01391</text>
<text x="991.0" y="1542.5">CYMP-AS1</text>
<text x="882.9" y="1560.2">AC011481.2</text>
<text x="931.4" y="1566.6">LINC01786</text>
<text x="1000.3" y="1574.0">CR559946.1</text>
<text x="841.1" y="1583.6">LINC01531</text>
<text x="953.8" y="1587.3">TMEM108-AS1</text>
<text x="793.3" y="1596.7">LINC00222</text>
<text x="739.1" y="1600.8">AC008667.4</text>
<text x="901.0" y="1597.1">AC096570.2</text>
<text x="983.8" y="1605.8">LINC01822</text>
<text x="853.8" y="1612.2">LINC01775</text>
<text x="933.9" y="1614.1">AC079779.3</text>
<text x="749.0" y="1624.7">AL132819.1</text>
<text x="806.2" y="1622.6">AP001505.1</text>
<text x="882.4" y="1631.7">BX322559.1</text>
<text x="1015.3" y="1626.2">AP000851.2</text>
<text x="752.3" y="1645.8">LINC00511</text>
<text x="823.7" y="1643.8">AC008808.1</text>
<text x="926.4" y="1647.8">AC012150.1</text>
<text x="977.0" y="1655.0">LINC00640</text>
<text x="867.1" y="1658.8">BX640515.1</text>
<text x="804.9" y="1666.0">AC046134.2</text>
<text x="753.0" y="1668.8">FLG-AS1</text>
<text x="1033.2" y="1524.1">C9orf139</text>
<text x="1109.7" y="1519.4">LINC01872</text>
<text x="1152.6" y="1535.9">AL008638.2</text>
<text x="1068.8" y="1539.0">AC113167.1</text>
<text x="1216.1" y="1545.8">AC073352.2</text>
<text x="1033.7" y="1554.6">AC084116.3</text>
<text x="1099.1" y="1559.3">SRGAP3-AS2</text>
<text x="1170.0" y="1559.3">ZNF426-DT</text>
<text x="1062.3" y="1577.3">AC008738.6</text>
<text x="1126.0" y="1584.6">LINC02532</text>
<text x="1045.6" y="1599.6">AL359237.1</text>
<text x="1099.6" y="1605.8">AC034228.1</text>
<text x="1159.6" y="1601.2">AC107959.3</text>
<text x="1071.7" y="1643.1">AC023043.1</text>
<text x="1126.0" y="1654.1">AZIN1-AS1</text>
<text x="1031.9" y="1659.4">AC009133.3</text>
<text x="396.6" y="1676.6">AC092966.1</text>
<text x="486.8" y="1686.5">AC019103.1</text>
<text x="360.5" y="1704.6">AC010624.3</text>
<text x="423.2" y="1711.8">LINC00523</text>
<text x="514.2" y="1713.9">AC104770.1</text>
<text x="478.0" y="1732.2">LINC02128</text>
<text x="422.7" y="1769.8">ZNF793-AS1</text>
<text x="645.5" y="1676.2">AL732437.3</text>
<text x="703.2" y="1681.3">ARRDC3-AS1</text>
<text x="786.0" y="1686.9">Z68323.1</text>
<text x="598.2" y="1693.2">LINC01353</text>
<text x="550.9" y="1698.9">NTM-IT</text>
<text x="654.2" y="1701.4">AC004846.1</text>
<text x="720.9" y="1701.4">LINC00461</text>
<text x="768.4" y="1710.0">LINC01516</text>
<text x="607.4" y="1715.9">AC138761.1</text>
<text x="686.5" y="1727.8">SCN1A-AS1</text>
<text x="736.8" y="1728.4">WT1-AS</text>
<text x="577.8" y="1733.2">AL162408.1</text>
<text x="774.9" y="1739.8">AC138305.1</text>
<text x="531.0" y="1743.5">SNAI3-AS1</text>
<text x="647.2" y="1742.5">AC074389.2</text>
<text x="740.5" y="1755.3">MUC12-AS1</text>
<text x="560.4" y="1762.6">DSCR10</text>
<text x="611.1" y="1764.2">AL022328.1</text>
<text x="699.5" y="1767.4">AL732372.1</text>
<text x="521.1" y="1780.7">AC034213.1</text>
<text x="657.9" y="1777.8">LINC00686</text>
<text x="768.6" y="1779.8">AC108733.1</text>
<text x="634.8" y="1808.3">AC097521.1</text>
<text x="740.5" y="1802.7">LINC00092</text>
<text x="899.3" y="1677.2">AC006942.1</text>
<text x="956.6" y="1676.6">LINC00687</text>
<text x="1000.1" y="1686.9">NRIR</text>
<text x="838.4" y="1686.5">LINC02612</text>
<text x="1052.9" y="1694.8">AC105345.1</text>
<text x="926.7" y="1698.9">LINC02143</text>
<text x="820.5" y="1714.5">LINC01192</text>
<text x="878.7" y="1710.8">AC016553.1</text>
<text x="968.5" y="1718.7">AC079360.1</text>
<text x="926.0" y="1734.2">IGBP1-AS1</text>
<text x="831.4" y="1742.5">AC012301.2</text>
<text x="871.5" y="1753.3">AC108199.1</text>
<text x="1005.1" y="1751.6">AC062028.1</text>
<text x="916.8" y="1768.4">AL138146.2</text>
<text x="810.5" y="1768.8">AL512356.4</text>
<text x="848.8" y="1801.4">OVAAL</text>
</g>
<g transform="scale(1,1.08)" text-anchor="middle" font-size="9.1" fill="#262626" stroke="#262626" stroke-width="0.12">
<text x="668.2" y="1278.2">PRKCQ</text>
<text x="718.7" y="1274.1">CALCR</text>
<text x="619.7" y="1291.4">PTGER2</text>
<text x="722.9" y="1301.8">CXCL6</text>
<text x="676.7" y="1306.8">IL12RB2</text>
<text x="575.4" y="1314.0">SDC3</text>
<text x="641.4" y="1320.8">TAFA4</text>
<text x="609.2" y="1336.9">AVPR2</text>
<text x="536.4" y="1343.8">PPP3CB</text>
<text x="675.0" y="1349.4">GALR3</text>
<text x="768.9" y="1279.8">OXT</text>
<text x="816.4" y="1294.4">NOX1</text>
<text x="762.7" y="1308.6">PPP3R1</text>
<text x="797.8" y="1320.2">OXTR</text>
<text x="860.5" y="1316.7">PRDX1</text>
<text x="729.1" y="1337.2">FGF5</text>
<text x="898.3" y="1336.7">RARB</text>
<text x="836.1" y="1344.5">SEPTIN7</text>
<text x="774.6" y="1352.6">UBR1</text>
<text x="630.2" y="1368.6">KITLG</text>
<text x="569.2" y="1375.1">GDF9</text>
<text x="505.0" y="1379.7">LTBP2</text>
<text x="679.9" y="1380.4">MAP2K2</text>
<text x="721.6" y="1384.4">IL1B</text>
<text x="596.1" y="1402.3">NRG4</text>
<text x="640.1" y="1403.2">FLT4</text>
<text x="538.1" y="1406.9">GIPR</text>
<text x="675.0" y="1413.8">OSMR</text>
<text x="482.1" y="1421.2">LCN9</text>
<text x="719.9" y="1423.5">EDNRB</text>
<text x="522.4" y="1441.9">RXFP3</text>
<text x="563.0" y="1441.5">S1PR1</text>
<text x="632.6" y="1439.2">MUC5AC</text>
<text x="596.6" y="1451.9">CALCA</text>
<text x="685.6" y="1450.6">CXCL12</text>
<text x="467.9" y="1466.8">MODL1</text>
<text x="632.6" y="1468.4">GDF7</text>
<text x="508.2" y="1480.6">SEMA6C</text>
<text x="550.5" y="1476.9">PIK3R1</text>
<text x="668.7" y="1484.1">BPIFC</text>
<text x="717.4" y="1482.7">ACKR2</text>
<text x="591.6" y="1493.7">SHC3</text>
<text x="635.1" y="1507.6">JAK1</text>
<text x="464.2" y="1512.9">RORA</text>
<text x="554.8" y="1512.9">MSR1</text>
<text x="511.5" y="1517.4">CD320</text>
<text x="679.2" y="1515.6">CD247</text>
<text x="813.2" y="1370.9">SCTR</text>
<text x="869.2" y="1372.3">BMPR1B</text>
<text x="922.2" y="1375.1">PTX3</text>
<text x="760.5" y="1384.4">GPHA2</text>
<text x="846.3" y="1400.9">CD209</text>
<text x="801.5" y="1406.2">INHBA</text>
<text x="896.1" y="1408.5">CXCL1</text>
<text x="946.8" y="1416.1">CXCL2</text>
<text x="765.2" y="1419.4">CXCL8</text>
<text x="829.9" y="1437.8">CCL4L2</text>
<text x="744.8" y="1448.3">GFAP</text>
<text x="865.5" y="1448.3">CCL3</text>
<text x="796.5" y="1455.7">C8G</text>
<text x="912.7" y="1458.1">CCL20</text>
<text x="961.3" y="1461.0">CCL3L3</text>
<text x="843.6" y="1477.6">TNFAIP3</text>
<text x="749.3" y="1480.4">IL1A</text>
<text x="797.8" y="1490.3">CCL24</text>
<text x="880.9" y="1493.7">KLKB1</text>
<text x="920.2" y="1501.2">CCL4</text>
<text x="966.4" y="1507.6">LHB</text>
<text x="722.2" y="1514.8">ADM</text>
<text x="765.0" y="1516.9">LCN8</text>
<text x="827.6" y="1512.6">GPR32</text>
<text x="606.0" y="1530.9">BPIFA1</text>
<text x="561.2" y="1545.2">CSH1</text>
<text x="653.3" y="1539.0">FGF3</text>
<text x="477.6" y="1555.6">PSMD10</text>
<text x="520.2" y="1554.9">TAFA2</text>
<text x="685.6" y="1554.0">PSPN</text>
<text x="626.9" y="1568.7">IL20</text>
<text x="660.0" y="1582.0">PAK2</text>
<text x="566.2" y="1586.2">CRABP1</text>
<text x="524.4" y="1589.7">NMB</text>
<text x="486.6" y="1604.0">IL17B</text>
<text x="610.3" y="1602.1">S100A14</text>
<text x="688.1" y="1602.1">LEAP2</text>
<text x="547.5" y="1622.4">UCN3</text>
<text x="590.3" y="1628.1">CRIM1</text>
<text x="628.4" y="1638.1">NPY</text>
<text x="681.9" y="1635.1">BRD8</text>
<text x="512.5" y="1644.3">IL26</text>
<text x="580.4" y="1659.9">DEFB126</text>
<text x="659.3" y="1661.1">FGF22</text>
<text x="710.2" y="1666.5">TNFRSF14</text>
<text x="545.9" y="1679.3">MAVS</text>
<text x="611.2" y="1679.6">NR2C1</text>
<text x="875.4" y="1529.1">GDF15</text>
<text x="728.1" y="1544.1">XCR1</text>
<text x="800.8" y="1547.5">NR2E1</text>
<text x="917.7" y="1548.7">WFDC2</text>
<text x="850.5" y="1558.3">PTGDS</text>
<text x="968.2" y="1561.3">ELN</text>
<text x="761.5" y="1570.1">CRABP2</text>
<text x="815.0" y="1586.2">CKLF</text>
<text x="898.3" y="1590.6">TOR2A</text>
<text x="849.3" y="1594.7">F2RL1</text>
<text x="728.1" y="1595.9">INSL3</text>
<text x="767.2" y="1602.8">GDNF</text>
<text x="797.8" y="1621.7">AVPR1B</text>
<text x="935.1" y="1619.6">IL17RC</text>
<text x="871.2" y="1624.7">PRLH</text>
<text x="725.4" y="1633.2">OGFR</text>
<text x="759.7" y="1651.7">DEFB121</text>
<text x="845.1" y="1651.9">TGFA</text>
<text x="906.5" y="1658.1">SDC4</text>
<text x="811.5" y="1678.1">CCL16</text>
<text x="870.4" y="1690.5">PTGER1</text>
<text x="772.2" y="1694.6">MX2</text>
<text x="727.4" y="1701.5">FYN</text>
<text x="828.1" y="1715.4">SEMA5B</text>
<text x="780.9" y="1731.9">CX3CL1</text>
<text x="731.1" y="1739.5">CTSE</text>
<text x="650.8" y="1693.4">NPPB</text>
<text x="687.9" y="1699.6">CTSL</text>
<text x="586.1" y="1706.6">PIK3R2</text>
<text x="631.4" y="1726.9">NCK1</text>
<text x="680.7" y="1737.7">IL17RA</text>
</g>
</svg>
</body></html>
